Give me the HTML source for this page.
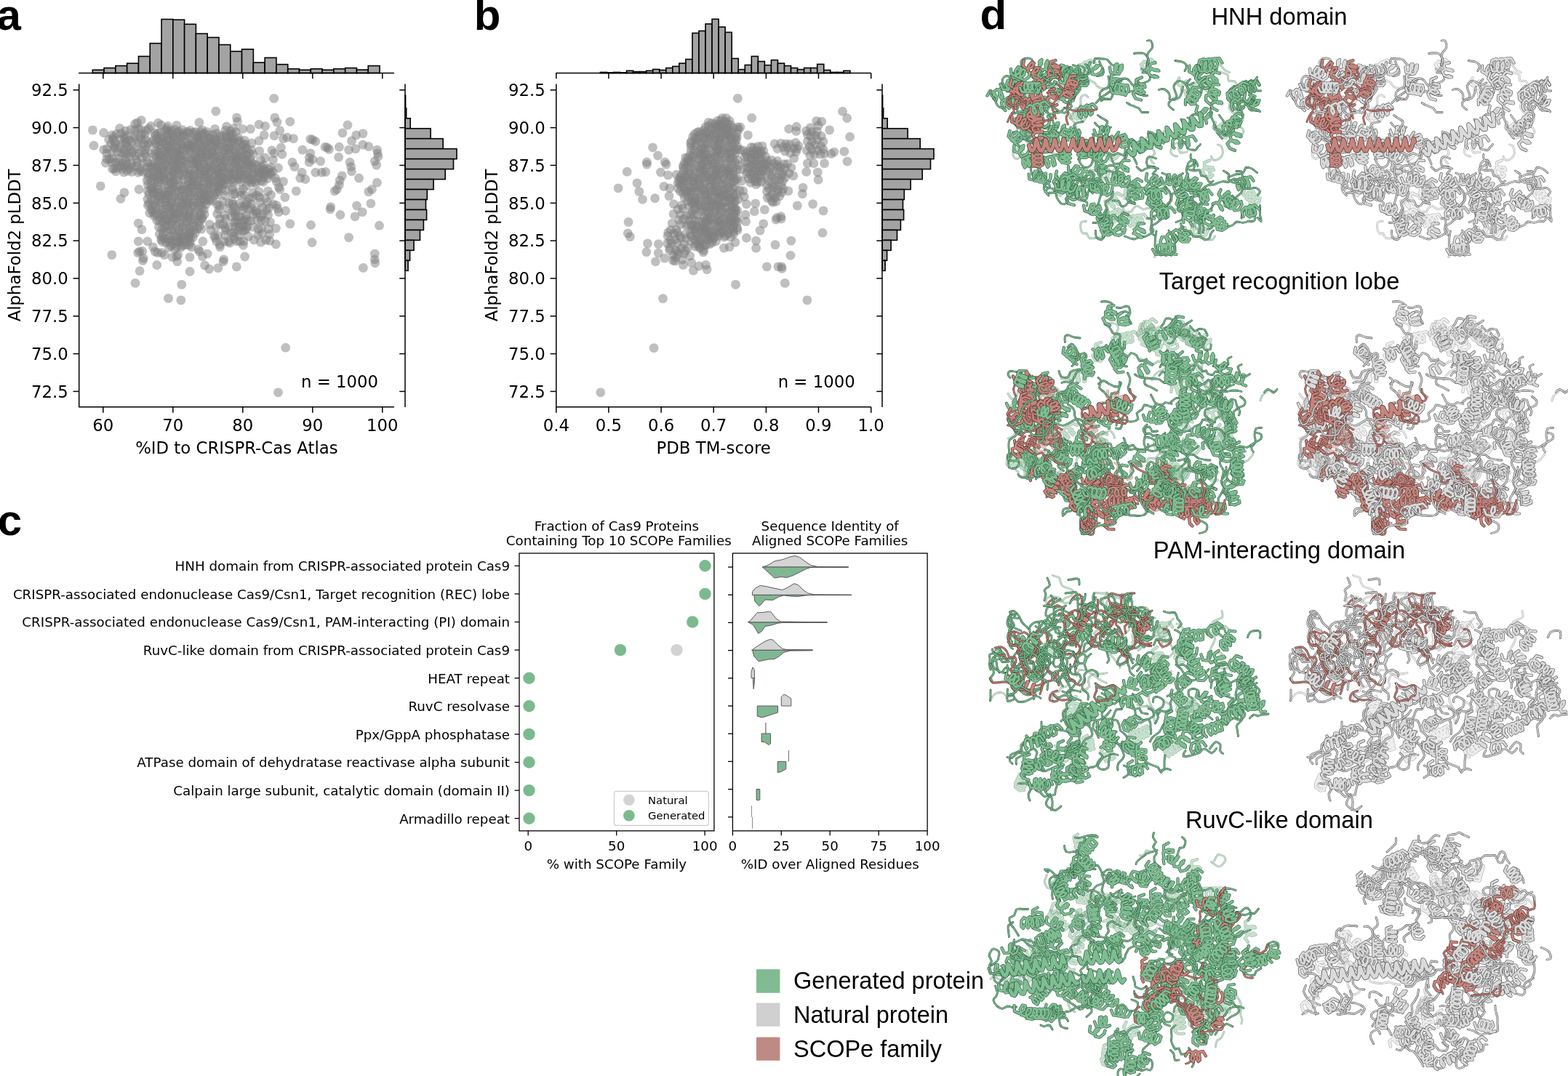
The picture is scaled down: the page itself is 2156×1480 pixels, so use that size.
<!DOCTYPE html>
<html><head><meta charset="utf-8"><title>Figure</title>
<style>html,body{margin:0;padding:0;background:#fff;overflow:hidden;}svg{display:block}.ho{stroke:var(--o);stroke-width:8.4}.hf{stroke:var(--f);stroke-width:5.8}.wo{stroke:var(--o);stroke-width:12.8}.wf{stroke:var(--f);stroke-width:10}.lo{stroke:var(--o);stroke-width:5.6}.lf{stroke:var(--f);stroke-width:3}</style></head>
<body><svg width="2156" height="1480" viewBox="0 0 2156 1480">
<rect width="2156" height="1480" fill="#fff"/>
<text x="-4.4" y="41" style="font-family:'Liberation Sans',Arial,sans-serif;font-weight:bold;font-size:60px">a</text>
<text x="651.8" y="41" style="font-family:'Liberation Sans',Arial,sans-serif;font-weight:bold;font-size:60px">b</text>
<text x="-3.2" y="736" style="font-family:'Liberation Sans',Arial,sans-serif;font-weight:bold;font-size:60px">c</text>
<text x="1347.5" y="40.3" style="font-family:'Liberation Sans',Arial,sans-serif;font-weight:bold;font-size:60px">d</text>
<defs><marker id="m" markerUnits="userSpaceOnUse" markerWidth="14" markerHeight="14" refX="7" refY="7" overflow="visible"><circle cx="7" cy="7" r="6.4" fill="#808080" fill-opacity="0.5"/></marker></defs>
<path d="M220.7 181.7 226.8 178.9 230.5 180.4 234.4 179.6 240.4 178.2 245.4 180.8 251.0 178.7 257.5 181.2 261.6 179.5 268.9 181.3 275.4 181.2 284.4 181.3 309.9 179.4 316.8 180.0 212.5 183.0 216.4 183.8 229.6 186.4 233.5 184.3 237.4 182.8 243.8 183.5 251.1 183.1 253.3 186.2 260.7 183.0 266.2 182.5 271.5 186.3 278.3 185.2 281.3 183.9 286.3 185.5 293.2 185.5 297.7 183.3 305.1 186.4 310.6 185.6 315.9 185.4 318.9 184.5 216.4 190.2 221.1 189.0 224.2 190.2 230.3 190.3 238.2 188.7 241.3 190.9 248.0 187.8 251.0 187.7 259.5 190.3 270.6 189.7 273.5 189.3 286.8 189.7 290.4 190.8 295.5 190.6 302.4 187.9 310.9 189.4 316.4 188.8 321.2 190.7 327.5 188.9 211.0 192.9 218.5 193.8 223.1 194.8 229.9 193.5 234.1 193.8 239.1 194.5 244.2 193.9 249.7 195.5 256.0 195.3 262.4 192.8 266.3 195.5 272.8 192.3 275.3 193.5 280.5 192.7 285.9 194.4 294.2 195.4 297.0 194.6 304.5 192.3 310.8 195.6 313.5 195.6 319.6 193.7 327.4 195.1 329.5 193.5 336.3 193.1 213.8 197.0 219.8 200.1 226.8 197.5 229.5 200.1 236.6 199.2 247.9 198.1 250.8 200.2 258.5 199.6 261.7 199.9 267.0 199.9 273.9 197.8 279.7 200.1 284.0 197.0 290.4 197.4 299.3 197.2 305.8 197.7 317.3 197.2 322.1 196.5 334.5 198.6 337.7 198.3 346.1 196.9 216.4 201.8 221.2 204.5 229.7 203.8 232.8 202.1 238.2 203.0 243.1 202.9 248.9 205.0 257.1 203.3 259.6 205.0 265.3 202.5 269.4 202.6 276.7 203.1 281.0 203.1 285.6 202.2 291.4 202.7 296.6 201.2 303.0 202.0 309.6 203.2 315.6 203.7 320.9 204.6 325.0 202.4 332.8 201.7 337.1 203.7 339.8 204.5 213.3 207.2 218.5 209.1 225.8 208.3 231.4 208.5 236.3 205.8 242.9 208.8 247.1 207.9 253.2 206.1 261.6 206.9 269.6 206.6 275.1 209.7 279.5 207.3 284.8 208.5 291.4 208.3 296.3 206.1 299.7 206.8 307.5 207.0 312.2 205.8 315.6 206.9 323.4 208.6 328.8 207.0 333.6 207.7 345.9 206.6 213.3 212.5 219.0 213.3 221.8 214.1 228.2 210.6 231.6 212.4 238.8 211.7 243.0 211.8 249.1 213.8 253.2 213.5 262.0 211.0 267.7 213.3 273.0 211.6 276.3 212.0 284.2 212.8 287.1 212.2 292.1 210.7 296.8 213.8 303.0 214.2 308.2 211.5 314.7 211.2 319.5 214.3 327.0 213.7 331.3 214.1 338.0 212.7 342.5 210.7 348.0 212.3 215.0 216.7 218.8 215.8 224.4 218.8 230.9 216.0 238.0 219.1 241.5 215.7 245.9 215.5 256.9 216.2 263.6 218.7 269.7 216.8 273.8 217.2 279.0 216.5 283.2 216.3 292.2 215.7 295.7 217.7 305.6 216.1 311.5 216.9 319.1 218.5 324.2 215.2 326.3 218.0 335.1 217.0 339.3 215.1 343.9 218.9 211.0 223.5 218.0 221.0 221.3 220.8 228.8 222.6 232.1 220.1 239.1 222.2 244.0 220.7 250.2 219.9 254.4 221.7 262.5 222.4 267.6 221.7 270.4 220.8 278.7 222.6 281.5 219.9 287.6 222.5 292.7 220.9 299.1 223.5 302.7 220.0 308.6 221.5 315.4 220.6 321.2 222.8 325.4 220.6 332.7 221.1 337.5 220.7 340.5 222.9 346.2 223.6 207.6 226.1 216.3 228.0 221.1 228.5 227.3 225.8 229.7 228.2 237.3 224.6 242.4 226.0 246.6 225.8 251.2 224.5 257.0 225.9 265.1 225.0 270.6 225.3 273.6 227.8 280.8 226.2 289.8 228.2 294.5 226.0 302.7 224.6 306.2 227.7 313.0 224.7 324.4 225.5 329.1 228.1 332.9 225.6 340.8 227.0 343.4 227.4 349.0 225.6 353.1 227.5 362.2 227.0 206.3 231.1 213.7 229.9 218.6 232.1 224.1 232.3 232.9 230.6 240.2 229.5 243.2 232.2 248.8 229.4 253.4 231.4 259.9 233.1 267.6 233.1 270.5 229.5 275.2 231.2 283.1 231.0 286.6 230.8 293.5 231.9 299.4 232.6 304.5 229.7 310.6 230.4 314.9 230.7 321.0 230.0 324.4 230.2 329.4 232.7 336.5 230.5 341.2 233.1 347.1 230.1 353.7 231.8 359.8 229.6 363.1 232.5 370.0 232.8 372.2 230.4 211.2 236.2 216.4 235.3 221.6 235.6 224.6 237.0 232.7 234.3 236.7 236.3 240.6 235.3 245.7 234.7 251.5 236.2 261.4 235.2 273.4 234.7 280.7 236.0 283.2 234.3 289.9 236.1 296.3 234.2 299.8 236.6 306.2 235.0 311.2 237.7 316.6 236.1 322.2 235.5 329.6 237.8 333.0 234.6 342.3 237.5 349.4 237.1 354.8 237.4 360.4 234.5 364.0 236.1 371.9 237.5 375.1 236.3 205.2 239.7 212.1 242.2 215.9 240.5 224.0 242.4 227.0 239.0 235.4 242.4 239.0 238.7 246.1 240.1 251.4 241.0 256.5 239.2 261.8 239.4 265.6 241.9 272.7 239.3 275.7 240.1 282.3 240.1 286.1 239.5 293.9 242.1 296.6 240.8 304.9 238.7 315.0 240.7 320.5 239.8 325.1 240.9 330.5 241.2 336.0 240.3 339.7 241.0 347.0 239.5 353.5 241.6 357.7 239.2 363.1 239.0 367.1 240.3 372.4 240.3 204.0 243.4 209.9 243.5 215.7 246.3 220.2 243.4 225.5 244.7 232.7 243.7 237.8 247.2 242.7 246.5 245.9 247.1 252.5 247.0 259.6 243.9 264.5 246.9 267.0 244.6 275.2 243.8 281.1 244.3 286.2 243.8 290.3 246.9 301.1 244.5 304.7 243.9 310.6 247.0 318.0 246.8 321.4 246.3 326.6 245.3 334.1 244.6 340.4 245.4 344.6 246.7 348.1 247.2 355.6 244.8 361.7 244.3 367.9 245.5 202.2 248.1 207.9 248.9 212.6 251.8 217.8 250.5 222.1 247.9 226.4 248.5 234.1 249.6 239.1 251.5 259.1 249.3 264.9 250.2 271.8 248.7 277.3 249.8 280.8 251.6 286.6 248.5 291.4 250.4 299.9 251.0 303.4 248.9 307.3 250.5 320.6 249.7 341.2 248.8 345.3 251.0 350.5 250.1 359.6 248.5 362.0 250.3 203.2 253.8 207.5 256.1 215.9 255.4 226.5 254.4 231.9 254.4 235.2 253.0 246.5 255.6 253.3 255.9 258.8 253.6 263.5 254.3 269.9 254.7 273.2 255.1 286.4 252.6 289.4 253.5 296.7 256.3 302.1 253.9 308.0 253.9 207.4 260.2 210.3 259.6 216.9 260.5 224.1 260.8 235.3 261.0 237.5 258.1 242.9 257.4 251.2 260.5 255.8 260.5 261.2 258.4 264.4 257.6 272.5 258.1 276.1 258.9 280.3 258.3 286.8 260.1 292.5 258.5 300.3 259.2 305.2 259.7 203.1 262.8 210.1 263.9 213.2 264.5 218.4 265.1 226.3 265.1 231.4 263.3 235.9 263.5 243.3 262.3 248.7 262.0 259.5 263.9 262.8 265.4 267.7 263.8 274.3 264.9 280.5 264.5 284.3 263.2 288.9 265.3 296.4 264.9 299.8 263.7 205.1 267.4 211.6 266.7 217.0 269.8 223.6 268.6 228.8 268.4 232.2 269.0 238.6 269.6 246.1 268.3 250.1 269.6 254.9 267.5 261.5 270.1 267.1 269.4 272.8 269.3 277.4 268.4 281.5 269.1 286.0 268.3 294.2 269.4 298.9 267.6 202.8 274.0 208.9 274.3 213.2 275.2 219.5 271.5 224.6 272.9 229.0 272.9 236.0 274.1 241.1 272.3 246.0 274.2 254.3 273.4 256.8 274.5 267.2 274.4 275.4 273.8 279.4 273.5 283.8 275.1 289.7 273.8 204.7 279.7 215.8 276.5 221.8 279.0 227.6 276.6 235.2 279.1 244.9 279.1 250.5 279.5 256.4 279.3 259.4 278.7 266.1 278.9 271.2 279.5 277.0 277.0 281.2 276.5 287.6 276.2 292.9 276.5 203.4 282.5 209.4 283.7 213.6 282.4 219.8 282.8 226.8 281.8 232.2 282.2 236.3 281.7 241.8 284.5 247.7 283.8 251.8 281.9 257.1 283.0 263.9 283.8 266.9 283.5 275.7 282.8 283.0 281.4 207.9 287.6 213.7 287.1 223.2 289.0 230.1 287.2 233.3 285.7 239.6 286.1 247.8 288.0 253.7 289.2 259.0 288.8 272.3 286.3 277.8 286.0 280.4 288.4 205.7 293.1 209.6 291.1 213.0 293.9 220.9 293.3 224.9 292.4 232.8 293.3 236.7 291.2 241.4 293.5 246.6 292.7 252.9 293.6 261.3 291.0 268.4 292.3 275.4 293.5 211.6 296.7 216.0 294.8 224.8 296.1 234.8 295.3 239.4 296.0 244.5 294.7 248.0 298.6 256.7 296.6 260.9 295.7 267.1 296.3 273.2 297.7 278.1 298.5 281.2 294.8 215.7 303.1 220.8 300.5 225.9 302.4 229.3 300.6 235.4 299.8 241.7 300.0 253.2 299.4 258.8 300.1 261.5 303.0 267.6 303.1 275.6 302.9 278.1 301.1 219.0 304.2 223.7 305.2 230.1 304.1 234.9 305.4 237.6 304.0 245.8 306.1 248.6 305.7 256.9 304.9 264.7 307.1 272.3 304.8 218.4 312.2 227.3 310.7 231.0 310.8 236.5 308.8 243.6 309.6 251.5 311.9 256.0 309.1 266.8 311.1 274.4 310.8 222.6 315.4 226.3 313.9 235.5 316.5 240.8 315.9 245.7 316.9 255.8 314.4 261.3 314.4 266.2 317.0 271.9 314.4 276.9 315.1 219.3 322.0 224.7 321.1 229.6 318.3 237.8 319.8 246.9 321.0 251.0 318.9 259.8 321.0 261.9 319.4 268.1 320.7 222.5 326.3 233.9 324.7 240.7 325.8 244.6 326.7 249.9 324.8 256.0 324.3 260.1 325.1 265.4 326.5 221.5 329.7 226.2 328.2 230.9 329.6 235.4 330.0 241.9 331.4 247.4 329.0 251.0 328.0 259.0 327.8 261.7 328.1 223.1 332.5 228.4 333.6 233.2 332.3 237.5 335.4 243.8 333.0 248.6 333.2 254.2 332.2 261.3 333.4 235.5 338.3 243.4 339.8 248.7 340.2 251.1 337.8 320.3 281.0 332.0 284.0 336.3 283.9 319.9 290.2 324.4 289.9 333.7 288.7 342.2 287.9 323.7 297.4 330.5 298.6 338.6 295.8 324.1 304.9 335.4 303.0 340.7 304.3 323.4 312.4 328.7 311.8 339.3 311.7 327.3 316.9 333.5 317.8 127.4 178.9 142.5 182.5 129.0 200.2 142.5 205.8 146.8 218.6 145.3 224.0 138.3 255.9 170.9 264.9 166.0 273.3 191.1 260.5 192.7 235.0 170.2 236.9 296.8 153.0 194.2 165.4 217.5 169.2 242.9 172.3 273.9 168.5 278.1 178.9 295.5 177.4 311.5 174.0 190.3 307.1 195.0 315.7 190.3 332.0 202.8 332.0 191.9 346.0 197.3 355.3 153.8 350.6 261.0 353.7 274.3 346.0 285.1 349.1 307.7 356.8 289.8 316.5 302.2 283.0 310.0 262.1 320.1 257.4 319.3 277.6 320.9 266.7 153.8 185.9 156.2 188.7 173.3 185.9 170.9 187.8 157.7 200.7 157.4 203.3 176.4 201.5 182.6 207.7 170.2 210.8 177.9 215.5 188.8 201.5 195.0 184.4 201.2 179.7 204.3 176.6 190.3 176.6 191.9 189.0 201.2 201.5 207.4 210.8 154.6 232.5 160.8 231.0 159.3 235.7 168.6 232.5 174.8 226.3 181.0 229.4 188.8 223.2 195.0 217.0 202.8 223.2 221.4 172.0 229.2 176.6 230.7 173.5 213.7 185.9 185.7 170.4 188.8 168.8 207.4 173.5 167.0 198.4 173.3 195.3 181.0 195.3 163.9 223.2 173.3 217.0 185.7 213.9 195.0 207.7 199.7 192.2 207.4 195.3 209.0 229.4 294.5 324.2 297.6 332.0 302.2 336.7 310.0 316.5 317.8 321.1 310.0 300.9 317.8 297.8 322.4 293.1 302.2 300.9 306.9 308.7 288.2 308.7 278.9 332.0 272.7 342.9 263.4 339.8 255.6 336.7 210.5 339.8 216.8 347.5 226.1 350.6 237.0 353.7 244.7 350.6 376.7 135.4 325.5 161.9 326.5 167.3 377.8 161.9 380.9 168.1 398.8 167.3 333.5 177.4 344.4 177.4 356.1 171.2 364.6 173.5 356.1 193.7 363.1 185.9 377.0 186.7 384.8 179.7 389.5 190.6 394.9 189.0 403.5 190.6 429.9 192.2 433.8 194.5 426.8 191.4 450.1 203.0 452.4 205.4 447.0 202.2 466.4 202.2 465.6 216.2 478.0 172.0 471.0 182.8 489.7 185.9 499.0 183.6 483.5 193.7 479.6 206.1 488.9 204.6 499.0 199.1 506.8 201.5 518.4 206.1 519.2 210.8 520.0 215.5 515.3 221.7 517.7 227.1 481.1 223.2 482.7 229.4 483.5 235.7 493.6 245.0 518.4 251.2 511.4 260.5 506.8 263.6 509.9 279.9 490.5 283.0 498.2 291.6 488.1 297.8 467.9 295.5 454.7 284.6 454.0 287.7 463.3 260.5 460.2 262.8 466.4 254.3 467.2 248.1 470.3 241.9 427.5 309.5 429.1 333.5 479.6 326.6 521.5 310.2 515.3 349.1 515.3 356.8 407.3 262.8 398.8 307.9 379.4 335.9 370.8 331.2 369.3 314.9 355.3 314.9 336.6 353.0 335.1 332.0 329.7 332.0 379.4 314.1 371.6 305.6 364.6 304.0 361.5 294.7 353.0 293.1 350.6 290.8 366.2 289.3 392.6 290.0 383.3 291.6 375.5 280.7 380.2 282.3 381.7 286.9 391.8 271.4 384.8 260.5 368.5 262.8 364.6 272.9 356.8 271.4 347.5 271.4 335.9 268.3 330.4 263.6 323.4 266.7 338.2 280.7 338.2 300.9 333.5 305.6 327.3 307.1 336.6 316.5 339.0 314.9 321.1 319.6 321.9 328.9 401.9 223.2 405.0 229.4 415.1 237.2 412.8 245.0 419.8 246.5 415.9 206.1 426.8 210.8 425.2 217.0 429.9 219.3 440.7 221.7 425.2 223.2 433.8 237.2 442.3 237.2 447.7 236.4 389.5 249.6 380.2 249.6 383.3 257.4 378.6 245.0 382.5 231.0 375.5 220.1 377.0 210.8 387.9 212.3 386.4 203.0 373.9 206.9 356.8 207.7 358.4 220.1 364.6 217.0 321.1 176.6 324.2 181.3 189.6 347.6 195.8 345.5 196.4 358.4 192.1 372.7 186.0 389.4 213.1 346.1 222.3 347.6 215.8 364.5 231.5 410.4 248.8 412.9 249.8 391.4 261.1 373.5 243.7 359.8 242.7 352.7 260.0 337.3 278.4 352.7 281.5 364.9 287.6 370.0 299.8 368.6 307.0 359.8 325.3 366.9 334.5 337.3 295.8 327.1 314.1 332.2 515.8 361.8 499.4 368.4 392.7 478.2 382.5 539.8 240.7 342.4 232.5 340.4 164.6 176.5 172.6 179.9 179.9 178.2 185.4 179.1 193.8 178.2 160.3 184.4 166.3 183.3 184.4 186.6 199.3 185.5 149.5 191.9 155.4 191.8 165.6 191.4 171.8 190.7 178.1 193.0 184.4 190.2 194.5 191.3 152.8 197.6 158.5 196.7 173.4 199.4 190.1 197.0 197.5 198.2 203.9 198.3 147.2 204.5 163.4 202.8 171.0 205.9 179.0 205.3 199.7 205.8 146.8 211.2 153.6 209.5 161.1 209.2 166.4 210.5 173.1 211.3 181.4 210.2 190.8 210.7 199.1 211.5 150.4 218.9 154.9 218.4 163.1 218.5 187.2 219.3 201.7 215.9 153.2 223.0 158.8 223.7 168.9 224.3 173.5 222.0 180.9 225.2 196.7 224.7 157.0 231.7 165.5 228.5 170.6 229.1 178.8 231.9 187.5 228.6 192.5 231.7 202.0 230.0 175.4 235.1 181.2 236.4 189.9 237.3 197.1 236.4 203.0 237.3 301.8 238.9 299.2 246.3 307.8 245.5 316.2 243.3 328.8 246.9 300.9 256.3 311.9 252.5 331.1 251.1 339.0 255.5 351.7 253.0 319.6 261.0 334.5 260.1 347.5 264.9 356.1 263.6 310.0 269.2 331.4 268.8 342.6 272.8 352.9 268.8 372.6 268.1 298.9 281.6 306.0 277.1 315.1 279.5 329.3 280.1 339.5 277.6 346.0 280.8 357.9 278.7 368.1 278.3 301.0 287.9 312.6 286.5 321.8 285.0 344.9 285.3 352.7 289.3 361.0 285.5 369.9 285.8 298.6 294.2 308.9 296.2 327.3 297.6 348.4 295.2 358.3 298.2 368.7 295.5 302.1 307.9 321.9 306.2 344.9 303.6 353.5 302.8 359.2 303.1 297.3 312.0 309.6 313.1 314.9 312.0 335.0 311.1 348.7 312.4 359.9 313.9 299.6 324.0 309.4 323.5 321.4 324.8 329.4 323.0 341.5 325.1 354.7 323.4 360.3 321.1 370.6 322.2 308.6 332.1 315.8 334.2 325.3 331.7 349.2 329.9 358.5 333.2 365.7 330.2 302.6 339.6" fill="none" stroke="none" marker-start="url(#m)" marker-mid="url(#m)" marker-end="url(#m)"/>
<path d="M1014.3 135.3 993.0 162.4 986.5 166.1 991.2 165.7 997.1 167.4 1003.2 166.3 974.2 168.3 978.6 169.4 983.7 170.3 987.7 171.9 991.7 171.0 1000.4 170.1 1004.7 172.0 970.0 174.6 974.1 173.2 982.2 174.8 985.9 174.8 992.3 173.6 995.1 175.9 1001.5 175.2 1008.3 176.2 961.5 181.2 968.0 179.0 972.4 180.4 978.9 177.8 983.8 178.7 988.5 178.2 993.2 178.6 998.5 177.3 1003.1 179.5 955.1 184.3 958.8 182.0 964.3 183.3 970.7 183.0 974.8 184.4 981.7 183.2 985.3 184.1 992.8 182.6 998.3 184.7 1001.2 184.5 1006.3 182.1 1013.3 183.3 952.7 188.1 956.5 190.0 961.7 188.4 967.3 189.7 973.2 189.4 977.4 186.6 983.8 188.6 989.5 189.5 992.2 187.3 997.3 189.7 1002.7 186.8 1010.6 188.7 1013.1 189.1 950.7 194.3 958.6 193.1 962.6 195.0 969.0 192.1 974.4 192.0 981.9 193.2 985.8 192.7 989.3 192.2 997.8 194.2 1003.1 192.0 1005.8 191.2 1012.4 192.5 949.5 196.9 956.8 197.2 966.3 198.8 971.7 198.4 979.0 198.0 982.9 199.3 988.2 199.1 991.9 197.3 1005.8 195.9 1010.0 196.3 950.0 200.8 955.6 201.0 965.7 204.0 969.5 202.8 974.2 203.8 984.0 203.0 989.2 203.5 995.5 201.1 1002.0 201.5 1007.2 200.8 1013.9 201.5 950.2 207.0 955.0 206.6 962.8 206.5 967.9 205.2 979.5 208.8 984.9 206.9 987.6 206.2 994.7 206.8 1000.7 205.1 1004.3 208.2 1010.0 206.9 1013.3 205.3 949.1 213.2 953.3 213.1 959.9 209.6 963.9 211.2 968.9 212.3 973.9 212.5 986.0 209.7 991.3 212.5 996.8 211.2 999.8 211.4 1005.4 212.0 1010.8 211.7 945.3 217.3 952.8 215.9 963.4 214.4 967.2 216.1 971.0 215.8 976.5 216.1 983.1 215.4 987.2 215.6 998.0 217.4 1004.3 217.5 1007.7 217.7 946.8 220.1 954.0 219.7 960.8 218.9 964.9 219.5 970.2 221.7 976.0 218.8 979.5 220.9 987.7 218.7 991.5 221.3 1002.9 220.4 1014.0 220.2 941.4 223.7 945.4 223.7 950.1 224.0 955.9 227.0 963.9 226.3 967.1 225.1 973.6 226.8 978.8 225.7 981.9 225.6 989.8 226.3 998.4 223.8 1006.2 225.8 1010.6 223.7 939.4 230.9 943.7 229.5 950.0 230.9 961.1 229.9 966.4 228.2 971.7 230.9 979.4 228.5 985.6 228.7 991.0 231.4 997.1 230.6 1001.2 230.9 1008.1 230.5 940.1 234.7 947.4 235.5 954.7 232.8 963.2 234.0 967.6 234.1 977.2 235.7 983.6 233.5 986.8 233.4 994.5 234.1 999.7 235.5 1002.8 235.0 1007.8 235.6 1013.7 233.4 937.0 240.5 943.8 240.5 948.2 238.9 955.8 238.9 961.2 237.7 965.9 237.6 970.0 236.9 973.9 240.7 980.3 240.1 984.8 238.3 989.5 239.1 997.8 239.0 1001.2 240.6 1008.5 239.6 934.9 244.1 941.2 243.0 946.1 244.2 952.9 243.5 956.1 245.4 960.1 244.8 968.0 243.7 972.3 244.5 979.4 244.4 984.1 241.6 987.7 242.0 995.5 245.1 1004.6 241.7 1009.2 244.5 933.8 247.2 938.2 247.8 945.3 248.7 949.9 248.8 953.5 249.9 960.1 248.8 963.7 246.7 970.2 249.4 976.3 247.5 979.0 248.1 987.3 246.7 992.0 246.8 1000.9 247.6 1008.8 249.9 1011.0 247.3 931.9 251.5 934.7 252.4 939.2 251.7 945.6 252.2 955.4 254.3 961.7 254.0 967.8 253.8 978.8 252.6 983.4 253.4 989.4 251.8 993.2 254.3 999.1 251.8 1004.8 251.7 932.2 259.0 937.1 256.2 941.6 257.5 949.7 258.0 953.6 258.5 957.7 256.5 965.1 259.1 970.4 258.0 976.3 256.8 982.2 258.2 985.1 256.8 995.1 258.7 1001.8 257.3 1007.6 258.9 1010.8 256.6 935.4 263.3 941.4 262.2 945.6 262.1 950.4 263.2 957.8 263.2 960.5 262.5 968.2 261.9 974.1 263.4 978.8 263.1 983.7 263.4 986.9 262.7 994.5 262.3 998.1 260.1 1004.7 263.1 939.3 265.9 944.2 264.7 950.0 265.7 962.8 266.2 970.1 267.7 973.3 267.8 986.3 265.8 990.4 266.7 995.2 267.6 1000.5 267.8 1008.2 266.6 941.2 271.9 946.4 270.6 951.4 271.4 955.5 272.5 963.9 272.2 969.1 270.3 977.7 269.6 982.9 271.8 989.3 270.9 993.1 269.8 998.6 270.2 1003.1 272.0 1009.7 270.8 945.3 276.6 950.5 277.3 954.9 276.5 957.5 274.4 962.6 277.1 970.8 276.1 974.2 275.0 979.1 276.2 987.7 274.8 995.8 277.2 1002.9 275.4 1005.4 274.0 1010.9 276.7 951.6 280.2 955.5 279.2 960.0 281.8 968.1 282.0 974.4 280.0 978.7 279.7 984.4 281.6 987.0 278.3 992.6 280.6 998.5 278.2 1005.6 281.4 947.5 283.8 955.6 284.3 963.1 283.6 969.7 285.1 975.7 285.6 980.2 283.1 986.7 283.0 991.0 284.4 997.1 285.7 1000.6 285.4 1007.7 284.7 1010.8 286.4 951.9 290.4 954.8 287.8 963.8 290.6 965.4 287.6 971.5 291.1 976.7 290.1 984.8 289.9 990.1 288.4 1006.2 290.2 1013.6 289.4 948.9 295.3 954.0 294.5 959.6 295.2 974.8 292.0 981.4 292.1 987.1 295.2 990.9 292.5 997.0 292.8 1001.4 292.4 1008.9 294.2 1011.7 292.4 951.7 300.5 968.0 299.0 972.6 298.4 977.4 299.0 983.7 300.2 989.3 299.8 995.4 299.9 999.9 296.7 1005.0 300.0 1009.3 300.1 1013.6 300.3 947.0 302.9 955.9 303.8 961.0 304.2 965.9 305.1 970.9 302.3 974.2 302.8 978.6 302.1 987.3 304.8 990.4 304.2 997.5 304.7 1002.8 303.3 1005.4 304.5 1011.5 303.7 946.2 309.5 950.9 309.4 957.4 309.6 966.4 309.4 970.6 306.8 978.7 309.7 981.8 307.5 989.2 308.5 994.7 308.8 1002.4 308.5 1008.5 306.8 953.4 310.9 957.7 312.3 966.4 313.1 969.0 313.4 973.9 310.7 986.5 312.1 992.0 310.7 998.1 311.7 1008.3 311.2 1013.7 313.6 952.0 315.7 955.2 315.3 963.8 316.5 967.8 317.2 971.4 315.2 975.9 318.3 981.6 318.8 987.9 317.8 992.3 318.1 998.0 316.4 1004.4 315.4 1008.6 318.1 1014.1 316.5 949.2 321.4 955.4 319.7 959.9 322.9 963.5 319.6 969.6 320.0 975.0 322.4 978.8 320.0 985.7 320.2 990.0 321.3 994.8 319.8 1001.1 321.4 1008.7 321.7 950.3 324.8 958.1 325.0 968.9 326.0 973.4 324.4 977.6 325.4 981.9 326.8 987.9 324.6 995.7 326.0 997.7 324.2 1004.9 326.2 950.5 331.7 955.4 330.2 960.9 329.4 963.5 331.1 971.5 329.0 974.0 328.8 980.2 329.3 984.5 331.7 955.9 334.9 961.3 336.0 965.3 334.8 971.2 336.6 975.8 335.7 955.8 339.0 961.0 339.5 962.8 341.5 968.3 337.9 967.7 344.4 1032.9 202.5 1036.6 202.9 1042.4 201.3 1048.0 200.8 1028.4 208.4 1035.1 208.0 1040.2 207.4 1045.9 208.4 1049.9 207.8 1025.5 211.0 1032.5 212.1 1038.1 212.9 1042.8 210.9 1046.6 211.9 1024.0 215.9 1027.5 215.1 1033.3 217.1 1038.3 215.7 1044.6 217.2 1052.3 215.1 1024.9 222.6 1033.0 220.2 1036.6 221.4 1042.0 221.1 1048.0 220.6 1027.8 224.8 1034.7 226.7 1039.1 226.9 1046.0 225.6 1050.8 225.1 1027.3 231.0 1030.2 229.8 1037.6 230.5 1043.2 230.0 1048.9 231.7 1027.9 236.2 1035.2 236.5 1039.0 234.4 1045.8 235.8 1049.7 234.7 1026.3 239.2 1032.0 239.6 1036.3 240.1 1042.7 241.0 1046.6 241.0 1029.2 245.7 1034.7 246.3 1038.9 244.6 1045.8 244.4 1032.2 251.3 1037.9 249.3 1042.0 250.5 1046.7 250.2 1039.7 253.7 1055.2 221.0 1060.6 220.1 1068.8 221.5 1052.7 227.1 1056.7 225.7 1064.6 225.2 1069.5 226.6 1078.1 225.7 1082.5 225.5 1053.3 232.9 1059.7 230.8 1068.3 230.4 1072.8 230.2 1079.5 231.6 1088.0 230.5 1057.6 236.6 1063.1 236.3 1072.2 235.9 1076.6 237.8 1084.9 238.3 1054.4 244.1 1061.3 242.1 1067.4 243.4 1074.7 241.6 1079.6 244.1 1057.0 248.3 1065.7 247.3 1071.8 247.8 1076.3 249.1 1054.3 254.9 1062.1 254.2 1066.1 254.8 1074.3 255.2 1057.4 259.2 1063.9 258.4 1070.0 260.8 1077.0 260.0 1061.9 266.7 1068.2 266.0 1075.0 264.5 1058.7 270.4 1065.3 271.9 1071.9 269.8 1061.2 276.4 1067.0 277.3 1065.1 197.7 1073.8 197.2 1080.8 198.0 1086.1 198.5 1093.9 196.2 1068.9 204.5 1076.6 202.5 1082.7 203.0 1091.5 204.0 1096.0 204.6 1079.4 208.2 1086.7 210.4 1094.5 209.0 1114.3 175.7 1108.5 180.1 1116.4 181.4 1123.5 180.8 1114.7 187.4 1121.5 186.2 1129.4 187.3 1110.2 194.8 1116.5 194.9 1123.5 192.2 1131.9 194.9 1113.2 201.5 1120.8 199.1 1128.5 201.1 1109.2 207.0 1116.2 206.0 1124.2 206.7 1131.8 205.4 1113.8 213.9 1119.9 212.4 1128.2 212.2 929.9 315.7 918.7 319.8 926.8 321.4 931.4 319.9 942.2 322.3 921.6 330.5 928.4 329.6 936.0 327.4 943.7 328.2 917.5 334.7 923.7 334.4 931.4 334.3 940.3 335.5 920.8 344.3 929.0 344.2 936.9 341.2 945.4 341.0 925.8 351.2 932.6 348.8 940.7 348.7 929.3 354.3 938.4 357.2 926.5 280.7 937.3 282.4 932.1 287.8 938.6 286.6 926.0 294.4 935.8 295.1 943.4 296.7 933.6 302.6 939.8 301.3 935.4 308.5 943.4 310.6 897.5 202.8 904.5 214.0 889.4 223.0 889.4 226.1 914.3 223.0 916.1 226.1 908.4 237.0 918.5 240.9 930.1 240.1 862.2 236.2 850.1 258.8 876.0 251.8 878.8 263.4 883.5 274.3 900.6 272.7 913.0 256.4 920.8 258.8 920.0 269.6 864.1 305.4 863.3 320.9 866.4 325.6 890.5 334.9 888.9 346.6 905.3 335.7 905.3 348.1 901.4 359.8 913.8 355.1 920.8 341.1 925.5 358.2 931.7 345.8 939.4 364.4 953.4 372.2 961.2 366.0 970.5 364.4 972.1 370.6 1003.1 339.6 995.4 341.1 1014.0 174.9 1017.1 205.9 1017.1 261.9 998.5 162.4 942.5 216.8 939.4 227.7 1010.9 333.3 1014.0 305.4 1015.6 274.3 1033.7 162.2 1017.9 175.0 1015.5 178.1 1028.4 185.8 1021.8 206.8 1084.7 177.3 1095.2 174.2 1094.8 180.4 1122.7 166.4 1129.7 167.2 1125.1 172.6 1140.6 178.8 1158.5 153.2 1164.7 162.5 1168.6 188.2 1160.8 208.4 1165.0 222.0 1146.8 209.1 1142.9 211.5 1133.6 224.7 1133.6 211.5 1110.3 185.1 1110.3 224.7 1118.9 224.7 1108.8 236.3 1124.3 237.1 1125.1 247.2 1104.1 258.1 1103.3 266.6 1096.3 282.9 1117.6 280.6 1132.1 289.9 1131.0 320.2 1087.8 331.1 1087.0 351.3 1066.0 336.6 1039.6 331.1 1039.6 341.2 1026.4 327.2 1045.1 317.1 1049.7 307.8 1073.8 297.7 1068.4 299.3 1062.9 278.3 1054.4 263.5 1055.2 272.1 1083.9 262.7 1090.9 241.8 1038.8 279.8 1026.4 280.6 1037.3 290.7 1024.9 295.4 1025.6 304.7 1051.3 288.4 1021.8 262.7 1023.3 270.5 1054.4 366.8 1069.9 366.8 1074.6 366.8 1091.7 217.7 1097.9 200.6 1015.5 227.0 1018.6 233.2 1014.0 245.7 1020.2 248.8 1012.4 267.4 1009.3 279.8 1010.9 289.2 1007.8 314.0 924.2 307.1 922.1 316.3 918.1 324.5 934.4 324.5 928.3 359.2 950.7 361.2 948.7 352.0 967.0 346.9 942.6 344.9 1067.0 302.0 1074.2 301.0 1075.2 369.4 1079.3 389.4 1011.5 391.4 1109.9 412.9 911.5 410.6 899.1 478.6 825.8 539.8 979.3 333.7" fill="none" stroke="none" marker-start="url(#m)" marker-mid="url(#m)" marker-end="url(#m)"/>
<path d="M108.7,115.5 V559.8 H542.0" fill="none" stroke="#000" stroke-width="1.5"/>
<line x1="100.5" y1="123.8" x2="108.7" y2="123.8" stroke="#000" stroke-width="1.5"/>
<text x="93.7" y="132.0" text-anchor="end" style="font-family:'DejaVu Sans',sans-serif;font-size:22.8px">92.5</text>
<line x1="549.3" y1="123.8" x2="557.0" y2="123.8" stroke="#000" stroke-width="1.5"/>
<line x1="100.5" y1="175.6" x2="108.7" y2="175.6" stroke="#000" stroke-width="1.5"/>
<text x="93.7" y="183.8" text-anchor="end" style="font-family:'DejaVu Sans',sans-serif;font-size:22.8px">90.0</text>
<line x1="549.3" y1="175.6" x2="557.0" y2="175.6" stroke="#000" stroke-width="1.5"/>
<line x1="100.5" y1="227.4" x2="108.7" y2="227.4" stroke="#000" stroke-width="1.5"/>
<text x="93.7" y="235.6" text-anchor="end" style="font-family:'DejaVu Sans',sans-serif;font-size:22.8px">87.5</text>
<line x1="549.3" y1="227.4" x2="557.0" y2="227.4" stroke="#000" stroke-width="1.5"/>
<line x1="100.5" y1="279.3" x2="108.7" y2="279.3" stroke="#000" stroke-width="1.5"/>
<text x="93.7" y="287.5" text-anchor="end" style="font-family:'DejaVu Sans',sans-serif;font-size:22.8px">85.0</text>
<line x1="549.3" y1="279.3" x2="557.0" y2="279.3" stroke="#000" stroke-width="1.5"/>
<line x1="100.5" y1="331.1" x2="108.7" y2="331.1" stroke="#000" stroke-width="1.5"/>
<text x="93.7" y="339.3" text-anchor="end" style="font-family:'DejaVu Sans',sans-serif;font-size:22.8px">82.5</text>
<line x1="549.3" y1="331.1" x2="557.0" y2="331.1" stroke="#000" stroke-width="1.5"/>
<line x1="100.5" y1="382.9" x2="108.7" y2="382.9" stroke="#000" stroke-width="1.5"/>
<text x="93.7" y="391.1" text-anchor="end" style="font-family:'DejaVu Sans',sans-serif;font-size:22.8px">80.0</text>
<line x1="549.3" y1="382.9" x2="557.0" y2="382.9" stroke="#000" stroke-width="1.5"/>
<line x1="100.5" y1="434.8" x2="108.7" y2="434.8" stroke="#000" stroke-width="1.5"/>
<text x="93.7" y="442.9" text-anchor="end" style="font-family:'DejaVu Sans',sans-serif;font-size:22.8px">77.5</text>
<line x1="549.3" y1="434.8" x2="557.0" y2="434.8" stroke="#000" stroke-width="1.5"/>
<line x1="100.5" y1="486.6" x2="108.7" y2="486.6" stroke="#000" stroke-width="1.5"/>
<text x="93.7" y="494.8" text-anchor="end" style="font-family:'DejaVu Sans',sans-serif;font-size:22.8px">75.0</text>
<line x1="549.3" y1="486.6" x2="557.0" y2="486.6" stroke="#000" stroke-width="1.5"/>
<line x1="100.5" y1="538.4" x2="108.7" y2="538.4" stroke="#000" stroke-width="1.5"/>
<text x="93.7" y="546.6" text-anchor="end" style="font-family:'DejaVu Sans',sans-serif;font-size:22.8px">72.5</text>
<line x1="549.3" y1="538.4" x2="557.0" y2="538.4" stroke="#000" stroke-width="1.5"/>
<line x1="141.8" y1="559.8" x2="141.8" y2="567.8" stroke="#000" stroke-width="1.5"/>
<text x="141.8" y="593.2" text-anchor="middle" style="font-family:'DejaVu Sans',sans-serif;font-size:22.8px">60</text>
<line x1="141.8" y1="100.5" x2="141.8" y2="108.3" stroke="#000" stroke-width="1.5"/>
<line x1="237.8" y1="559.8" x2="237.8" y2="567.8" stroke="#000" stroke-width="1.5"/>
<text x="237.8" y="593.2" text-anchor="middle" style="font-family:'DejaVu Sans',sans-serif;font-size:22.8px">70</text>
<line x1="237.8" y1="100.5" x2="237.8" y2="108.3" stroke="#000" stroke-width="1.5"/>
<line x1="333.8" y1="559.8" x2="333.8" y2="567.8" stroke="#000" stroke-width="1.5"/>
<text x="333.8" y="593.2" text-anchor="middle" style="font-family:'DejaVu Sans',sans-serif;font-size:22.8px">80</text>
<line x1="333.8" y1="100.5" x2="333.8" y2="108.3" stroke="#000" stroke-width="1.5"/>
<line x1="429.8" y1="559.8" x2="429.8" y2="567.8" stroke="#000" stroke-width="1.5"/>
<text x="429.8" y="593.2" text-anchor="middle" style="font-family:'DejaVu Sans',sans-serif;font-size:22.8px">90</text>
<line x1="429.8" y1="100.5" x2="429.8" y2="108.3" stroke="#000" stroke-width="1.5"/>
<line x1="525.8" y1="559.8" x2="525.8" y2="567.8" stroke="#000" stroke-width="1.5"/>
<text x="525.8" y="593.2" text-anchor="middle" style="font-family:'DejaVu Sans',sans-serif;font-size:22.8px">100</text>
<line x1="525.8" y1="100.5" x2="525.8" y2="108.3" stroke="#000" stroke-width="1.5"/>
<text x="325.4" y="624.2" text-anchor="middle" style="font-family:'DejaVu Sans',sans-serif;font-size:22.8px">%ID to CRISPR-Cas Atlas</text>
<text transform="translate(28.0,337.4) rotate(-90)" text-anchor="middle" style="font-family:'DejaVu Sans',sans-serif;font-size:22.8px">AlphaFold2 pLDDT</text>
<rect x="127.30" y="96.20" width="15.79" height="4.30" fill="#a3a3a3" stroke="#000" stroke-width="1.6"/>
<rect x="143.09" y="93.50" width="15.79" height="7.00" fill="#a3a3a3" stroke="#000" stroke-width="1.6"/>
<rect x="158.88" y="90.50" width="15.79" height="10.00" fill="#a3a3a3" stroke="#000" stroke-width="1.6"/>
<rect x="174.67" y="87.10" width="15.79" height="13.40" fill="#a3a3a3" stroke="#000" stroke-width="1.6"/>
<rect x="190.46" y="77.50" width="15.79" height="23.00" fill="#a3a3a3" stroke="#000" stroke-width="1.6"/>
<rect x="206.25" y="59.60" width="15.79" height="40.90" fill="#a3a3a3" stroke="#000" stroke-width="1.6"/>
<rect x="222.04" y="26.50" width="15.79" height="74.00" fill="#a3a3a3" stroke="#000" stroke-width="1.6"/>
<rect x="237.83" y="27.20" width="15.79" height="73.30" fill="#a3a3a3" stroke="#000" stroke-width="1.6"/>
<rect x="253.62" y="33.30" width="15.79" height="67.20" fill="#a3a3a3" stroke="#000" stroke-width="1.6"/>
<rect x="269.41" y="46.30" width="15.79" height="54.20" fill="#a3a3a3" stroke="#000" stroke-width="1.6"/>
<rect x="285.20" y="51.50" width="15.79" height="49.00" fill="#a3a3a3" stroke="#000" stroke-width="1.6"/>
<rect x="300.99" y="61.50" width="15.79" height="39.00" fill="#a3a3a3" stroke="#000" stroke-width="1.6"/>
<rect x="316.78" y="70.60" width="15.79" height="29.90" fill="#a3a3a3" stroke="#000" stroke-width="1.6"/>
<rect x="332.57" y="67.70" width="15.79" height="32.80" fill="#a3a3a3" stroke="#000" stroke-width="1.6"/>
<rect x="348.36" y="86.00" width="15.79" height="14.50" fill="#a3a3a3" stroke="#000" stroke-width="1.6"/>
<rect x="364.15" y="79.40" width="15.79" height="21.10" fill="#a3a3a3" stroke="#000" stroke-width="1.6"/>
<rect x="379.94" y="88.60" width="15.79" height="11.90" fill="#a3a3a3" stroke="#000" stroke-width="1.6"/>
<rect x="395.73" y="94.70" width="15.79" height="5.80" fill="#a3a3a3" stroke="#000" stroke-width="1.6"/>
<rect x="411.52" y="96.20" width="15.79" height="4.30" fill="#a3a3a3" stroke="#000" stroke-width="1.6"/>
<rect x="427.31" y="94.70" width="15.79" height="5.80" fill="#a3a3a3" stroke="#000" stroke-width="1.6"/>
<rect x="443.10" y="96.20" width="15.79" height="4.30" fill="#a3a3a3" stroke="#000" stroke-width="1.6"/>
<rect x="458.89" y="94.70" width="15.79" height="5.80" fill="#a3a3a3" stroke="#000" stroke-width="1.6"/>
<rect x="474.68" y="93.50" width="15.79" height="7.00" fill="#a3a3a3" stroke="#000" stroke-width="1.6"/>
<rect x="490.47" y="96.00" width="15.79" height="4.50" fill="#a3a3a3" stroke="#000" stroke-width="1.6"/>
<rect x="506.26" y="90.50" width="15.79" height="10.00" fill="#a3a3a3" stroke="#000" stroke-width="1.6"/>
<line x1="108.10000000000001" y1="100.5" x2="542.0" y2="100.5" stroke="#000" stroke-width="1.5"/>
<rect x="557.0" y="148.80" width="1.7" height="13.97" fill="#a3a3a3" stroke="#000" stroke-width="1.6"/>
<rect x="557.0" y="162.77" width="7.2" height="13.97" fill="#a3a3a3" stroke="#000" stroke-width="1.6"/>
<rect x="557.0" y="176.74" width="35.1" height="13.97" fill="#a3a3a3" stroke="#000" stroke-width="1.6"/>
<rect x="557.0" y="190.71" width="52.2" height="13.97" fill="#a3a3a3" stroke="#000" stroke-width="1.6"/>
<rect x="557.0" y="204.68" width="71" height="13.97" fill="#a3a3a3" stroke="#000" stroke-width="1.6"/>
<rect x="557.0" y="218.65" width="66.5" height="13.97" fill="#a3a3a3" stroke="#000" stroke-width="1.6"/>
<rect x="557.0" y="232.62" width="55.2" height="13.97" fill="#a3a3a3" stroke="#000" stroke-width="1.6"/>
<rect x="557.0" y="246.59" width="39.1" height="13.97" fill="#a3a3a3" stroke="#000" stroke-width="1.6"/>
<rect x="557.0" y="260.56" width="30.3" height="13.97" fill="#a3a3a3" stroke="#000" stroke-width="1.6"/>
<rect x="557.0" y="274.53" width="28.5" height="13.97" fill="#a3a3a3" stroke="#000" stroke-width="1.6"/>
<rect x="557.0" y="288.50" width="29.6" height="13.97" fill="#a3a3a3" stroke="#000" stroke-width="1.6"/>
<rect x="557.0" y="302.47" width="25.4" height="13.97" fill="#a3a3a3" stroke="#000" stroke-width="1.6"/>
<rect x="557.0" y="316.44" width="20.5" height="13.97" fill="#a3a3a3" stroke="#000" stroke-width="1.6"/>
<rect x="557.0" y="330.41" width="12.1" height="13.97" fill="#a3a3a3" stroke="#000" stroke-width="1.6"/>
<rect x="557.0" y="344.38" width="6.6" height="13.97" fill="#a3a3a3" stroke="#000" stroke-width="1.6"/>
<rect x="557.0" y="358.35" width="4.1" height="13.97" fill="#a3a3a3" stroke="#000" stroke-width="1.6"/>
<rect x="557.0" y="131" width="0.8" height="17.8" fill="#a3a3a3" stroke="#000" stroke-width="1.2"/>
<line x1="557.0" y1="115.5" x2="557.0" y2="560" stroke="#000" stroke-width="1.5"/>
<text x="520.0" y="533" text-anchor="end" style="font-family:'DejaVu Sans',sans-serif;font-size:22.8px">n = 1000</text>
<path d="M764.8,115.5 V559.8 H1197.7" fill="none" stroke="#000" stroke-width="1.5"/>
<line x1="756.5999999999999" y1="123.8" x2="764.8" y2="123.8" stroke="#000" stroke-width="1.5"/>
<text x="749.8" y="132.0" text-anchor="end" style="font-family:'DejaVu Sans',sans-serif;font-size:22.8px">92.5</text>
<line x1="1205.3" y1="123.8" x2="1213.0" y2="123.8" stroke="#000" stroke-width="1.5"/>
<line x1="756.5999999999999" y1="175.6" x2="764.8" y2="175.6" stroke="#000" stroke-width="1.5"/>
<text x="749.8" y="183.8" text-anchor="end" style="font-family:'DejaVu Sans',sans-serif;font-size:22.8px">90.0</text>
<line x1="1205.3" y1="175.6" x2="1213.0" y2="175.6" stroke="#000" stroke-width="1.5"/>
<line x1="756.5999999999999" y1="227.4" x2="764.8" y2="227.4" stroke="#000" stroke-width="1.5"/>
<text x="749.8" y="235.6" text-anchor="end" style="font-family:'DejaVu Sans',sans-serif;font-size:22.8px">87.5</text>
<line x1="1205.3" y1="227.4" x2="1213.0" y2="227.4" stroke="#000" stroke-width="1.5"/>
<line x1="756.5999999999999" y1="279.3" x2="764.8" y2="279.3" stroke="#000" stroke-width="1.5"/>
<text x="749.8" y="287.5" text-anchor="end" style="font-family:'DejaVu Sans',sans-serif;font-size:22.8px">85.0</text>
<line x1="1205.3" y1="279.3" x2="1213.0" y2="279.3" stroke="#000" stroke-width="1.5"/>
<line x1="756.5999999999999" y1="331.1" x2="764.8" y2="331.1" stroke="#000" stroke-width="1.5"/>
<text x="749.8" y="339.3" text-anchor="end" style="font-family:'DejaVu Sans',sans-serif;font-size:22.8px">82.5</text>
<line x1="1205.3" y1="331.1" x2="1213.0" y2="331.1" stroke="#000" stroke-width="1.5"/>
<line x1="756.5999999999999" y1="382.9" x2="764.8" y2="382.9" stroke="#000" stroke-width="1.5"/>
<text x="749.8" y="391.1" text-anchor="end" style="font-family:'DejaVu Sans',sans-serif;font-size:22.8px">80.0</text>
<line x1="1205.3" y1="382.9" x2="1213.0" y2="382.9" stroke="#000" stroke-width="1.5"/>
<line x1="756.5999999999999" y1="434.8" x2="764.8" y2="434.8" stroke="#000" stroke-width="1.5"/>
<text x="749.8" y="442.9" text-anchor="end" style="font-family:'DejaVu Sans',sans-serif;font-size:22.8px">77.5</text>
<line x1="1205.3" y1="434.8" x2="1213.0" y2="434.8" stroke="#000" stroke-width="1.5"/>
<line x1="756.5999999999999" y1="486.6" x2="764.8" y2="486.6" stroke="#000" stroke-width="1.5"/>
<text x="749.8" y="494.8" text-anchor="end" style="font-family:'DejaVu Sans',sans-serif;font-size:22.8px">75.0</text>
<line x1="1205.3" y1="486.6" x2="1213.0" y2="486.6" stroke="#000" stroke-width="1.5"/>
<line x1="756.5999999999999" y1="538.4" x2="764.8" y2="538.4" stroke="#000" stroke-width="1.5"/>
<text x="749.8" y="546.6" text-anchor="end" style="font-family:'DejaVu Sans',sans-serif;font-size:22.8px">72.5</text>
<line x1="1205.3" y1="538.4" x2="1213.0" y2="538.4" stroke="#000" stroke-width="1.5"/>
<line x1="764.8" y1="559.8" x2="764.8" y2="567.8" stroke="#000" stroke-width="1.5"/>
<text x="764.8" y="593.2" text-anchor="middle" style="font-family:'DejaVu Sans',sans-serif;font-size:22.8px">0.4</text>
<line x1="764.8" y1="100.5" x2="764.8" y2="108.3" stroke="#000" stroke-width="1.5"/>
<line x1="836.9" y1="559.8" x2="836.9" y2="567.8" stroke="#000" stroke-width="1.5"/>
<text x="836.9" y="593.2" text-anchor="middle" style="font-family:'DejaVu Sans',sans-serif;font-size:22.8px">0.5</text>
<line x1="836.9" y1="100.5" x2="836.9" y2="108.3" stroke="#000" stroke-width="1.5"/>
<line x1="909.1" y1="559.8" x2="909.1" y2="567.8" stroke="#000" stroke-width="1.5"/>
<text x="909.1" y="593.2" text-anchor="middle" style="font-family:'DejaVu Sans',sans-serif;font-size:22.8px">0.6</text>
<line x1="909.1" y1="100.5" x2="909.1" y2="108.3" stroke="#000" stroke-width="1.5"/>
<line x1="981.2" y1="559.8" x2="981.2" y2="567.8" stroke="#000" stroke-width="1.5"/>
<text x="981.2" y="593.2" text-anchor="middle" style="font-family:'DejaVu Sans',sans-serif;font-size:22.8px">0.7</text>
<line x1="981.2" y1="100.5" x2="981.2" y2="108.3" stroke="#000" stroke-width="1.5"/>
<line x1="1053.4" y1="559.8" x2="1053.4" y2="567.8" stroke="#000" stroke-width="1.5"/>
<text x="1053.4" y="593.2" text-anchor="middle" style="font-family:'DejaVu Sans',sans-serif;font-size:22.8px">0.8</text>
<line x1="1053.4" y1="100.5" x2="1053.4" y2="108.3" stroke="#000" stroke-width="1.5"/>
<line x1="1125.5" y1="559.8" x2="1125.5" y2="567.8" stroke="#000" stroke-width="1.5"/>
<text x="1125.5" y="593.2" text-anchor="middle" style="font-family:'DejaVu Sans',sans-serif;font-size:22.8px">0.9</text>
<line x1="1125.5" y1="100.5" x2="1125.5" y2="108.3" stroke="#000" stroke-width="1.5"/>
<line x1="1197.7" y1="559.8" x2="1197.7" y2="567.8" stroke="#000" stroke-width="1.5"/>
<text x="1197.7" y="593.2" text-anchor="middle" style="font-family:'DejaVu Sans',sans-serif;font-size:22.8px">1.0</text>
<line x1="1197.7" y1="100.5" x2="1197.7" y2="108.3" stroke="#000" stroke-width="1.5"/>
<text x="981.2" y="624.2" text-anchor="middle" style="font-family:'DejaVu Sans',sans-serif;font-size:22.8px">PDB TM-score</text>
<text transform="translate(684.2,337.4) rotate(-90)" text-anchor="middle" style="font-family:'DejaVu Sans',sans-serif;font-size:22.8px">AlphaFold2 pLDDT</text>
<rect x="825.41" y="99.43" width="9.04" height="1.07" fill="#a3a3a3" stroke="#000" stroke-width="1.6"/>
<rect x="834.45" y="99.86" width="9.04" height="0.64" fill="#a3a3a3" stroke="#000" stroke-width="1.6"/>
<rect x="843.49" y="99.43" width="9.04" height="1.07" fill="#a3a3a3" stroke="#000" stroke-width="1.6"/>
<rect x="852.53" y="99.86" width="9.04" height="0.64" fill="#a3a3a3" stroke="#000" stroke-width="1.6"/>
<rect x="861.57" y="97.30" width="9.04" height="3.20" fill="#a3a3a3" stroke="#000" stroke-width="1.6"/>
<rect x="870.61" y="98.58" width="9.04" height="1.92" fill="#a3a3a3" stroke="#000" stroke-width="1.6"/>
<rect x="879.64" y="98.58" width="9.04" height="1.92" fill="#a3a3a3" stroke="#000" stroke-width="1.6"/>
<rect x="888.68" y="97.30" width="9.04" height="3.20" fill="#a3a3a3" stroke="#000" stroke-width="1.6"/>
<rect x="897.72" y="95.38" width="9.04" height="5.12" fill="#a3a3a3" stroke="#000" stroke-width="1.6"/>
<rect x="906.76" y="96.45" width="9.04" height="4.05" fill="#a3a3a3" stroke="#000" stroke-width="1.6"/>
<rect x="915.80" y="93.46" width="9.04" height="7.04" fill="#a3a3a3" stroke="#000" stroke-width="1.6"/>
<rect x="924.84" y="91.33" width="9.04" height="9.17" fill="#a3a3a3" stroke="#000" stroke-width="1.6"/>
<rect x="933.88" y="87.07" width="9.04" height="13.43" fill="#a3a3a3" stroke="#000" stroke-width="1.6"/>
<rect x="942.92" y="81.52" width="9.04" height="18.98" fill="#a3a3a3" stroke="#000" stroke-width="1.6"/>
<rect x="951.96" y="45.49" width="9.04" height="55.01" fill="#a3a3a3" stroke="#000" stroke-width="1.6"/>
<rect x="961.00" y="42.51" width="9.04" height="57.99" fill="#a3a3a3" stroke="#000" stroke-width="1.6"/>
<rect x="970.04" y="32.91" width="9.04" height="67.59" fill="#a3a3a3" stroke="#000" stroke-width="1.6"/>
<rect x="979.08" y="26.30" width="9.04" height="74.20" fill="#a3a3a3" stroke="#000" stroke-width="1.6"/>
<rect x="988.12" y="37.17" width="9.04" height="63.33" fill="#a3a3a3" stroke="#000" stroke-width="1.6"/>
<rect x="997.16" y="44.42" width="9.04" height="56.08" fill="#a3a3a3" stroke="#000" stroke-width="1.6"/>
<rect x="1006.20" y="80.46" width="9.04" height="20.04" fill="#a3a3a3" stroke="#000" stroke-width="1.6"/>
<rect x="1015.24" y="95.60" width="9.04" height="4.90" fill="#a3a3a3" stroke="#000" stroke-width="1.6"/>
<rect x="1024.28" y="89.41" width="9.04" height="11.09" fill="#a3a3a3" stroke="#000" stroke-width="1.6"/>
<rect x="1033.32" y="77.47" width="9.04" height="23.03" fill="#a3a3a3" stroke="#000" stroke-width="1.6"/>
<rect x="1042.36" y="84.51" width="9.04" height="15.99" fill="#a3a3a3" stroke="#000" stroke-width="1.6"/>
<rect x="1051.40" y="89.63" width="9.04" height="10.87" fill="#a3a3a3" stroke="#000" stroke-width="1.6"/>
<rect x="1060.44" y="82.59" width="9.04" height="17.91" fill="#a3a3a3" stroke="#000" stroke-width="1.6"/>
<rect x="1069.48" y="87.07" width="9.04" height="13.43" fill="#a3a3a3" stroke="#000" stroke-width="1.6"/>
<rect x="1078.52" y="90.48" width="9.04" height="10.02" fill="#a3a3a3" stroke="#000" stroke-width="1.6"/>
<rect x="1087.55" y="93.46" width="9.04" height="7.04" fill="#a3a3a3" stroke="#000" stroke-width="1.6"/>
<rect x="1096.59" y="95.60" width="9.04" height="4.90" fill="#a3a3a3" stroke="#000" stroke-width="1.6"/>
<rect x="1105.63" y="93.46" width="9.04" height="7.04" fill="#a3a3a3" stroke="#000" stroke-width="1.6"/>
<rect x="1114.67" y="93.46" width="9.04" height="7.04" fill="#a3a3a3" stroke="#000" stroke-width="1.6"/>
<rect x="1123.71" y="88.35" width="9.04" height="12.15" fill="#a3a3a3" stroke="#000" stroke-width="1.6"/>
<rect x="1132.75" y="96.45" width="9.04" height="4.05" fill="#a3a3a3" stroke="#000" stroke-width="1.6"/>
<rect x="1141.79" y="99.43" width="9.04" height="1.07" fill="#a3a3a3" stroke="#000" stroke-width="1.6"/>
<rect x="1150.83" y="99.43" width="9.04" height="1.07" fill="#a3a3a3" stroke="#000" stroke-width="1.6"/>
<rect x="1159.87" y="97.30" width="9.04" height="3.20" fill="#a3a3a3" stroke="#000" stroke-width="1.6"/>
<line x1="764.1999999999999" y1="100.5" x2="1197.7" y2="100.5" stroke="#000" stroke-width="1.5"/>
<rect x="1213.0" y="148.80" width="1.7" height="13.97" fill="#a3a3a3" stroke="#000" stroke-width="1.6"/>
<rect x="1213.0" y="162.77" width="7.2" height="13.97" fill="#a3a3a3" stroke="#000" stroke-width="1.6"/>
<rect x="1213.0" y="176.74" width="35.1" height="13.97" fill="#a3a3a3" stroke="#000" stroke-width="1.6"/>
<rect x="1213.0" y="190.71" width="52.2" height="13.97" fill="#a3a3a3" stroke="#000" stroke-width="1.6"/>
<rect x="1213.0" y="204.68" width="71" height="13.97" fill="#a3a3a3" stroke="#000" stroke-width="1.6"/>
<rect x="1213.0" y="218.65" width="66.5" height="13.97" fill="#a3a3a3" stroke="#000" stroke-width="1.6"/>
<rect x="1213.0" y="232.62" width="55.2" height="13.97" fill="#a3a3a3" stroke="#000" stroke-width="1.6"/>
<rect x="1213.0" y="246.59" width="39.1" height="13.97" fill="#a3a3a3" stroke="#000" stroke-width="1.6"/>
<rect x="1213.0" y="260.56" width="30.3" height="13.97" fill="#a3a3a3" stroke="#000" stroke-width="1.6"/>
<rect x="1213.0" y="274.53" width="28.5" height="13.97" fill="#a3a3a3" stroke="#000" stroke-width="1.6"/>
<rect x="1213.0" y="288.50" width="29.6" height="13.97" fill="#a3a3a3" stroke="#000" stroke-width="1.6"/>
<rect x="1213.0" y="302.47" width="25.4" height="13.97" fill="#a3a3a3" stroke="#000" stroke-width="1.6"/>
<rect x="1213.0" y="316.44" width="20.5" height="13.97" fill="#a3a3a3" stroke="#000" stroke-width="1.6"/>
<rect x="1213.0" y="330.41" width="12.1" height="13.97" fill="#a3a3a3" stroke="#000" stroke-width="1.6"/>
<rect x="1213.0" y="344.38" width="6.6" height="13.97" fill="#a3a3a3" stroke="#000" stroke-width="1.6"/>
<rect x="1213.0" y="358.35" width="4.1" height="13.97" fill="#a3a3a3" stroke="#000" stroke-width="1.6"/>
<rect x="1213.0" y="131" width="0.8" height="17.8" fill="#a3a3a3" stroke="#000" stroke-width="1.2"/>
<line x1="1213.0" y1="115.5" x2="1213.0" y2="560" stroke="#000" stroke-width="1.5"/>
<text x="1175.7" y="533" text-anchor="end" style="font-family:'DejaVu Sans',sans-serif;font-size:22.8px">n = 1000</text>
<text x="701" y="785.1" text-anchor="end" style="font-family:'DejaVu Sans',sans-serif;font-size:18.25px">HNH domain from CRISPR-associated protein Cas9</text>
<line x1="707.6" y1="778.3" x2="714" y2="778.3" stroke="#000" stroke-width="1.3"/>
<line x1="1001" y1="780.0" x2="1007.4" y2="780.0" stroke="#000" stroke-width="1.3"/>
<text x="701" y="823.7" text-anchor="end" style="font-family:'DejaVu Sans',sans-serif;font-size:18.25px">CRISPR-associated endonuclease Cas9/Csn1, Target recognition (REC) lobe</text>
<line x1="707.6" y1="816.9" x2="714" y2="816.9" stroke="#000" stroke-width="1.3"/>
<line x1="1001" y1="818.2" x2="1007.4" y2="818.2" stroke="#000" stroke-width="1.3"/>
<text x="701" y="862.3" text-anchor="end" style="font-family:'DejaVu Sans',sans-serif;font-size:18.25px">CRISPR-associated endonuclease Cas9/Csn1, PAM-interacting (PI) domain</text>
<line x1="707.6" y1="855.5" x2="714" y2="855.5" stroke="#000" stroke-width="1.3"/>
<line x1="1001" y1="856.4" x2="1007.4" y2="856.4" stroke="#000" stroke-width="1.3"/>
<text x="701" y="900.9" text-anchor="end" style="font-family:'DejaVu Sans',sans-serif;font-size:18.25px">RuvC-like domain from CRISPR-associated protein Cas9</text>
<line x1="707.6" y1="894.1" x2="714" y2="894.1" stroke="#000" stroke-width="1.3"/>
<line x1="1001" y1="894.6" x2="1007.4" y2="894.6" stroke="#000" stroke-width="1.3"/>
<text x="701" y="939.5" text-anchor="end" style="font-family:'DejaVu Sans',sans-serif;font-size:18.25px">HEAT repeat</text>
<line x1="707.6" y1="932.7" x2="714" y2="932.7" stroke="#000" stroke-width="1.3"/>
<line x1="1001" y1="932.8" x2="1007.4" y2="932.8" stroke="#000" stroke-width="1.3"/>
<text x="701" y="978.1" text-anchor="end" style="font-family:'DejaVu Sans',sans-serif;font-size:18.25px">RuvC resolvase</text>
<line x1="707.6" y1="971.3" x2="714" y2="971.3" stroke="#000" stroke-width="1.3"/>
<line x1="1001" y1="971.0" x2="1007.4" y2="971.0" stroke="#000" stroke-width="1.3"/>
<text x="701" y="1016.7" text-anchor="end" style="font-family:'DejaVu Sans',sans-serif;font-size:18.25px">Ppx/GppA phosphatase</text>
<line x1="707.6" y1="1009.9" x2="714" y2="1009.9" stroke="#000" stroke-width="1.3"/>
<line x1="1001" y1="1009.2" x2="1007.4" y2="1009.2" stroke="#000" stroke-width="1.3"/>
<text x="701" y="1055.3" text-anchor="end" style="font-family:'DejaVu Sans',sans-serif;font-size:18.25px">ATPase domain of dehydratase reactivase alpha subunit</text>
<line x1="707.6" y1="1048.5" x2="714" y2="1048.5" stroke="#000" stroke-width="1.3"/>
<line x1="1001" y1="1047.4" x2="1007.4" y2="1047.4" stroke="#000" stroke-width="1.3"/>
<text x="701" y="1093.9" text-anchor="end" style="font-family:'DejaVu Sans',sans-serif;font-size:18.25px">Calpain large subunit, catalytic domain (domain II)</text>
<line x1="707.6" y1="1087.1" x2="714" y2="1087.1" stroke="#000" stroke-width="1.3"/>
<line x1="1001" y1="1085.6" x2="1007.4" y2="1085.6" stroke="#000" stroke-width="1.3"/>
<text x="701" y="1132.5" text-anchor="end" style="font-family:'DejaVu Sans',sans-serif;font-size:18.25px">Armadillo repeat</text>
<line x1="707.6" y1="1125.7" x2="714" y2="1125.7" stroke="#000" stroke-width="1.3"/>
<line x1="1001" y1="1123.8" x2="1007.4" y2="1123.8" stroke="#000" stroke-width="1.3"/>
<rect x="714" y="761" width="267.9" height="381.8" fill="none" stroke="#000" stroke-width="1.3"/>
<rect x="1007.4" y="761" width="267.7" height="381.8" fill="none" stroke="#000" stroke-width="1.3"/>
<line x1="726.2" y1="1142.8" x2="726.2" y2="1149.3" stroke="#000" stroke-width="1.3"/>
<text x="726.2" y="1169.7" text-anchor="middle" style="font-family:'DejaVu Sans',sans-serif;font-size:18.25px">0</text>
<line x1="847.7" y1="1142.8" x2="847.7" y2="1149.3" stroke="#000" stroke-width="1.3"/>
<text x="847.7" y="1169.7" text-anchor="middle" style="font-family:'DejaVu Sans',sans-serif;font-size:18.25px">50</text>
<line x1="969.1" y1="1142.8" x2="969.1" y2="1149.3" stroke="#000" stroke-width="1.3"/>
<text x="969.1" y="1169.7" text-anchor="middle" style="font-family:'DejaVu Sans',sans-serif;font-size:18.25px">100</text>
<line x1="1007.4" y1="1142.8" x2="1007.4" y2="1149.3" stroke="#000" stroke-width="1.3"/>
<text x="1007.4" y="1169.7" text-anchor="middle" style="font-family:'DejaVu Sans',sans-serif;font-size:18.25px">0</text>
<line x1="1074.3" y1="1142.8" x2="1074.3" y2="1149.3" stroke="#000" stroke-width="1.3"/>
<text x="1074.3" y="1169.7" text-anchor="middle" style="font-family:'DejaVu Sans',sans-serif;font-size:18.25px">25</text>
<line x1="1141.2" y1="1142.8" x2="1141.2" y2="1149.3" stroke="#000" stroke-width="1.3"/>
<text x="1141.2" y="1169.7" text-anchor="middle" style="font-family:'DejaVu Sans',sans-serif;font-size:18.25px">50</text>
<line x1="1208.2" y1="1142.8" x2="1208.2" y2="1149.3" stroke="#000" stroke-width="1.3"/>
<text x="1208.2" y="1169.7" text-anchor="middle" style="font-family:'DejaVu Sans',sans-serif;font-size:18.25px">75</text>
<line x1="1275.1" y1="1142.8" x2="1275.1" y2="1149.3" stroke="#000" stroke-width="1.3"/>
<text x="1275.1" y="1169.7" text-anchor="middle" style="font-family:'DejaVu Sans',sans-serif;font-size:18.25px">100</text>
<text x="847.9" y="1194.5" text-anchor="middle" style="font-family:'DejaVu Sans',sans-serif;font-size:18.25px">% with SCOPe Family</text>
<text x="1141.2" y="1194.5" text-anchor="middle" style="font-family:'DejaVu Sans',sans-serif;font-size:18.25px">%ID over Aligned Residues</text>
<text x="847.9" y="729.7" text-anchor="middle" style="font-family:'DejaVu Sans',sans-serif;font-size:18.25px">Fraction of Cas9 Proteins</text>
<text x="850.7" y="749.7" text-anchor="middle" style="font-family:'DejaVu Sans',sans-serif;font-size:18.25px">Containing Top 10 SCOPe Families</text>
<text x="1141.2" y="729.7" text-anchor="middle" style="font-family:'DejaVu Sans',sans-serif;font-size:18.25px">Sequence Identity of</text>
<text x="1141.2" y="749.7" text-anchor="middle" style="font-family:'DejaVu Sans',sans-serif;font-size:18.25px">Aligned SCOPe Families</text>
<circle cx="969.5" cy="778.3" r="8.2" fill="#7cba8e"/>
<circle cx="969.5" cy="816.9" r="8.2" fill="#7cba8e"/>
<circle cx="952.2" cy="855.5" r="8.2" fill="#7cba8e"/>
<circle cx="930.5" cy="894.1" r="8.2" fill="#d3d3d3"/>
<circle cx="853" cy="894.1" r="8.2" fill="#7cba8e"/>
<circle cx="727.5" cy="932.7" r="8.2" fill="#7cba8e"/>
<circle cx="727.5" cy="971.3" r="8.2" fill="#7cba8e"/>
<circle cx="727.5" cy="1009.9" r="8.2" fill="#7cba8e"/>
<circle cx="727.5" cy="1048.5" r="8.2" fill="#7cba8e"/>
<circle cx="727.5" cy="1087.1" r="8.2" fill="#7cba8e"/>
<circle cx="727.5" cy="1125.7" r="8.2" fill="#7cba8e"/>
<rect x="844.5" y="1088.3" width="129.8" height="47" rx="3" ry="3" fill="#fff" fill-opacity="0.8" stroke="#cccccc" stroke-width="1.2"/>
<circle cx="864.9" cy="1100.2" r="7.8" fill="#d3d3d3"/>
<circle cx="864.9" cy="1121.7" r="7.8" fill="#7cba8e"/>
<text x="891" y="1105.6" style="font-family:'DejaVu Sans',sans-serif;font-size:14.8px">Natural</text>
<text x="891" y="1126.8" style="font-family:'DejaVu Sans',sans-serif;font-size:14.8px">Generated</text>
<path d="M1048.3,780.0 L1056.2,777.3 L1064.9,771.9 L1075.7,769.7 L1086.5,765.9 L1093.0,764.5 L1099.5,766.5 L1108.1,773.0 L1114.6,777.3 L1124.3,779.5 L1166.5,779.8 L1166.5,780.0 Z" fill="#d4d4d4" stroke="#5a5a5a" stroke-width="1" stroke-linejoin="round"/>
<path d="M1048.3,780.0 L1056.2,787.0 L1064.9,795.1 L1073.5,793.5 L1082.2,794.4 L1090.8,791.4 L1099.5,787.0 L1108.1,782.7 L1114.6,780.5 L1124.3,780.2 L1166.5,780.2 L1166.5,780.0 Z" fill="#7fb792" stroke="#5a5a5a" stroke-width="1" stroke-linejoin="round"/>
<path d="M1034.4,818.4 L1034.6,814.1 L1038.9,808.6 L1045.4,805.4 L1054.1,806.7 L1064.9,809.2 L1075.7,811.4 L1082.2,808.6 L1091.9,802.7 L1097.3,804.3 L1103.8,810.8 L1110.3,815.7 L1118.9,817.8 L1170.8,818.2 L1170.8,818.4 Z" fill="#d4d4d4" stroke="#5a5a5a" stroke-width="1" stroke-linejoin="round"/>
<path d="M1036.8,818.4 L1037.8,827.0 L1043.8,833.5 L1047.6,830.3 L1051.9,824.9 L1062.7,825.4 L1070.3,821.1 L1077.8,818.9 L1086.5,820.0 L1097.3,820.5 L1105.9,819.2 L1112.4,818.6 L1170.8,818.6 L1170.8,818.4 Z" fill="#7fb792" stroke="#5a5a5a" stroke-width="1" stroke-linejoin="round"/>
<path d="M1028.3,856.0 L1032.4,853.0 L1041.1,842.7 L1050.8,842.2 L1057.3,841.1 L1060.5,842.2 L1067.0,850.8 L1073.5,855.1 L1086.5,855.1 L1097.3,855.4 L1137.3,855.8 L1137.3,856.0 Z" fill="#d4d4d4" stroke="#5a5a5a" stroke-width="1" stroke-linejoin="round"/>
<path d="M1029.2,856.0 L1035.7,859.5 L1042.7,871.4 L1047.6,868.1 L1051.9,861.6 L1060.5,860.0 L1069.2,857.3 L1075.7,856.4 L1137.3,856.2 L1137.3,856.0 Z" fill="#7fb792" stroke="#5a5a5a" stroke-width="1" stroke-linejoin="round"/>
<path d="M1033.5,894.3 L1043.2,887.6 L1051.9,882.2 L1058.4,879.5 L1062.7,880.0 L1069.2,886.5 L1075.7,892.4 L1082.2,893.5 L1117.3,893.8 L1117.3,894.3 Z" fill="#d4d4d4" stroke="#5a5a5a" stroke-width="1" stroke-linejoin="round"/>
<path d="M1034.6,894.3 L1036.8,902.7 L1043.2,909.7 L1048.6,908.6 L1056.2,907.0 L1064.9,906.5 L1071.4,902.7 L1077.8,897.3 L1086.5,895.1 L1117.3,894.8 L1117.3,894.3 Z" fill="#7fb792" stroke="#5a5a5a" stroke-width="1" stroke-linejoin="round"/>
<path d="M1033.0,932.6 L1033.0,924.3 L1035.0,917.8 L1037.3,921.2 L1037.6,932.6 Z" fill="#d4d4d4" stroke="#5a5a5a" stroke-width="1" stroke-linejoin="round"/>
<path d="M1035.4,932.6 L1037.6,932.6 L1037.0,941.4 L1036.1,947.6 Z" fill="#7fb792" stroke="#5a5a5a" stroke-width="1" stroke-linejoin="round"/>
<path d="M1074.3,971.0 L1074.3,958.5 L1077.7,955.1 L1080.8,956.2 L1087.8,960.9 L1087.8,971.0 Z" fill="#d4d4d4" stroke="#5a5a5a" stroke-width="1" stroke-linejoin="round"/>
<path d="M1041.2,971.0 L1069.5,971.0 L1069.5,980.0 L1049.7,986.5 L1045.9,986.5 L1041.2,985.0 Z" fill="#7fb792" stroke="#5a5a5a" stroke-width="1" stroke-linejoin="round"/>
<path d="M1047.1,1009.0 L1059.5,1009.0 L1059.5,1023.0 L1057.5,1024.6 L1053.6,1022.3 L1051.3,1020.4 L1047.1,1020.4 Z" fill="#7fb792" stroke="#5a5a5a" stroke-width="1" stroke-linejoin="round"/>
<path d="M1069.2,1047.4 L1080.8,1047.4 L1080.8,1057.7 L1073.1,1061.9 L1069.2,1062.4 Z" fill="#7fb792" stroke="#5a5a5a" stroke-width="1" stroke-linejoin="round"/>
<path d="M1040.1,1085.5 L1044.8,1085.5 L1044.8,1100.0 L1043.5,1100.8 L1040.1,1100.3 Z" fill="#7fb792" stroke="#5a5a5a" stroke-width="1" stroke-linejoin="round"/>
<line x1="1052.9" y1="994" x2="1052.9" y2="1009" stroke="#6a6a6a" stroke-width="1.2"/>
<line x1="1084.4" y1="1031.9" x2="1084.4" y2="1047.4" stroke="#6a6a6a" stroke-width="1"/>
<line x1="1033.4" y1="1108.2" x2="1033.4" y2="1123.8" stroke="#8a8a8a" stroke-width="1"/>
<line x1="1034.5" y1="1123.8" x2="1034.5" y2="1139.6" stroke="#8a8a8a" stroke-width="1"/>
<text x="1759" y="33.8" text-anchor="middle" style="font-family:'Liberation Sans',Arial,sans-serif;font-size:32.7px">HNH domain</text>
<text x="1759" y="397.7" text-anchor="middle" style="font-family:'Liberation Sans',Arial,sans-serif;font-size:32.7px">Target recognition lobe</text>
<text x="1759" y="768.0" text-anchor="middle" style="font-family:'Liberation Sans',Arial,sans-serif;font-size:32.7px">PAM-interacting domain</text>
<text x="1759" y="1139.1" text-anchor="middle" style="font-family:'Liberation Sans',Arial,sans-serif;font-size:32.7px">RuvC-like domain</text>
<rect x="1040" y="1333.2" width="32.4" height="32.5" fill="#80bb92"/>
<rect x="1040" y="1379.5" width="32.4" height="32.3" fill="#d0d0d0"/>
<rect x="1040" y="1426.6" width="32.4" height="32.1" fill="#bd8a84"/>
<text x="1091" y="1360" style="font-family:'Liberation Sans',Arial,sans-serif;font-size:32.5px">Generated protein</text>
<text x="1091" y="1407.4" style="font-family:'Liberation Sans',Arial,sans-serif;font-size:32.5px">Natural protein</text>
<text x="1091" y="1453.7" style="font-family:'Liberation Sans',Arial,sans-serif;font-size:32.5px">SCOPe family</text>
<g transform="scale(.5)" fill="none" stroke-linecap="round" stroke-linejoin="round">
<g style="--o:#2f5e40;--f:#7fbd92"><use href="#a" class="lo"/><use href="#a" class="lf"/><use href="#b" class="ho"/><use href="#b" class="hf"/><use href="#c" class="ho"/><use href="#c" class="hf"/><use href="#d" class="ho"/><use href="#d" class="hf"/><use href="#e" class="lo"/><use href="#e" class="lf"/><use href="#f" class="lo"/><use href="#f" class="lf"/><g opacity=".45"><use href="#g" class="ho"/><use href="#g" class="hf"/></g><use href="#i" class="ho"/><use href="#i" class="hf"/><use href="#j" class="ho"/><use href="#j" class="hf"/><use href="#k" class="lo"/><use href="#k" class="lf"/><use href="#l" class="lo"/><use href="#l" class="lf"/><g opacity=".45"><use href="#m" class="ho"/><use href="#m" class="hf"/></g><use href="#n" class="lo"/><use href="#n" class="lf"/><use href="#o" class="ho"/><use href="#o" class="hf"/><use href="#p" class="lo"/><use href="#p" class="lf"/><use href="#q" class="ho"/><use href="#q" class="hf"/><g opacity=".45"><use href="#r" class="ho"/><use href="#r" class="hf"/></g><use href="#s" class="ho"/><use href="#s" class="hf"/><use href="#t" class="ho"/><use href="#t" class="hf"/><use href="#u" class="lo"/><use href="#u" class="lf"/><use href="#v" class="ho"/><use href="#v" class="hf"/><use href="#w" class="lo"/><use href="#w" class="lf"/><use href="#x" class="ho"/><use href="#x" class="hf"/><g opacity=".45"><use href="#y" class="ho"/><use href="#y" class="hf"/></g><use href="#z" class="ho"/><use href="#z" class="hf"/><g opacity=".45"><use href="#A" class="lo"/><use href="#A" class="lf"/></g><g opacity=".45"><use href="#B" class="lo"/><use href="#B" class="lf"/></g><use href="#C" class="ho"/><use href="#C" class="hf"/><use href="#D" class="ho"/><use href="#D" class="hf"/><use href="#E" class="lo"/><use href="#E" class="lf"/><use href="#F" class="ho"/><use href="#F" class="hf"/><use href="#G" class="lo"/><use href="#G" class="lf"/><use href="#H" class="ho"/><use href="#H" class="hf"/><use href="#I" class="lo"/><use href="#I" class="lf"/><use href="#J" class="ho"/><use href="#J" class="hf"/><use href="#K" class="lo"/><use href="#K" class="lf"/><use href="#L" class="lo"/><use href="#L" class="lf"/><use href="#M" class="ho"/><use href="#M" class="hf"/><use href="#N" class="ho"/><use href="#N" class="hf"/><use href="#O" class="ho"/><use href="#O" class="hf"/><use href="#P" class="ho"/><use href="#P" class="hf"/><use href="#Q" class="lo"/><use href="#Q" class="lf"/><use href="#R" class="lo"/><use href="#R" class="lf"/><use href="#S" class="ho"/><use href="#S" class="hf"/><g opacity=".45"><use href="#T" class="lo"/><use href="#T" class="lf"/></g><g opacity=".45"><use href="#U" class="lo"/><use href="#U" class="lf"/></g><use href="#V" class="lo"/><use href="#V" class="lf"/><use href="#W" class="lo"/><use href="#W" class="lf"/><g opacity=".45"><use href="#X" class="ho"/><use href="#X" class="hf"/></g><use href="#Y" class="ho"/><use href="#Y" class="hf"/><use href="#Z" class="lo"/><use href="#Z" class="lf"/><use href="#ba" class="ho"/><use href="#ba" class="hf"/><use href="#bb" class="lo"/><use href="#bb" class="lf"/><use href="#bc" class="ho"/><use href="#bc" class="hf"/><use href="#bd" class="lo"/><use href="#bd" class="lf"/><use href="#be" class="lo"/><use href="#be" class="lf"/><use href="#bf" class="ho"/><use href="#bf" class="hf"/><g opacity=".45"><use href="#bg" class="ho"/><use href="#bg" class="hf"/></g><use href="#bh" class="ho"/><use href="#bh" class="hf"/><g opacity=".45"><use href="#bi" class="lo"/><use href="#bi" class="lf"/></g><use href="#h" class="wo"/><use href="#h" class="wf"/></g>
<g style="--o:#5a2e29;--f:#c4867e"><use href="#bj" class="ho"/><use href="#bj" class="hf"/><use href="#bk" class="lo"/><use href="#bk" class="lf"/><use href="#bm" class="ho"/><use href="#bm" class="hf"/><use href="#bn" class="lo"/><use href="#bn" class="lf"/><use href="#bo" class="ho"/><use href="#bo" class="hf"/><use href="#bp" class="lo"/><use href="#bp" class="lf"/><use href="#bq" class="ho"/><use href="#bq" class="hf"/><use href="#bl" class="wo"/><use href="#bl" class="wf"/></g>
<g style="--o:#2f5e40;--f:#7fbd92"><use href="#br" class="ho"/><use href="#br" class="hf"/><use href="#bs" class="lo"/><use href="#bs" class="lf"/></g>
<g style="--o:#575757;--f:#dadada" transform="translate(919.7 0) scale(0.965 1)"><use href="#a" class="lo"/><use href="#a" class="lf"/><use href="#b" class="ho"/><use href="#b" class="hf"/><use href="#c" class="ho"/><use href="#c" class="hf"/><use href="#d" class="ho"/><use href="#d" class="hf"/><use href="#e" class="lo"/><use href="#e" class="lf"/><use href="#f" class="lo"/><use href="#f" class="lf"/><g opacity=".45"><use href="#g" class="ho"/><use href="#g" class="hf"/></g><use href="#i" class="ho"/><use href="#i" class="hf"/><use href="#j" class="ho"/><use href="#j" class="hf"/><use href="#k" class="lo"/><use href="#k" class="lf"/><use href="#l" class="lo"/><use href="#l" class="lf"/><g opacity=".45"><use href="#m" class="ho"/><use href="#m" class="hf"/></g><use href="#n" class="lo"/><use href="#n" class="lf"/><use href="#o" class="ho"/><use href="#o" class="hf"/><use href="#p" class="lo"/><use href="#p" class="lf"/><use href="#q" class="ho"/><use href="#q" class="hf"/><g opacity=".45"><use href="#r" class="ho"/><use href="#r" class="hf"/></g><use href="#s" class="ho"/><use href="#s" class="hf"/><use href="#t" class="ho"/><use href="#t" class="hf"/><use href="#u" class="lo"/><use href="#u" class="lf"/><use href="#v" class="ho"/><use href="#v" class="hf"/><use href="#w" class="lo"/><use href="#w" class="lf"/><use href="#x" class="ho"/><use href="#x" class="hf"/><g opacity=".45"><use href="#y" class="ho"/><use href="#y" class="hf"/></g><use href="#z" class="ho"/><use href="#z" class="hf"/><g opacity=".45"><use href="#A" class="lo"/><use href="#A" class="lf"/></g><g opacity=".45"><use href="#B" class="lo"/><use href="#B" class="lf"/></g><use href="#C" class="ho"/><use href="#C" class="hf"/><use href="#D" class="ho"/><use href="#D" class="hf"/><use href="#E" class="lo"/><use href="#E" class="lf"/><use href="#F" class="ho"/><use href="#F" class="hf"/><use href="#G" class="lo"/><use href="#G" class="lf"/><use href="#H" class="ho"/><use href="#H" class="hf"/><use href="#I" class="lo"/><use href="#I" class="lf"/><use href="#J" class="ho"/><use href="#J" class="hf"/><use href="#K" class="lo"/><use href="#K" class="lf"/><use href="#L" class="lo"/><use href="#L" class="lf"/><use href="#M" class="ho"/><use href="#M" class="hf"/><use href="#N" class="ho"/><use href="#N" class="hf"/><use href="#O" class="ho"/><use href="#O" class="hf"/><use href="#P" class="ho"/><use href="#P" class="hf"/><use href="#Q" class="lo"/><use href="#Q" class="lf"/><use href="#R" class="lo"/><use href="#R" class="lf"/><use href="#S" class="ho"/><use href="#S" class="hf"/><g opacity=".45"><use href="#T" class="lo"/><use href="#T" class="lf"/></g><g opacity=".45"><use href="#U" class="lo"/><use href="#U" class="lf"/></g><use href="#V" class="lo"/><use href="#V" class="lf"/><use href="#W" class="lo"/><use href="#W" class="lf"/><g opacity=".45"><use href="#X" class="ho"/><use href="#X" class="hf"/></g><use href="#Y" class="ho"/><use href="#Y" class="hf"/><use href="#Z" class="lo"/><use href="#Z" class="lf"/><use href="#ba" class="ho"/><use href="#ba" class="hf"/><use href="#bb" class="lo"/><use href="#bb" class="lf"/><use href="#bc" class="ho"/><use href="#bc" class="hf"/><use href="#bd" class="lo"/><use href="#bd" class="lf"/><use href="#be" class="lo"/><use href="#be" class="lf"/><use href="#bf" class="ho"/><use href="#bf" class="hf"/><g opacity=".45"><use href="#bg" class="ho"/><use href="#bg" class="hf"/></g><use href="#bh" class="ho"/><use href="#bh" class="hf"/><g opacity=".45"><use href="#bi" class="lo"/><use href="#bi" class="lf"/></g><use href="#h" class="wo"/><use href="#h" class="wf"/></g>
<g style="--o:#5a2e29;--f:#c4867e" transform="translate(919.7 0) scale(0.965 1)"><use href="#bj" class="ho"/><use href="#bj" class="hf"/><use href="#bk" class="lo"/><use href="#bk" class="lf"/><use href="#bm" class="ho"/><use href="#bm" class="hf"/><use href="#bn" class="lo"/><use href="#bn" class="lf"/><use href="#bo" class="ho"/><use href="#bo" class="hf"/><use href="#bp" class="lo"/><use href="#bp" class="lf"/><use href="#bq" class="ho"/><use href="#bq" class="hf"/><use href="#bl" class="wo"/><use href="#bl" class="wf"/></g>
<g style="--o:#575757;--f:#dadada" transform="translate(919.7 0) scale(0.965 1)"><use href="#br" class="ho"/><use href="#br" class="hf"/><use href="#bs" class="lo"/><use href="#bs" class="lf"/></g>
<g style="--o:#2f5e40;--f:#7fbd92"><use href="#bt" class="ho"/><use href="#bt" class="hf"/><use href="#bu" class="ho"/><use href="#bu" class="hf"/><use href="#bv" class="ho"/><use href="#bv" class="hf"/><use href="#bw" class="ho"/><use href="#bw" class="hf"/><use href="#bx" class="ho"/><use href="#bx" class="hf"/><use href="#by" class="lo"/><use href="#by" class="lf"/><g opacity=".45"><use href="#bz" class="ho"/><use href="#bz" class="hf"/></g><use href="#bA" class="ho"/><use href="#bA" class="hf"/><use href="#bB" class="lo"/><use href="#bB" class="lf"/><use href="#bC" class="ho"/><use href="#bC" class="hf"/><use href="#bD" class="lo"/><use href="#bD" class="lf"/><g opacity=".45"><use href="#bE" class="ho"/><use href="#bE" class="hf"/></g><use href="#bF" class="ho"/><use href="#bF" class="hf"/><use href="#bG" class="ho"/><use href="#bG" class="hf"/><use href="#bH" class="ho"/><use href="#bH" class="hf"/><use href="#bI" class="ho"/><use href="#bI" class="hf"/><g opacity=".45"><use href="#bJ" class="ho"/><use href="#bJ" class="hf"/></g><use href="#bK" class="ho"/><use href="#bK" class="hf"/><use href="#bL" class="ho"/><use href="#bL" class="hf"/><use href="#bM" class="ho"/><use href="#bM" class="hf"/><use href="#bN" class="lo"/><use href="#bN" class="lf"/><g opacity=".45"><use href="#bO" class="lo"/><use href="#bO" class="lf"/></g><use href="#bP" class="ho"/><use href="#bP" class="hf"/><g opacity=".45"><use href="#bQ" class="lo"/><use href="#bQ" class="lf"/></g><use href="#bR" class="lo"/><use href="#bR" class="lf"/><g opacity=".45"><use href="#bS" class="lo"/><use href="#bS" class="lf"/></g><g opacity=".45"><use href="#bT" class="ho"/><use href="#bT" class="hf"/></g><use href="#bU" class="lo"/><use href="#bU" class="lf"/><use href="#bV" class="lo"/><use href="#bV" class="lf"/><use href="#bW" class="ho"/><use href="#bW" class="hf"/><use href="#bX" class="lo"/><use href="#bX" class="lf"/><use href="#bY" class="ho"/><use href="#bY" class="hf"/><use href="#bZ" class="lo"/><use href="#bZ" class="lf"/><use href="#ca" class="lo"/><use href="#ca" class="lf"/><use href="#cb" class="lo"/><use href="#cb" class="lf"/><use href="#cc" class="ho"/><use href="#cc" class="hf"/><use href="#cd" class="lo"/><use href="#cd" class="lf"/><use href="#ce" class="lo"/><use href="#ce" class="lf"/><use href="#cf" class="ho"/><use href="#cf" class="hf"/><use href="#cg" class="lo"/><use href="#cg" class="lf"/><use href="#ch" class="ho"/><use href="#ch" class="hf"/><use href="#ci" class="ho"/><use href="#ci" class="hf"/><use href="#cj" class="lo"/><use href="#cj" class="lf"/><g opacity=".45"><use href="#ck" class="lo"/><use href="#ck" class="lf"/></g><g opacity=".45"><use href="#cl" class="lo"/><use href="#cl" class="lf"/></g><g opacity=".45"><use href="#cm" class="ho"/><use href="#cm" class="hf"/></g><use href="#cn" class="lo"/><use href="#cn" class="lf"/><use href="#co" class="lo"/><use href="#co" class="lf"/><g opacity=".45"><use href="#cp" class="ho"/><use href="#cp" class="hf"/></g><use href="#cq" class="lo"/><use href="#cq" class="lf"/><use href="#cr" class="ho"/><use href="#cr" class="hf"/><use href="#cs" class="ho"/><use href="#cs" class="hf"/><use href="#ct" class="ho"/><use href="#ct" class="hf"/><use href="#cu" class="lo"/><use href="#cu" class="lf"/><use href="#cv" class="lo"/><use href="#cv" class="lf"/><use href="#cw" class="ho"/><use href="#cw" class="hf"/><use href="#cx" class="lo"/><use href="#cx" class="lf"/><g opacity=".45"><use href="#cy" class="ho"/><use href="#cy" class="hf"/></g><use href="#cz" class="lo"/><use href="#cz" class="lf"/><g opacity=".45"><use href="#cA" class="ho"/><use href="#cA" class="hf"/></g><use href="#cB" class="lo"/><use href="#cB" class="lf"/><use href="#cC" class="ho"/><use href="#cC" class="hf"/><g opacity=".45"><use href="#cD" class="ho"/><use href="#cD" class="hf"/></g><use href="#cE" class="ho"/><use href="#cE" class="hf"/><use href="#cF" class="lo"/><use href="#cF" class="lf"/><use href="#cG" class="ho"/><use href="#cG" class="hf"/><g opacity=".45"><use href="#cH" class="ho"/><use href="#cH" class="hf"/></g><g opacity=".45"><use href="#cI" class="ho"/><use href="#cI" class="hf"/></g></g>
<g style="--o:#5a2e29;--f:#c4867e"><use href="#cJ" class="ho"/><use href="#cJ" class="hf"/><use href="#cK" class="ho"/><use href="#cK" class="hf"/><use href="#cL" class="ho"/><use href="#cL" class="hf"/><use href="#cM" class="lo"/><use href="#cM" class="lf"/><use href="#cN" class="ho"/><use href="#cN" class="hf"/><use href="#cP" class="ho"/><use href="#cP" class="hf"/><g opacity=".45"><use href="#cQ" class="lo"/><use href="#cQ" class="lf"/></g><use href="#cR" class="ho"/><use href="#cR" class="hf"/><use href="#cS" class="ho"/><use href="#cS" class="hf"/><use href="#cT" class="ho"/><use href="#cT" class="hf"/><use href="#cU" class="lo"/><use href="#cU" class="lf"/><g opacity=".45"><use href="#cV" class="ho"/><use href="#cV" class="hf"/></g><use href="#cW" class="lo"/><use href="#cW" class="lf"/><use href="#cX" class="ho"/><use href="#cX" class="hf"/><use href="#cY" class="lo"/><use href="#cY" class="lf"/><use href="#cZ" class="lo"/><use href="#cZ" class="lf"/><g opacity=".45"><use href="#da" class="ho"/><use href="#da" class="hf"/></g><use href="#db" class="ho"/><use href="#db" class="hf"/><use href="#dc" class="ho"/><use href="#dc" class="hf"/><use href="#dd" class="lo"/><use href="#dd" class="lf"/><use href="#de" class="ho"/><use href="#de" class="hf"/><use href="#df" class="ho"/><use href="#df" class="hf"/><use href="#dg" class="lo"/><use href="#dg" class="lf"/><g opacity=".45"><use href="#dh" class="ho"/><use href="#dh" class="hf"/></g><use href="#di" class="lo"/><use href="#di" class="lf"/><g opacity=".45"><use href="#dj" class="ho"/><use href="#dj" class="hf"/></g><use href="#cO" class="wo"/><use href="#cO" class="wf"/></g>
<g style="--o:#2f5e40;--f:#7fbd92"><use href="#dk" class="lo"/><use href="#dk" class="lf"/><use href="#dl" class="ho"/><use href="#dl" class="hf"/><use href="#dm" class="ho"/><use href="#dm" class="hf"/><use href="#dn" class="lo"/><use href="#dn" class="lf"/><use href="#do" class="lo"/><use href="#do" class="lf"/><use href="#dp" class="ho"/><use href="#dp" class="hf"/><use href="#dq" class="lo"/><use href="#dq" class="lf"/><use href="#dr" class="ho"/><use href="#dr" class="hf"/><use href="#ds" class="ho"/><use href="#ds" class="hf"/><use href="#dt" class="lo"/><use href="#dt" class="lf"/><use href="#du" class="lo"/><use href="#du" class="lf"/></g>
<g style="--o:#575757;--f:#dadada" transform="translate(802 0)"><use href="#bt" class="ho"/><use href="#bt" class="hf"/><use href="#bu" class="ho"/><use href="#bu" class="hf"/><use href="#bv" class="ho"/><use href="#bv" class="hf"/><use href="#bw" class="ho"/><use href="#bw" class="hf"/><use href="#bx" class="ho"/><use href="#bx" class="hf"/><use href="#by" class="lo"/><use href="#by" class="lf"/><g opacity=".45"><use href="#bz" class="ho"/><use href="#bz" class="hf"/></g><use href="#bA" class="ho"/><use href="#bA" class="hf"/><use href="#bB" class="lo"/><use href="#bB" class="lf"/><use href="#bC" class="ho"/><use href="#bC" class="hf"/><use href="#bD" class="lo"/><use href="#bD" class="lf"/><g opacity=".45"><use href="#bE" class="ho"/><use href="#bE" class="hf"/></g><use href="#bF" class="ho"/><use href="#bF" class="hf"/><use href="#bG" class="ho"/><use href="#bG" class="hf"/><use href="#bH" class="ho"/><use href="#bH" class="hf"/><use href="#bI" class="ho"/><use href="#bI" class="hf"/><g opacity=".45"><use href="#bJ" class="ho"/><use href="#bJ" class="hf"/></g><use href="#bK" class="ho"/><use href="#bK" class="hf"/><use href="#bL" class="ho"/><use href="#bL" class="hf"/><use href="#bM" class="ho"/><use href="#bM" class="hf"/><use href="#bN" class="lo"/><use href="#bN" class="lf"/><g opacity=".45"><use href="#bO" class="lo"/><use href="#bO" class="lf"/></g><use href="#bP" class="ho"/><use href="#bP" class="hf"/><g opacity=".45"><use href="#bQ" class="lo"/><use href="#bQ" class="lf"/></g><use href="#bR" class="lo"/><use href="#bR" class="lf"/><g opacity=".45"><use href="#bS" class="lo"/><use href="#bS" class="lf"/></g><g opacity=".45"><use href="#bT" class="ho"/><use href="#bT" class="hf"/></g><use href="#bU" class="lo"/><use href="#bU" class="lf"/><use href="#bV" class="lo"/><use href="#bV" class="lf"/><use href="#bW" class="ho"/><use href="#bW" class="hf"/><use href="#bX" class="lo"/><use href="#bX" class="lf"/><use href="#bY" class="ho"/><use href="#bY" class="hf"/><use href="#bZ" class="lo"/><use href="#bZ" class="lf"/><use href="#ca" class="lo"/><use href="#ca" class="lf"/><use href="#cb" class="lo"/><use href="#cb" class="lf"/><use href="#cc" class="ho"/><use href="#cc" class="hf"/><use href="#cd" class="lo"/><use href="#cd" class="lf"/><use href="#ce" class="lo"/><use href="#ce" class="lf"/><use href="#cf" class="ho"/><use href="#cf" class="hf"/><use href="#cg" class="lo"/><use href="#cg" class="lf"/><use href="#ch" class="ho"/><use href="#ch" class="hf"/><use href="#ci" class="ho"/><use href="#ci" class="hf"/><use href="#cj" class="lo"/><use href="#cj" class="lf"/><g opacity=".45"><use href="#ck" class="lo"/><use href="#ck" class="lf"/></g><g opacity=".45"><use href="#cl" class="lo"/><use href="#cl" class="lf"/></g><g opacity=".45"><use href="#cm" class="ho"/><use href="#cm" class="hf"/></g><use href="#cn" class="lo"/><use href="#cn" class="lf"/><use href="#co" class="lo"/><use href="#co" class="lf"/><g opacity=".45"><use href="#cp" class="ho"/><use href="#cp" class="hf"/></g><use href="#cq" class="lo"/><use href="#cq" class="lf"/><use href="#cr" class="ho"/><use href="#cr" class="hf"/><use href="#cs" class="ho"/><use href="#cs" class="hf"/><use href="#ct" class="ho"/><use href="#ct" class="hf"/><use href="#cu" class="lo"/><use href="#cu" class="lf"/><use href="#cv" class="lo"/><use href="#cv" class="lf"/><use href="#cw" class="ho"/><use href="#cw" class="hf"/><use href="#cx" class="lo"/><use href="#cx" class="lf"/><g opacity=".45"><use href="#cy" class="ho"/><use href="#cy" class="hf"/></g><use href="#cz" class="lo"/><use href="#cz" class="lf"/><g opacity=".45"><use href="#cA" class="ho"/><use href="#cA" class="hf"/></g><use href="#cB" class="lo"/><use href="#cB" class="lf"/><use href="#cC" class="ho"/><use href="#cC" class="hf"/><g opacity=".45"><use href="#cD" class="ho"/><use href="#cD" class="hf"/></g><use href="#cE" class="ho"/><use href="#cE" class="hf"/><use href="#cF" class="lo"/><use href="#cF" class="lf"/><use href="#cG" class="ho"/><use href="#cG" class="hf"/><g opacity=".45"><use href="#cH" class="ho"/><use href="#cH" class="hf"/></g><g opacity=".45"><use href="#cI" class="ho"/><use href="#cI" class="hf"/></g></g>
<g style="--o:#5a2e29;--f:#c4867e" transform="translate(802 0)"><use href="#cJ" class="ho"/><use href="#cJ" class="hf"/><use href="#cK" class="ho"/><use href="#cK" class="hf"/><use href="#cL" class="ho"/><use href="#cL" class="hf"/><use href="#cM" class="lo"/><use href="#cM" class="lf"/><use href="#cN" class="ho"/><use href="#cN" class="hf"/><use href="#cP" class="ho"/><use href="#cP" class="hf"/><g opacity=".45"><use href="#cQ" class="lo"/><use href="#cQ" class="lf"/></g><use href="#cR" class="ho"/><use href="#cR" class="hf"/><use href="#cS" class="ho"/><use href="#cS" class="hf"/><use href="#cT" class="ho"/><use href="#cT" class="hf"/><use href="#cU" class="lo"/><use href="#cU" class="lf"/><g opacity=".45"><use href="#cV" class="ho"/><use href="#cV" class="hf"/></g><use href="#cW" class="lo"/><use href="#cW" class="lf"/><use href="#cX" class="ho"/><use href="#cX" class="hf"/><use href="#cY" class="lo"/><use href="#cY" class="lf"/><use href="#cZ" class="lo"/><use href="#cZ" class="lf"/><g opacity=".45"><use href="#da" class="ho"/><use href="#da" class="hf"/></g><use href="#db" class="ho"/><use href="#db" class="hf"/><use href="#dc" class="ho"/><use href="#dc" class="hf"/><use href="#dd" class="lo"/><use href="#dd" class="lf"/><use href="#de" class="ho"/><use href="#de" class="hf"/><use href="#df" class="ho"/><use href="#df" class="hf"/><use href="#dg" class="lo"/><use href="#dg" class="lf"/><g opacity=".45"><use href="#dh" class="ho"/><use href="#dh" class="hf"/></g><use href="#di" class="lo"/><use href="#di" class="lf"/><g opacity=".45"><use href="#dj" class="ho"/><use href="#dj" class="hf"/></g><use href="#cO" class="wo"/><use href="#cO" class="wf"/></g>
<g style="--o:#575757;--f:#dadada" transform="translate(802 0)"><use href="#dk" class="lo"/><use href="#dk" class="lf"/><use href="#dl" class="ho"/><use href="#dl" class="hf"/><use href="#dm" class="ho"/><use href="#dm" class="hf"/><use href="#dn" class="lo"/><use href="#dn" class="lf"/><use href="#do" class="lo"/><use href="#do" class="lf"/><use href="#dp" class="ho"/><use href="#dp" class="hf"/><use href="#dq" class="lo"/><use href="#dq" class="lf"/><use href="#dr" class="ho"/><use href="#dr" class="hf"/><use href="#ds" class="ho"/><use href="#ds" class="hf"/><use href="#dt" class="lo"/><use href="#dt" class="lf"/><use href="#du" class="lo"/><use href="#du" class="lf"/></g>
<g style="--o:#2f5e40;--f:#7fbd92"><use href="#dv" class="lo"/><use href="#dv" class="lf"/><use href="#dw" class="ho"/><use href="#dw" class="hf"/><use href="#dx" class="ho"/><use href="#dx" class="hf"/><use href="#dy" class="lo"/><use href="#dy" class="lf"/><use href="#dz" class="lo"/><use href="#dz" class="lf"/><use href="#dA" class="lo"/><use href="#dA" class="lf"/><g opacity=".45"><use href="#dB" class="ho"/><use href="#dB" class="hf"/></g><use href="#dC" class="ho"/><use href="#dC" class="hf"/><use href="#dD" class="lo"/><use href="#dD" class="lf"/><use href="#dE" class="lo"/><use href="#dE" class="lf"/><use href="#dF" class="lo"/><use href="#dF" class="lf"/><g opacity=".45"><use href="#dG" class="lo"/><use href="#dG" class="lf"/></g><use href="#dH" class="ho"/><use href="#dH" class="hf"/><use href="#dI" class="lo"/><use href="#dI" class="lf"/><use href="#dJ" class="lo"/><use href="#dJ" class="lf"/><use href="#dK" class="lo"/><use href="#dK" class="lf"/><g opacity=".45"><use href="#dL" class="lo"/><use href="#dL" class="lf"/></g><use href="#dM" class="lo"/><use href="#dM" class="lf"/><use href="#dN" class="lo"/><use href="#dN" class="lf"/><use href="#dO" class="lo"/><use href="#dO" class="lf"/><use href="#dP" class="ho"/><use href="#dP" class="hf"/><use href="#dQ" class="ho"/><use href="#dQ" class="hf"/><use href="#dR" class="ho"/><use href="#dR" class="hf"/><g opacity=".45"><use href="#dS" class="ho"/><use href="#dS" class="hf"/></g><use href="#dT" class="ho"/><use href="#dT" class="hf"/><g opacity=".45"><use href="#dU" class="ho"/><use href="#dU" class="hf"/></g><g opacity=".45"><use href="#dV" class="lo"/><use href="#dV" class="lf"/></g><use href="#dW" class="ho"/><use href="#dW" class="hf"/><use href="#dX" class="ho"/><use href="#dX" class="hf"/><use href="#dY" class="ho"/><use href="#dY" class="hf"/><use href="#ea" class="lo"/><use href="#ea" class="lf"/><use href="#eb" class="lo"/><use href="#eb" class="lf"/><use href="#ec" class="lo"/><use href="#ec" class="lf"/><use href="#ed" class="lo"/><use href="#ed" class="lf"/><use href="#ee" class="lo"/><use href="#ee" class="lf"/><use href="#ef" class="ho"/><use href="#ef" class="hf"/><use href="#eg" class="ho"/><use href="#eg" class="hf"/><use href="#eh" class="ho"/><use href="#eh" class="hf"/><use href="#ei" class="ho"/><use href="#ei" class="hf"/><use href="#ej" class="lo"/><use href="#ej" class="lf"/><use href="#ek" class="ho"/><use href="#ek" class="hf"/><use href="#el" class="lo"/><use href="#el" class="lf"/><use href="#em" class="ho"/><use href="#em" class="hf"/><use href="#en" class="lo"/><use href="#en" class="lf"/><g opacity=".45"><use href="#eo" class="lo"/><use href="#eo" class="lf"/></g><g opacity=".45"><use href="#ep" class="ho"/><use href="#ep" class="hf"/></g><use href="#eq" class="lo"/><use href="#eq" class="lf"/><use href="#er" class="lo"/><use href="#er" class="lf"/><g opacity=".45"><use href="#es" class="lo"/><use href="#es" class="lf"/></g><use href="#et" class="ho"/><use href="#et" class="hf"/><use href="#eu" class="lo"/><use href="#eu" class="lf"/><use href="#ev" class="lo"/><use href="#ev" class="lf"/><use href="#ew" class="ho"/><use href="#ew" class="hf"/><use href="#ex" class="lo"/><use href="#ex" class="lf"/><use href="#ey" class="lo"/><use href="#ey" class="lf"/><use href="#ez" class="ho"/><use href="#ez" class="hf"/><use href="#eA" class="ho"/><use href="#eA" class="hf"/><g opacity=".45"><use href="#eB" class="lo"/><use href="#eB" class="lf"/></g><use href="#eC" class="ho"/><use href="#eC" class="hf"/><g opacity=".45"><use href="#eD" class="lo"/><use href="#eD" class="lf"/></g><use href="#eE" class="ho"/><use href="#eE" class="hf"/><use href="#eF" class="lo"/><use href="#eF" class="lf"/><use href="#dZ" class="wo"/><use href="#dZ" class="wf"/></g>
<g style="--o:#5a2e29;--f:#c4867e"><use href="#eG" class="lo"/><use href="#eG" class="lf"/><use href="#eH" class="lo"/><use href="#eH" class="lf"/><use href="#eI" class="ho"/><use href="#eI" class="hf"/><use href="#eJ" class="lo"/><use href="#eJ" class="lf"/><use href="#eK" class="lo"/><use href="#eK" class="lf"/><use href="#eL" class="lo"/><use href="#eL" class="lf"/><use href="#eM" class="lo"/><use href="#eM" class="lf"/><use href="#eN" class="lo"/><use href="#eN" class="lf"/><use href="#eO" class="lo"/><use href="#eO" class="lf"/><use href="#eP" class="lo"/><use href="#eP" class="lf"/><use href="#eQ" class="lo"/><use href="#eQ" class="lf"/><use href="#eR" class="lo"/><use href="#eR" class="lf"/><use href="#eS" class="lo"/><use href="#eS" class="lf"/></g>
<g style="--o:#2f5e40;--f:#7fbd92"><use href="#eT" class="lo"/><use href="#eT" class="lf"/><use href="#eU" class="lo"/><use href="#eU" class="lf"/><use href="#eV" class="lo"/><use href="#eV" class="lf"/><use href="#eW" class="lo"/><use href="#eW" class="lf"/><use href="#eX" class="lo"/><use href="#eX" class="lf"/><use href="#eY" class="lo"/><use href="#eY" class="lf"/><use href="#eZ" class="lo"/><use href="#eZ" class="lf"/><use href="#fa" class="lo"/><use href="#fa" class="lf"/><use href="#fb" class="lo"/><use href="#fb" class="lf"/><use href="#fc" class="lo"/><use href="#fc" class="lf"/><use href="#fd" class="lo"/><use href="#fd" class="lf"/><use href="#fe" class="lo"/><use href="#fe" class="lf"/><use href="#ff" class="ho"/><use href="#ff" class="hf"/><use href="#fg" class="lo"/><use href="#fg" class="lf"/></g>
<g style="--o:#575757;--f:#dadada" transform="translate(826 0)"><use href="#dv" class="lo"/><use href="#dv" class="lf"/><use href="#dw" class="ho"/><use href="#dw" class="hf"/><use href="#dx" class="ho"/><use href="#dx" class="hf"/><use href="#dy" class="lo"/><use href="#dy" class="lf"/><use href="#dz" class="lo"/><use href="#dz" class="lf"/><use href="#dA" class="lo"/><use href="#dA" class="lf"/><g opacity=".45"><use href="#dB" class="ho"/><use href="#dB" class="hf"/></g><use href="#dC" class="ho"/><use href="#dC" class="hf"/><use href="#dD" class="lo"/><use href="#dD" class="lf"/><use href="#dE" class="lo"/><use href="#dE" class="lf"/><use href="#dF" class="lo"/><use href="#dF" class="lf"/><g opacity=".45"><use href="#dG" class="lo"/><use href="#dG" class="lf"/></g><use href="#dH" class="ho"/><use href="#dH" class="hf"/><use href="#dI" class="lo"/><use href="#dI" class="lf"/><use href="#dJ" class="lo"/><use href="#dJ" class="lf"/><use href="#dK" class="lo"/><use href="#dK" class="lf"/><g opacity=".45"><use href="#dL" class="lo"/><use href="#dL" class="lf"/></g><use href="#dM" class="lo"/><use href="#dM" class="lf"/><use href="#dN" class="lo"/><use href="#dN" class="lf"/><use href="#dO" class="lo"/><use href="#dO" class="lf"/><use href="#dP" class="ho"/><use href="#dP" class="hf"/><use href="#dQ" class="ho"/><use href="#dQ" class="hf"/><use href="#dR" class="ho"/><use href="#dR" class="hf"/><g opacity=".45"><use href="#dS" class="ho"/><use href="#dS" class="hf"/></g><use href="#dT" class="ho"/><use href="#dT" class="hf"/><g opacity=".45"><use href="#dU" class="ho"/><use href="#dU" class="hf"/></g><g opacity=".45"><use href="#dV" class="lo"/><use href="#dV" class="lf"/></g><use href="#dW" class="ho"/><use href="#dW" class="hf"/><use href="#dX" class="ho"/><use href="#dX" class="hf"/><use href="#dY" class="ho"/><use href="#dY" class="hf"/><use href="#ea" class="lo"/><use href="#ea" class="lf"/><use href="#eb" class="lo"/><use href="#eb" class="lf"/><use href="#ec" class="lo"/><use href="#ec" class="lf"/><use href="#ed" class="lo"/><use href="#ed" class="lf"/><use href="#ee" class="lo"/><use href="#ee" class="lf"/><use href="#ef" class="ho"/><use href="#ef" class="hf"/><use href="#eg" class="ho"/><use href="#eg" class="hf"/><use href="#eh" class="ho"/><use href="#eh" class="hf"/><use href="#ei" class="ho"/><use href="#ei" class="hf"/><use href="#ej" class="lo"/><use href="#ej" class="lf"/><use href="#ek" class="ho"/><use href="#ek" class="hf"/><use href="#el" class="lo"/><use href="#el" class="lf"/><use href="#em" class="ho"/><use href="#em" class="hf"/><use href="#en" class="lo"/><use href="#en" class="lf"/><g opacity=".45"><use href="#eo" class="lo"/><use href="#eo" class="lf"/></g><g opacity=".45"><use href="#ep" class="ho"/><use href="#ep" class="hf"/></g><use href="#eq" class="lo"/><use href="#eq" class="lf"/><use href="#er" class="lo"/><use href="#er" class="lf"/><g opacity=".45"><use href="#es" class="lo"/><use href="#es" class="lf"/></g><use href="#et" class="ho"/><use href="#et" class="hf"/><use href="#eu" class="lo"/><use href="#eu" class="lf"/><use href="#ev" class="lo"/><use href="#ev" class="lf"/><use href="#ew" class="ho"/><use href="#ew" class="hf"/><use href="#ex" class="lo"/><use href="#ex" class="lf"/><use href="#ey" class="lo"/><use href="#ey" class="lf"/><use href="#ez" class="ho"/><use href="#ez" class="hf"/><use href="#eA" class="ho"/><use href="#eA" class="hf"/><g opacity=".45"><use href="#eB" class="lo"/><use href="#eB" class="lf"/></g><use href="#eC" class="ho"/><use href="#eC" class="hf"/><g opacity=".45"><use href="#eD" class="lo"/><use href="#eD" class="lf"/></g><use href="#eE" class="ho"/><use href="#eE" class="hf"/><use href="#eF" class="lo"/><use href="#eF" class="lf"/><use href="#dZ" class="wo"/><use href="#dZ" class="wf"/></g>
<g style="--o:#5a2e29;--f:#c4867e" transform="translate(826 0)"><use href="#eG" class="lo"/><use href="#eG" class="lf"/><use href="#eH" class="lo"/><use href="#eH" class="lf"/><use href="#eI" class="ho"/><use href="#eI" class="hf"/><use href="#eJ" class="lo"/><use href="#eJ" class="lf"/><use href="#eK" class="lo"/><use href="#eK" class="lf"/><use href="#eL" class="lo"/><use href="#eL" class="lf"/><use href="#eM" class="lo"/><use href="#eM" class="lf"/><use href="#eN" class="lo"/><use href="#eN" class="lf"/><use href="#eO" class="lo"/><use href="#eO" class="lf"/><use href="#eP" class="lo"/><use href="#eP" class="lf"/><use href="#eQ" class="lo"/><use href="#eQ" class="lf"/><use href="#eR" class="lo"/><use href="#eR" class="lf"/><use href="#eS" class="lo"/><use href="#eS" class="lf"/></g>
<g style="--o:#575757;--f:#dadada" transform="translate(826 0)"><use href="#eT" class="lo"/><use href="#eT" class="lf"/><use href="#eU" class="lo"/><use href="#eU" class="lf"/><use href="#eV" class="lo"/><use href="#eV" class="lf"/><use href="#eW" class="lo"/><use href="#eW" class="lf"/><use href="#eX" class="lo"/><use href="#eX" class="lf"/><use href="#eY" class="lo"/><use href="#eY" class="lf"/><use href="#eZ" class="lo"/><use href="#eZ" class="lf"/><use href="#fa" class="lo"/><use href="#fa" class="lf"/><use href="#fb" class="lo"/><use href="#fb" class="lf"/><use href="#fc" class="lo"/><use href="#fc" class="lf"/><use href="#fd" class="lo"/><use href="#fd" class="lf"/><use href="#fe" class="lo"/><use href="#fe" class="lf"/><use href="#ff" class="ho"/><use href="#ff" class="hf"/><use href="#fg" class="lo"/><use href="#fg" class="lf"/></g>
<g style="--o:#2f5e40;--f:#7fbd92"><use href="#fh" class="lo"/><use href="#fh" class="lf"/><use href="#fi" class="ho"/><use href="#fi" class="hf"/><use href="#fj" class="ho"/><use href="#fj" class="hf"/><use href="#fk" class="ho"/><use href="#fk" class="hf"/><use href="#fl" class="lo"/><use href="#fl" class="lf"/><use href="#fm" class="ho"/><use href="#fm" class="hf"/><g opacity=".45"><use href="#fn" class="ho"/><use href="#fn" class="hf"/></g><use href="#fo" class="ho"/><use href="#fo" class="hf"/><use href="#fp" class="ho"/><use href="#fp" class="hf"/><use href="#fq" class="ho"/><use href="#fq" class="hf"/><use href="#fr" class="ho"/><use href="#fr" class="hf"/><g opacity=".45"><use href="#fs" class="ho"/><use href="#fs" class="hf"/></g><use href="#ft" class="ho"/><use href="#ft" class="hf"/><use href="#fu" class="ho"/><use href="#fu" class="hf"/><use href="#fv" class="ho"/><use href="#fv" class="hf"/><use href="#fw" class="ho"/><use href="#fw" class="hf"/><g opacity=".45"><use href="#fx" class="ho"/><use href="#fx" class="hf"/></g><use href="#fy" class="lo"/><use href="#fy" class="lf"/><use href="#fz" class="ho"/><use href="#fz" class="hf"/><use href="#fA" class="lo"/><use href="#fA" class="lf"/><use href="#fB" class="ho"/><use href="#fB" class="hf"/><use href="#fC" class="lo"/><use href="#fC" class="lf"/><use href="#fD" class="ho"/><use href="#fD" class="hf"/><g opacity=".45"><use href="#fE" class="ho"/><use href="#fE" class="hf"/></g><use href="#fF" class="ho"/><use href="#fF" class="hf"/><g opacity=".45"><use href="#fG" class="lo"/><use href="#fG" class="lf"/></g><g opacity=".45"><use href="#fH" class="ho"/><use href="#fH" class="hf"/></g><use href="#fI" class="lo"/><use href="#fI" class="lf"/><use href="#fJ" class="ho"/><use href="#fJ" class="hf"/><use href="#fK" class="ho"/><use href="#fK" class="hf"/><use href="#fL" class="ho"/><use href="#fL" class="hf"/><use href="#fM" class="lo"/><use href="#fM" class="lf"/><use href="#fN" class="ho"/><use href="#fN" class="hf"/><use href="#fO" class="lo"/><use href="#fO" class="lf"/><use href="#fP" class="ho"/><use href="#fP" class="hf"/><use href="#fQ" class="lo"/><use href="#fQ" class="lf"/><use href="#fR" class="ho"/><use href="#fR" class="hf"/><use href="#fS" class="ho"/><use href="#fS" class="hf"/><use href="#fT" class="lo"/><use href="#fT" class="lf"/><use href="#fU" class="ho"/><use href="#fU" class="hf"/><use href="#fV" class="ho"/><use href="#fV" class="hf"/><use href="#fW" class="lo"/><use href="#fW" class="lf"/><use href="#fX" class="lo"/><use href="#fX" class="lf"/><use href="#fY" class="lo"/><use href="#fY" class="lf"/><g opacity=".45"><use href="#fZ" class="ho"/><use href="#fZ" class="hf"/></g><g opacity=".45"><use href="#ga" class="ho"/><use href="#ga" class="hf"/></g><use href="#gb" class="lo"/><use href="#gb" class="lf"/><use href="#gc" class="lo"/><use href="#gc" class="lf"/><g opacity=".45"><use href="#gd" class="lo"/><use href="#gd" class="lf"/></g><use href="#ge" class="ho"/><use href="#ge" class="hf"/><use href="#gf" class="ho"/><use href="#gf" class="hf"/><use href="#gg" class="lo"/><use href="#gg" class="lf"/><use href="#gh" class="lo"/><use href="#gh" class="lf"/><use href="#gi" class="ho"/><use href="#gi" class="hf"/><use href="#gj" class="lo"/><use href="#gj" class="lf"/><use href="#gl" class="lo"/><use href="#gl" class="lf"/><use href="#gm" class="ho"/><use href="#gm" class="hf"/><g opacity=".45"><use href="#gn" class="ho"/><use href="#gn" class="hf"/></g><use href="#go" class="ho"/><use href="#go" class="hf"/><g opacity=".45"><use href="#gp" class="ho"/><use href="#gp" class="hf"/></g><use href="#gq" class="lo"/><use href="#gq" class="lf"/><use href="#gr" class="ho"/><use href="#gr" class="hf"/><g opacity=".45"><use href="#gs" class="lo"/><use href="#gs" class="lf"/></g><use href="#gt" class="lo"/><use href="#gt" class="lf"/><use href="#gu" class="lo"/><use href="#gu" class="lf"/><use href="#gv" class="lo"/><use href="#gv" class="lf"/><g opacity=".45"><use href="#gw" class="ho"/><use href="#gw" class="hf"/></g><g opacity=".45"><use href="#gx" class="ho"/><use href="#gx" class="hf"/></g><use href="#gy" class="lo"/><use href="#gy" class="lf"/><use href="#gz" class="ho"/><use href="#gz" class="hf"/><use href="#gA" class="ho"/><use href="#gA" class="hf"/><use href="#gB" class="ho"/><use href="#gB" class="hf"/><use href="#gk" class="wo"/><use href="#gk" class="wf"/></g>
<g style="--o:#5a2e29;--f:#c4867e"><use href="#gC" class="ho"/><use href="#gC" class="hf"/><use href="#gD" class="lo"/><use href="#gD" class="lf"/><use href="#gE" class="lo"/><use href="#gE" class="lf"/><use href="#gF" class="lo"/><use href="#gF" class="lf"/><use href="#gG" class="ho"/><use href="#gG" class="hf"/><use href="#gH" class="ho"/><use href="#gH" class="hf"/><use href="#gI" class="lo"/><use href="#gI" class="lf"/><use href="#gJ" class="ho"/><use href="#gJ" class="hf"/><use href="#gK" class="ho"/><use href="#gK" class="hf"/><use href="#gL" class="lo"/><use href="#gL" class="lf"/></g>
<g style="--o:#2f5e40;--f:#7fbd92"><use href="#gM" class="lo"/><use href="#gM" class="lf"/><use href="#gN" class="ho"/><use href="#gN" class="hf"/><use href="#gO" class="ho"/><use href="#gO" class="hf"/><use href="#gP" class="ho"/><use href="#gP" class="hf"/><use href="#gQ" class="ho"/><use href="#gQ" class="hf"/><use href="#gR" class="ho"/><use href="#gR" class="hf"/><use href="#gS" class="lo"/><use href="#gS" class="lf"/></g>
<g style="--o:#575757;--f:#dadada"><use href="#gT" class="lo"/><use href="#gT" class="lf"/><use href="#gU" class="lo"/><use href="#gU" class="lf"/><use href="#gV" class="lo"/><use href="#gV" class="lf"/><use href="#gW" class="ho"/><use href="#gW" class="hf"/><use href="#gX" class="ho"/><use href="#gX" class="hf"/><use href="#gY" class="ho"/><use href="#gY" class="hf"/><g opacity=".45"><use href="#gZ" class="ho"/><use href="#gZ" class="hf"/></g><use href="#ha" class="ho"/><use href="#ha" class="hf"/><use href="#hb" class="lo"/><use href="#hb" class="lf"/><use href="#hc" class="ho"/><use href="#hc" class="hf"/><use href="#hd" class="ho"/><use href="#hd" class="hf"/><g opacity=".45"><use href="#he" class="ho"/><use href="#he" class="hf"/></g><use href="#hf" class="ho"/><use href="#hf" class="hf"/><use href="#hg" class="lo"/><use href="#hg" class="lf"/><use href="#hh" class="lo"/><use href="#hh" class="lf"/><use href="#hi" class="lo"/><use href="#hi" class="lf"/><g opacity=".45"><use href="#hj" class="ho"/><use href="#hj" class="hf"/></g><use href="#hk" class="ho"/><use href="#hk" class="hf"/><use href="#hl" class="ho"/><use href="#hl" class="hf"/><use href="#hm" class="ho"/><use href="#hm" class="hf"/><use href="#hn" class="ho"/><use href="#hn" class="hf"/><use href="#ho" class="lo"/><use href="#ho" class="lf"/><use href="#hp" class="lo"/><use href="#hp" class="lf"/><g opacity=".45"><use href="#hq" class="ho"/><use href="#hq" class="hf"/></g><use href="#hr" class="ho"/><use href="#hr" class="hf"/><g opacity=".45"><use href="#ht" class="ho"/><use href="#ht" class="hf"/></g><g opacity=".45"><use href="#hu" class="lo"/><use href="#hu" class="lf"/></g><use href="#hv" class="ho"/><use href="#hv" class="hf"/><use href="#hw" class="lo"/><use href="#hw" class="lf"/><use href="#hx" class="lo"/><use href="#hx" class="lf"/><use href="#hy" class="lo"/><use href="#hy" class="lf"/><use href="#hz" class="ho"/><use href="#hz" class="hf"/><use href="#hA" class="ho"/><use href="#hA" class="hf"/><use href="#hB" class="ho"/><use href="#hB" class="hf"/><use href="#hC" class="ho"/><use href="#hC" class="hf"/><use href="#hD" class="lo"/><use href="#hD" class="lf"/><use href="#hE" class="lo"/><use href="#hE" class="lf"/><use href="#hF" class="ho"/><use href="#hF" class="hf"/><use href="#hG" class="ho"/><use href="#hG" class="hf"/><use href="#hH" class="ho"/><use href="#hH" class="hf"/><use href="#hI" class="lo"/><use href="#hI" class="lf"/><use href="#hJ" class="lo"/><use href="#hJ" class="lf"/><use href="#hK" class="ho"/><use href="#hK" class="hf"/><use href="#hL" class="lo"/><use href="#hL" class="lf"/><g opacity=".45"><use href="#hM" class="lo"/><use href="#hM" class="lf"/></g><g opacity=".45"><use href="#hN" class="ho"/><use href="#hN" class="hf"/></g><use href="#hO" class="lo"/><use href="#hO" class="lf"/><use href="#hP" class="ho"/><use href="#hP" class="hf"/><g opacity=".45"><use href="#hQ" class="lo"/><use href="#hQ" class="lf"/></g><use href="#hR" class="lo"/><use href="#hR" class="lf"/><use href="#hS" class="ho"/><use href="#hS" class="hf"/><use href="#hT" class="lo"/><use href="#hT" class="lf"/><use href="#hU" class="ho"/><use href="#hU" class="hf"/><use href="#hV" class="ho"/><use href="#hV" class="hf"/><use href="#hW" class="ho"/><use href="#hW" class="hf"/><use href="#hX" class="lo"/><use href="#hX" class="lf"/><use href="#hY" class="ho"/><use href="#hY" class="hf"/><g opacity=".45"><use href="#hZ" class="ho"/><use href="#hZ" class="hf"/></g><use href="#ia" class="lo"/><use href="#ia" class="lf"/><use href="#hs" class="wo"/><use href="#hs" class="wf"/></g>
<g style="--o:#5a2e29;--f:#c4867e"><use href="#ib" class="ho"/><use href="#ib" class="hf"/><use href="#ic" class="lo"/><use href="#ic" class="lf"/><use href="#id" class="ho"/><use href="#id" class="hf"/><use href="#ie" class="ho"/><use href="#ie" class="hf"/><use href="#if" class="lo"/><use href="#if" class="lf"/><use href="#ig" class="ho"/><use href="#ig" class="hf"/><use href="#ih" class="lo"/><use href="#ih" class="lf"/><use href="#ii" class="lo"/><use href="#ii" class="lf"/></g>
<g style="--o:#575757;--f:#dadada"><use href="#ij" class="lo"/><use href="#ij" class="lf"/><use href="#ik" class="ho"/><use href="#ik" class="hf"/><use href="#il" class="ho"/><use href="#il" class="hf"/><use href="#im" class="lo"/><use href="#im" class="lf"/></g>
</g>
<defs><path id="a" d="M3023 169l2 4 2 6 4 6 3 6 1 8-3 7-7 2-8 1M3055 350l-5 3-8 2-8-1-8-2-9-7-6-7M3204 513l6 7 7 8 2 5 1 5 0 8-2 9-6 8-6 7-1 5 0 5 1 9 1 7M2785 364l9 0 9 2 1 7 0 7 6 2 7 1 7 4 8 2 7-4 7-3 6 3 5 3 7-1 5-4 5-8 4-8"/><path id="b" d="M3238 504l-10 11 5 12 15 2 11-7-3-5-14 4-8 12 6 10 16 1 9-7-5-5-14 6-7 12 9 10 15-1 8-7-7-4-14 7-5 13M3140 499l-12-7-7 5 4 14 9 9 2-3-7-11-12-7-6 6 4 14 9 9 2-4-8-11-12-6-5 7M2968 375l-12 9 3 10 14 3 12-5-2-6-14 2-10 9 4 10 15 2 11-5-4-5-14 2-10 10 6 9 15 2 10-6-5-5-15 3-8 11 7 9 15 0 9-6-7-4-14 4-7 10M3357 522l-6 13 6 8 14-4 10-8-3-4-10 8-6 13 6 8 14-4 9-9-2-3-11 8-6 13"/><path id="c" d="M3070 202l-14 5 0 10 13 7 13-1-2-5-14-2-12 6 2 11 14 6 11-2-3-6-15 0-11 7 4 10 15 5 10-3-6-5-16 1M3156 530l-9-12-12 2-6 14 5 12 8-1 1-13-9-12-13 2-5 14 5 12 8-1 1-14-10-12-12 3-5 14 4 12M2777 360l-4 15 9 9 15-4 6-12-7-5-12 7-3 15 11 8 14-6 5-12-8-4-12 9-1 15 11 6M2907 486l-10 14 8 12 17 0 7-9-9-3-14 10 0 15 15 6 14-7"/><path id="d" d="M2884 343l2 15 11 3 11-11 3-12-5 1-5 14 5 14 11-1 10-12 1-10-6 5-3 15 7 11 12-4 8-13-1-7M3463 234l-7-13-8 3-3 14 3 12 4-3-3-15-8-10-8 6-1 15 4 10 3-7-4-15-9-7-6 9 0 15 4 6 2-10-6-14M2828 325l-14 4-2 12 12 10 13-1 1-8-12-5-14 5-2 12 13 9 13-2 0-8-13-4-14 5 0 12 12 9 13-2-1-8-13-5M2932 361l2 15 11 2 11-12 0-12-7 3-4 15 6 12 13-5 6-14-3-7-7 9 0 16"/><path id="e" d="M3336 498l-4 3-6 1-5-8-5-9-7-1-6-1-2-8-2-7-6 0-8 1-10-1-9-3-1-7 2-8 4-5 5-3 7-1 6 3 3 6 2 7M3275 425l-1 5 1 6 5 6 6 6-1 9-2 8M3099 283l4 2 6 4 7 2 6 3 6 2 5 3 3 5 4 5 9 0 8 0M3094 408l0 8-1 10 0 6-1 6-6 7-8 5-8 1-8-2-4-9-2-8"/><path id="f" d="M3309 640l1-7 0-9-2-5-1-5 4-7 6-6 8 2 6 5 4 9-1 8-6 4-7 1M3297 599l-4-5-4-6-3-6-4-4-6-3-7-2-10 2-7 3-1 9 2 8M3129 222l3 5 4 4 5-1 7-3 8-3 6-5 1-8-2-7-4-2-6-2-6-6-5-5M2925 209l8 0 8 0 5 6 4 5 6-1 5-3 5 1 5 0 9-1 7-4 2-7 2-8 5-3 5-1"/><path id="g" d="M3243 215l-7 14 8 7 15-4 8-8-5-1-11 11-2 13 11 4 15-7 3-7-9 3-9 13 2 11 15 0 12-9M2833 255l-11 11 6 12 16 1 9-8-8-4-15 6-3 14 12 7 16-4 0-8M3327 441l-15 6 0 14 14 9 12-2-4-8-16-1-11 10 6 14 16 5 6-6-9-6M3177 174l-11-11-10 5 0 16 5 10 3-5-6-14-12-6-7 9 2 16 6 6 0-9-9-14"/><path id="h" d="M3104 415l9 10 6 0 2-10-3-14-1-9 2 3 8 10 9 10 6 0 1-10-2-14-1-9 3 3 7 11 9 9 6 0 1-10-2-14-1-9 3 3 7 11 9 9 6 0 1-11-2-14-1-8 3 4 7 10 9 10 6-1 1-11-2-14-1-8 3 4 8 11 9 9 5-1 1-11-2-14-1-7 3 3 8 11 9 9 5-1 1-11-2-14-1-7 3 4 8 11 9 8 6-1 0-11-2-14-2-7 4 4 8 11 9 8 6-1 0-12-3-14-1-6 4 4"/><path id="i" d="M3408 348l-15 3-3 12 11 11 12 2-2-6-15-4-13 7 3 13 13 8 8-1-7-6-16-1-9 9 7 13 14 6M2804 266l-11-9-8 5 2 14 8 11 4-4-6-12-11-8-7 6 2 14 8 10 4-5-7-12-11-7-7 6 3 15 8 8 3-5-7-12-11-7-6 8 3 14 8 8M2842 196l-5 13 7 6 13-6 8-11-4-1-10 10-4 13 9 4 13-8 6-9-6 0-10 11-1 12 9 3 13-9 4-9-7 2-9 12 0 12 11 0 12-10M2968 386l-2 15 11 7 13-7 5-12-8-3-9 11 0 15 12 4 13-9 2-11-8-1-9 13 3 14 13 2 12-11 0-10-10 2-7 14 5 12 13 0 11-12-2-8"/><path id="j" d="M3293 292l-4 15 9 7 15-5 7-10-6-1-10 11-1 14 12 4 14-8 3-9-8 3-9 13 3 13M2790 254l1 15 12 6 12-9 3-13-6-2-7 12 2 15 12 4 12-10 3-12M2953 507l-15 6 0 13 13 9 12-3-1-8-15-2-12 8 3 13 14 7 11-5-5-8-16 0-10 10 6 13 16 4"/><path id="k" d="M3281 506l-5-4-6-6-3-8-2-9-2-8 0-8 8-5 9-4 4-7 2-7M2887 418l-7 1-9 1-8 1-8 2-9 2-8 4-3 8-1 9 0 5 1 6 0 8 1 8 2 7 4 5 9-1 10-2 6 3 4 4M2945 468l5 5 4 7-4 7-4 7-1 10-1 10-1 6 1 5 5 4 7 4 3 7 3 6 4 3 5 2 9 2 9 3 1 5-1 5M3165 600l7-4 10-5 7-3 7-3 3-5 3-5 4-8 6-8 5-4 4-4 1-9 1-8 9-4 9-4 3-5 1-5 3-6 2-5"/><path id="l" d="M2823 383l3 2 6 4 7 5 7 6 1 8 1 9 4 8 3 9-4 8-5 7M3348 366l9 1 9-1 7-4 4-5-2-6-3-6-4-6-4-7-6-8-5-7M3142 200l5-5 5-7 1-5 1-6 2-9 1-9-4-6-5-5-6-2-6 0-9 0-8 1M2904 214l6 3 7 4 8 4 7 1 5-7 4-7 5-1 7 0 8-2 9-2 6-2 4-3 3-8 0-7-9-5-9-2"/><path id="m" d="M3070 122l-1 16 13 7 13-9 3-12-9 0-7 13 5 15 14 0 11-12-2-9-10 6-4 16 9 10 15-5M3107 554l-11-10-9 5 0 16 6 10 3-5-7-14-12-6-6 9 3 16 6 6 0-9-10-13-10-2-4 13 5 15 5 1-3-12M3018 600l-10 10 3 9 14 2 12-5-1-3-13 4-10 10 3 8 15 2 12-5-3-3-13 4-9 10 4 9 15 1 11-5-3-3-13 5M2925 367l-11-11-9 5-1 17 6 9 2-9-8-14-11-3-5 13 4 15"/><path id="n" d="M3155 263l-4 0-7 0-7-2-9-3-6-5-7-3-10 3-9 2-5-7-2-8M3329 297l0 4 0 6 1 8 2 9 4 9 4 9 3 5 2 5 2 8 3 8 6 7 5 6M3301 397l-3 4-5 4-2 4-4 4-10-1-10-2-2-4-1-6-5-6-5-5-4-5-3-4M2937 541l-2 9-3 9-6 3-8-2-6-7-5-8-2-6-1-6-3-7-6-7-10-2-8-2-4-6-1-5"/><path id="o" d="M2938 458l1 15 11 6 13-8 3-13-8-2-8 11 2 15 13 4 12-10 1-12-9 0-8 13 4 14 14 1 11-11-1-11-10 2-6 14 6 13 14-1 10-12-3-10-10 5M3321 562l-15-2-6 10 6 13 12 6 3-5-9-10-15-1-7 10 7 13 12 6 3-6-10-9-15-1-6 10 7 13 11 6 4-6-10-9-15-1-6 10 7 13M3256 498l-3 14 8 5 12-8 6-11-6-1-9 11-1 14 10 2 12-10 3-10-6 2-8 13 1 12 11-1 11-11 1-9-8 5-7 14 3 10 12-3 10-12M3158 545l-4 14 7 5 12-6 8-11-4-2-9 9-4 13 7 6 12-7 8-10-4-3-9 10-4 13 7 6 13-7 7-11-4-2-9 10-4 13 7 5"/><path id="p" d="M2778 211l0 7 3 8 8 4 9 1 6-4 4-6 1-6 0-6 2-7 1-8-1-7-2-6-1-7 0-5 4-5 6-3 9-1 9 2 4 6 2 6M3179 436l-8-3-10-2-5 3-2 6-1 8 3 9 9 1 10 1 3 5 1 5-5 5-4 4M2776 215l6 7 6 8-2 7-1 7 2 7 5 6 8 5 7 6-1 9-4 9-2 6-1 5-2 5 1 5 5 7 4 7-3 5-4 3M3013 635l0 9 2 9 7 5 8 1 6-7 3-8-2-6-3-6 3-8 3-6"/><path id="q" d="M3463 233l-10-11-8 4-1 15 6 11 4-5-5-14-10-8-7 8 2 15 6 8 2-8-7-15-10-4M2906 471l-3 15 10 9 15-5 7-11-6-3-10 10-2 15 11 7 15-6 6-11-7-2-10 11 0 15 12 6 14-7 4-11M3289 387l-9-13-12 3-5 14 3 12 4-3-2-15-11-10-10 6-4 16 4 9 4-7-5-15-11-7-10 9-1 16 5 5M3271 181l-1 16 11 6 13-9 4-12-8-2-8 12 2 15 12 2 12-10 1-11-9 1-7 14 5 13 13-1"/><path id="r" d="M2942 498l-15-4-11 9 2 16 11 7 5-6-7-11-16-4-9 11 4 15 10 7 5-8-9-11M3340 230l-11-11-12 4-2 16 5 11 4-6-6-14-12-7-9 9 0 17 6 5 1-9-8-14-13-2-6 14 4 14 5 1M3027 477l5 14 9 0 8-13 0-12-4 2-1 15 6 12 10-4 6-14-1-10-4 6M2934 233l-9-11-9 3-1 14 5 12 4-2-3-13-9-10-8 3-1 14 5 12 4-2-3-14-9-10-8 4-1 14 5 12 4-3-3-13-10-10"/><path id="s" d="M3154 478l-3 16 10 8 14-5 7-12-6-3-10 10-1 15 11 7 14-6 6-11-7-3-10 11 0 14 12 6 14-7M2771 251l-11-10-11 4-1 16 6 11 4-5-5-14-12-7-9 8 0 16 7 7 2-8-7-14-12-4-7 12M2836 307l-14-6-7 8 5 14 11 7 3-6-9-11-14-4-4 10 7 14 10 5 0-8-11-11-12-1-2 11 8 13 9 3-2-10-12-10-11 2 0 13 10 11M2964 490l-13-11-14 6-3 16 7 10 7-8-7-14-15-5-10 12 2 15"/><path id="t" d="M3198 369l-15-1-4 8 9 11 11 6 2-3-12-6-14-1-4 8 9 11 12 6 1-3-12-6M2943 186l-6 13 6 7 13-4 9-9-3-4-11 8-6 13 7 7 13-4 9-10-3-3-11 7-6 13 7 7 14-4 8-10-3-3-11 8-6 13 7 6 14-4 8-9-3-4-11 8M3177 172l-14 4-1 9 13 9 12 1-4-3-16-2-10 6 5 11 15 6 7-1-10-4M3394 238l-11 10 3 13 14 5 12-5-3-6-13 1-11 12 5 12 16 4 10-6-4-6-15 3-8 12 6 12 16 3 9-7"/><path id="u" d="M3026 484l3-3 5-3 5-4 6-4 9 1 7 3 3 9 1 10-1 6-2 4M3232 167l7 1 9 1 9 4 6 6-1 9-4 7M2998 494l4 5 3 7-4 7-5 7-3 7-2 7-1 7-2 6-5 3-7-1-6-7-3-8 1-5 4-6 6-8 5-8 0-7-1-5 4-6 3-4M2763 296l-7 0-7-1-5-4-3-5-3-6-2-6-5-6-5-5-2-8 1-6"/><path id="v" d="M3447 497l-8-11-8 2-2 14 4 12 3-2-3-13-9-11-8 4-1 15 4 11 3-3-3-14-9-10-8 6 0 15 4 10 3-5-5-15-9-8M3266 480l-6 14 8 10 16-3 8-9-5-3-12 9-3 14 11 7 15-5 5-9-8 0-10 11 0 14 13 4 14-7 2-8M2970 192l-12 11 4 13 16 3 11-5-6-6-15 5-7 13 9 10 17 0 5-7-11-3-14 8-1 14M2901 184l1 15 10 3 10-10 3-12-7-1-6 12 2 14 11 2 10-12 0-12-7 2-6 14 4 12 11-1 9-12 0-11-8 4-5 15 6 11 11-3 8-14-2-8"/><path id="w" d="M3273 218l-6 6-6 8 3 7 5 6-2 5-2 5 7 6 7 6-1 6-2 4M3019 428l-6 2-5 3-3 7-2 8-2 5-4 4-7 4-8 0-7-6-6-9-1-8-1-5M3339 344l0 5 1 6 6 1 7 1 7 8 6 7 8 1 5-4 1-7 0-8-1-8 0-6M3093 650l6 2 7 3 7 2 7 1 7-3 6-3 8-1 8 0 10-5 8-5 4-4 1-4-3-5-3-5 1-10 0-9-6-3-6-1"/><path id="x" d="M3140 213l-15 6-1 13 12 9 13-1-2-8-15-2-12 8 3 14 14 7 10-4-7-8-16 0-8 11 7 13 15 4M2998 172l-7 14 8 7 15-5 8-8-6 0-12 12-1 12 12 2 14-8 2-6M2942 359l-16-4-7 11 8 15 10 4-1-8-15-9-13 4 2 16 11 10 5-3M3118 520l-15 4 1 10 13 8 12 0-4-4-16-1-10 8 6 10 15 5"/><path id="y" d="M3259 626l4 15 12 2 10-12 1-13-6 1-3 14 6 13 12 0 9-13-1-11-6 3-2 15 8 12 12-4 7-14-2-9-6 6M2939 311l5 14 11-1 7-14-2-11-5 4-1 16 8 9 11-6 3-16-4-6-4 10 3 15 10 5 8-12M3011 173l-13-8-12 7 0 16 10 8 6-6-5-14-14-5-10 10 3 16 10 5 4-9-8-13-14-2-8 13 6 14 10 3 1-12-10-12-14 2M3042 409l-5 13 7 7 14-5 8-10-4-3-10 10-4 13 8 7 14-6 8-10"/><path id="z" d="M3253 625l-12 9 3 13 15 4 11-6-5-6-16 3-7 12 9 11 16 0 5-8-11-3-15 7M3433 232l-14-6-12 8 1 16 9 9 6-5-6-12-15-5-11 9 1 16 10 8 6-5-7-12-15-5-11 9 2 16 10 8M2917 437l-10-11-11 3-3 15 4 12 5-3-3-13-10-10-10 4-3 15 5 11 4-4-3-14-11-9-10 6M3030 441l-14 4-1 9 13 7 13 0-1-4-14-2-13 5 1 8 14 7 12-1-3-4-14-1"/><path id="A" d="M3296 191l7-4 7-5 2-7 2-7 6-2 7-1 6-3 6-1 3 2 4 4 5 6 6 7 6 7 6 7 7 3 5 2M2813 421l-3-6-5-6-8 0-7 3-4 6 0 7 2 7 4 4 6 1 5-3 3-5 2-7-2-10-3-10-2-8-2-5M2961 354l-3-8-4-10-6-6-5-6 3-7 6-8 6-6 6-5 5-5 3-6 0-10 0-9 5-5 7-2 5 3 3 3M3402 236l-2-6-4-6-9-1-9-1-1-7 0-7-4-4-6-2-7-3-5-2"/><path id="B" d="M2869 299l-2-5-4-6-5-2-7-1-8-1-8 1-6 4-4 5-1 5-1 6-4 4-5 4-6 4-5 4-1 7-1 9-2 9-2 6M3264 418l-9 2-9 0-4-6-1-8 4-6 5-4M3331 430l2 6 5 5 8-1 9-5 5-6 3-8-1-9-3-9-5-4-5-1M3027 625l7 4 5 6-3 9-6 8-9 2-9 1-8 1-8-1-4-6-4-7-5 0-5 0-4-5-2-8-1-9 2-8 7-3 7 0"/><path id="C" d="M2913 187l-2 15 10 8 14-6 7-12-6-3-9 10-1 15 11 7 14-7 6-11-7-2-9 11M3426 283l-8-12-10 2-4 15 3 12 3-4-3-14-10-10-9 7-2 15 4 9M3009 358l5 14 10 1 9-13-1-12-5 2-2 15 6 12 11-3 7-15-2-10-6 6 0 16 9 9M2829 479l2 14 10 2 8-11 2-13-5 0-4 12 3 14 9 1 8-12 2-12-6 0-4 14 4 13 9 0 9-12 0-12-5 1-4 14 4 13 10-1 8-13 0-11"/><path id="D" d="M3193 490l5 14 10 1 8-13 0-12-5 1-2 15 6 12 11-2 7-14-2-11-5 5-1 15 7 11 11-5 6-15-3-9-5 8 0 15M2906 348l-15 0-6 11 9 12 12 4 3-6-11-9-14 1-5 11 9 12 12 3 2-6-11-8-15 1-4 11 9 12 13 3 1-7-11-8-15 2-3 11 9 12M3231 584l-10-13-13 2-7 15 5 12 7-5-2-15-12-9-13 7-2 16 6 7 5-9-5-15-13-5-11 12 1 15 7 2M3160 505l-10 12 5 11 16 1 10-8-6-6-14 5-7 13 9 9 16-2 7-9-9-3-14 7-3 13 12 7 15-4 2-9-11-1-12 10 1 12 14 4 13-6-2-8"/><path id="E" d="M2782 312l5 0 7-1 7-3 7-2 7 1 8 2 6 2 6 2 7 1 7 2 3 8 2 9 1 8 2 7 7 3 8 2 6 0 5-1M3467 250l-8 0-9-2-5-3-2-5 4-8 6-8 3-8 1-4-4 7-6 10-5 3-4 3 1 5 1 6-2 9-3 7M3282 228l-6 3-8 3-8-4-8-5-7-2-7 1-6 5-4 7 0 5 2 6 3 8 3 9-3 7-4 4M3035 423l3-3 6-1 9 5 9 4 6-4 6-3 7 3 7 3 5-3 4-4 5 0 6 2 6 6 5 8 4 8 3 7"/><path id="F" d="M3015 297l-10-11-9 4-2 15 5 11 5-4-4-14-11-9-9 7 0 16 6 8 3-6-5-15-11-6-7 10 1 15 6 6 2-9M3029 500l-12-9-8 6 2 15 7 10 2-5-8-12-12-6-5 9 4 15 6 7 0-8-10-12-11-2-4 11 6 15M3417 316l-14-5-9 9 5 15 11 7 3-8-10-11-14-1-6 12 8 14 10 3 0-10-12-10-14 3-2 13 10 13 8-1-3-11-14-8-11 6 1 15 11 10 6-4M3076 364l-9 12 5 9 15-2 10-8-4-5-14 5-7 12 7 8 15-3 8-8-6-4-13 7-6 12 9 6 15-4 6-8-7-3"/><path id="G" d="M3306 323l-8-5-9-4-8 1-6 5-3 9-1 10-2 6-4 4-6 2-6 2-2 5-1 6-5 6-3 5M3074 183l-8-2-9-3-6-7-6-7-8-2-9 0-8-1-8 0-3 6-1 6M3392 553l4-6 5-6 6-5 6-5 2-6 2-7 5-8 3-7-3-7-5-8-1-9-2-7-7-1-7 0M3231 669l4-5 4-6-2-7-5-5-7-2-7-1"/><path id="H" d="M3240 547l-5 14 9 7 14-7 7-10-7 0-10 13 0 13 13 1 13-10 1-7-10 5-7 15 5 9 15-4M3052 185l2 14 9 2 9-12 1-13-4 0-4 14 3 13 9 1 8-13 1-12-4 1-4 14M2867 248l-13 8 0 14 13 8 13-2-1-8-14-1-12 8 1 14 14 7 12-3-3-7-14-1-12 9 3 14 14 6M3294 200l-6 16 9 11 17-2 7-10-8-3-12 10-1 15 14 7 15-6 1-9-12 1"/><path id="I" d="M2971 223l-2 7-3 7-8 2-8-2-2-8 0-8 2-5 5-4 8-4 7-5-1-10-4-9-8-3-6-2M3412 496l-8-2-11-2-8 4-8 5-7-1-7-1-7 2-7 2-6 3-6 2-7 0-7 1-8 4-7 6-5 6-6 4-6-2-7-3-11 0-8 0M3297 529l-1 5 0 6 6 1 7 2 1 5-2 5-7 6-8 6-6 8-5 6-6 0-7-1-8 3-7 5 0 9-2 9-9 4-9 3M2764 239l-4-6-4-7 1-8 5-7 5-2 7 1 10 4 8 4"/><path id="J" d="M3102 591l-14-5-5 8 8 13 10 6 1-5-11-10-13-1-2 9 9 13 9 3-2-7-13-9M3001 526l-7-12-10 0-6 14 1 12 3 0 0-13-7-13-10 1-5 14 1 13 3-1-1-14-8-12-9 2M3361 173l-8-13-12 1-6 14 4 13 7-2 2-13-9-12-12 2-5 14 4 12 7-2 1-14-9-11-12 3-5 14 5 11 7-3 0-14-9-11-12 4-4 15 5 11 7-4 0-15M2892 242l0 15 11 7 14-7 5-12-5-3-9 11 1 15 11 6 14-8 5-11-6-2-8 11 1 15 11 5 14-8 4-11-6-2"/><path id="K" d="M3126 459l6 6 7 5 4-1 5-4 9-3 10-2 10 1 8 3M3005 369l3 9 0 10-6 6-8 5-4 3-4 2-9 1-8-1-3-5 0-5-1-7 0-7-1-8-3-8-4-10-4-8 3-5 5-3 9-2 8-1M3019 317l4 3 6 4 9 5 7 5 0 5-3 5-5 9-4 7M3336 562l-1 4-3 6-6 7-6 6-6 2-5 2-7 4-5 7 0 8 2 8 1 7 0 5-2 7-1 6"/><path id="L" d="M2884 538l-5-5-3-7 5-7 6-6-1-4-3-5-4-7-3-7-3-5-4-3-7-3-6-2-4 4-2 4-5 5-3 4M2975 511l0-5-2-5-7-5-8-2-7 6-5 7-1 6 1 4 4 4 3 4-2 6-3 6M2839 349l5 4 7 4 8 6 9 4 9 1 8-2 7-6 6-8 0-9-2-9-4-8-5-7-5-8-3-7 5-8 7-6M2887 500l-8 4-8 6 0 10 4 9 9 2 11-1 6 0 5-2 2-5 0-6 2-6 0-6-1-6-3-5"/><path id="M" d="M2881 365l-15-2-5 10 8 12 13 4 2-6-10-9-15-1-4 11 9 12 12 3 2-8-11-8-14 1-3 10 10 12 11 2 1-8-13-8M3295 182l5 14 11 0 7-13-1-13-5 4-1 15 7 11 10-5 5-15-3-9-5 8 2 16 9 7 9-9M2931 405l-13 5 0 9 13 6 13-1-3-5-14-2-12 6 4 10 15 5 10-3-7-5-15 0-9 8 8 9 15 3 6-4-9-5-15 2M3004 382l5 14 11 1 9-12-1-13-6 1-2 13 6 13 11-1 8-13-2-12-6 3-1 15 7 11 11-3 7-14-3-10-6 4 0 16 8 10 11-5"/><path id="N" d="M2995 414l-1 15 11 4 12-10 3-11-7 0-6 14 4 14 12-1 10-13-1-9-8 6-4 16 8 10 13-6 7-13M2797 198l-13 6 0 8 13 5 13-2 0-4-13 0-13 5 1 8 13 5 13-2-1-4-14 0-12 5 1 8 14 5 12-2-2-4-13 0-12 6M3280 542l-14 4-2 13 11 10 13-1 1-8-12-6-14 5-2 13 12 10 13-2 0-9-13-5-14 6 0 14 13 8 12-2-1-9-14-4-13 7 1 13 13 8 12-3-3-9-14-4-12 8 2 13M3073 604l-9-12-9 3-3 15 3 11 3-4-3-14-9-10-9 7-1 16 4 8 2-8-5-15-10-5-7 10"/><path id="O" d="M3424 258l-3 15 9 8 15-5 6-11-6-2-10 10-1 15 11 5 14-7 4-10-8 0-9 12 1 14 13 2M3105 442l-16-1-7 12 8 14 12 4 0-7-13-7-15 3-2 13 11 13 9 0-4-8-16-6-11 7 2 15M3354 202l-15-5-8 9 6 15 10 7 0-8-13-10-13 1-2 14 9 13 7 0-6-11-14-6-10 7M2901 506l4 14 11 1 8-12 1-13-5 1-2 14 5 13 11-1 8-13-1-11-5 3-1 14 6 12 11-3 7-14"/><path id="P" d="M3207 532l-10-12-14 2-5 15 7 12 8-5-2-15-12-9-12 7-1 16 8 7 6-9-5-15-13-4-10 11M3027 588l-10 12 5 12 15 3 11-6-3-7-13 3-9 12 5 12 15 2 11-6-3-7-14 3-9 13 6 11 15 2 11-7-4-6-13 4-9 12M3170 686l8 14 13-1 7-14-5-13-9 3-1 15 9 11 13-4 4-15-6-10-9 5 1 16 11 8 12-7 2-15-8-8-7 9 3 16 13 5 10-10-1-15-8-4-6 11 6 15 13 2M3248 640l-14-8-10 7 1 16 8 9 4-6-9-13-13-4-8 11 4 16 8 5 0-10-11-12-13 1-4 13 6 14 7 1"/><path id="Q" d="M3196 476l5 2 7 3 2 5 2 5 4 4 4 2 6-4 6-5 7-3 5-3 6-3 3-2M3180 636l-3 18-1 22 6 15 10 9 18 2 16-6 5-17-1-19-8-15-8-11"/><path id="R" d="M3371 368l5-3 7-4 4-6 4-8 1-8 3-6 7-2 8-1 6-5 2-7-3-10-4-9 2-4 5-3 6-3 6-3 6 0 6-1 3-9 2-9M3174 647l-4-3-3-5-3-7 1-8 8-6 9-5 6-6 7-5 9-2 7-2M3465 565l0 6 0 8 0 7 0 7 3 10 0 6-4-4-5-6M3155 112l5-1 5 1 4 9 0 10-5 7-6 6-2 6-1 6 2 5 2 5-2 7-3 6"/><path id="S" d="M3338 592l-6 13 7 9 15-3 8-10-7-4-12 8-4 13 10 6 15-5 4-10-9-2-11 11-1 13 13 3 13-8 1-9-11 2-10 12M2998 509l3 14 11 3 10-12 0-13-7 1-5 14 5 13 12-1 8-14-2-10-8 4-3 16 8 10 12-5 6-14-5-8-7 8-1 16 10 7 11-8 3-15M3331 578l-15 3-3 12 12 11 12 0-1-7-15-5-12 7 2 13 14 8 9-3M3369 551l0 15 11 4 11-11 2-12-7-1-7 13 3 14 11 0 10-12 0-11-8 3-5 14 5 12 12-2 8-14-2-9-9 6"/><path id="T" d="M3211 685l-5 3-6 3-5 0-5 0-6 3-4 3-3 6-2 4M3341 650l-2 4-4 5-9 1-9-1-8-3-6-5 0-9 0-9-5-1-6-2-6-7-4-9 6-6 7-6 0-7-2-8 2-8 1-8-7-8-7-5M3057 533l0 7-2 8-6 8-5 8 1 5 2 6 1 6 1 7 2 8 4 6 6 1 7-2 9-4 8-5 5-4 5-1 8 5 7 6M3201 361l-3 5-5 6-8 2-10 0-8-2-7 0-7 7-4 9 2 6 5 5 7 5 7 6 4 6 2 6-7 8-6 7 5 8 5 5"/><path id="U" d="M3261 392l-6 0-8 0-8 1-8 2-7 8-4 9 0 8 4 6 7 3 6 1M3230 511l-1-6-4-6-7-4-9-1-7 6-5 8 2 5 5 5 6 7 6 7 4 8 2 8-4 9-2 7 6 7 8 5 6 0 5-4 1-5-1-5M2862 231l-5-6-4-7 0-6 2-5 3-7 3-5 6-3 7 0 8 2 8 3 11 0 9-2M3053 238l-3 3-5 3-8 0-8-1-7-3-6-4-3-4-2-4-6-3-7-4-6-5-7-6-9-3-9 0-8 3-6 6-4 9-1 8 4 4 5 2"/><path id="V" d="M3414 600l1-8 3-9 6-6 7-2 8 1 8 5 4 9 1 10-2 6-4 3-6 0-6-1-8 3-8 2-9-2-8-1-6 4-4 5-8 3-6 1M3119 556l-7 0-9 1-4 4-3 4-7 3-6-1-3-7-4-7-8-1-8 0M3097 434l2-8 3-11 2-8 2-7-2-7 0-5 4-4 6-1 6 5 6 6M2956 494l5-1 6 0 8-1 8 0 8 1 9 2 10 3 9 1 5-4 2-6-3-5-4-6 2-10 2-9"/><path id="W" d="M3088 218l-6 2-8 3-4 6-3 8-3 8-3 9-2 10-5 9-8 0-9-2-6 4-3 3M2998 589l4-4 5-5 5-5 3-5 3-5 3-6 2-8 3-10 3-10 1-8-3-5-5-5-4-6-4-5-5-3-4-3 3-8 2-8-6-6-7-4M3187 247l6-2 8 0 8 5 6 7 2 8-1 7M3457 475l-6-5-8-6-9-3-8 0-3 6-3 7-5 3-6 2-6 0-6 1-10 4-9 3"/><path id="X" d="M3088 584l-12-9-11 5 0 15 9 10 6-4-3-13-13-8-10 6 1 15 9 10 6-5-5-13-12-8-10 7M3423 520l-5 15 9 8 14-4 7-11-6-4-12 8-3 15 11 6 14-6 5-11-8-2-11 10-1 14 12 5 14-8 2-10-10 0-10 11 2 14M3086 538l-14-7-8 7 4 15 8 9 2-5-9-11-13-4-6 10 6 14 8 6-1-7-11-11-13-1M2924 399l-14-4-6 8 6 13 10 8 1-5-11-10-13-2-4 10 8 14 9 4-2-7"/><path id="Y" d="M3333 535l-10-12-9 4-1 15 6 11 4-4-4-15-10-8-8 7 1 16 7 8 2-8-5-15-11-5M3146 615l-15-1-4 10 10 12 11 4-2-6-15-6-12 3 3 12 12 10 7 0-8-7-16-4M2840 173l4 15 11 1 9-14 1-11-6 4-1 16 7 10 12-5 6-15-3-7-5 10 2 16 10 5 11-11M3352 259l-15 4-1 11 12 9 12 2-1-4-15-2-13 6 2 11 14 8"/><path id="Z" d="M2935 294l2-8 2-8 5-4 5-3 4-4 3-3 4-4 4-4 4-6 3-6-3-5-3-6 2-4 5-3 9-1 8 0M3038 463l4-3 7-4 8-1 7 1 5 6 2 8-1 8 0 7 2 8 5 7 6 1 7 0 4 4 5 4 10 2 9 0M2939 191l-5 1-7 3-3 8-3 8-7 2-5-3-3-8-2-10 1-8 0-6-5-4-4-1M3459 537l4-5 2-6-4-5-7-4-8 0-9 2-9 0-8-1-1-5-1-6-4-1-6-1-8-1-10-2-7-4-5-5 1-7 0-7-7-5-7-4"/><path id="ba" d="M3390 546l-13-9-8 7 2 16 7 9 0-6-10-13-12-2-5 12 6 15 5 3-4-11-13-10-10 4M2980 565l3 15 14 5 12-11 0-13-8 1-5 14 7 14 14-1 10-13-3-10-9 6-2 16 10 10 15-6 5-14M2913 212l3 15 10 2 9-11 2-13-5-1-4 13 3 13 10 2 9-11 2-13-5 0-4 13 4 13 9 2 9-12 2-12M2823 333l8 13 13 0 8-14-3-12-7 2 0 15 9 11 13-3 6-15-5-10-6 5 2 16 11 9 12-7 3-16-5-7"/><path id="bb" d="M2830 307l4 4 3 5-4 7-5 7 0 5 2 5 7 5 6 4 4 6 2 6-5 5-5 5-4 5-3 4-6-1-5-4 0-7 1-9 1-8 1-7M2910 245l7 3 8 3 7-3 7-5 6-7 4-7 0-6 0-6 3-5 4-4 5 2 6 2 7-1 8-1 7-3 5-4 3-6-1-6-5-8-6-6M3162 391l-1-7-2-9-2-8 1-5 8 2 9 5 1 6-2 5M3014 283l4-4 6-7 7-6 8-5 6-4 7-5 7-6 6-7 2-5 1-5 7-7 8-5 9-1 7 1 6 4 4 5 3 5 3 3 8 0 7-1"/><path id="bc" d="M3053 241l5 14 13 1 9-11-2-14-8-1-5 13 6 14 12 1 9-12-2-13-9 0-4 13 6 13 13 1 8-13-3-13-8 1-4 14 6 13M3157 392l-12-8-9 5 2 14 8 10 5-3-5-12-12-8-9 5 2 15 8 10 5-3-5-13-12-8-9 6M3462 575l-11-11-12 4-2 16 8 10 8-5-3-15-13-8-10 8 1 16 9 7 5-8-5-15-13-4-9 11 4 15M2751 232l7 14 14 1 9-12-1-13-9 0-4 13 7 14 14 0 9-12-2-13-8 0-4 14 8 13 14 0 8-13-2-12-9 1-3 14 8 13 14-1"/><path id="bd" d="M3247 615l3 9 4 9 10 1 9 2 4 7 4 7 9 1 9 0 8 5 7 4 7-2 5-3 2-5 1-6 4-6 4-4M3248 328l3 6 3 5 5 4 5 3 5 4 4 2 6-1 3-5 0-9-2-8-8-3-6-2M3275 543l5 6 4 9-2 9-3 7-6 1-6 0-9 4-8 3-7 0-4-4 0-8 3-9 6-4 6-2M3253 239l-1 5-1 6-2 7-3 7-4 5-6 3-5 0-5 0-7 5-5 6 0 7 4 5 5 4 4 3"/><path id="be" d="M3061 528l-1 7-2 8-8 6-8 5-2 5 0 5 2 4 2 5-4 7-4 8 1 6 0 5-6 7-8 5-9 2-8 0M3046 272l-9 1-9-1-4-8 1-9 4-5 6-4 8-4 6-4 1-8 0-9-1-6-1-5M3259 281l8 0 9 0 7-5 7-6 5-3 5-4 3-9 2-9 3-6 1-4M3443 276l-6 7-5 9 3 7 7 5 7-1 7-1 6 3 3 2-4-2-8-4-9-2-10-4-6-7-6-6-8-2-6 2-4 8-2 8"/><path id="bf" d="M3297 240l-15 0-7 12 9 12 13 3 3-9-11-9-15 2-4 13 10 12 12 0 1-9-12-8-14 4-2 13 11 11 11-1-1-10-13-7-13 5 0 14M2827 426l-2 15 11 7 14-8 5-11-7 0-8 14 2 14 14 1 12-11 0-8-9 5-5 16 7 10M3352 233l-15-1-6 12 8 13 13 4 2-8-13-8-14 2-3 13 10 12 11 1-1-8-14-7-13 5-1 13 12 11M2867 433l-8-11-9 2-1 14 5 12 4-1-3-14-9-10-8 3-1 14 5 12 4-3-3-13-9-10-8 4-1 15 5 11 4-4-4-13-9-10-8 5 0 15 5 10 4-4-4-14"/><path id="bg" d="M3155 601l-9-12-12 3-5 14 5 12 7-2 0-14-10-11-12 4-3 14 5 12 7-4-1-14-10-10-12 5-3 15 6 10 7-4-2-15-11-9M3107 485l-13 8 0 13 14 8 13-3-1-7-14-2-12 9 1 13 14 7 12-4-2-7-14-1-12 10 3 13 14 6 12-4-4-7-14-1-11 10M3342 337l-5 14 8 8 15-4 7-11-6-4-12 9-3 14 11 6 14-6 5-11-9-2-11 11 0 14 12 4 14-8M2921 253l-14-7-8 8 3 16 8 8 0-8-12-12-12 0-3 14 7 14 5-1"/><path id="bh" d="M2860 195l-6 13 6 7 14-4 9-8-3-3-10 8-6 13 6 7 14-4 9-9-3-3-10 9-6 13 7 6 14-4 9-9-4-2M3057 616l-4 14 9 7 14-6 7-10-7-1-10 11-1 14 12 3 14-8 3-9-9 2M2789 400l-1 16 12 4 13-10 2-10-7 4-6 16 7 11 14-6 8-12M3041 490l6 14 13 2 10-12-1-13-7 1-4 13 8 14 13-1 9-13-2-12-8 3-2 15 9 12 14-3 7-14-3-10-8 5"/><path id="bi" d="M2854 417l0-5-1-6-5-8-6-6-5 1-5 2-7-5-6-5-4-5-4-3-6 2-7 1-5-6-3-7 3-5 4-5 2-8 4-6 5-3 5 0M3087 569l2 6 4 6 9 2 8 0 4-4 2-5 6-5 6-3 8 5 8 5 5-1 5-2 8 0 6 0M3382 284l-2 6 0 7 6 9 7 6 7-3 7-3 6 3 4 5 2 7-1 8-5 8-5 8 3 4 5 4 3 4 1 6-4 8-5 7M2999 468l8 1 8 0 4-7 0-8-6-5-7-6-1-8 1-9 4-7 4-7 1-8 2-7 8-3 7-2"/><path id="bj" d="M2958 209l-15 1-4 11 10 11 13 2 1-7-13-7-14 3-1 11 11 11 12 0-2-8-14-6-12 5 1 12 13 9 10-2-5-8-15-5-10 7 3 13 14 7 8-4-7-8-15-3-9 9M2849 284l-7-13-12 2-5 15 3 11 5-5-2-15-10-9-10 8-2 16 5 6 3-11-6-15-11-3-8 13 1 14M2782 219l-5 16 10 7 16-7 5-8-9 3-10 14 5 12 16-3M2900 244l-14 6-1 12 13 9 12 0-4-6-15-1-12 9 6 12 15 6 7-3"/><path id="bk" d="M2844 270l-6 4-6 6 0 6 3 6 7 3 7 3 4 5 3 5 2 8-1 8-5 9-7 8-3 7-4 6-9 2-8 0M2845 236l-2 5 0 6 6 3 8 3 5 7 3 8-1 7-3 6-6 6-7 4-9 2-6 1M2905 231l6 3 6 4 5 6 4 4 5-3 5-3 6 2 5 3 7 2 4 4-3 9-3 9M2820 280l-6 3-8 3-10 3-9 2-6-1-4-4 1-4 1-6-2-4-2-5 3-5 3-4"/><path id="bl" d="M2830 400l4 13 6 2 5-8 3-14 2-9 2 4 3 12 4 13 6 2 5-9 4-14 1-8 2 4 3 13 5 12 5 2 5-10 4-14 1-7 2 4 3 13 5 12 6 1 5-10 3-14 1-7 2 5 3 14 5 11 6 1 5-11 3-13 2-7 1 6 3 13 5 11 6 0 5-10 3-14 2-6 1 6 4 14 5 10 5 0 5-11 3-14 2-5 1 6 4 14 5 10 6-1 4-11 3-13 2-6 2 8 3 13 5 10 6-1 4-12 3-13 2-5 2 8 3 14 5 9 6-2 5-12 2-13 2-4 2 8"/><path id="bm" d="M2860 312l-15 2-2 10 11 9 13 2-2-6-14-5-13 4 2 11 14 8 9-1-5-7-15-3-10 7 5 11 15 6 6-3-8-7M2856 300l-15 2-5 13 9 12 13 3 2-7-13-7-15 4-3 13 11 12 12 1 0-8-14-6-14 5-1 14 11 11 11 0M2885 225l-11-10-8 4 0 16 6 10 2-5-6-14-11-7-6 9 3 16 6 6 0-10-8-13-11-2-3 13 5 14 5 1-3-13M2816 166l-3 15 10 9 15-5 6-11-6-3-10 11-1 15 12 6 14-7 4-10-8 0-9 12 2 14 13 4"/><path id="bn" d="M2911 307l-7 1-7 4-1 8-2 8-8 2-8 1-7 4-5 6-4 7-2 5M2903 326l-2-8-3-10-3-6-2-5 2-8 4-7 6-8 3-8-4-9-8-7-9 2-7 3"/><path id="bo" d="M2842 243l-10 12 6 12 15 2 10-9-4-8-14 3-8 12 6 12 15 0 10-8-5-8-14 4-7 12 7 11 15 0 9-9-6-7-14 4-7 13 8 11M2827 232l-14-6-8 7 4 15 10 7 4-6-8-12-14-3-6 10 7 14 9 5 2-8-11-12-12-1-4 12 8 14 9 2-1-10-12-10-12 2M2783 320l-1 15 11 5 12-10 4-11-7-1-7 14 2 13 12 1 11-11 1-10-8 4-6 15 6 11 13-3 9-13-3-7M2851 412l-13 7 2 11 13 6 13-4-2-7-14-1-11 8 2 11 15 4 11-4-3-7-14 0-11 9 4 10 15 4 10-6-4-6-15 1-10 9"/><path id="bp" d="M2927 297l6 1 7 2 8 3 9 2 8 0 9-1 8-1 8-1 5 1 5 1 9-1 7-2M2892 204l-2-6 1-8 5-5 8-1 6 4 5 7 3 9 1 8-3 4-4 3M2771 335l3-7 4-9 5-7 5-5 0-6-3-5-6-3-7-4-3-7 1-8 7-7 10-5 8 1 8 4 7 7 4 5M2937 342l-3-8-2-10 2-6 3-5-1-9 0-9 4-10 3-7"/><path id="bq" d="M2903 166l-14 4-1 9 12 7 13 1-1-5-14-3-13 5 1 9 14 7 11-1-3-5-15-2-11 6 4 9 14 6 10-1-6-5-15-1-10 6M2861 276l-16 2-5 13 10 13 12 1 0-9-14-7-14 6 0 15 13 10 10-3-5-10-16-3-11 10 5 15 14 6 6-6-10-9-16 1M2848 290l-13 7 1 9 13 5 13-1 0-3-13 1-13 7 2 9 13 5 13-1-1-3-13 1-12 7 1 9 14 5 13-1-2-3-13 1-12 7 2 9 14 5 12-2-1-2-14 1-12 8 3 8 14 5 12-2-2-3-14 2-11 8 2 9"/><path id="br" d="M2885 290l-11-11-12 4-3 15 5 11 4-3-3-14-12-9-11 6-2 16 6 10 4-6-5-14-13-7-9 8M2780 189l1 15 10 5 12-9 4-13-7-3-8 11 1 15 11 5 12-9 3-13-7-3-7 11 1 15 11 5 12-9 3-13M2804 240l6 13 10 1 6-13-2-13-6 0-2 13 5 13 10 0 7-13-2-13-6 0-3 13 6 13 10 0 6-13-1-13-7 0-2 13 6 13 10 1 6-13-2-13-6 0-2 12 5 14"/><path id="bs" d="M2926 298l-4 5-5 5-6 2-7 0-7 2-6 2-7-2-7-3-3-6-2-5M2885 178l2 5 3 6 4 4 3 4 0 7-2 7-4 7-6 4-9-4-7-5M2844 252l3-5 3-7 5-3 5-3 8-2 8-4 4-7 4-6 6-1 7 0 5-3 4-3M2896 294l6 5 9 6 9 4 8 2 6-5 4-6 5-3 4-4-3-9-3-9 8-7 8-6 1-8-1-8"/><path id="bt" d="M3281 1197l-15 0-3 11 11 11 11 2-3-7-15-5-12 6 5 12 13 8 6-2-10-8-16-1M3259 1102l-9 12 6 12 15 1 10-9-4-7-14 4-7 13 7 11 16 0 8-10-6-6-14 5-6 14 9 10 16-2 7-10M2821 1133l-15 3-4 11 11 12 12 2-1-7-15-4-13 5 1 14 13 9 9-1-6-8-16-2-10 9 7 13 13 7 5-5-11-7M3169 1003l-13-8-8 5 1 15 7 11 3-3-7-12-13-7-8 7 2 15 7 10 2-4-7-12"/><path id="bu" d="M3059 977l-7 12 6 11 15 0 10-9-5-7-13 5-6 13 7 10 15-1 9-9-6-6-13 6-6 13 9 10 15-2M3333 1086l-13-7-9 6 1 15 8 10 4-2-7-12-13-7-9 7 2 14 8 11 3-3-6-11-13-7-9 6 1 15 8 10M3194 1302l-13 6-1 10 13 8 12 0 0-5-14-2-13 6 1 10 13 7 12-1-2-5-14-1M3280 978l5 15 10 0 8-13 1-12-5 2-2 15 7 12 10-3 7-15-1-9-5 6 0 16 8 9 11-7 4-15-3-6-4 9 2 16"/><path id="bv" d="M3016 1410l-13-6-8 7 3 14 10 9 6-5-7-11-13-6-8 6 3 15 11 8 5-4-6-12-14-6-8 7 4 14 10 8 5-4M3101 1227l-14-7-10 8 2 15 11 8 6-7-7-13-14-4-9 10 5 15 11 5 4-9-9-13-14-1-6 12 6 14 11 2M3196 1379l4 16 13 2 11-12-1-13-9 3-3 15 8 12 14-4 7-14-5-8-8 8 1 17M3068 1345l-12 10 3 12 15 4 12-5-4-6-14 1-10 11 6 12 15 3 10-7-5-5-15 3-8 12"/><path id="bw" d="M2768 1110l7 14 12-1 7-16-2-10-5 8 3 16 12 6 10-11 2-15M2985 1143l-1 16 13 6 14-10 2-10-9 3-6 16 8 12 15-4M2973 1069l-13-8-11 6 0 15 8 10 7-4-4-13-12-8-11 6 0 15 9 10 6-4-4-13-12-8-11 6 0 15 9 10 6-4-4-13-13-8-10 7M3339 1199l-16-1-6 13 9 14 11 2-2-8-15-7-13 7 2 15"/><path id="bx" d="M3344 1346l-13-6-10 7 3 15 10 8 6-4-6-12-13-6-9 7 2 14 10 9 6-5-6-12-13-6-9 7 3 15 10 8 5-4M3346 1286l-15-7-9 9 3 16 8 8 2-8-11-12-14 0-5 13M2876 1172l-15 1-4 11 10 11 12 4 0-6-14-6-14 3 0 12 11 11 10 1-3-7-15-4-12 5M3237 902l-12-8-10 5 0 15 6 11 4-3-6-12-12-8-9 6 0 15 7 11 3-4-7-12-12-7-9 7 1 15 7 10 2-5"/><path id="by" d="M3273 924l-5-9-6-8-6 0-5 4-6 6-4 6-5 2-4 4-4 7-4 7-6 2-5-1M2800 1305l3 4 6 4 9 1 7-1 4-5 2-6 0-8-1-9 5-6 4-6-1-8-3-5M3266 1013l8-5 9-4 6 0 5 2 6 8 6 7 5 0 6-1 2 4 3 5 7 2 7 0 3-5 3-4 7 1 7 1 3-6 4-6 6-2 5 0M3212 902l6-6 6-7 1-6-2-4-7-3-9 0-4 6-3 8-5 6-3 5"/><path id="bz" d="M3003 1035l-8-13-11 1-5 14 2 13 4-2-1-14-8-12-10 4-5 14 3 12 4-4-2-15-9-10-10 5-3 16 3 9 3-5-3-15M3146 885l-6 14 9 11 15-3 9-9-6-4-11 9-4 15 11 8 15-5 6-9-7-2-11 11M2883 1069l-3 15 9 6 13-8 6-11-6-3-9 11-1 14 10 5 13-9 4-11-6-1-9 12 0 14 11 3M2976 1335l-5 15 9 8 14-5 7-11-6-4-11 9-3 14 10 7 14-6 5-11-7-3-11 10-1 14 11 5 14-7 3-10"/><path id="bA" d="M3278 1347l2 15 11 4 11-11 3-12-5 1-5 14 5 14 12-1 10-12 0-10M2925 1363l6 14 12 1 8-13-2-13-9 0-4 13 7 13 12 0 8-13-3-12-9 1-3 13 7 13 12-1 7-14-3-12-9 2-3 14 8 13 12-3 7-14-5-11-8 3-2 15M3281 925l-7 14 7 8 15-3 8-10-7-4-12 9-4 13 11 6 14-6 5-10-10 0-11 11 0 12 13 3M2926 956l-3 15 9 7 14-5 6-12-6-5-11 9-3 14 9 7 14-6 6-12-7-4-10 9-3 14 10 7 14-6 5-12-7-4-10 9-3 15 11 6"/><path id="bB" d="M3241 1182l6 3 8 3 5-1 6-2 6 0 5 0 3-6 4-5 9-4 9-4 3-6 2-5 7-1 9 3 6 8 5 8M2912 1021l2 7 4 8 10 3 9-1 3-7 4-8 8-4 10-2 9-1 8-2 5-2 5-2 8-2 6-2M2906 1358l-9-2-10 1-6 5-3 6M2857 1195l-6 2-6 4-3 3-2 5 1 9 2 10 2 9 2 8 1 7 2 6 4 6 5 5 8 5 7 1 4-5 3-6"/><path id="bC" d="M3361 1121l-8 13 7 10 14-1 10-9-5-7-12 4-8 13 7 10 15-1 9-9-5-7-13 4-7 13 7 10 15-1 9-10-5-6-13 5-7 12 7 10 15-2 8-9-5-7-13 6-6 13 7 9M3061 1288l-8-12-10 2-4 14 3 12 4-1-2-14-9-11-9 3-3 15 3 11 3-3-2-15-9-10-9 5-3 15 4 11 3-5-4-15-9-9M3177 1281l1 15 10 4 12-9 3-13-6-2-7 13 2 14 11 3 11-11 2-12-7 0-6 13 3 14 12 1 10-11 1-11-7 1-5 13 4 14 12 0M3252 968l-12 10 2 13 15 6 12-5-4-8-14 1-10 12 5 13 16 3 9-6-6-7-15 4-8 12 9 12 15 1 7-7-9-5-15 5-4 14"/><path id="bD" d="M2936 1235l-1 6-4 6-5 1-6 3-4 7-3 8-3 9 0 9 8 7 7 4M3029 830l8-1 10 1 8 3 4 4-2 7-1 8 6 7 8 5 6 0 6-3 7-3 7-1 6 3 4 5-2 5-1 5 4 8 4 7M3097 868l6-2 5-5-1-9-3-8-5-2-6 1-5 2-5 2-6 0-6-1M3320 923l-2-7-5-9-8-2-8 0-6 4-5 2-7-6-6-8"/><path id="bE" d="M3028 942l-15 5-1 13 12 9 13-2-2-9-14-4-13 8 3 14 15 6 10-5-6-9-16 0-9 10 7 13 15 3 6-7-10-8M3034 1189l-14 7-1 14 12 10 13-2-1-7-14-2-13 8 1 15 14 8 11-3-4-7-15-1-11 11 4 14M3022 1370l-8-13-9 3-3 15 4 11 4-3-3-14-9-10-8 6-1 15 4 9 3-6-4-15-9-7-7 9 0 15M3019 1319l5 15 12 2 11-11 0-13-6-1-4 12 5 14 12 2 10-11 1-13-7-1-4 13 5 14 13 2 9-12 1-13-6 0-4 12"/><path id="bF" d="M3408 1216l-14 7 1 11 13 8 13-2-4-6-15 0-11 9 5 11 15 5 9-4-8-5-16 2-7 11 10 10 15 3 4-6-11-3-15 5M3100 1282l-15-3-6 8 7 13 10 8 2-3-10-8-15-2-6 8 7 13"/><path id="bG" d="M2921 1107l-8-13-12 2-5 15 5 11 6-4-2-16-10-9-10 8-1 16 6 6 4-10-5-15-12-3-7 13M2837 1057l-14 5 0 8 13 6 13-1-1-4-13-1-13 5 1 8 14 6 12-1-2-4-14-1-12 5 2 9 15 5 11-2-3-4-15 0-11 6 4 8 14 5 11-2-5-4-15 0M2909 1191l-11 9 2 9 14 4 13-3-2-3-14 3-11 9 4 10 15 3 12-4-4-3M3042 951l6 13 11-1 6-14-3-12-5 4 0 15 9 10 10-6 3-16-4-8-5 9 3 16 10 5 9-10 0-15"/><path id="bH" d="M3317 1094l3 15 13 4 11-12 0-12-8-1-6 14 6 14 13 0 10-13-2-11-9 3-4 14 8 12 13-2 8-14-4-10M3125 1315l7 14 13 0 8-13-1-13-7 0-2 13 7 13 13 1 8-13-2-13-7 0-2 13 7 13 13 0 8-13-2-13-6 1M3397 1270l-12 11 4 14 15 5 11-6-4-8-15 3-9 13 8 12 16 2 8-8-9-5-14 5-5 14 10 11 16-1 4-9-11-3-14 8M3384 1157l-13 6 1 10 14 5 13-3-3-5-15-1-11 8 5 9 15 3 9-4-6-5-16 1-7 9 8 9"/><path id="bI" d="M3379 1345l-10 12 6 8 15-1 9-8-6-3-13 7-6 12 11 6 15-4 5-8-11 0-12 10 0 11 13 2 14-6-1-6M3345 1298l-10-12-11 4-3 15 5 11 5-3-3-15-11-9-10 6-1 16 5 9 4-6-4-14-12-7-8 8 0 16 6 7M3180 1367l3 15 12 3 11-10 0-13-8-2-7 12 4 15 13 2 10-12 0-12-9 0-6 13 5 14 13 0 10-12-2-12-9 2-5 14 6 13 13-1 9-13M3119 1352l3 14 9 2 9-12 1-13-4 1-4 14 5 13 10-1 8-13 0-11-5 3-3 15 6 12 10-3"/><path id="bJ" d="M3253 1330l-6 14 8 8 15-4 8-9-7-2-12 10-2 13 12 5 15-7 2-9-10 3-10 12 3 12 15 0M3130 923l-11-11-13 4-4 14 6 12 7-3-1-14-12-10-12 5-3 16 7 10 7-5-3-14-12-8-12 6-1 16 7 9 6-6-4-15-13-7-10 9M3294 914l-6 14 9 8 15-6 7-9-7 0-10 12 0 13 13 2 13-8 1-7-10 6-7 14 6 9M3330 1277l-12 11 5 15 16 4 10-8-8-6-15 5-5 15 12 10 15-2"/><path id="bK" d="M2944 1217l-14-4-4 7 8 13 10 7 0-6-13-8-12-1-1 10 10 12 8 3-4-7-14-8-10 3M3368 1232l-13 6 1 9 14 6 12-1-2-4-14 1-12 7 4 9 15 5 10-2M3021 1144l-1 15 9 5 12-9 5-12-4-1-7 12 0 14 10 4 12-10 4-11-5 0-7 13 1 14M3328 1396l6 13 13 2 9-13-2-13-8 0-4 13 6 13 13 1 9-13-2-13-8 0-4 13 7 14 13 0"/><path id="bL" d="M3055 946l-6 14 7 11 15-2 9-10-6-7-13 5-6 14 9 10 15-2 7-11-7-6-13 6-5 14 10 9 15-3 6-11-8-6-13 8-3 14 11 8 15-5 4-10-9-5-12 9-2 14M3009 1278l-10 11 5 8 14-1 11-7-4-3-13 6-8 11 7 7 15-3 9-6-6-2-13 7-6 11 9 5 15-3 7-7M3218 1259l-14-8-10 9 3 16 9 7 1-10-11-12-13 1-2 15 8 13M2887 1254l-16-1-7 12 9 14 13 2 1-10-13-9-14 5-1 14 12 10 10-3-5-11-15-5-11 9 5 15 14 6"/><path id="bM" d="M3227 1355l-15 5-2 13 13 10 12-1-3-8-15-3-12 9 4 14 15 6 8-5-8-7-17 1-6 12 9 13 15 2M2853 1106l-13 7 2 9 14 3 12-3-2-5-14 1-11 8 3 8 15 3 11-4-4-5-14 2-10 8 5 8 15 2 10-4-6-4M3269 1269l1 16 13 7 14-7 4-13-9-2-8 11 3 16 14 4 13-9 1-12-9 0-7 14 5 14 15 2M2943 1086l-1 15 11 6 13-8 2-13-8-3-9 12 1 14 13 3 12-10 0-12-10 1-8 13 5 13 13 0 10-12-3-10-10 4-6 15 8 11 14-4 7-13-5-7-11 7"/><path id="bN" d="M2979 1196l-2-6-3-8-1-7-2-6-5-6-5-7-3-6-3-7 0-5 0-6-3-7-5-6-5-3-5-3-2-10-1-9-5-3-4-1M3148 1203l1-5 1-6-1-8 0-6 6-3 6-1 4 6 3 7 8 0 7-1M3247 1052l-3-4-3-5 0-6 1-6-1-8-2-8-7-6-8-5-7-9-7-6-6 2-6 6-5 7-3 6M3378 1163l0-5 3-6 6-2 7-2-1-7-1-8 7-6 9-6 7-3 6-3 3-5 0-7-6-7-7-5"/><path id="bO" d="M2925 1123l0-6-2-7-10-4-9-1-3 4-3 6-9-1-9 1-2 7-3 8-9-1-9-1-3 5-3 4-9 0-10-1-10 1-8 1M2942 1326l-3 5-5 5-7 0-8 1-5 6-6 6-6 3-8 0-9-2-7-3-2-6 0-8-1-9-1-7M2836 1276l-6 4-6 6-1 10 0 10-5 4-5 2-6 0-5-2-1-5-1-6-4-4-4-4M3306 996l0 8-1 8 1 5 0 6-1 9 0 9 3 6 3 4 2 7 1 5 6 2 5 1"/><path id="bP" d="M3281 1367l1 15 11 4 12-11 2-12-7 0-5 14 4 14 12-1 10-12-1-10-7 4-4 15 7 11 13-4 7-14-3-7-7 8-2 16 9 8M3047 968l-9-12-10 4-3 15 5 11 5-4-4-15-10-9-8 7-1 16 6 8 3-8-5-14-11-6M3247 1167l-15 1-6 10 8 13 13 4 2-6-11-8-15 1-5 11 10 13 12 2M3210 965l-5 16 11 11 16-3 6-11-8-4-12 10 0 16 15 6 14-7 0-10-11 1-9 14 6 14"/><path id="bQ" d="M2855 1248l-7-7-9-5-8 3-6 7 0 8 2 7 0 5-2 6-4 7-3 8-1 8 1 7 0 7 3 4 10 2 9 0M3341 1065l8-2 10-3 8-2 7-3 4-6 3-5 7 1 8 4 7 1 6-1 7-4 5-4M2772 1083l5 8 6 7 7 0 6-5 2-9 1-10 6-3 8 1 7 6 7 7 8-1 8-2 11 2 9-1 6-8 2-10-4-5-5-4M3065 1205l-1-5-2-5-4-6-5-4-5 1-6 3-5 3-4 3"/><path id="bR" d="M2801 1267l-6 1-7 0-9-1-7-3-2-6 1-6 7-5 9-2 7 3 5 5-1 5-2 5 4 6 3 6-4 8-7 5-9 1-8-3-2-10 0-9M3469 1177l-8 0-7 2-3 9-1 11 2 9 1 8-6 8-6 6 2 8 4 5M3372 1247l-1 4-3 5-7 7-6 7 0 5 2 6 4 6 4 8-2 11-2 8M3206 1350l8-3 9-2 6 0 5 0 6-1 6-4 5-8 3-10-3-7-2-7 3-9 6-8 7-4 7-3"/><path id="bS" d="M2919 1042l9 0 10 2 7 3 4 6-2 8-3 9 4 8 3 7-1 5-4 3-7-1-7-2M3008 1261l-4-7-4-7-3-7-4-4-7 0-7 3-2 6-1 6-7 4-6 4-2 6-1 7-4 6-3 4M3127 1288l4-9 5-8 9-1 8 0 3-5 3-5 9 1 9 0 5-5 4-5 3-5 3-3M3368 1297l2 5 5 4 6-3 8-4 10-1 9-2 3-6-2-7-7-5-8-6-2-5 1-6-2-8-1-9 0-8 2-7 2-6 1-5"/><path id="bT" d="M3138 906l-10 11 5 8 15 0 10-7-4-3-14 6-7 11 9 7 15-3 7-7-7-1-14 8-3 11 11 5 15-5 3-6-10 1M3355 1168l-8 12 4 8 15-1 10-8-2-4-13 5-8 11 5 8 14-1 10-7-3-5-12 5-8 11 5 9 14-2 11-7-4-5-12 5-8 12 5 8 15-2 10-7-4-5-12 6-8 11M2963 1170l-14-6-9 7 1 15 9 10 4-4-7-11-13-6-10 7 2 15 9 10 4-4-7-11-14-6M2921 1291l-10 11 4 10 15 2 11-6-3-3-13 4-9 12 6 9 16 0 10-5-6-3-13 6-7 11 8 9"/><path id="bU" d="M3205 1138l5 4 6 5 5 6 5 3 8-2 7-5 5-7 2-8 4-5 2-3M2851 1149l-2-6-4-7-8-5-7-4-2-5 1-7 1-6 3-7 5-6 5-7 8-7 7-6 1-6-2-6-2-5-3-5-3-9-3-8M3088 958l-5-3-4-5 0-9 1-9 0-8-2-5-7-1-8 0-4-4-2-4-3-5-4-5-6-5-6-3M2993 1348l4-3 5-4 7-3 6-2 3-4 2-4 5-9 4-9 2-6 1-6-1-9-2-7"/><path id="bV" d="M3021 1056l6-5 8-4 6 3 7 5 8 4 8 4 8 1 7-1 3-5 1-5M3154 1168l-5 5-5 7 1 7 4 6 6 0 6-1 5 3 4 4 7-1 6-1M2994 1297l7 1 9-1 7-4 7-4 8-2 7 1 7 8 4 9-6 9-7 6M3294 1081l6 4 6 5 4 7 0 8-3 8-5 8-4 9-5 7-7 2-7 1-7 6-6 7-6 5-7 3-9-4-9-3-6 6-4 7"/><path id="bW" d="M2843 1039l-15 3-3 12 12 10 12 1 1-7-13-5-14 5-1 12 12 9 12 0-1-7-14-4-13 5 0 13 13 9 11-1-2-8-15-3M2960 1276l3 15 11 2 11-12 1-12-7 3-3 16 7 12 13-5 7-15-3-6-6 10 1 16 10 5M2906 1332l-3 14 8 6 13-7 8-10-4-2-9 10-2 14 9 6 13-8 6-10-4-1-9 11-1 14 9 4M2915 1156l-13-7-8 5 1 15 8 11 3-3-7-10-13-8-8 6 1 15 8 10 3-2-7-11-13-7-9 6 2 14"/><path id="bX" d="M3386 982l-5 2-5 4 1 7 1 7-6 4-7 3-5-1-6-2-10 0-8 1M3261 1153l2 6 2 7-3 7-5 6-4 4-4 3-5 3-6 1-8-4-7-6-6-6-3-7 5-8 7-6 8-1 5-2 2-10-2-10-5-3-5 0M3318 934l-4-4-6-2-7 4-7 4-5-1-6-3-9-4-9-4-8 0-7 0-5-3-2-4 2-9 4-8 5-4 6-3 9-6 8-5M2999 1452l-7-1-8 0-5 3-3 5-1 7 0 3 1-7 1-9"/><path id="bY" d="M2890 1165l-14-7-9 7 1 15 8 10 5-3-7-12-14-6-9 7 1 15 9 10M2878 1030l-12 10 3 12 15 4 12-5-5-5-15 4-8 11 7 11 16 1 8-6-9-3-15 6M3095 1331l-15 0-4 10 8 12 12 4 1-6-12-7-14 1-2 11 10 12 11 2-2-7-14-7-12 4 0 12 12 10M3254 873l-15-3-9 10 4 15 12 7 5-6-7-11-15-3-9 10 4 15 11 6 6-6-8-10-15-3-9 10 4 14 12 7 5-6-8-11-15-3"/><path id="bZ" d="M3314 1099l0-6 1-7 7-6 7-5 2-8-1-7-1-7 0-5 5-4 6-2 6-3 5 0 5 8 5 10 1 6-1 5-3 7-4 6M3181 1074l-7-4-9-5-10-4-7-5-1-7 2-7M3099 1008l-7-1-7-4-4-9-1-10 2-7 5-3 8 3 7 4 4-5 4-5 8 2 8 5 4 9 4 6 10-1 9-4M3389 1183l0-8-2-9-6-7-6-6 2-6 1-6-5-7-6-9-4-9-3-7 2-6 2-4-4-5-7-5-8-5-6-4"/><path id="ca" d="M3204 1191l-3 8-3 10 4 9 4 7-2 5-5 2-6 2-7 1-6 4-8 2-9-1-9-3-5-8-3-9 0-8 2-7 6-2 8 1 5 2 5 3M3020 1039l4 3 4 6-3 9-2 10 6 6 7 5 6 8 6 7 5 6 6 3 10 1 8-1M3094 1236l6-4 7-4 5-3 5 0 5 7 6 6 9 2 8-1 5-3 3-4 5-3 6-2 8-3 8-1 4 7 4 8 4 4 6 2 10-1 9-2"/><path id="cb" d="M2796 1155l-9-1-10 1-3 5 1 6 5 7 7 5 6 5 5 3 7 2 4 0M3188 1033l4-5 4-5 6 1 7 1 4-4 5-5 5-6 4-5 3-5 3-4 8-1 6-1M3341 1162l0-5 2-6 8-4 8-5 3-8 2-9 6-8 6-7 5-6 4-5 6 0 6 2 2 6 2 8 4 8 5 8-1 6-2 5M3326 1233l-4-6-5-8-3-6 0-7 3-8 5-8 4-6 5-3 8-1 6 1"/><path id="cc" d="M3144 1142l5 14 14 3 10-12-1-13-10 0-5 13 7 14 14 0 9-13-3-12-9 2-4 14 9 13 14-2 7-14M3048 1275l-8-14-13 2-6 14 4 12 8-3 0-15-10-11-12 6-3 15 6 9 7-8-3-15M3389 1186l-15 6-3 15 12 11 13-1-3-8-15-3-13 9 4 16 14 7 8-4-8-9-16 2-8 13 8 14 15 3M2809 1164l3 14 9 2 9-12 0-13-6 0-4 13 4 13 10 1 8-13 0-12-6 1-4 14 4 12 10-1 8-13"/><path id="cd" d="M2936 955l5-5 6-4 4 2 4 5 4 5 3 7 1 10-1 9-1 6-3 5-5 7-5 5M3351 1384l-1-6 1-8 5-8 5-9 3-6 2-6-5-8-3-9 3-6 5-5 3-7 2-6 1-8 0-7M3074 1146l7 7 6 8-2 10-4 8-6 1-6-2M3288 1412l6-6 6-8 2-7-2-5-6-6-9-5-8-5-7-5-3-8-3-6-9 0-8-1-3-7-2-8-7-6-7-6-5-6-6-6-8-6-7-5"/><path id="ce" d="M2858 1084l-1 7 2 8 8 4 9 4 2 9 1 10 6 7 8 4 6-3 6-6 4-7 2-7M2894 1155l4-1 7-1 9-5 8-6 7-5 4-5-1-6-4-5-8-2-8 2-5 3-2 6 3 8 3 8 0 8 0 5M2970 1020l-5 2-5 3-3 6-3 7-4 8-5 6-6 0-7-2-7 1-5 2M3194 1003l8 2 9 2 6 4 7 2 8-1 10-1 7 7 8 6 7-3 6-5 7 1 5 0 3-9 3-9 8-5 7-3"/><path id="cf" d="M3293 1034l-15 5 0 11 13 8 12 0-4-4-15-1-11 8 5 11 15 6 7-2M3344 990l-4 16 11 10 15-3 7-11-6-4-12 10-1 16 13 8 15-6 4-11-9-1M2983 1184l-15 2-3 10 10 11 13 3 0-5-13-5-14 2-2 11 12 11 11 2 0-6-14-4-14 3 0 12 12 9 11 2-2-6-15-4-12 4M3375 1319l-11 11 5 10 17 2 9-5-7-3-14 7-5 12 12 7 16-2 2-6-13 2-12 10"/><path id="cg" d="M3240 1267l6-1 7-2 6-2 5-1 5 3 3 4 0 6 0 7 2 4 4 4 9 4 9 4 7 1 6 0 6 4 3 5M2870 1102l5 0 7 1 5 1 6-1 8-2 7-4 0-7-1-6 4-3 6-1 7 1 7-1 3-9 4-9 5-4 6-2 8-2 7 0M3101 1026l3 6 3 7 1 5-1 6-2 8-3 8 2 7 3 6 8 8 8 5M3299 1467l8-2 8-3 4-6 1-7-1-5-3-4-9-5-8-4"/><path id="ch" d="M3063 840l-15 2-3 11 11 10 13 2-1-6-15-5-13 4 1 12 14 9 9 0-5-7-15-3-11 7 6 12 13 7M2880 1135l-15 4-2 10 13 9 12 1 0-6-14-4-13 4 0 11 14 8 11 0-3-7-15-2-11 6 3 10 14 7M2984 978l-11 10 3 12 15 3 12-5-5-6-14 3-9 11 7 11 16 0 8-6-8-4-15 5-5 13 11 8 16-2 3-7-11-2-14 8 0 12M3002 1237l-7-13-11 1-6 13 3 13 7-2 2-14-8-12-11 3-5 14 5 12 7-4 0-15-9-10-10 4-4 16 6 9 6-6-1-15-9-9-11 7-2 15 6 8 6-8-2-15-10-7"/><path id="ci" d="M3179 1113l-8 13 6 8 15-3 9-9-6-3-13 9-5 12 11 5 15-6 4-8-10 0-12 11 1 11 13 2 13-8-1-7M3380 1032l2 15 9 3 10-11 4-12-4-1-4 12 2 14 10 3 10-11 3-12-4-1-4 13 3 14 9 3M3155 918l-10 10 4 8 14-1 12-6-2-3-13 4-9 11 4 7 14-1 11-6-2-3-13 5-9 10 5 7 14-1 11-6-3-3-13 5-9 10M2889 1208l1 15 12 6 13-9 3-12-7-3-7 11 2 15 12 5 12-9 3-12-7-2-8 12 3 14 13 4"/><path id="cj" d="M3295 1228l-7 5-9 6-8 6-8 4-4-1-3-6-5-8-5-8-6-5-6-2-8 4-9 5-7 3-8 2-11 1-8 0M3107 1348l-5-1-6-3-6-5-5-6-2-6 1-5 1-6 1-5 0-7 0-7-3-7-3-6-3-5-1-5-3-5-1-5 1-5 2-5 1-6 1-4M3165 1086l2 4 3 5 3 7 4 6 9 5 9 1 5-3 5-4 9 2 8 2M3437 1029l-5 3-7 4-7 1-6-1-2-6-1-7-3-7-2-7 5-4 5-2"/><path id="ck" d="M3446 1248l-2 4-4 5-4 5-4 4-7 4-7 1-5-3-4-6-3-7 2-7 9-3 9-2M2918 1310l-3-4-6-4-7-4-7-2-5 1-4 4-3 6 1 7 9 4 8 4 0 7-3 8 0 8 0 7-6 6-6 2-6-3-4-5 3-7 4-6M3193 1309l4 2 5 4 2 9 1 9-5 5-5 5-3 6-4 6-6 5-6 3M3466 1102l2-7 4-8 5-4 5-4 4-5 2-4"/><path id="cl" d="M2772 1206l6-2 7-3 4-5 4-5 2-7 2-6M3080 1295l2 5 3 7 0 6 0 7 0 9-2 9-8 5-9 4-8 0-8 0-6-1-5 1-2 9-4 9-9 1-9-2M3137 986l6 5 8 6 8 5 8 3 8-5 9-6 10 1 8 3 4 6 0 7-6 5-8 4-8 4-7 6-6 8-3 7M3051 889l9 0 9 2 5 5 1 7-2 6-3 7-4 9-2 8"/><path id="cm" d="M3323 1046l-9 13 6 12 15 2 11-8-4-7-12 4-9 12 6 13 15 2 11-8-4-7-12 3-9 13 6 12 15 2 11-8-4-6M3229 879l-6 15 9 9 16-5 6-11-8-4-12 10-1 15 12 5 14-8 3-10-11 0-10 12 3 14 14 1 12-10-2-8-12 4-7 14 7 11M3212 1211l-13-9-10 6 0 16 8 9 5-7-7-13-14-5-7 11 4 15 8 5M3374 1132l-10-11-10 4-2 15 5 12 3-3-5-14-11-9-9 7 0 16 5 9 2-6-7-14-11-6-7 9 1 16"/><path id="cn" d="M2985 1166l-7-6-8-6-9-1-8 3-8 5-9 5-7 3-6 2-8-2-7-3-7-2-5-1M3512 1071l-4 5-6 4-7-5-8-4-6 3-4 5M3070 1170l1-7 4-8 8-1 9 1 5 1 5 3 5 1 6 0 9-2 8-5-2-8-2-8 7-6 8-5 3-7 3-5 8 1 9 4 6 1 5 0M3381 1389l1-5 0-7-1-10-3-9-7-2-7 0"/><path id="co" d="M3380 1225l7 3 10 4 6-2 7-3 10 2 9 2 6-3 6-4 5-3 5-4 9-4 8-6 1-6-1-6-6-3-5-1M3090 1205l3 6 2 7 3 10 4 8 9 1 10-2 10 1 9 1 10-1 6-2 2-7-1-5M3393 1058l-8 3-9 4-5 5-6 4-5 3-6 0-10-3-8-5-1-6 1-4M3208 1255l7-5 9-6 10-4 8-2 5 4 4 4 5 2 4 3 5 5 2 7-3 6-6 6-6 6-7 5-4 5-6 4-10 2-10 0"/><path id="cp" d="M3213 1291l1 14 10 2 9-11 2-13-6 1-5 13 3 14 10-1 9-13 0-11-7 4-4 14 5 12 11-4 7-14-2-9-7 7-2 15 6 9 11-6 6-14-3-7M3337 1194l0 16 12 5 13-9 1-13-9 0-8 13 5 14 14 0 10-13-3-9-11 4-4 16 9 10 14-5 6-14-7-5M3312 997l-15-7-9 9 4 16 10 7 0-9-12-12-13 2-2 14 8 13M3045 1195l-14-6-7 8 6 15 8 7-1-7-12-11-12 1-1 13 9 13 5 0-7-10"/><path id="cq" d="M2970 930l-7-1-9-1-8-3-7-3-6 0-4 3-1 8 1 8M3284 1383l-9 3-11 1-8-2-6-4-4-5-1-5 5-4 7-4 4-3 2-5-2-9-5-8-8-3-7-2-5-6-5-7-7-7-5-5M3269 910l0 5-3 6-8 1-11-2-9-4-8-5-4-7-1-8 4-6 5-6 0-7-1-6M3220 1106l6-5 8-6 9 0 9-1 5-7 4-9 2-10 3-8 7-2 9 1 7 5 7 5 9 5 9 2 8-2 8-5 5-6 5-5 9 3 9 4"/><path id="cr" d="M3239 1205l-8-12-9 2-3 15 4 12 4-4-2-14-9-10-9 6-1 16 5 9 3-7-4-15-10-7-7 10 1 15 5 6 2-10-6-15-10-3-6 12 3 15 5 2M3307 1037l-11-10-12 4-3 16 7 11 4-6-5-14-13-7-10 10 1 16 7 6 2-10-9-14-13-1-6 13 4 15 6 0M2936 1105l-15 1-3 9 10 11 12 4 1-4-13-5-14 1-2 10 10 11 12 3 0-4-13-6M3148 1242l-15-2-6 9 8 14 11 5 0-6-12-8-14 1-2 11 10 13 9 2-3-7-14-7-12 4"/><path id="cs" d="M3022 1376l-8-12-9 1-3 14 4 13 4-1-1-13-8-12-8 2-4 14 4 12 4-1-1-13-8-12-8 2-3 14 3 12 5-1-2-13-7-12-9 2-3 14 4 13 4-2-1-14M3249 1102l-12 10 3 12 15 4 11-6-3-9-14 0-10 11 4 12 15 3 11-7-4-8-15 1-9 11 6 12 15 2 9-8-5-8-15 3-8 11 7 11 16 1 8-8-7-7-15 3M2976 1289l-14-5-9 8 4 14 10 8 5-5-8-11-14-5-8 9 5 14 10 7 4-6-9-11-13-4-8 10 6 14M3178 1364l-15-2-6 10 7 15 11 4-2-7-14-8-13 4 1 14 11 12"/><path id="ct" d="M3335 1207l-10 11 4 10 14 1 12-6-2-6-14 3-10 10 4 10 15 1 11-6-2-6-13 3-10 11 4 9 14 2M2884 1241l-2 14 9 6 13-8 5-12-6-3-9 10-2 14 10 5 12-8 4-12-6-3-9 11-1 14 10 4 12-9 3-12-6-1-9 12 0 13 10 3 12-9 3-12-8 0-8 12 1 13 11 2 11-10 2-11-8 0M3246 1127l-15-1-5 10 10 13 12 3-1-7-13-8-13 3 0 12 12 11 9-1-5-9-15-5-10 6 5 14 13 7 5-4M3290 1371l-13 6 0 11 14 7 12-4-1-7-15-2-12 8 3 11 15 5 11-5-5-7-15 0-10 9 6 11 15 3"/><path id="cu" d="M2942 1294l-5 2-5 4-1 8 2 7 7 8 8 5 7-1 7-1 6 4 5 3 5-3 5-3 8-1 6 1M3298 917l2 4 4 5 6 4 4 5-3 8-3 7 2 8 4 5 8 0 7-3 1-6 0-6M3320 1169l5 2 6 1 4-5 1-5-4-5-6-4-7-5-6-6 0-8 2-6 4-3 6-1 8-2 9-3 5-3 3-4 3-6 3-7 4-8 2-5M3054 1319l-1-8 0-9-2-6 0-5 4-4 3-4 0-6-3-7-6-7-8-7-7-5-7-4-5-3-6 0-10 2-9 3"/><path id="cv" d="M3024 1439l-9 2-10 0-6-6-6-7-6 2-6 2-4-3-4-5-3-5-2-4 4-5 4-4M3083 1114l-9 0-10-2-8-2-7-2-8 0-7 1-6 5-4 5-2 6 0 5M3045 1106l4-5 6-6 0-7 2-6 8 0 8-1 3-6 2-8 1-9 0-7M3314 1353l-7-2-8 0-5 4-2 6 1 5 3 4 6 1 7-1 6-5 4-8 1-9 0-9-5-8-6-5"/><path id="cw" d="M3261 1069l-14 6 0 11 14 6 12-2-1-5-15-2-12 7 3 10 14 6 11-3-4-6-15 0-10 8 5 10 15 4 9-4-7-5-15 1-8 9 7 10M3038 1403l-2 16 10 5 14-8 4-11-8 1-8 14 4 13 14-2 10-12-3-6-10 9M3396 1046l-9-13-12 2-6 15 4 11 7-4-2-15-10-9-11 6-3 16 6 8 5-8-5-16-12-5-9 10 0 15 7 4 3-12-7-14M3277 1181l2 14 9 2 9-12 2-12-5 1-4 13 4 14 9-1 9-13 0-11-6 3-3 15 5 11 11-3 7-14-1-9-6 6-2 15 6 10 11-6 6-14-3-8"/><path id="cx" d="M3045 1324l4-3 5-3 9-2 7 0 4 3 3 5 4 6 6 8 7 6 9 5 9 6 8 4M3406 1287l-5 6-4 7 1 5 3 5 4 8 2 7-2 5-5 3-6-2-6-3-6-4-6-4-2-7 0-9 4-9 5-9 6-4 5-3M2923 1218l6 4 5 6 0 7-3 6-10 1-9 1-1 5-1 5-6 2-9-2-6-7-7-6-5-3-4 0M2839 1034l-6 1-6 3-1 9 2 9 1 6 0 4-2 5-3 5-4 4-2 4 4 5 5 4"/><path id="cy" d="M3216 1218l4 15 11 2 10-12 0-13-7 2-3 15 6 12 12-2 8-14-3-10-7 7-1 16 9 9 12-7 5-15-5-5-7 10 2 16 11 4M3157 929l-5 14 8 8 15-5 8-10-4-1-11 11-2 14 11 5 14-7 5-9-6 2-10 12 1 13 12 2M3258 893l-10 13 6 11 16 1 10-7-5-5-14 6-6 14 9 9 16-2 7-7-8-3-14 9-2 13 12 7M3180 886l-11-9-7 5 1 15 7 10 2-4-7-12-12-7-5 8 3 15 7 8 0-7-9-13-11-3-4 10 5 15"/><path id="cz" d="M3359 1119l-5-3-5-5-3-6-1-6 5-6 6-5 4-5 3-5 5-1 7 0 9-2 10-1 11 1 9 2M3337 1342l-5 0-7-2-8-5-7-6-3-7-1-8-2-7-3-5-8-3-10-1-9-2-8-2-7-1-5-1M2994 1398l2 4 1 6-4 5-6 5-5 4-5 4 0 7 3 8 9 3 9 2 3 6 0 7-6 5-7 4-7 2-6-2-3-9-1-11 0-11 0-9M3315 1300l-5 8-6 8-5 4-4 5-5 9-2 9 2 6 5 3 7-3 9-4 9-4 9-4 7-5 5-7 2-9 1-10 2-11 0-8"/><path id="cA" d="M3025 1317l1 15 11 4 12-10 3-12-7 2-6 14 5 13 13-1 10-13-1-8-8 6-3 16 8 9M3203 911l-9-12-10 3-3 15 3 12 3-2-4-14-10-10-9 5-2 15 4 11 2-4-4-14-11-9-8 6M3282 1048l-13-9-8 6 2 15 8 10 2-5-7-13-13-5-6 9 4 15 8 7 0-8-10-12-12-3-3 12 5 15 7 3-2-10-11-11-11 1-1 13M3200 913l-7 14 8 10 16-1 8-10-8-5-13 8-2 15 12 7 15-5 3-10-11-1-11 12 2 13 15 3 12-8-2-8"/><path id="cB" d="M2912 1205l-7 6-6 8 1 9 4 8 1 6-1 6-4 4-5 2-9 0-8 1-4 7-1 7 2 5 2 6-3 8-3 7M3231 1377l-6 6-6 7 0 8-1 6-9 2-9 1-8-4-5-6-5-9-2-9 3-5 3-5-3-7-1-6 4-5 7-2 6 1 6 3 7 8 5 7M2959 1348l0 7 0 9-2 9-1 8 1 7-1 5-8 3-9 2-9 1-6 3-2 10 1 7 5-5 6-7 6-1 5 0M3258 1268l4-8 7-8 6-2 8 1 6 5 7 5 9 2 9 2 8 1 6 0"/><path id="cC" d="M3351 1108l1 15 9 3 10-11 3-12-4-1-6 13 2 14 10 1 10-11 2-12-5 2-5 13M3085 860l-12 8 2 9 14 3 13-4-2-3-14 2-11 9 4 8 15 2 11-3-4-4-14 4M3398 1262l-12 9 2 11 15 4 12-5-4-6-15 1-10 10 6 10 16 2 9-6-7-6-15 4-7 11 9 9 16 0 5-7-10-4M2812 1228l-8 13 7 10 16-1 9-9-7-4-13 8-4 13 11 8 16-5 4-9-10-1-12 11 1 13 14 4 13-7 0-8-12 3-10 13"/><path id="cD" d="M3255 1208l-4 15 10 7 15-6 5-12-9-1-10 11 1 14 13 3 13-10 0-9-11 3-8 14 6 11 15-2 9-12-4-6M2807 1272l1 15 11 5 12-9 4-13-6-1-6 11 1 15 12 4 11-10 4-12-7-1-6 13 2 14M2794 1107l-12 8 2 9 14 4 13-4-3-4-14 3-11 9 5 9 16 2 10-4-6-4-14 4-9 10 8 8M2871 1129l-1 16 10 6 14-8 3-13-9-1-9 13 3 14 13 1 11-11-1-10-10 3-7 15 7 11 14-3 8-13-5-6-10 8"/><path id="cE" d="M2948 1375l-2 15 9 5 13-9 6-10-5 1-8 13 2 13 11 1 12-11 2-8M2983 1242l-11 11 6 8 16-1 9-6-7-1-14 8-3 11 12 4 15-4 2-5M3279 1082l-1 15 12 7 13-7 3-13-9-3-9 11 2 15 13 4 12-10 0-12-10 1-8 13 5 13 14 1M2836 1115l6 14 12 0 8-14-2-12-6 3-1 15 9 11 11-5 5-15-4-9-5 7 2 16"/><path id="cF" d="M2983 990l3-4 2-6-2-6-4-3-6 2-6 3-5 5-5 3-8-1-8-3M3121 1030l6 4 9 4 8 1 9 1 10 1 10 1 8 0 8 2 6 5 7 4 8-1 7-3M3335 1090l-1-6-1-8 3-7 2-7-1-5-3-4-5-5-6-3-5 4-5 6-9 4-8 5-1 8 2 9 4 7 4 7-2 7-4 7-6 8-4 6M3367 1199l-2-6-4-7-9-6-9-3-5 2-5 4-4-2-5-2-7 2-7 4-4 6-1 7 5 6 8 4 6-3 5-4"/><path id="cG" d="M3224 995l-14 5-1 12 13 9 13-2 0-8-13-4-14 6 0 12 13 8 13-2-1-8-14-4-13 7 1 12 14 7 12-3-2-8-14-3-12 8 2 12 13 6 12-3-3-8-15-2-11 8M2881 1025l-14 3-3 11 10 10 13 1 2-8-12-6-14 3-3 11 11 10 13 1 2-8-13-7-14 4-2 12 12 9 12 0 1-8-13-6-13 4-2 12 12 10 12-1 0-9-13-5M3235 983l-7-13-10 1-5 14 2 12 4-3-1-15-8-10-10 4-4 16 3 9 4-6-3-16-9-8M3243 1214l-15 0-4 9 9 12 12 5 0-6-12-7-14 2-2 10 11 12 10 2-2-6-14-6-12 3 0 11 12 11 9 0-4-7-15-5-11 5"/><path id="cH" d="M3238 905l-3 16 10 7 15-6 5-11-6-3-10 11 0 15 12 5 13-8 4-11-8 0-9 13 3 13 13 3 12-10 1-9-9 2-7 14M2974 1332l1 15 10 3 10-11 3-13-6 0-5 13 3 14 10 1 10-13 1-11-7 2-4 14 4 13 11-2 9-13-1-10-6 4-3 15M2833 1267l-6-13-11 1-6 14 3 12 6-2 0-15-8-11-10 4-5 14 4 11 6-5-1-15-10-9-10 6-2 15 4 9 5-8-2-15-10-7-9 8-2 16 6 6 4-10M3233 1211l-14-3-6 7 7 13 10 8 1-3-11-9-13-2-5 8 8 13 10 7 0-4-12-9-13-1-3 9 8 13"/><path id="cI" d="M3279 1161l-14-9-11 8 1 16 10 8 5-9-8-13-15-3-7 13 6 15 10 1 0-13-12-10-13 4M3208 1268l-5 14 8 6 13-6 7-11-5-4-10 9-4 13 8 7 13-6 6-11-5-4-10 9-4 13 8 6 14-6 6-11-5-3-10 9-4 13 8 6 13-6 7-12-6-3-10 9-3 14 8 6 13-7 6-11M2821 1251l-1 14 9 6 13-8 6-11-4-1-8 11-1 14 10 5 13-8 5-11-4-1-8 12 0 14M3063 1336l-12 10 4 10 15 2 11-5-4-5-14 3-9 11 7 9 16 0 8-6-7-3-14 5-6 11 9 8 16-2 6-6-10-2-14 7-3 11 12 6 15-3"/><path id="cJ" d="M2975 1316l4 14 10 0 7-13 0-12-5 2-1 15 6 12 10-4 6-15-2-9-4 6 0 16 8 8 9-7M2958 1311l-13-12-12 6-3 17 7 9 4-9-7-14-15-3-8 13 4 15M3308 1420l-12-10-10 5-1 16 7 10 5-5-5-14-13-7-9 9 2 16 7 7M3010 1398l-15 1-2 9 12 10 11 3-2-4-15-4-12 3 2 11 14 8 9 1-7-5-15-3-10 6 7 11 14 7 5-2-10-5"/><path id="cK" d="M2930 1340l-2 16 11 6 14-7 4-12-8 0-9 13 3 14 13 1 12-11 0-9-10 5-6 15 7 11M2868 1287l-7 13 7 9 15-3 8-9-6-4-12 8-5 14 10 6 15-6 5-9-9-1-11 11-1 12 13 3 13-7 1-8-11 2-10 12 4 11 14 0 11-8-2-7-12 6M2955 1351l-3 15 10 10 15-5 7-11-7-5-11 9-2 15 12 8 14-6 5-11-8-4-11 11 0 15M3259 1334l-16 1-6 12 9 14 12 3 0-8-14-7-14 5-1 14 11 11 10 0-5-9-16-5-11 9 4 14"/><path id="cL" d="M2779 1125l-8 14 8 11 17-1 8-9-8-2-13 10-1 14 13 6 15-6 2-7M2852 1038l0 16 12 5 13-9 3-12-6 0-7 14 4 14 13 1 11-11 0-10-8 4-4 16 7 11 14-3M2790 1212l3 15 10 1 9-13 2-11-4 4-2 16 6 10 11-5 7-14-1-7-5 10 1 16M3219 1285l-15-5-10 9 3 16 10 8 6-6-7-11-15-4-10 9 3 15 10 8 6-5-7-11-15-5"/><path id="cM" d="M3272 1393l-9 0-9 0-4-3-3-5-1-9-2-9-4-4-2-4 2-9 2-9-5-5-9-3-8 1-9 1-10 1-8 1M2791 1233l7 3 9 2 8-4 6-3 5 3 5 6 8 7 8 4 10-3 8-3 5 5 4 7 4 6 3 4M2999 1464l-3-9-4-9-3-6-3-3-7 2-6 4 0 6 2 7 3 6 4 4 6 2 5 1M2797 1145l-3 7-5 8-5 2-5 0-5-2-3-5 1-9 5-10 8-4 8-1"/><path id="cN" d="M2853 1205l-15 1-3 10 10 11 12 4 0-4-13-5-14 2-2 11 11 10M2927 1311l-6 15 8 11 16-1 9-10-7-4-12 8-4 15 12 9 16-5M3162 1365l0 16 11 4 13-10 3-11-8 3-5 16 5 12 14-4 10-13M3012 1354l-12 8 2 8 15 2 12-4-4-4-14 3-10 8 6 7 16 1 9-5-7-3-15 4-7 9 10 6 15-1 6-5-10-1"/><path id="cO" d="M2984 1141l8 10 6 2 2-10 0-14-1-9 3 2 6 12 8 10 6 1 2-10 0-14-1-8 3 2 6 12 8 10 6 1 2-10 0-14-1-9 3 3 6 12 8 10 6 1 2-10 0-15-1-8 3 3 6 12 8 10 6 1 2-11-1-14 0-8 3 3 6 12"/><path id="cP" d="M2854 1114l-15-1-6 10 6 13 12 5 3-5-10-9-14-1-6 10 7 13 12 5 2-6-10-9-15 0-5 10 8 13 11 5 2-7M3061 1106l-13 6 0 10 13 6 13-1-1-5-13-1-13 7 1 10 14 5 12-1-1-5-14 0-12 7 2 10 14 5 12-2M2858 1104l-7 13 8 10 14-2 9-10-6-6-12 5-6 14 8 9 15-4 7-10-6-5-13 7-4 13 9 8 15-4 6-11-8-4-12 8-4 14 11 7 14-6M3029 1315l3 15 13 3 11-11 0-13-9 1-5 14 7 13 14-1 8-14-3-10-9 6-2 16 10 9 13-6 5-14-6-6-8 9 1 16"/><path id="cQ" d="M3023 1325l4-3 5-2 6 1 6 2 5-1 5-2 9-1 8-1 3-4 1-6-2-8-1-8 2-7 0-5-4-4-5-3M3277 1360l6 0 7-1 9 1 9 1 5-4 2-4-1-4-4-4-10-2-10-1-7-1-5 2-5 5-3 6 0 7 1 6M3167 1383l-6 3-7 3-2 6 3 5 8 4 10 3 8-2 8-4 6-6 4-5M3141 1283l-4-5-6-4-9 0-8 5-4 9-1 10 2 9 2 7-6 4-6 2"/><path id="cR" d="M3065 1379l-14-6-8 7 4 15 9 9 4-4-9-11-13-5-7 8 4 14 9 8 3-5-9-11-13-4-7 9 5 14 10 7 2-5-10-11"/><path id="cS" d="M2830 1032l-15 3-4 13 10 12 14 0 2-8-12-7-14 4-4 13 11 11 13 0 2-9-12-6-15 4-3 13 11 11M2812 1219l-15-2-5 10 10 13 11 4-2-6-14-7-13 3 1 13 12 10 8 0-7-8M2842 1088l-16-6-9 10 3 16 10 7 2-7-11-12-15 0-5 13 6 15 9 2-2-11M2824 1060l-11 8 2 8 14 2 12-4-1-4-13 2-11 8 2 8 14 2 12-4-1-4-13 2-12 8 3 8 14 2 12-5-1-4-14 3-11 8 3 8 14 1 12-4-2-4-13 2-11 9"/><path id="cT" d="M2862 1034l-11 12 5 13 16 3 11-6-6-5-14 5-7 13 9 11 16 0M3313 1386l-7-12-12 1-5 14 5 13 7-3 0-14-9-11-11 3-4 15 6 11 7-4-1-15-10-9-10 5-3 15 6 10 6-6-2-15-10-9-10 8-1 15 6 8M2974 1436l2 15 9 3 11-12 3-11-4 1-5 14 4 13 10-1 10-12 1-10M3182 1379l-7-12-9 2-3 15 4 11 4-4-2-15-9-9-7 7-1 15 5 8 3-8-4-15-10-6-6 11"/><path id="cU" d="M2895 1208l-4 6-5 7-7 2-8-1-7-3-4-5 1-7 3-6 8-1 8 0 3-4 1-6 0-6-3-6-7-2-7-1-7 1-5 4-3 8-1 8M2917 1346l-4-7-5-9-5-6-6-5-8-4-6-4 1-6 3-6 2-5 3-4 5 0 5 1M3028 1391l4 1 6 3 9 3 9 3 9 3 7 3 6 6 6 4 5-1 5-3 1-5 0-7 0-6 1-4 6-4 8-2 11 0 9 1M2823 1083l-2-5-2-7 2-10 0-9-6-4-8-1-7 2-6 5-4 7-3 9 2 10 4 9"/><path id="cV" d="M3319 1373l-14-4-6 9 7 13 11 5 3-5-11-10-14-2-3 10 8 13 11 4 0-8-12-9-13 0-1 11 9 12 10 2-2-8-12-8-12 2 0 12 11 11 8 0-4-9-13-8-11 4M3053 1341l-15 5 1 12 15 7 11-1-7-4-16 2-8 9 9 11M2899 1177l-12 9 2 13 14 5 13-4-2-7-14 1-11 10 3 12 15 5 12-5-3-7-14 2-10 10 4 12 15 4M2895 1058l-15 0-5 9 10 12 11 5 0-6-12-7-14 2-2 11 11 11 11 2-3-6-15-6-12 4 2 12 12 10 8 0-6-8-15-4"/><path id="cW" d="M3342 1415l6 0 7-1 5-4 4-6 1-8 0-8 2-8 1-4 0 4-2 7-4 9-4 6M2846 1171l1 6 0 5-6 3-8 2-7 0-7 1-4 5-5 4-7-2-7-5-3-7-5-7-9-4-8-2M2996 1413l-3 6-1 7 2 6 4 7 6 8 4 9 0 8-3 6-4 1-6-1-6-5-4-6 3-4 4-4-3-6-4-4M3158 1369l-5-8-5-9-5-5-4-3-8-5-8-2-4 4-2 5"/><path id="cX" d="M2786 1035l6 13 11-1 6-14-2-12-3 5 1 15 9 10 9-8 4-15-4-7-2 10 4 16 10 3M2992 1309l-6 13 5 6 14-4 9-9-2-3-11 8-7 12 6 7 13-5 10-8-3-3-11 8-6 12 6 6 13-4 10-9-3-2-11 8-6 12 6 6 13-5 9-8M2822 1081l-14 5-2 13 13 8 13-2 0-8-13-5-13 7-1 12 13 8 13-3-1-8-14-4-12 7 0 13 14 7 12-3-2-9-14-3-12 7 2 13 13 7 12-4-3-9M3301 1396l7 14 13 0 8-13-2-13-6 1-1 14 8 13 13-3 6-14-2-11"/><path id="cY" d="M3037 1313l3-6 5-6 5 1 6 3 5 3 5 4 3 5 1 6-8 6-7 6-2 11 0 9M2831 1124l-4 3-3 6-1 10 2 9 7 3 8 1 7 1 6 2 5 1 5 3 2 5 3 5 6-1 9-3 9 1 10 2 10 5 8 5M2956 1331l3 4 1 6-5 8-7 8-2 9 0 10 1 6 0 6 1 8 1 6 5 4 7 1 8-1 7-2 7-4 7-2 10 2 8 5 0 10-1 9M3007 1138l-1-4-2-6-7-3-7-2-8 1-6 4-1 10 1 9"/><path id="cZ" d="M3045 1248l1-7 1-8-1-7-3-5-7 0-9 2-6 1-5-1-6-5-5-4M3067 1158l4 2 7 3 9 2 8 0 4-5 1-7-1-6-3-4-4-3-5-2-6-4-6-5-3-9-2-10 0-9 0-7M2822 1238l5-5 5-7 0-6 2-7 8-3 10-3 8-1 8-1 8 3 6 2M3189 1316l-7 6-8 6-7 0-4-3-1-9 0-10-5-4-6-2-5-2-6-2-6-3-7-4-8-7-7-5"/><path id="da" d="M2946 1327l-11-11-14 3-5 15 5 12 6-4-3-15-12-9-12 7-3 16 7 9 4-8-5-15-14-5-10 10 0 16 7 5M3026 1214l-12 10 2 10 15 5 12-4-3-3-15 3-9 10 6 10 16 2 9-4-7-3-15 5-7 11 10 9 15 0M2869 1176l-14 7-1 13 13 8 13-3-2-9-14-2-12 8 3 13 14 6 11-5-5-8-16-1-9 11 6 12 15 4 8-7-8-7-16 2-7 11 9 12 15 1M3032 1108l-13 5 0 9 14 6 12-1-1-5-14 0-12 5 2 9 14 5 12-2-3-4-14 0-12 6 3 9 15 4"/><path id="db" d="M3195 1364l-15-5-8 9 5 14 10 8 2-6-10-11-14-2-6 11 7 14 9 5 0-8M3199 1301l-11 13 6 13 17 2 9-7-8-4-15 8-3 14 14 8M2893 1106l-11-10-9 5 0 15 5 11 2-4-7-13-11-7-7 8 2 16 5 8 0-8-9-13M3101 1374l-9-13-13 2-5 15 6 12 8-5-1-15-11-9-12 7-2 16 8 7 7-9-5-16-13-4-9 12 2 15 9 2 4-13"/><path id="dc" d="M2840 1139l2 15 12 6 13-9 3-13-8-2-8 11 2 15 13 5 12-9 3-13-8-2-8 12 3 15 13 4 12-10 1-13M3131 1377l-11-10-10 4-2 15 7 11 6-4-3-14-11-9-9 6-1 15 8 10 5-5-4-15-11-7M2889 1098l-10 11 5 10 16-1 9-8-5-5-13 5-7 12 8 8 15-3 7-8-8-3-13 7-4 12 10 5 15-4M3258 1354l-13 7-1 13 13 8 13-3 0-9-12-4-14 7 0 12 13 8 13-3 0-9-13-4-13 7 0 13 12 7 13-3 0-9-13-3-13 7 0 12 13 8 13-3 0-9-13-4-13 7 0 13 13 7"/><path id="dd" d="M3091 1143l-3 4-4 6-4 6-5 3-9-2-9-5-2-6-1-7-4-8-5-6M2890 1137l5 7 4 7-2 5-2 6 0 8 1 7 4 3 5 3 7 7 5 9-1 6-2 7 1 10 2 9M2819 1201l-6 1-6 3-5 4-1 5 2 5 5 4 5-2 6-2 5 5 7 4 8-4 8-6 2-6-1-6-8-4-9-3M2985 1224l6 1 6 0 4-5 2-7 1-7-1-6-5-3-6-4-4-8-3-7-4-6-3-4"/><path id="de" d="M2957 1368l-9 12 6 10 15 0 10-7-3-4-13 6-8 12 7 9 16-1 9-7M3114 1346l-10-12-14 3-6 15 4 12 8-3-1-13-12-11-13 4-5 15 5 11 7-4-2-14-12-9-13 5-4 16M2906 1311l-15 0-2 8 11 10 12 3-1-4-14-6-13 2 2 10 13 9 9 1-5-6-15-4-10 4 5 10 14 8 6-1-8-7-16-2-6 6 8 11 13 5 4-3M3054 1416l-14 6 1 12 16 6 10-3-7-5-17 3-6 11 11 9 15 1"/><path id="df" d="M3135 1352l0 15 9 4 11-10 5-12-5 0-7 12 1 14 10 2 11-11 3-11-6 2-6 14 2 12 11 0 10-12 1-10-6 4-5 15 4 11M3286 1406l-8-13-13 1-5 15 3 12 6-4-1-15-11-10-11 7-3 16 5 8 5-9-5-15M2854 1282l-15 4-3 13 12 11 12 0-2-7-16-3-12 8 4 14M2954 1359l-13 11 4 13 16 4 10-6-6-6-16 4-6 13 10 11 16-1 4-8-12-3"/><path id="dg" d="M2997 1356l2-4 3-6 1-5 3-5 9 1 9 2 5-6 3-5 7 2 8 3 8 2 8 0 10 1 9-1 4-7 2-7M3291 1391l5-1 8-3 6-3 4-5-3-5-3-7 3-10 3-9-3-5-3-4-4-10-2-9M3002 1174l-8 4-9 6-7 6-4 8 3 8 4 8 3 8 2 8-1 7-2 5M3087 1115l5-8 6-7 7 2 7 2 5-2 3-5-4-8-6-8-2-6 0-4"/><path id="dh" d="M3193 1271l-13 8 3 10 15 4 11-3-3-4-15 2-10 10 7 9 15 3 9-5-8-3M3002 1325l-11 11 4 9 15 2 11-6-2-6-13 3-10 10 4 10 14 1 12-6-3-6-13 3-10 11 5 9 14 1 11-7-3-5-13 4-10 10M2989 1141l-11 10 4 11 15 2 11-5-3-6-14 2-10 11 6 10 16 2 9-7-6-5-14 4-7 11 8 10 15-1 8-7-8-4-14 6-6 12 10 8 16-2 5-7M3046 1076l-1 16 11 7 15-7 4-11-8-2-8 13 2 15 14 3 13-10 0-10-10 4-6 15 7 12 15-2"/><path id="di" d="M2928 1277l-8-1-9-2-6-2-4-4-2-6-3-5-7-3-7 0-6 8-3 8"/><path id="dj" d="M3267 1342l-9 11 4 7 14-1 11-7-2-3-13 5-9 10 4 7 15-1 10-7-2-3-13 5-9 10 5 7 14-1M2893 1158l-13 6 0 10 13 7 12-2 0-6-14-3-13 7 2 10 13 7 12-3-2-6-14-2-12 7 3 10 14 6 11-3-4-7-14-1-11 8 4 10 14 5M3242 1332l-8-12-10 2-4 14 4 13 5-2-2-14-9-11-9 3-3 15 4 12 4-3-2-14-9-10-9 4M3344 1388l-13-8-8 6 2 15 7 10 2-5-8-13-12-5-6 9 4 15 7 7 0-8"/><path id="dk" d="M2966 1286l5 2 5 3 1 5-1 5-4 4-6 3-7 5-7 5-4 5 0 5 6 5 6 4M3015 1340l-2 7-1 8 4 6 4 5 1 7 1 6 1 5 1 5 5 7 5 7 4 3 4 2"/><path id="dl" d="M2954 1337l-10 11 5 12 16 2 10-8-4-6-14 4-7 13 7 11 16-1 8-7-6-5-14 6-6 13 10 9 15-2 7-8-9-3-13 7-4 13 12 8M2900 1291l-15 0-3 10 11 11 12 2-2-6-14-6-12 4 2 11 13 9 9-1-7-7-15-3-9 6 7 11 14 7 4-4M3298 1327l-15 0-5 11 9 12 12 4 1-6-13-7-14 3-2 11 11 12 10 2-2-7M3209 1312l-15 0-6 11 9 13 13 2 2-8-12-9-14 2-3 12 10 12 12 0 0-9-14-8-13 5 0 13 12 10 10-2-3-10-15-6-11 6 2 14 13 8 9-4-6-10-15-4-10 9"/><path id="dm" d="M3021 1227l-14 1-4 9 10 10 13 3 2-5-12-6-14 1-3 9 10 11 13 2 1-5-12-6-14 1-3 10 11 10 12 2 1-5-12-6-14 2-2 9M3159 1278l-6 13 8 8 15-5 6-10-7-2-12 10-1 13 12 3 13-9 1-8-11 3-9 13 4 10 15-3M3025 1291l-11-9-11 6-1 15 9 10 6-4-4-13-12-8-10 6 0 15 8 10 6-5-5-13M3107 1329l6 15 16 2 10-14-3-12-9 5-1 17 13 10 14-8 4-15-8-4-6 12"/><path id="dn" d="M3104 1271l4 6 4 8 3 5 2 6-4 6-6 7-4 4-6 2-9-1-8-2M2895 1197l-1-7 0-8 1-8 0-6-7-6-8-4-7 0-4 3-1 8 1 9 1 9 0 8-1 9-2 8-5 3-4 2M2831 1078l7 4 8 6-1 7-4 6-8 2-7 1-4 4-3 6-5 6-4 8-2 8-2 8-4 3-4 4-3 7-4 7-6 3-5 0-5-7-3-7M3108 1355l7-1 9-2 6-4 4-4 6 3 3 5-3 5-4 6 0 9 2 9 2 5 3 5 4 5 4 5 6 4 6 3 5 3 4 2"/><path id="do" d="M2806 1184l-4 3-4 5-3 4-4 5-8 4-7 6-2 8 0 10 1 10 0 9-2 11 0 6 5-6 5-9M3031 1160l-6-4-8-4-9-1-9 1-9 1-8 3-3 5-1 6-3 4-1 5 4 9 6 8 8-2 8-2 7 6 5 7M2778 1039l-3-3-3-5 1-6 4-4 8 0 9 2 8 1 6 4 1 8-1 9M2841 1258l4 4 3 7-3 6-4 6-6 4-5 5-3 7-1 9-2 7 0 4 5 1 8-3 7-6 6-6 6 1 5 2"/><path id="dp" d="M2853 1128l1 14 10 1 8-12 1-13-6 3-4 15 5 11 10-4 6-14-2-9-6 8-2 15 7 8 10-8M3122 1396l-11-11-14 3-6 14 5 13 7-2-1-14-11-11-14 4-5 15 5 12 7-3-2-14-12-10-13 4M3198 1350l5 15 13 2 10-12-1-13-7 1-4 15 8 13 13-2 8-14-3-10-7 5-1 16 9 10 14-6 5-15-5-7"/><path id="dq" d="M3217 1358l-6-6-4-7 4-7 7-6 8-1 7 3 0 7 1 7 9 5 9 4 1 7-1 6M2987 1262l5-5 6-7 5-7 5-7 3-9 4-5 9 1 9 4M3054 1255l-7-3-7-6-4-9-1-10 3-4 6-2 6-1 5 2 1 4 1 7 5 8 4 7M3061 1103l5-4 7-3 8 4 7 6 8 4 7 3 6 3 3 2"/><path id="dr" d="M3004 1404l-8-13-10 2-4 15 2 12 3-3-3-15-9-10-8 6-3 16M3242 1359l-13 6-1 11 13 8 13-3 0-7-13-4-13 7 0 11 13 8 13-3 0-8-13-3-13 6-1 12 13 7 13-2 0-8-13-3-13 6 0 12 13 7M2890 1281l-14-9-12 7 0 16 8 9 3-7-8-13-14-4-8 12 3 16 8 3 0-11M3279 1401l6 15 13 3 11-12 0-13-7 0-4 14 7 14 14 0 10-13"/><path id="ds" d="M3056 1107l3 15 11 4 11-10 2-13-6-2-6 12 3 15 11 3 11-11 2-12-6-1-6 12 3 15 12 2 10-11 2-12-7 0M2977 1350l6 14 12 2 9-12-1-14-9 1-4 13 6 13 13 0 8-13-3-12-9 2-3 14 8 12 13-2 7-14-5-11-8 4-2 15 9 11 13-4 5-15-5-10-9 6 0 15M2817 1020l-14 0-4 8 11 10 12 4 2-5-12-5-14 0-3 8 10 10 13 4 1-5-12-5-14 0-3 9 11 9 12 4 1-5-12-5M3057 1245l-9-12-12 2-4 15 4 12 7-4-1-15-10-10-11 6-3 16 7 9 5-7-3-15-12-7-9 9 0 16"/><path id="dt" d="M3154 1281l4-6 6-5 7 3 6 6 5 4 4 6 6 7 6 7 2 9 1 6M2971 1455l6 7 7 6 8-1 7-5 4-4 4-5 7-4 7-2 8-2 7-1 9 1 9 0 7-2 5-3 0-9-3-9-7-7-7-6 2-7 4-6M3172 1275l2 4 2 6 0 5 2 6 6 2 6 3 1 9 1 7 6 2 8 2 8 4 4 7-2 10-5 8-6 2-5-2-3-9-1-9M2901 1298l-4 5-6 3-6-4-7-4-5 5-5 5-5-2-5-1-5 6-4 7"/><path id="du" d="M3248 1343l-5-8-7-6-6 2-7 3-6-4-6-3-8 2-6 4-1 6 1 5M2977 1401l2-5 3-6 4-4 4-5 5-8 3-9-2-8-6-7-6-7-8-5-8-6-8-6-3-8-2-8-9-1-8-2-3-7 0-9 0-9 1-6M2905 1135l-6 6-5 9 2 7 2 7-5 6-6 6-5 9-4 9-5 2-5 1-8 1-7 0-8-1-8-2-4-8-5-7-9 0-10 2-10 2-8 1M3081 1400l4 4 5 6 6 4 8 3 6 1 8 0 8 1 9 0 10-2 7-5 0-5-1-7 2-9 4-9 7-7 6-4"/><path id="dv" d="M3113 1839l5-6 6-5 8-1 7-1 6-3 4-4 6 1 5 2 3 5 1 5-6 8-7 6M3467 1951l-7-4-7-6 0-4 3-5 3-9 2-9-4-4-5-4 1-8 1-8-4-5-5-5-7-7-6-6M2832 2202l-3-8-1-10 5-9 4-8-4-5-6-4-7-3-8-1-7 1-5 1M2888 2185l-7 4-8 3-6-5-6-7-7-3-6-4-1-7-1-6-6 0-8 0-5-5-4-6"/><path id="dw" d="M2975 1940l-6 15 9 11 17-2 7-10-7-4-12 9-1 16 12 8 15-6 4-9-10-1-11 12 3 15M2946 1967l-12 8 2 10 15 3 12-5-2-5-14 1-11 9 4 10 14 2 11-5-3-5-14 2-10 9 5 9 15 2 10-5-5-5-14 3-9 10 6 8 16 1 8-6-6-4M3316 2052l-9-12-13 2-5 15 5 12 6-3-1-14-10-11-12 5-3 15 5 11 6-6M3242 2008l-14-7-7 8 4 15 8 8-1-9-11-12-12 1-1 14 8 13"/><path id="dx" d="M2988 1936l-14-1-5 8 9 12 11 6 2-3-12-7-14 0-4 9 9 11 11 6 1-4-13-6-14 0-3 9 10 11 11 5 0-3M3246 1790l7 14 12-1 8-15-2-10-5 7 2 17 11 7 11-11 2-15M2960 2106l-12 9 2 12 16 3 11-6-5-6-15 2-9 11 8 10 16 0 7-8-10-4-15 5-4 12 12 7 15-3M2920 2005l-11-11-14 3-4 16 6 11 8-5-2-14-13-9-13 8-2 16 8 8 7-8-6-15-14-5-10 10 1 16"/><path id="dy" d="M3370 1740l-1-4-2-6-6-2-6 1-5 5-1 6 3 4 5 3 6 6 5 5M3074 2077l-8-2-10-1-5 2-4 3-9 3-10 4-5 5-4 6-2 6-3 4-7 3-9 1-8 4-7 3M2899 1998l1 4 4 5 8 1 10 1 7 2 7 2 5-3 6-5 9-3 9-3 5-4 4-2 6-1 5 0M3327 2060l3-5 5-6 4-5 5-3 6 2 6 5 0 9-1 8 4 5 4 3"/><path id="dz" d="M2971 2012l-2 8-1 10 0 8 0 6-3 8-5 6-6 3-6 0-8-5-7-3-5 4-3 5M3160 1864l7 0 9-1 5-7 4-8 2-5 1-6-2-5-3-4-8 0-7 4-3 7-1 7 1 6 1 5 0 6 0 5M3266 1807l-8-5-9-4-6 3-5 6-3 6 0 6 1 7 4 5 7-2 7-1 8 6 7 7 3 6 2 5M3488 1964l-8 1-10 1-6 2-6 2-5-3-5-1-7 5-4 5"/><path id="dA" d="M3279 2032l1-6 1-7 1-7 0-7-5-3-6-4 0-6 3-6 4-3 6-2 6-6 6-4 5 0 5 0 6-2 6 0 9 4 7 6M3118 1814l-7-3-8-4-4-7-2-9 2-6 3-5 6 0 7-1 7-7 5-7-2-5-3-4 2-8 3-6M2919 1862l4-5 2-8-6-8-5-8 3-6 4-5 1-7-2-7-3-6-5-6-6-5-4-5 2-5 4-3M2880 1590l4 9 3 10-3 5-5 3-4 3-3 4 2 5 2 6-2 9-2 8"/><path id="dB" d="M3262 2032l-13-6-10 7 1 15 11 9 7-6-5-13-14-6-10 8 2 15 11 8 7-6-6-13-13-5-10 8 2 15 11 7 6-6-5-13-14-5-9 9 2 15 11 7 6-7-6-13-14-4-9 9 4 15 10 6M3164 2007l-10-10-8 4 1 14 7 11 4-3-5-13-10-8-7 5 2 15 7 9 3-4-6-13-11-8-6 7 3 15 7 8 2-6-7-13-10-6-5 8 3 15 7 7 2-7-8-14-10-5-4 10M3296 1941l-10-12-13 3-5 14 5 12 7-2-1-14-10-11-13 4-4 15 6 11 7-3-2-14-11-10-12 5-4 15 7 10 6-5-2-14-12-9M3038 2056l-10 11 5 8 16 0 10-5-6-2-14 7-5 11 10 6 16-3 5-5-11 2-13 9"/><path id="dC" d="M3303 1801l5 15 12 1 9-13 1-12-6 4-2 16 8 11 12-5M3114 2093l-12 8 2 11 14 5 12-3-2-6-14 1-11 9 4 11 15 4 11-4-4-5M2863 1769l-12 7 1 11 14 5 12-3-2-6-14-1-12 9 4 10 15 4 11-4-5-6-15 1-9 9 5 10 16 3 9-5-7-5-15 2-8 10 8 9 16 1M2874 2029l-12 10 3 13 15 6 12-5-4-7-14 2-9 12 6 13 15 3 10-6-7-6-14 5"/><path id="dD" d="M2979 1749l5 5 5 7 3 5 4 4 6 3 8 3 7 1 8 0 5-3 5-2 5 6 4 6M2923 1888l-5-7-5-9-1-9-3-7-7-4-9-2-6-3-5 0-5 4-4 5-4 4-3 5 2 8 1 9-5 8-6 7-8 4-6 5-1 9 0 8M3405 1949l6 3 8 4 4 6 0 7-5 7-8 4-8-1-7-3-6 0-5 1M3226 1981l-9 2-11 3-5 5-4 7-4 8-5 8-8 6-8 6-6 7-3 7"/><path id="dE" d="M3026 1780l7 1 7 3 4 9 2 9 2 6 2 5-2 6-3 4M2968 1608l0-7-1-7-4-2-6 0-11 2-8 1M2864 1986l0 8 0 9 2 6 4 6 2 6 3 5 5 2 6-1 5-5 3-4M2987 1842l-3-9-3-10 3-10 2-7-3-5-6-2-8 5-7 7 0 7 4 6 9 1 9-2 2-5 2-7 6-7 6-5"/><path id="dF" d="M3054 1709l7-1 8 0 6 3 6 2 5-1 5-4 6-6 6-6 9-4 8-3 5-5 3-5 6-1 5 2 4 9 2 8M2863 1806l5-8 5-9 4-6 3-4 5-6 4-7 3-9 0-8-5-4-6-3-4-7-3-5M2996 1729l4-4 4-5-1-7-3-6-7-3-6-2-3-6 0-8 2-9 4-8 6-3 6-2 4-5 2-6-1-6 0-6 1-6 1-5M3030 1907l7 4 6 4-2 6-3 6 2 5 1 4 2 5 0 6-7 8-6 8 1 7 5 6 10 2 10 0 4-4 3-6 3-9 4-7 8-1 7 0"/><path id="dG" d="M2972 1898l6 0 7-1 6-4 5-5-1-6-2-7 1-8 3-6 5-4 7-3 8 0 9 0 10-1 8-2M2911 2088l0-6 2-7 3-7 5-5 6 2 6 4 5 1 5 1 2 4-1 6-5 8-7 6-9-1-7-5-2-4-2-6-1-7-2-7-4-8-4-6M3130 1789l7-5 8-6 7-5 5-5 0-8 1-6 5 0 5-1 3-8 2-9 3-8 4-5 9 2 10 3 7-2 6-4 3-5 3-6 5-6 4-3M3105 1733l-7 6-7 7-5 4-5 2-3-4-4-4-9 1-9 4-8 5-7 2-6-4-4-7-3-9-2-8"/><path id="dH" d="M2946 2031l-9 12 6 8 16-2 9-8-5-2-13 9-5 12 10 5 15-5 6-7-9 1-12 11-1 11 13 2 14-7 1-5-11 4-10 12 4 9 14-1M3436 1926l0 15 10 4 12-10 4-12-6 0-7 13 3 14 11 1 11-11 2-11-7 3-5 14 4 13 12-2M3394 1824l-2 15 10 6 13-7 6-12-6-3-9 11-1 14 10 6 13-8 5-11-6-2-8 10-1 15 10 5 13-8 5-12-7-1-8 11 0 14 10 4 13-8M3416 1905l-13 9 2 11 15 6 12-3-5-5-15 3-9 11 8 10 16 3"/><path id="dI" d="M2724 1898l0 7 0 9 0 7-1 6M2816 2139l4-7 2-10-4-6-4-6 2-6 4-6 6-4 7-3 8 2 8 5 2 5 2 6 5 6 6 5 6 1 6 0 8-4 8-3 4 5 3 5M2824 1831l-8-3-10-2-7 6-5 5-7-2-5-6 0-8 4-10 4-9 5-6 7-3 8 1 6 6 5 8 0 8 1 7 9 2 9 0M3231 1733l5 2 7 4 6 7 4 7 1 9-1 7-7 4-9 3-8 5-5 5"/><path id="dJ" d="M3115 1909l-2 7-1 10 0 6 2 6 4 8 3 7 1 7 1 7 5 4 7 3 3 4 5 3 9-1 9-3 7-4 5-4-1-8-3-7-5-3-5-1M2830 1897l-8-1-8-2-3-7 2-7 8-2 9-3 4-8 4-8 8-6 8-5 3-6 3-5 5-1 6 0 9-4 7-5M3465 1755l1-8-1-9-5-3-7 0-8 1-7 3-5 8-2 6M3276 1941l3-9 1-10-5-4-5-2-2-9 1-8 8-4 9 0 6 3 4 5 1 8 1 7 5 2 8-1 9-1 9 0 6 8 3 10 5 8 3 6"/><path id="dK" d="M2980 1790l1-10 3-9 6-2 6-1 5-5 2-8-4-8-8-6-8 3-9 5-11 1-9-1-6-1-6 0-10 0-8 0M3260 2065l-5 8-1 7 8 1 11-2 8-2 6-2 6-2 6-2 4-5 4-5 5-1 5 2 8 6 7 4 8-6 5-7M2831 1731l-3-2-5-5-7-6-6-7-4-8-4-8-6-8-7-6-7 0-5 2M2915 1668l-9 3-8 4 0 5 1 5-5 4-7 3-5 7-5 8-5 4-5 4-4 7-4 5-6-1-5-3"/><path id="dL" d="M2894 1923l-1-9 2-9 8-2 9-1 4-6 2-5 8-1 7-2 6-8 2-9-2-5-4-4-5-4-5-3M2978 2109l-6-6-8-7-6-4-5-1-6 5-3 7 1 6 4 6 6 3 7 0 5-5 5-7M3128 1939l4 2 6 3 7-1 7 0 8 3 7 5 7 5 5 4M3106 1692l3-4 1-6-4-6-7-5-5-7-4-7-6-5-4-5 1-7 5-6 7 1 7 2"/><path id="dM" d="M3118 1859l-6-5-5-7-1-5 0-6-3-6-2-7 0-7-1-6-4-6-4-4-1-6 3-5 6-5 8-4 8 2 8 1 8-5 5-5M3013 1643l-1 5-2 5-7 3-7 3-4 7-1 8 3 3 6 3 7 3 5 2M2898 2145l5 7 4 8-2 6-2 6-1 7-1 7-7 2-7 2-6 8-4 9 0 6 3 5 5 4 6 3 6 3 6 1 8-5 7-6M3186 1964l3-5 3-5 5 2 6 2 9-3 8-5 0-7-2-9 4-9 4-7"/><path id="dN" d="M3017 1768l-4-2-5-4-6-5-5-6 2-8 3-8-2-6-4-5-8-4-8-4-6-3-5-5-2-8-1-9-2-7-2-4M2956 1748l2 4 1 6-2 9-5 8-8 0-9-2-6 0-6 2-3 5-2 7-5 7-2 8 6 6 6 6-4 9-5 8 0 6 4 4 7 1 7-1M3439 1917l7-1 8-2 6-5 4-6-1-6-5-5-3-3-4-3-5-6-5-5M2783 1765l-5-2-6-4-1-8 2-9 6-7 4-7-5-6-6-7-1-9 2-8 4-4 5-2 7-2 5-1"/><path id="dO" d="M3405 2025l-1-7-1-9-2-8 1-7 6-6 7-7-1-8-4-6"/><path id="dP" d="M3288 1963l-12 8 2 9 14 3 12-2-1-4-13 3-12 8 3 8 14 3 12-2-2-3-14 2-11 9 4 8 15 3 11-3-3-3-15 3-9 8 4 9M3446 1872l-12-11-14 5-3 17 8 9 8-6-5-15-14-6-11 10 2 16 9 5 4-11-9-14M3132 1683l-11-12-13 4-4 17 7 9 6-7-5-15-14-6-10 12 2 16M3018 1987l-1 14 8 3 10-11 4-12-5 1-7 13 1 13 9-1 10-12 1-10-5 3-6 15 3 11 10-4 8-13 0-8-6 6-5 15 5 9"/><path id="dQ" d="M3163 1862l-7 13 6 6 15-5 8-9-6-1-11 10-4 12 10 2 14-7 4-7-8 2-11 12 1 10 12-1 13-9-1-5-10 7-9 12M2831 2153l3 14 10 0 7-13-1-12-5 2-2 15 5 11 10-3 5-15-2-10-5 6 0 16 7 9 9-7 4-15-4-7-5 9 2 16 8 5 9-10 1-15-4-3-4 13M3223 1899l-4 15 10 10 15-3 7-11-5-5-11 8-4 15 10 9 15-4 7-11-6-4-11 8-3 15 10 8 15-4M3413 1854l-8 13 7 11 16-2 9-8-6-4-13 8-4 14 11 7 15-4 5-9-9 0-12 11 0 13 14 4 14-7 0-7-12 3-9 13"/><path id="dR" d="M3087 2041l-2 15 10 6 13-7 5-12-7-4-10 10-1 14 10 6 13-9 4-12-8-2-10 10 0 15 12 4 12-9 2-12-8-2-9 12 1 14 12 3M3294 1901l-4 15 8 6 14-6 7-11-5-1-9 12-2 13 10 4 14-8 4-9M3322 1745l-9-12-13 2-5 14 5 12 8-2 0-15-10-11-12 4-4 16 6 10 7-5-1-15-11-9-12 6-2 16 7 9M3090 1872l2 14 9 3 10-11 2-12-5-1-5 12 2 14 10 2 9-11 3-12-6-1-4 13 2 14 10 1"/><path id="dS" d="M2983 1941l-16-3-8 10 4 15 11 7 3-7-10-10-15-1-6 12 7 14 10 4 0-8-13-10-14 2-3 14 9 13 9 1M2959 1916l-15 4-2 12 12 10 12 1-1-7-14-3-13 6 1 13 14 8 10-2-4-6-16-2-11 9 6 13 14 6M3284 1923l-15 4 0 10 14 8 12-1-3-6-16-2-11 7 5 10 16 5 7-3-8-6-16 1-6 9 10 10 14 2 3-5M3129 1718l-13 8 0 12 13 7 13-1-1-6-14 0-12 8 2 12 14 7 12-2-3-6-14 1-11 9 3 12"/><path id="dT" d="M2823 2025l6 14 14 3 11-12-1-13-8 0-3 14 8 14 14-1 9-13-3-11-8 3-2 15M3138 1711l5 15 13 1 9-14-1-11-8 4 0 17 10 10 13-8 4-15M3211 1808l-15-2-6 10 7 13 12 5 4-7-10-9-15-2-5 11 8 12 12 4 2-7-10-9-15 0-4 10 9 13 12 3 1-8-11-9-14 1-4 11 10 12 11 2 1-8-12-9M3222 1956l-14 7-2 14 13 10 13-2-1-8-14-3-13 8 1 14 14 9 11-4-3-8-15-2-11 10 3 14 15 7 9-5-5-8-15 0"/><path id="dU" d="M2991 1700l-15 4-1 11 12 10 12 2-3-6-15-2-12 6 3 12 14 8 9-1-8-6M3224 1725l-8-13-11 2-6 14 3 12 5-2-1-14-9-11-10 4-4 15 4 10 4-5-2-15-10-8M2819 2127l-15 2-5 12 10 11 13 1 3-8-12-8-15 4-3 12 11 11 13 0 1-9-13-7-14 4-1 13 12 10 12-1-2-10-13-5M2871 1772l-1 14 10 4 11-10 3-12-7 0-7 14 2 12 11-1 10-12 0-10-9 6-5 15 6 9 12-5 7-14-4-5-8 9-2 15 8 5"/><path id="dV" d="M3387 1848l-3-5-5-6-8 1-9 1-8-2-6-5-4-7 0-7 7-4 8-3 1-7-2-7-7-3-7-1-4 3-4 6-8 3-8 3M3115 1655l-7-2-7-4-4-5-5-3-8 1-9 2-7 0-7-1-4-3-5-4-4-2-5-2-8 0-9 0-9-1-8 0-4 8-1 8M3046 1769l-1 6-1 7 2 8 4 8 7 7 6 6 3 5 3 4 5 3 5 4 1 5 0 5M2893 1653l5-4 6-2 6 4 6 4 7-4 7-7 8-2 8-3 3-7 1-8-4-3-6-2-9-3-8-3-4-6-3-7-1-6-2-5-9-3-9-3"/><path id="dW" d="M3268 1987l-6 13 7 9 15-3 9-9-5-4-12 7-5 14 9 8 15-5 7-9-7-3-11 9-3 13 10 7 14-6 6-9M3131 1804l-4 15 9 6 14-7 5-11-7-2-10 11-1 13 12 4 12-10 2-10-9 1-8 13 2 12 13 0 11-11M3138 1850l-9 12 5 10 15 0 10-8-4-6-14 5-7 12 7 9 15-2 9-8-7-5-14 6-5 13 9 7 15-3 6-8-8-3-13 7-4 12 11 7 15-5 4-8M3361 1722l-13-9-11 7 0 16 8 9 5-6-6-13-14-6-9 11 3 15 8 6"/><path id="dX" d="M3347 1975l3 14 9 1 7-12 2-13-4-1-3 13 4 14 8 1 8-12 1-13-4 0-2 13M3279 1855l-14-5-9 8 3 14 10 9 5-5-7-11-14-5-9 8 4 15 10 7 5-5-8-11-14-4-8 8 4 15 10 7 4-5M2948 2105l-14 7 0 13 15 8 11-4-5-7-16 0-9 11 8 12 15 3 5-7M3133 1978l-12-8-11 6 0 16 10 9 6-7-6-13-13-6-9 10 3 15 10 6 4-9-8-13-14-2-6 12 5 14 10 3 2-11-10-12"/><path id="dY" d="M3351 1790l-12 9 2 10 15 4 12-4-3-4-13 3-11 9 5 10 15 3 10-4-4-4-14 4-9 10M3020 1707l-3 16 12 9 15-5 6-11-9-3-10 11 2 16 14 5 14-8M3138 2043l-13 9 0 13 13 8 13-3 0-7-13-2-13 9 1 13 13 7 13-2-1-7-13-2-13 9 1 13 14 7 12-2-1-7M2924 2038l-14 6-1 11 13 9 13 0-3-5-15-1-12 8 4 11 14 7 10-1-6-5-16 1-9 9 7 11 15 5"/><path id="dZ" d="M2938 2007l11 8 7-2-2-10-6-13-3-8 3 2 10 8 11 7 6-1-1-11-6-13-4-7 4 2 10 8 11 7 6-2-2-11-6-13-3-7 4 2 10 9 11 6 6-2-2-11-6-12-4-8 4 3 11 8 11 7 5-3-2-10-6-13-3-7 4 2 11 9 11 6 5-2-2-11-6-13-3-7 4 3 11 9 10 6 5-3-2-11-6-13-3-6 5 3 11 8 10 6 5-3-3-11"/><path id="ea" d="M2879 1814l-6 3-9 6-8 5-6 7-3 9-2 9-3 7-4 5-6 0-4-1M2801 1786l2-9 1-10-4-5-7-5-7-6-6-7 0-7 1-6-3-3-5-4-3-7 0-8 8-6 9-4 7 1 5 1M2960 2042l-5 7-7 7-10 4-8 3 0 5 1 6-2 6-4 6-4 4-6 2-10-3-8-3M2943 1770l-4-2-5-3-5-9-4-8-5-3-6-2-6-1-5-3-1-7-1-9-4-8-4-5"/><path id="eb" d="M2784 2101l-3-3-4-5 0-8 2-8 7-4 8-3 7-3 6-3 1-4 1-5 3-7 4-5M3101 1920l-8 5-9 5-6-1-6-2-9-3-10-1-8 5-8 4-9-1-8-2-3 3-3 4-8 5-8 4-6 3-5 2M2936 1949l-5 2-6 5-2 6 0 7 2 8 4 9 4 8 6 7 9 2 7 0M3017 1957l1-5-1-6-7-4-10-3-7-2-5 2-3 4-3 6-4 4-6 4-8 2-8 4-3 6-1 6"/><path id="ec" d="M3342 1950l4 4 6 4 8 0 7-2 6 2 4 1 4-4 3-7 2-6 2-6 6-6 5-7 0-5-1-6 1-8 2-8 5-4 5-3M2785 1785l-4-3-4-5-1-6 1-7 1-9 1-9-3-7-1-6 8-7 6-6-3-7-5-8-2-11-1-8 7 3 6 4M3074 2118l-1-6 1-8 3-6 5-5 5-5 3-6 1-5-2-6-3-8-5-9-6-7-7-6-8-3-6-2-2-8-1-10-1-9-1-9-2-7-3-5M2902 1806l-3 8-3 9 2 7 5 5 8-2 10-2 8 3 8 6 5 7 6 7 8 1 7 0"/><path id="ed" d="M3015 1929l5 3 6 1 3-4 3-4 7 3 9 4 9 3 9 1 8-7 5-8M2970 1797l7-2 9-3 8-6 7-5 0-5-3-5-5-8-3-9 3-10 3-9-3-10-6-8-8 1-9 2-6-2-5-2-6 6-6 7-8 4-7 2M3177 1990l4-7 4-10-3-9-1-9 7-5 9-5 3-9 0-9-7-6-9-4-6 0-5 3-2 5 0 6M2792 1872l5-2 4-4-1-9 0-10 2-8 5-4 7 0 6 4 1 5-1 5"/><path id="ee" d="M2876 1775l7 2 8 3 7 6 7 7 8 4 7 2 8-5 7-5 8 1 7 2M3103 1945l8 3 10 3 7-2 5-1 3 6 4 7 9 2 7 1M3056 1992l1-5 3-6 6-1 6 2 4 8 3 9 1 6 2 6 8 6 7 7 3 6-1 7-6 6-8 5-9-2-9-2-6 8-4 9M3049 1722l-5-6-6-8-4-9-2-9 3-6 6-4 9 1 9 3 6 9 5 7 9-2 10-3 6 0 6 2 6 6 6 8 5 9 4 8"/><path id="ef" d="M2910 2108l-15 6 0 12 13 8 12-2-1-7-15-2-12 7 2 12 15 7 10-4-4-6-16-1-10 8 5 12M2970 2094l-10 12 4 14 15 4 11-6-2-8-14 2-9 12 4 13 15 4 12-6-4-7M3389 1926l-10 11 5 11 15 2 11-7-4-5-13 4-8 12 7 10 15 0 9-7-6-4M2876 2069l-13 8 1 11 14 6 12-4-2-7-15-1-11 9 4 11 16 4 9-5-5-7-16 2-8 10 7 10"/><path id="eg" d="M3351 1833l-10 12 4 13 15 4 11-6-3-6-13 3-10 12 6 12 16 3 10-6-5-6-14 4-8 13 8 11 15 2M3321 1934l2 15 14 5 12-11 0-13-9 0-5 14 6 14 14 0 10-13-3-10-10 4-2 16 9 11 14-5 7-14M3270 1730l-15 3-5 13 10 12 13 1 2-9-12-7-15 5-3 13 11 12 13-1 0-9-14-6-14 6-1 14 12 10 12-1-2-10-14-5-13 7 1 15 12 9M3333 1936l-15-4-10 10 5 15 11 7 3-8-11-11-15 0-5 13 8 14 9 2-1-11-13-9-13 4-2 16"/><path id="eh" d="M3432 1893l-11 9 3 11 14 3 12-5-2-7-14 1-10 10 3 11 15 2 11-6-3-6-14 2-10 10 5 10 15 2 10-6-4-6-14 2-9 11 6 10 15 1 10-7-5-5-15 3-8 11M3069 2013l-15 0-6 12 8 13 13 3 2-8-12-8-15 2-3 13 11 12 11 1 0-9-14-7-13 5-1 13 12 11 10-2-3-10-15-5-12 7M2828 1845l-2 14 10 6 13-7 5-12-6-1-8 11 0 15 11 3 12-10 4-10M2983 2075l-15-1-4 8 8 13 10 6 1-3-12-7-14 0-4 9 9 12 11 6-1-4-12-7-14 1-3 9 10 12 10 5-2-4"/><path id="ei" d="M3424 1945l-12-9-7 6 2 15 7 9 1-5-8-14-11-4-5 10 5 15 6 5-1-10-11-12-10 0-1 14 7 13M3018 2003l-1 14 9 5 12-9 4-12-5-2-8 11 0 15 10 3 11-9 4-12-6-1-8 12 1 14 11 2 11-10 2-11-6 0-7 13 1 13 11 1 11-11M3223 2041l-9-13-14 1-8 13 4 13 8-1 3-13-10-13-14 2-7 13 4 13M2964 2044l-15 0-4 11 10 12 13 1 1-8-13-7-14 3-1 12 12 10 12 0-2-9-14-6-13 5 2 13 13 8 10-2-5-9-15-5-10 7"/><path id="ej" d="M3127 1846l5-6 5-7 2-6 1-6 2-6 2-5 2-5 4-4 6-5 7-2 5 2 4 3M2928 1785l-6-7-8-7-6-1-6 0-7-4-6-3-8 5-7 7-5 7-2 7 4 7 6 7 3 9 3 8 7 3 6 1M2919 1754l-2-5-2-7-3-7-4-5-5-1-7 1-6 3-5 4 0 5 0 7-3 7-3 9 0 9 0 8M2738 1788l5-2 7-1 3 6 2 8 4 9 6 6 7-2 8-1 6 7 4 10 5 6 5 5"/><path id="ek" d="M3151 1732l-14 8 2 15 15 7 11-5-8-7-17 4-6 13 12 12M3225 2028l-14-7-11 7 1 16 9 9 6-5-5-13-14-6-11 9 2 15 10 8 5-6-7-13-14-4-9 9 3 15M3179 1870l-8-13-11 4-4 16 3 10 2-7-5-16-11-5-7 12 0 15M2873 2099l-9-12-10 3-3 15 5 11 6-4-3-14-11-9-9 7 0 15 6 9 4-8-5-15-11-5-8 10 2 15 6 5 2-11-7-14-11-2-5 13"/><path id="el" d="M3024 2072l5 4 4 7-5 8-6 8-3 6 1 6 5 4 6 2 9-1 7-4 2-8 0-9 2-11 2-8M3241 1851l-2 6-2 8 0 9 2 9 1 10 0 9-4 4-5 3-5 1-5 0-7 3-4 2M2723 1831l2-3 3-5 5-5 6-3 10-2 10-1 4-5 1-5-4-5-6-3-5 3-4 5-6 1-3 3 2 9 3 9 0 6 1 5 3 8 3 7M3095 1984l7 6 8 5 8-3 8-5 5 1 6 0 9-5 8-4 6 2 3 6 1 6 0 7 1 10 0 9"/><path id="em" d="M2994 1743l-9-11-9 3-2 15 4 12 3-3-3-13-10-10-8 4-1 15 4 11 3-4-4-14-10-9-8 7 0 15 4 9 3-5-6-15-10-7M3121 2030l-16-2-7 12 8 14 11 4 0-10-14-8-14 5 0 15 12 10M3187 1828l-8 13 6 10 15-1 10-9-3-4-12 6-7 13 7 9 15-2 9-8-4-4-13 7-6 13 8 8 15-2 9-9-5-3-13 7-5 13M2831 2075l-14 5-1 11 13 9 12-1-1-6-14-3-13 7 2 11 14 7 11-2-4-6-15-1-11 7 4 11 15 6 9-3-6-6-15 0-9 9 6 11 15 4"/><path id="en" d="M3234 1829l6 5 7 5 4 6 4 6 4 9 5 8 9 3 8 1 6-2 5-3 6-6 5-5 5-1 5-2 6-6 5-6M2857 1711l1 8 1 9-4 4-4 4-2 4-1 6-2 9-1 9 5 8 5 5M2807 1902l-4-5-4-7 1-7 1-7-4-6-5-6-4-6-2-5 1-7 3-6M2929 2083l7-3 8-5 1-10 0-10 3-6 4-2 6 1 7 3 6 4 6 2 6-5 4-7"/><path id="eo" d="M3150 1670l4 3 5 6 1 8 2 8 8 3 7 2M3112 1778l-7-1-8 1-5 7-2 7 4 5 5 4 3 6-2 7-7 6-9 5-7 2-4 1M3374 1744l4-4 3-6-5-6-6-5-6 0-6 1-10-1-9-2-4-5 0-5 7-4 9-4 6-2 5-4 0-8-2-8M2936 1658l-5 1-6-1-6-6-6-7-8-3-8 0-5 0-5 0-6 2-4 4 0 7 2 7"/><path id="ep" d="M2990 2023l-12 7 1 9 14 3 12-4-1-4-13 0-12 8 2 8 14 3 12-4-1-4-14 1-11 7 2 8 14 3 12-4-2-5-14 2-11 7M3188 1722l-7 15 10 12 16-1 7-10-9-4-12 11 0 15 15 6 14-7M3257 1774l-14 2-4 11 10 11 13 1 2-7-12-7-14 3-3 11 11 11 13 0 1-7-13-7-14 3-2 12 11 10 13 0M3182 1780l-12 9 2 12 15 5 12-4-4-6-15 1-10 11 7 11 15 3 9-6-8-5-15 5-6 11 10 10 15 0"/><path id="eq" d="M2875 2153l-1 9-1 10 2 6 3 5 7 5 7 7 2 9 0 10-1 10-2 4 2-8 1-10M2869 1862l-5-4-9-3-9-2-9-2-6-3-6-2-10 0-9 1-5 0-5 1-6-1-7-1-4-3-4-3-5-3-5 0-5 6-4 6M2937 1838l-5-1-6-3-6-9-3-9 4-4 5-4-2-8-2-8 4-8 4-7-1-8-2-5M3141 2084l5 6 7 7 7 4 7 3 10 4 8 3 3 6 2 4 8-3 9-3 7 1 5 2"/><path id="er" d="M3367 1840l1 9-2 10-9 2-9 3-2 8 1 11 1 9 3 8 6 4 6 3 5 5 6 4 9 3 9 2M3201 1682l6 2 8 2 9-1 7 0 4 7 3 10 6 7 5 8-4 6-5 4M2842 1738l2 4 3 6-2 8-1 7 4 8 5 7 3 8 3 7 6 5 7 5 8 6 6 8 0 7-2 8-2 8-2 6M2992 1700l8 0 8-1 4-7 2-8 2-6-1-5-5-2-7-1-4-3-5-2-8-2-6 0"/><path id="es" d="M3054 1642l7-2 9-3 11 0 9 3 2 5 0 6 2 5 1 5-1 5-3 5-1 5-1 5-4 6-3 5M2771 1919l-5-6-7-6-6-2-4 0-6 1-5 2-4 3-4 5-4 6-3 6M3055 1743l-2-6-3-6-7-4-8-1-7 1-6 4-8 5-5 6 3 6 5 8-3 9-3 7M3330 1811l-2-6-1-8 1-9 3-8 4-7 3-6 3-8-1-8-6-6-7-5-5-4-5-2-9 3-8 5"/><path id="et" d="M2958 1708l-8-14-11 3-5 15 2 11 4-6-4-16-10-7-9 9M2921 2111l-12 8 2 10 14 3 13-2-2-3-14 2-11 9 4 9 15 3 11-3-4-3-15 3-9 9M3274 1817l-7 13 8 10 16-3 7-10-7-5-13 9-3 14 12 7 14-6 4-10-10-2-11 11 1 14 13 3 13-8 0-9-12 2-9 13 5 12 15 0 10-10-4-7M2877 2067l1 16 13 7 13-8 5-12-7-3-8 12 2 15 13 5 13-8 3-12-7-1-8 12 4 15"/><path id="eu" d="M3456 1879l-4 2-5 2-7 1-8 1-8 1-7 0-3-4-2-6-6-4-7-1-9 4-8 6-6 3-6 2-4 6-3 4M2743 1803l-6 2-6 4-2 5 0 6 0 6 2 6 5 7 7 5 9 5 8 2 7 0 4-3 0-9-1-9M2964 1660l7 4 10 4 9-3 9-4 6-1 6 2 5 7 3 7-2 6-2 4M3193 2125l4-5 5-7 0-9 0-9 1-10 1-7"/><path id="ev" d="M3330 1892l1-10 3-10 9-5 7-4 0-6-3-6-3-10-1-8 4-3 6-2 7-1 8 0 7 2 6 3M2920 1709l-9 1-11 0-7-6-6-6-6-2-5-3 0-8 2-9 4-6 6-5 7-4 7-4 8-5 6-4M2937 1685l-8-4-9-4-7 0-6 3-5 5-3 6-1 6 2 6 10 3 10 2 5 4 3 5 0 7-2 8-2 8-4 7-5 3-5 1M2866 1892l-9 1-10 3-4 7-5 6-9 3-8-1-8-4-5-8 1-7 2-9-1-10 0-9 3-6 1-6-8-4-8-5 0-8 5-9 8-6 7-4"/><path id="ew" d="M3373 1990l-12-9-12 5-2 15 8 10 7-3-3-14-12-9-11 6-2 15 8 11 7-5-3-14-13-8-11 7 0 15 8 10 6-6-4-14-12-7-11 8 0 15 9 9M2815 1765l-14 6 1 12 15 6 11-2-6-5-16 2-8 9 9 11 15 2 4-4-13-3M3154 1913l-14-8-11 6-1 16 8 10 5-5-7-14-14-5-10 10 3 16M3279 1758l-15-1-4 9 10 12 11 4-1-6-14-7-13 3 2 11 12 10 8 1-6-8-16-4-9 6 6 12 13 8 4-3-11-8"/><path id="ex" d="M3161 1719l-7 5-9 5-6-4-5-7-8-6-6-6 0-5 1-6-1-5-1-5 1-7 5-5 9-2 10 0 4 3 1 6 2 7 2 6M2849 2098l-1-5 0-6 2-9 2-8-4-7-6-4-8 4-7 6-6 1-7 1-9 0-8 1-7 7-7 6-7 0-6-2M2933 1871l7-2 8 0 7 4 3 7-5 7-6 7-3 7-1 6 3 8 2 8-7 7-8 5 0 6 1 5-2 7-2 6 0 6 0 5-6 8-6 6M2875 2050l1-6-1-6-6-5-8-2-7 3-7 3-6-4-6-3-6 2-7 5-8 6-6 7 0 6 2 6 2 8 0 7-8 5-9 5-1 8 1 7"/><path id="ey" d="M2878 1725l-3-7-4-8-5-1-6 1-7 1-7 1-8 5-5 6-2 5 1 7 1 8 3 8 3 6 4 4M2985 1634l-1 7-1 8-3 5-3 5 0 6 0 6-1 8-1 9-1 10 1 9 5 5 6 3 9 3 8 1M2780 1691l-2 4-1 7 2 8 3 9 4 5 5 4 9 4 8 3M3116 1727l-4-3-3-5 0-9 0-9-2-8-4-4-7 1-8 1-5-7-4-9-6-8-5-8-2-5-2-6-5-8-5-6"/><path id="ez" d="M3349 1836l-15 4-2 13 12 10 12 0-2-6-14-3-13 7 2 13M3386 1858l-15-2-6 10 8 14 11 6-2-7-13-8-14 3 0 13 11 12 7 1-6-9-16-5-9 8 5 14 11 8M2989 2060l-14-3-5 9 8 13 11 6 0-5-12-8-14 0-2 10 9 13 10 4-2-6-13-7-13 1 0 12 11 11 9 2-5-7-14-6M3039 1670l4 14 10 1 8-12 0-13-6 0-4 13 4 14 10 0 8-13-1-13-6 1-4 14 5 13 11-1 6-13-1-12-6 2-3 14 6 12 10-2 6-14-2-11-6 3"/><path id="eA" d="M3127 1676l-2 16 12 8 15-7 4-12-8-1-8 13 3 15 14 2 13-10M3156 2114l-10-12-14 3-5 16 7 11 8-5-2-15-12-8-13 7-1 16 8 7 6-8M3256 1949l-14 4-2 9 12 8 14 0 0-6-13-3-13 4-1 9 12 8 13 0 0-6-13-4-14 5 0 10 13 7 12-1-1-6-13-3-13 5 0 10 14 7 12-1-2-6-14-3-12 5 1 10M3414 1809l-14-5-8 9 4 14 10 8 3-6-10-11-14-2-6 11 7 14 9 5"/><path id="eB" d="M3137 1770l4-7 4-8 6-4 6-2 3 4 4 4 7-4 7-4 7 1 7 3 3 5 1 7 0 9 0 8M3236 1716l5 2 6 3 3 4 4 5 7 7 6 6M3164 1906l-3 5-2 6 0 6 1 6 4 9 5 9 5 6 4 6-3 7-3 6 2 8 2 7M3026 1648l5 0 6-2 5-9 3-7 0 5-1 7-6 3-6 3 0 7 3 7 5 8 7 4 8-2 9-3 10-2 8 1 5 8 3 7"/><path id="eC" d="M3021 1769l3 14 11 3 10-11 2-13-5 0-5 14 4 13 11 1 9-12 1-12-5 2-4 14 5 13 11-1 9-13M3397 1737l-16-2-6 10 6 14 12 5 2-6-11-10-15 0-4 12 9 13 10 3 0-8-13-8-14 3-1 13 10 12 9 0-3-9-14-7M3361 1875l-11 9 4 8 14-1 11-5-2-4-14 4-9 10 5 7 14-1 11-6-5-3-14 5-8 9 7 6 15-2M2778 1761l5 14 11 0 8-15-2-11-6 5 0 16 8 9 11-7 4-16-5-5-4 11 3 16 11 2"/><path id="eD" d="M3096 1654l-1 4-1 7-2 6-2 6-3 4-4 4-5 8-5 7-6 1-6-4-1-7-2-9-7-7-7-6-1-8 1-6M3199 1751l6 6 8 7 5 7 4 7 4 8 1 7-4 7-7 6-9-1-9-1-6 6-3 8 2 9 5 8 4 8 4 6 9 0 8-2M3043 1879l-7-3-8-4-8-5-7-6-8-5-6-4-6-4-6-3-10-2-9 0-5 8-2 8M3200 1929l5 2 7 4 7 5 4 6-3 8-5 7-6 0-6-2-5-2-5-1-8 2-9 1-5-4-4-5-7-5-6-4"/><path id="eE" d="M2869 2036l-9-12-8 2-3 15 4 12 3-1-3-13-9-11-8 2-2 15 3 12 3-2-3-13-9-11-8 4-2 14 4 12 3-3M3255 1782l-6 13 7 8 15-3 8-9-5-3-12 9-4 14 10 5 15-6 5-8-8 0-11 11 0 12 12 3 14-8 2-7-10 3-10 13M3124 1929l-8-13-11 1-6 15 2 12 5-4-1-15-9-10-11 5-3 16 4 9 4-8M3272 2013l-15-2-5 9 7 14 11 6 1-4-11-8-15-1-4 10 8 13 11 6 0-5-13-8-13 0"/><path id="eF" d="M3090 2139l6-3 6-5 1-10-2-9-5-4-5-2M2959 1700l6 6 5 8-4 4-4 5 5 8 6 9-3 5-2 4 4 7 5 8-2 10-4 9-2 6-2 4-5 5-5 3M3054 1954l-5 7-7 8-8 5-7 5-10 2-7 4-4 10 0 9 4 6 5 4 3 8 3 7M2938 2069l8-3 8-3 5-3 4-3 7-6 8-7 3-5 4-5 8-4 9-5 2-6-2-7-3-9-6-7-6-2-7 0-8 2-7 2"/><path id="eG" d="M3065 1730l3 6 3 6 5 6 3 6-2 5-3 5-4 6-2 7 3 8 6 6 8-1 7-1 6 2 4 3 3 7 2 6M3014 1889l1 5 1 6-4 8-3 9 4 7 6 5 4 0 6-2 10-1 9-1 4-4 3-5 5-2 4 0M3019 1650l0 6 0 9-1 9-2 9-1 6-1 6-1 7-1 8 0 8 0 5M3096 1741l-2-8-1-10 5-5 5-4 2-6 1-5 3-7 3-6 4-5 2-4-4-7-3-5"/><path id="eH" d="M3013 1726l7 2 7 4 4 7 1 7-3 4-4 5 1 9-1 8-7 6-8 2-8-4-5-7 4-8 5-8M3063 1779l6 0 7 2 3 4 3 6 3 7 4 6 5 2 5 2 0 7-2 6-9 5-9 4M2950 1687l-8 2-8 5-5 7-3 9 1 9 3 9 1 6 3 5 7 7 7 6 5 4 4 5 2 10 0 8M3093 1800l3-6 5-7 6-1 6-1 5-6 3-7 1-6 0-5"/><path id="eI" d="M2990 1671l-14 0-4 9 10 10 13 4 1-4-12-6-14 0-3 9 10 11 12 3 1-4-13-6-13 1-3 9 11 10 12 3 0-4-13-6-14 1-1 10 11 10 11 2M3163 1703l-15-3-8 9 4 15 11 7 5-7-10-11-14-2-8 11 7 15 11 5 2-8-11-11-14 0-6 12 8 14 11 3 0-9-12-9M2804 1879l0 15 9 3 10-10 5-12-3 0-5 12 1 14 9 3 10-10 5-12-3 0-5 13 1 14 9 2"/><path id="eJ" d="M2861 1799l-6 0-9 0-7 0-8 2-7 7-6 6-6-2-5-4-4-5-3-6 0-8 0-7-3-6-4-4M2918 1809l4-4 2-5-2-7-2-7 4-7 5-6 7-5 7-2 9 0 9 2 5 6 4 8 0 9-3 7-7 3-8 1-7-2-6-2M3066 1906l1-9-1-9-4-3-6 0-8 3-9 4-7-1-7-3-7-4-6-4M3097 1763l-5-3-5-5-1-5 0-6-4-9-4-8-4-4-4-3-2-9-2-9-1-7 0-4"/><path id="eK" d="M2886 1768l-3-6-4-8 0-6-2-5-5-3-7-1-7-1-6 0-4 3-2 6 2 4 3 6 0 7-1 8-3 10-1 8 6 4 6 3M2904 1646l-5 1-7 3-6 5-4 6 2 6 5 3 9-2 10-3 10 5 8 4M3161 1697l-7 5-8 6-8 2-9 1-8-3-8-2-7 2-6 3-7 0-7-2-3-4-3-4-5-7-6-6-6-2-6 2-6 5-5 6M2977 1682l4 5 7 4 7 1 8-3 5-4 6-4 9-1 9 0 8 6 7 6 8 6 7 5 0 7-2 7-3 4-4 4-6 4-5 5-5 10-3 8"/><path id="eL" d="M2945 1653l4-6 7-8 7-3 6 0 4 4 3 6-1 8-1 7M2812 1820l0 5 1 6 5 8 6 6 6 4 5 0 6-5 4-7-1-9-3-8-7-2-6-1M2860 1909l2-5 2-6 1-5 1-6 4-6 6-5 6-2 7-1 5-3 5-4 6-8 5-7M3089 1638l-8 0-9-2-7-2-7-2-6 2-4 4 0 8 3 9 6 9 5 7"/><path id="eM" d="M2872 1834l-3 5-3 6-1 8-1 8 2 10 1 9-8 4-8 2M2951 1923l-6 1-7 0-10 2-9 0-8-3-6-4-5-4-3-4M2806 1873l0-9-3-9-7-2-8-1-6-3-3-4 2-6 4-6 5-6 4-7 0-7-3-5-8 0-8 0-3-8-4-9-6-7-7-4-10 0-9 2M2957 1754l-3 4-5 2-7-4-7-7-3-8-1-7"/><path id="eN" d="M3001 1776l4-6 5-8 2-7 3-8 6-5 5-3M2829 1767l2-8-1-9-6-7-8-4-5 2-5 2-6-2-7-3-9 1-7 2-2 6 0 6-2 7-1 6 4 5 8 4 8 1 8 2 5 7 2 7M2910 1919l0 4-2 5-7 2-7-1-6-2-2-5 2-9 5-7 8-4 6-2M3102 1687l8-4 9-3 6 6 5 8 8 6 6 6 0 8-2 7-4 6-5 5-7 6-6 7 1 10 4 9 7 3 8 1 3 4 4 3 10 2 9 0"/><path id="eO" d="M2788 1737l2 9 5 10 8 5 8 3 7 2 6-1 5-6 3-6M3200 1731l6 0 6 2 3 8 3 10 2 9-1 7-6 6-7 4-6 2-5-1-6-8-4-9M2828 1754l7 0 8-1 7 0 6 3 3 7 0 8-4 7-5 7-5 7-4 6-4 5-4 3-9 0-9-3-4-4-4-4-5-2-4-1M3127 1724l-2-8-3-8-6-3-6-1-6-1-6-2-7-5-7-6-6-1-5 2-7 2-8 2-9 2-9 2-2 5-3 5-9 2-10 2-8 6-5 5"/><path id="eP" d="M3166 1769l-4 2-7 1-9-2-9-5-5-8-2-10 1-8 1-9-3-6-6-5-8-6-7-6-1-7-1-8-8-3-9-3-6-5-4-4-4-4-4-3"/><path id="eQ" d="M2815 1869l2-6 2-7 5-4 5-2 7-3 6-2 7 3 6 4 5-5 5-6 8-2 8 1 3 5 2 7 6 3 6 3 4 4 4 6 3 9 3 8M2766 1851l4 4 5 4 5 1 6 2 7 7 6 7M2833 1910l-6-4-7-4-6-4-8-2-9 1-8 2-4-4-3-5-1-5-2-4-7-3-8-2-7 0-8 1-10 1-9 0-5-6-3-6M2943 1685l5-3 7-3 8-1 6 1 4 6 0 8-3 8-3 9-1 6 0 6-2 9-3 9-4 8-5 6-8 0-8-1"/><path id="eR" d="M3061 1680l8-2 9-2 4-4 1-5 0-6 0-5 1-7 2-7 5-4 6-2 6-3 5-1 7 0 5 0M3058 1668l4-3 5-3 4 2 5 4 7 2 8 1 7-1 7 0 5 6 6 5 7 2 6 2 1 6 2 6 6 4 7 1 6-6 5-8 6-5 6-3M2823 1853l-5-7-5-8-3-9-2-8-3-7-1-6 3-5 6-3 7 5 7 5 9-1 7-4 0-5-1-6 4-5 3-5-5-6-4-6 4-6 5-5M2733 1793l5 5 8 6 8-1 7-1 6 8 4 8"/><path id="eS" d="M3068 1692l2 5 0 7-9 4-8 3-1 5 1 6-2 5-4 4-6-2-4-2M2913 1688l5 0 6 1 6 6 6 8 6 6 6 5 6 4 5 3 10 2 8 1M2943 1828l1 6 0 6-4 4-3 4 0 8 3 8 6 7 8 5 7 6 8 3 7-3 6-5 1-7 0-4M2960 1839l-3-3-3-7 3-9 2-9-6-7-9-5-8 1-7 0-6-6-5-6-4-2-4-3-2-8-1-8-4-4-4-2"/><path id="eT" d="M3067 1909l-4-7-5-7-6-2-6 1-7 2-5 2M2889 1804l-2 7-1 9-2 8-4 5-9 0-11 0-8 5-5 8 2 7 2 6M3075 1728l-3 5-4 5-8 5-8 3-6-5-5-7-4-5-2-4-4-5-4-4-7-2-7-1M2977 1681l-6-2-5-4-2-6 0-8 0-6-1-7-1-9-2-9-6-1-7 1-9 1-8 1"/><path id="eU" d="M2900 1765l7-2 7-5 2-8 2-8 5-2 5-1 6-4 7-4 5-2 5 0 7 2 6 2"/><path id="eV" d="M2966 1878l3-4 4-6-2-7-3-6-5-2-5-2-1-7 1-7 4-6 4-5-2-9-4-9-4-8-4-7M3051 1692l7 5 9 5 6-1 4-2 4-4 4-2 5 2 5 5 7 3 6 4-1 10-2 9M2959 1822l-2 5-4 5-9 5-8 6-4 4-2 5 0 9 2 10 4 7 4 6 3 8 1 6-4 5-6 3-7-2-5-2M3058 1636l-7 4-8 4-7 1-6 2-4 6 0 6 7 5 8 5 2 7-1 6"/><path id="eW" d="M2957 1925l-7-1-8-2-5-4-2-5 0-7 3-6 8-1 9 0 9 2 7 2M3084 1802l-3 3-4 5-3 7-2 7 3 4 6 2 9-4 8-4M3003 1735l-7-5-9-6-9-4-7-5 0-9 3-9 6-4 5-3M2900 1911l4 5 7 4 7-4 8-4 8 1 7 3 6 2 7 3 10 3 8 3"/><path id="eX" d="M2826 1838l-2-5-3-6-2-5-2-5-6-2-5-2-1-7 2-7 5-2 7-1 6-4 7-4 5 3 3 5-5 9-6 7M3084 1743l-6-5-8-4-5 3-5 5-9 6-6 6 1 6 4 6 2 7 3 6 8 5 8 2M2753 1790l-5 3-8 3-10 2-8 2-1 5 1 7 0 7-1 7 1 9 2 7M2899 1673l-5-4-8-3-9 0-6 1 6 0 10-1 7-6 4-8-3-8-5-6"/><path id="eY" d="M3173 1774l3-7 4-8 7-1 7 2 7 2 7 1 6-3 5-5-2-9-4-8M2842 1824l0 9 0 10 3 6 4 5 7 3 7 0 5-6 4-10 1-9-2-9-3-7-5-6-3-5-2-6 1-7-1-7-5-5-5-4M2815 1870l-5-1-5-1-8 2-7 3-4 8-2 9 5 5 4 5-5 8-7 6-6 0-4-3-1-7 1-8M2892 1721l-3-7-5-7-8-1-5 2 4 4 8 5 10 2 10-1 3-6 1-5"/><path id="eZ" d="M3159 1698l3-7 1-6-1 4-1 7 4 3 4 4 0 7 0 8 3 8 2 9 0 10-3 7-8 2-11-1-10-4-8-5-6-4-5-3M3145 1720l-4-6-4-8-3-9-3-7-5-1-7 1-7 1-6-1-5-7-3-8M3048 1765l5 3 7 5 7 4 7 3 7 2 6 3 5 7 5 8 6 0 5 0 1 7 1 7 3 6 2 4M3014 1880l2 6 4 6 8 2 8 1 9-3 6-3"/><path id="fa" d="M2820 1774l3 4 3 5 4 9 3 9 0 6 0 6 2 6 3 4M2831 1902l-5-3-7-4-7-5-7-1-5 6-5 7-6 4-7 3-6 1-5 1-2 9 2 9 7-1 8-3M2859 1732l8 1 9-1 7-5 6-7 3-9 3-9 4-6 6-4 6 1 6 0 4-3 2-5-2-5-1-5 5-5 6-4M3134 1756l-6-5-7-7 0-9 2-8-1-10-3-7-6-1-7 0-5-7-3-9 0-7 3-5 7-2 6-3 0-9-2-11-1-8-2-6"/><path id="fb" d="M2939 1754l-7-3-9-1-8 5-6 7 2 8 3 9-1 8-1 6 5 4 5 4 0 6-1 5M2787 1914l4 8 8 8 9 1 10-1 7-3 8-4 9-5 8-3 7 2 5 4M2728 1874l-2-4-1-7 5-6 3-6-1-7-4-6-2-6-2-5M2951 1703l5 3 7 2 7-1 6-4 0-6-1-8-2-6-1-5 3-9 6-7 8 1 7 4 5 4 3 4"/><path id="fc" d="M2942 1660l3-6 5-6 8 0 7 0 7-3 5-3M3086 1770l-8 5-10 3-8-2-6-6 1-9 4-8 5-1 7 1 6 2 6 1 8 1 7 3 0 6-1 7 4 9 4 7M2930 1844l-2-9-3-10-4-8-4-7-5-1-6 0-5-4-2-6 2-8 5-8 6-2 6-2 5-8 2-7M3039 1721l3-8 2-9-4-7-7-4-6-3-6-3-3-9-4-9-9-4-9-2-5 3-4 5-3 10-2 9"/><path id="fd" d="M2895 1769l1 6 3 6 8 3 8 3 6 2 4 4 1 8 1 7 7 3 7-1 7-8 4-7M3096 1673l-1-8-1-10-2-8 0-8 4-5 5-2 5 3 5 4M2927 1808l4 4 4 6-1 10-1 10 4 4 4 4-2 5-4 4-7 0-7 0-3 9-4 9-9 1-9-3-3-5 0-7 4-6 5-6 8-2 7 0M2910 1808l-5 1-6 0-6-3-6-4-6-5-7-4-9 3-7 6-3 5 0 6 4 7 5 6 6 0 5-4 2-6-1-7-9-6-8-5"/><path id="fe" d="M2831 1751l8 4 10 3 9-5 7-7 1-9 2-7 5-3 6-2 8-1 10 0 11 1 8 1M2866 1844l-2-7-4-8-4-5-3-5-1-8-1-7-8-5-9-2-5 4-6 5-10 3-10 0M2775 1820l-9 1-10 0-4-6-3-8-8-5-8-4-3-6-1-6M2992 1924l1-7-1-8-6-6-7-5-3-6 0-7 3-8 3-9 0-7 0-5 5-6 5-4 6-2 6-1 7 3 6 4 2 5 0 5"/><path id="ff" d="M3040 1764l5 14 9 0 7-13 1-12-4 1-1 14 6 13 9-2 7-14-1-11-4 3 0 15 7 11 9-4 6-14-1-10-4 6 0 15M2768 1853l-3 15 11 6 13-8 4-11-8-1-9 12 2 14 13 1 11-11-1-10-10 5-6 15 7 10 14-4 8-13M2855 1746l-15-3-6 8 6 14 10 7 3-4-10-10-14-2-6 9 6 14 11 6 2-5-11-9-14-2-5 10 7 13 11 6"/><path id="fg" d="M2818 1794l0 6 0 9 2 9 2 9 6 7 5 7-2 6-2 7 3 5 7 3 9 2 10 1 8 3 8 2 5 4 3 6-1 9-1 8M3058 1735l-5-4-7-4-8 5-7 8-5 5-1 6 1 6 5 6 6 3 7 3 6-1 6 1 7 6 8 5 8-4 8-6 6-5 3-3M2907 1876l2-5 4-5 5-4 5 0 5 4 6 5 6 2 4 0M3096 1686l5-4 4-6-3-7-4-8 1-10 3-8 6-6 4-1-3 5-4 8-3 9-2 8"/><path id="fh" d="M3134 2954l-5 5-7 6-9 4-9 2-7-2-3-5 1-9 4-8 6-1 7-1 7-5 5-4M3251 2303l5 4 4 7-1 9-4 8-5 1-6 1-3 8-2 8-3 7-2 4M2947 2613l2 9 2 9 6 0 6 0 2 8 3 8 10 1 9 1 3 8 1 8M3107 2928l8-2 10-2 7 0 7 0 6-6 4-8-2-5-4-4-1-7 1-7 6-6 7-6 3-5 4-5 4-4 4-5 1-5 1-6 6-6 6-6"/><path id="fi" d="M3252 2674l-11-11-15 3-4 16 6 11 7-6-4-15-13-7-12 9-1 16 8 6 4-10-8-15-14-2M3213 2319l-13 7 0 12 13 8 13-2 0-6-14-1-13 8 1 12 14 7 12-1-1-6-13-1-13 8 2 12M3145 2657l7 14 12 0 7-15-2-12-5 4 1 16 9 10 12-6 4-16-4-7-4 9 4 16 11 5M2802 2681l-15 2-4 9 10 11 13 4 1-5-11-6-15 1-3 10 9 11 13 3 1-5-11-5-15 1-3 10 10 11 12 3 2-5-12-6"/><path id="fj" d="M3228 2475l-16 0-7 13 8 14 13 3 2-8-13-8-15 3-4 14 10 13 12 1-1-10-14-6-14 6-1 15 12 10 9-2M3352 2660l2 16 12 4 12-10 0-13-9 0-7 14 5 13 14-1 9-13-4-10-10 5-4 16 10 10 13-6 5-14M3022 2721l-3 15 10 8 15-5 6-11-7-3-10 10-1 15 12 6 14-7 4-10-8-1-10 12 2 15 14 3 13-9 1-9-10 2-8 13M3198 2577l-16-3-9 11 5 16 11 5 2-9-13-10-15 3-3 15 10 13 8-1"/><path id="fk" d="M2719 2664l5 14 11 1 9-12 0-13-5 0-3 14 6 13 11 0 8-13-1-12-5 2M2860 2668l-11 11 5 12 16 2 10-7-7-6-14 5-7 12 10 9 16-1 5-9-11-3-14 9 0 13 14 5 13-5M3407 2623l-8-12-8 1-3 15 4 12 5-2-1-14-8-11-9 3-2 15 5 11 4-3-2-14-8-10-8 4-2 15 5 11 4-5-2-14-9-10-8 6 0 15 5 10 3-6-3-15-9-8-7 7 0 16 5 8 3-7M3165 2718l-13 8 0 12 13 8 13-3-1-6-13-2-13 8 1 13 14 7 12-3-1-7-14-1-12 8"/><path id="fl" d="M3324 2774l-4 4-4 5 4 6 5 7-2 6-4 5-3 6-2 5 1 6 2 5M2786 2715l-9 2-10 1-5-3-4-4-7-3-8-4-5-3-3-4-2-9 1-10 7-3 8 0 6 7 3 9-5 8-6 5M2998 2593l2-4 2-5-4-4-6-4-9-1-9 0-4 4-3 5-2 7-3 6-5 2-6 1-5 4-3 6 4 9 3 9-5 5-5 2M3122 2466l-8 2-10 2-6-4-6-3-5 2-5 4-9 0-8-1-7-5-4-6"/><path id="fm" d="M2843 2612l2 15 10 4 11-9 3-13-7-2-7 11 2 15 11 3 10-10 3-13-7-1-7 12 2 14 11 3 11-11 2-12-7-1-7 13 3 14 11 2 10-11 2-12-7 0M3150 2395l-15 6-1 15 14 9 12-4-5-9-16-1-10 12 8 14 15 2 4-8M2746 2709l2 15 10 2 10-11 2-13-5 1-4 14 4 14 11-2 9-13 0-10-6 4-2 15 6 11 11-4 7-14M3238 2551l-6-13-9 1-5 13 1 13 3-2 0-14-7-12-9 3-4 15 2 11 3-5"/><path id="fn" d="M2945 2559l-4 15 11 9 15-5 6-12-9-3-10 10 0 15 13 6 14-8 2-11-10 0-10 13M3340 2583l-15 1-5 10 9 13 12 3 2-6-12-6-15 1-3 12 9 11 12 3 1-6-13-7-14 3-3 12 11 11M2864 2668l-12-8-11 6 0 15 9 10 6-7-6-13-14-6-8 10 3 16 9 5 3-10-8-13-14-1-6 13 6 14 9 1 0-12-11-11-13 3-2 14 7 12M3013 2513l-11-9-10 4-1 14 6 12 5-3-4-12-11-10-10 5-1 15 7 11"/><path id="fo" d="M3295 2574l-15-3-8 10 5 15 11 6 5-6-9-11-15-2-8 11 6 15 11 5 4-7-10-11-15 0-7 11 7 14M3167 2602l-12-9-9 6 2 16 8 9 5-6-6-13-13-6-7 9 3 15 9 7 3-9-9-12-12-3-5 11M3145 2758l-3 15 10 9 14-5 7-12-7-5-10 8-2 15 10 8 14-5 6-11-6-5-11 8-2 15 10 8 15-5 6-12-7-4-10 8-2 15 10 8 14-5M3065 2580l-13 8 1 13 13 7 13-5-1-8-13-3-12 9 1 13 14 6 12-4-1-9-14-2-12 8 2 13 14 7 12-5-2-9-14-2"/><path id="fp" d="M2934 2396l-16 1-5 12 9 14 12 2 0-9-13-7-14 5-1 15 12 11 10-2-5-10-15-4-12 9 4 15 13 7 7-5-9-9-16-1M3306 2399l-12-9-7 5 3 15 8 10 2-6-8-13-12-5-4 9 5 15 7 6-1-9-10-12-10-1-1 12 7 14 5 1-4-12M2969 2391l-12-9-11 7 0 16 9 9 4-6-7-14-14-4-7 10 3 16 9 5 1-10-10-13-13 0-5 14 6 14 8 0-2-12-12-10M3273 2766l-9 12 5 7 15-2 10-8-4-4-12 5-8 12 6 7 14-2 10-9-5-3-13 6-6 12 6 6 15-3 8-8"/><path id="fq" d="M3212 2549l0 15 9 4 12-10 3-12-6 0-7 13 2 13 11 0 10-12 1-10-8 4-5 15 5 11 12-4 8-13-2-7M3064 2883l-15 5-2 12 13 9 13-1-2-8-14-4-13 7 2 13 15 7 10-3-5-8-16-2-10 10 6 12 15 5 7-6-8-7M3168 2781l-12 10 4 13 14 5 12-7-3-9-15 1-10 12 6 12 15 3 10-7-5-8-15 2-8 12 7 12 16 2 8-9-7-7M2952 2375l-5 14 7 7 15-6 7-9-5-2-11 11-3 13 11 4 14-8 4-9-9 3-9 12 1 12 13 0"/><path id="fr" d="M3090 2575l-11-9-7 4 2 15 8 10 3-4-6-13-11-7-6 6 3 15 8 8 2-5-7-13-11-6-5 8 4 15 8 7 1-7-8-13-11-5-4 10 5 14 8 6 0-9-9-12M3261 2680l-14-1-3 9 10 11 12 4-1-5-13-6-13 2-1 9 12 10 10 3-3-6-15-5-11 3 2 11 13 9 8 1M2883 2779l5 14 12 1 8-14-3-12-8 1-3 15 8 12 12-3 5-14-4-11-8 5-1 16 9 9 12-6M2956 2728l-3 15 9 5 13-8 5-11-6-1-9 12 0 13 11 2 12-10 2-10-8 3-7 14 3 11 12-1 10-12 0-7-9 6-6 15 6 8 13-5"/><path id="fs" d="M3321 2724l-15 0-3 9 10 12 11 4-1-5-14-6-13 2 1 10 12 11 9 1-5-6-15-5-11 5 5 12 13 9 6-2-9-7-16-2-6 7M2927 2677l-6 13 7 8 14-4 10-9-3-2-11 9-5 14 8 6 15-5 8-8-5-1-10 10-4 13M2964 2295l-11 8 2 9 15 2 12-5-3-4-14 3-10 8 4 9 15 1 11-5-5-4-14 4-9 9 7 7 15 0 9-5-7-3-14 5-7 9 8 7 16-1 6-5-8-2M3148 2509l-10 11 4 10 16 0 11-6-4-3-13 6-8 12 7 8 16-2 9-6-7-1-13 8-5 11 10 7 15-3 6-6"/><path id="ft" d="M3346 2822l-13-9-9 5 1 16 6 11 2-5-8-13-13-6-7 10 3 16 6 6-1-8M3193 2706l7 14 12-2 6-14-5-12-7 5 0 15 10 10 12-8 1-16-7-6-5 10 4 15 12 4 9-12-3-15M3025 2548l-15-3-8 10 6 14 11 7 2-5-10-10-14-2-6 10 6 14 10 6M3434 2602l-5 15 10 10 16-3 6-11-7-4-12 9-1 16 12 7 15-6 3-10-10-2-10 12 2 15 15 4"/><path id="fu" d="M3290 2653l0 15 10 5 13-9 3-12-7 0-7 14 3 13 13 0 11-12-1-9-8 6-5 15 7 10 13-5 8-12-4-6-8 10-2 15M3350 2541l-12 8 2 10 15 3 12-4-5-5-15 2-9 10 7 8 16 1 7-6-9-3-15 5-4 10 12 6 15-1 2-6-13-1-14 7M3260 2586l-11-11-13 3-4 14 5 12 6-2-1-14-11-10-13 4-4 15 6 11 6-3-2-14-12-10-12 6M2968 2457l-10-12-14 2-6 14 5 12 8-2 0-15-11-10-13 4-5 15 6 11 8-5-2-15-12-9-13 6-3 16 8 8"/><path id="fv" d="M3254 2464l-14 9 1 15 14 8 12-4-3-8-15 0-10 11 4 15 16 5 9-6-7-7-16 3-7 13 8 13M3017 2302l-15-3-8 10 5 15 12 5 5-8-10-11-15-1-6 12 8 14 12 3 1-10-11-10-14 2-4 13 10 13 10 0 0-10-13-9-13 4-1 14 10 11 10-2-3-11-14-7-12 6 2 15M3126 2408l3 14 10 4 10-11 3-12-5-2-5 12 3 15 9 3 11-11 3-12-5-2M3026 2532l-14-4-5 7 8 12 10 7 2-4-11-9-13-2-4 8 9 12 10 6-1-5-12-9-12-1-2 9 9 12 10 4-2-6-13-8-12 0 0 10 10 12"/><path id="fw" d="M2978 2694l-2 15 10 6 13-9 4-12-7 0-8 13 2 13 12 1 11-11 1-9-9 4-6 15 5 10 14-4 8-12-3-6M3354 2487l-11 12 4 13 16 3 11-6-6-6-14 5-7 13 9 11 17 0 6-7-10-3-14 8-2 14 13 8 15-4M3218 2676l-12-7-9 5 2 15 9 9 5-3-6-12-12-7-9 5 2 15 9 9 5-3-6-12-12-8-9 7 3 14M2877 2763l-2 15 11 7 14-7 4-13-9-2-10 12 2 14 13 3 12-10 0-11-10 2-8 14 6 12 14-1 10-12"/><path id="fx" d="M2921 2409l-16 0-3 11 10 12 11 3-3-6-15-6-12 5 3 13 13 9 6-2-9-8-16-2M3292 2364l-15 5 0 12 14 9 11-1-7-5-17 1-8 9 9 12 15 4M2980 2579l-16-1-6 11 9 14 11 4 0-8-13-8-14 3-1 13 11 12 9 0-5-9M2834 2585l-7 13 6 8 15-3 9-9-5-4-12 7-6 13 8 7 15-4 7-9-6-3-13 8-3 13 9 6 15-6 5-9-8-1-12 9-2 13"/><path id="fy" d="M3380 2739l2 7 4 9 6 6 6 6 6 5 4 6-2 6-5 5-7 4-7 3-8 6-5 4M2983 2305l-1 6-1 6-5 1-6 1-2 9-2 10-6 4-9 1-10 2-9-2-4-8-1-8M3030 2754l-3-5-3-6-5-2-4-3-3-6-3-6-7 1-8 2-5-7-3-9 1-9 3-7 3-5 6-2 7 5 8 6 6 6 4 6-2 6-2 5M3000 2763l1-6 4-7 8-3 9-2 5-5 3-5-2-5-3-6-6-6-7-5-7-3-7-3-7-7-6-4-5 1-4 5-2 7 1 8 7 8 6 5"/><path id="fz" d="M2995 2480l7 14 12-2 5-16-3-10-4 6 3 16 10 7 10-10 1-16-5-2M2975 2519l-15 0-4 11 10 12 13 2-1-9-14-6-13 4 1 13 13 10 9-3-6-9-16-4-9 9 7 13M3113 2484l-13 7 2 9 14 5 12-2-3-3-15 2-10 7 5 9 15 3 10-2-7-3-15 3M3146 2461l-14 5 0 10 14 7 12-1-4-6-15-1-11 8 7 10 15 4 7-4-9-6-16 3"/><path id="fA" d="M2964 2707l-7 1-8 0-7-4-7-7-9-5-7-5 0-8 0-6-8-4-9-3-5-2-5-2-7-5-7-3-6 2-6 2-5-2-4-5-6-8-5-7M2795 2770l-6 1-6 0-6-2-7-1-7 4-7 3-8-3-7-5-6-8-3-8 2-5 5-4 2-5 2-6-3-10-3-9M3269 2883l3 7 3 8-2 6-1 5 6 4 6 6-2 9-4 7M3009 2701l5 3 4 5-3 5-4 7 0 7 0 6-6 2-5 3-2 8-2 9-6 7-7 6-6 6-7 2-7-5-8-6-6-4-5-3"/><path id="fB" d="M3131 2785l-4 15 8 8 14-4 9-10-5-4-10 9-3 15 9 7 14-5 7-10-4-2-11 9-2 15 9 6 15-6M3215 2355l-2 15 9 5 13-8 6-10-5 1-8 13 1 13 12 1 12-10 3-8-7 5-7 15 5 10 13-3 10-11M3051 2402l3 15 11 4 11-10 2-13-6-2-5 12 2 14 11 4 11-10 3-13-6-2-6 12 3 15 11 3 11-10M2818 2615l-12-7-7 6 4 14 10 9 2-3-9-11-12-6-6 7 6 14 9 8 1-4-9-11-13-5-4 9 6 13 9 7 0-6-10-10-12-4-4 10 7 13"/><path id="fC" d="M3220 2424l-4 4-4 6-6 7-4 9 1 9 4 9 5 3 7 2 5 6 5 6 8 0 6-1M3324 2586l-6-3-7-3-5 4-5 5-5 4-4 4-1 7-3 7-9 3-8 2M3515 2608l1-6-2-7-6-3-8-1-8 3-7 5-3 8-1 7M3267 2452l-5 4-6 2-4-5-5-5-8 1-8 1-5-2-5-3-6 1-5 2-7 8-4 9 2 5 7 4 10 3 9 1"/><path id="fD" d="M3281 2760l-14-8-9 8 2 16 9 8 2-8-9-13-14-2-5 13 7 15 7 1-2-12-13-10M2852 2586l6 15 13 1 9-13-1-12-7 1-2 15 8 12 14-2 7-14-3-10-7 5 0 16 11 10 12-7 5-15-5-7-6 9M2968 2353l-15 6-2 13 13 10 12-1-2-9-16-2-12 9 4 14 15 7 8-6-8-7-16 1-7 13 9 12M3056 2779l6 14 12 1 9-12-2-13-7 0-4 13 6 13 12 1 8-13-2-13-8 1-3 14 7 13 12-1 8-14"/><path id="fE" d="M3050 2870l-14 6-2 12 13 9 13 0-1-7-15-3-12 8 1 12 14 8 11-2-4-7-15-1-11 9 4 13 15 6 9-4-6-6-16 1M3056 2459l-12 10 3 13 15 6 12-5-5-6-15 4-9 12 8 12 16 2M3097 2812l-7 14 8 10 15-3 9-9-5-4-12 8-4 14 9 8 15-3 7-9-6-3-12 9-3 14M2890 2505l-7 14 8 9 15-3 8-10-6-4-13 7-3 14 10 8 15-6 5-10-9-2-12 10 0 14 12 4 14-7 2-9-11 0-10 12 2 12 14 2 12-8-1-9-12 4"/><path id="fF" d="M2923 2558l-11-9-8 4 2 14 6 11 4-3-5-13-11-9-7 6 3 15 7 9 2-5-6-13-11-7-5 8 3 15 7 7 2-6-8-14-10-5-5 10 4 14 7 6 0-8-8-13-10-3-4 10 5 15M3003 2488l-12 7 1 8 14 4 13-4-1-4-13 1-12 8 1 8 14 3 13-3-1-5-14 2-11 7 2 8 14 3 12-3-1-4-14 1-11 8M3493 2636l-8-11-10 2-2 15 5 12 5-3-2-15-9-10-9 5-2 16 6 10 5-6-4-14-10-9-8 8 0 15 6 8 4-7-5-15-10-6-7 9 1 16 7 5 2-9-6-15-10-3-6 11M2920 2595l-12 11 3 12 15 5 12-4-4-6-15 3-9 12 7 12 16 2 8-6-8-4-15 6"/><path id="fG" d="M2879 2407l-2 4-2 6-2 5 0 5 3 9 5 7 9 2 9-2 4-8 3-9 7-6 9-5 6-4 5-3 1-7 0-6M2769 2674l5 1 5 3 2 6-2 7-9 4-10 1-9-1-8-3-5-4-4-3-6 4-4 4M3187 2636l6 2 8 1 9-4 7-5 1-5-1-5 2-7 1-8-4-8-3-8 2-4 2-5 1-10-1-8M2959 2545l9 3 10 1 9-6 5-8-1-8-6-8-8-1-8-1-4-3-3-4-6-5-6-5"/><path id="fH" d="M3083 2511l-15-5-9 10 4 16 11 6 3-7-11-11-15 0-5 12 7 15 10 3-1-10-13-9-14 3M2824 2615l2 15 12 5 13-9 2-13-8-2-8 12 3 14 13 4 12-10 1-13-9-1-7 13 4 14 14 3 11-11-1-12-9 0-6 14 5 13M3311 2660l-8 14 7 10 15 0 10-8-5-3-13 7-5 14 10 8 16-2 6-8-7-1-13 9-2 14 12 6 15-4M3285 2688l-11 10 2 12 15 5 12-6-3-7-15 1-10 11 6 12 15 3 10-7-6-7-14 3-8 12 7 11 16 1"/><path id="fI" d="M2847 2592l1-5 2-7 4-6 5-4 8 4 8 7 2 9 0 10 3 10 5 7 9 2 10 0 6 4 5 4 5 4 3 2M3138 2600l0-5 1-6 4-4 5-3 5 3 6 4 8 0 8 0 4 3 5 1 8-5 6-6M2868 2568l-4 2-6 3-6 3-5 4 1 8 0 8-4 6-6 3-7-4-8-6-6-6-5-5M3092 2944l-5-3-5-1-5 3-3 7 0 8 3 9 2 11 4 8 7 1 7-2"/><path id="fJ" d="M2963 2714l-13-6-9 8 4 14 11 8 5-5-8-12-13-5-8 9 5 14 10 7 5-6-9-12-13-4-7 9 5 15 11 6M2860 2788l3 14 8 1 8-13 0-12-5 3-3 15 5 11 10-5 5-14-2-9-5 8-1 16 8 7 9-9 3-15M3177 2444l-13 8 1 12 15 6 12-4-2-7-15 0-11 10 4 11 15 4 11-4-5-7-15 2-10 10 7 11 15 3 9-6-7-5-16 3-7 11 9 10M3166 2498l-16-1-7 12 7 15 11 4 2-7-12-9-15 2-4 14 9 13 11 2-2-9-14-7-14 5-1 15 11 11 9-1"/><path id="fK" d="M2993 2748l2 15 11 4 11-10 2-13-7-2-6 12 2 14 12 4 11-10 1-13-7-1-6 12 3 14 11 3 11-11"/><path id="fL" d="M3162 2901l-14-5-9 9 4 15 11 6 4-7-9-12-15-2-5 12 7 14 10 3 1-10-12-10-14 2-2 13 9 13 9-1M3074 2831l-8 13 6 11 15 0 10-9-6-8-13 5-7 13 8 10 16-1 7-10-7-6-13 6-5 13 9 9 16-2 6-11-9-4-13 7-3 14 11 7 15-4 4-10-10-3M3312 2829l-14 5-3 13 11 10 13 0 2-8-13-6-14 5-2 13 11 11 13-1 1-9-12-5M3386 2622l-9-12-10 2-5 15 3 12 4-2-3-14-10-10-10 4-3 15"/><path id="fM" d="M3144 2578l-4-3-3-5 4-5 3-5-1-6-4-5-9 0-8-1-4-4 0-5 4-6 5-7 0-5 1-5 3-6 4-7 0-6 0-5 2-6 2-4M3072 2630l-2-6-3-7-4-3-4-3-5-4-3-3M3327 2621l-1-8 1-8 8-2 10-2 6-3 5-1 5 5 6 6 7 3 6 4 0 8-4 8-5 3-7 0-6-4-6-5-4-8-2-6M3369 2634l-9 0-10-3-5-5-1-7 5-7 6-7-1-6-1-6 4-3 5-3 6-3 6-4 8-7 6-7"/><path id="fN" d="M3059 2674l-16-2-8 11 6 15 11 6 2-8-11-10-15 2-5 13 8 14 11 2-2-10-14-8-13 6-1 15M3050 2470l-12 10 4 13 15 3 11-7-7-6-15 3-7 13 10 10 16-2 5-8-12-3-14 8 0 13 14 6M3050 2403l-7 13 6 7 15-4 8-9-6-3-12 9-4 13 10 4 14-7 4-9-9 1-11 12 0 11M3233 2701l-14-7-10 8 3 16 9 8 2-7-10-13-14-1-5 13 6 14 8 2-2-10"/><path id="fO" d="M3101 2544l4-6 5-7-1-7-1-7 6-3 7-4 4-8 4-8 6 1 6 2 6-2 5-1 6 4 3 6-4 8-5 7M3022 2687l5 0 7 2 4 7 1 8-5 5-7 2-8-2-7-4-5-3-5-3-7-3-6-3M2937 2682l7-4 9-3 7 4 7 4 10 0 9 0 7 7 5 8-1 9 0 8 7 7 8 6 6 3 4 0 4-4 3-5-2-5-5-4-6-3-5-2M3381 2660l6 0 7-2 8-2 7 0 5 7 6 9 5 6 6 3 10 2 9-1 2-4 2-6 7-4 7-4"/><path id="fP" d="M2996 2411l-14-2-5 8 7 13 12 6 2-5-11-8-14-1-5 9 9 12 11 5 1-5-11-8-14 0-4 9 9 12 11 5 0-5-12-8-13 0-3 9 9 12M2892 2649l1 16 11 3 12-10 2-12-6 1-6 14 5 13 12-1 10-13-1-9-8 5-3 16M3046 2601l-9-11-11 3-3 14 5 12 6-3-2-14-11-10-10 5-2 15 6 11 5-5-3-14-11-9-10 7-1 15 7 9M3344 2631l-12 9 1 13 13 6 13-4-1-8-13-3-13 9 2 13 13 6 13-4-1-8-14-2-12 8 1 13 14 7 13-5-2-8-13-2-12 9 1 12 14 7 13-5-2-8"/><path id="fQ" d="M3280 2664l2-7 3-9 5-4 5-1 4 3 4 3 5 0 5-2 4-6 4-6 7-3 8-3 8-5 8-4 6 5 7 6 10-2 8-2M2971 2367l6-2 8-1 4 3 4 6 3 4 4 3 10 0 9 1 4 5 3 6 3 7 4 5 5 4 6 2 8 0 6-1M3228 2783l1-5 1-6 6-7 5-7 0-7-2-6-7-8-7-6-7-2-5 0M3269 2410l-1 7-3 8-6 4-5 3-3 8-3 8-4 4-6 1-9-2-8-5-4-8-2-7"/><path id="fR" d="M3296 2471l-4 15 9 7 13-6 7-11-5-3-10 10-2 15 9 5 14-7 5-10-6-2-10 11-1 14 11 4 14-8 3-10-7 0M3283 2528l-15 1-4 10 11 11 12 2 0-7-13-6-13 3-1 11 12 10 11 0-2-8-15-5-12 5 3 12 13 9 9-2-6-9-15-3-10 7M2879 2523l-2 15 10 7 14-6 6-11-5-3-9 11-1 15 11 6 13-8 6-10-7-2-8 12M2853 2497l-13 7 0 13 14 6 12-4-1-8-13-2-12 8 1 12 14 6 12-4-2-9-14-1-12 9 3 12 14 5 12-5-3-8-14-1-11 9 3 12 15 5"/><path id="fS" d="M3111 2895l-9-12-12 3-4 15 6 11 8-3-1-15-11-9-11 5-1 16 7 9 6-7-3-15-11-7-10 9 1 16 8 6 4-9-5-15-12-4-8 11 3 15 8 3 3-11-7-14-12-1-6 13 4 14M3325 2536l-14-5-8 8 4 15 10 8 3-5-9-10-14-3-7 9 6 14 9 7 2-5-10-10-14-3-6 10 7 15 9 5 1-6M3510 2600l-15 3-1 10 13 9 12 0-3-6-16-3-11 6 6 11 15 6 6-3-10-6-16 1-4 9 11 10M3247 2605l-3 15 9 9 15-4 8-10-5-4-10 9-3 15 10 8 15-4 7-11-5-3-10 10"/><path id="fT" d="M3319 2760l-6 2-6 4-2 4 1 6 0 9 0 9-3 7-3 7 4 8 4 6-3 4-6 3-5 0-6 1-5 5-4 4M3320 2557l-2-9 0-10 5-5 7-4 6-8 5-8 3-7 1-5-5-6-5-7 3-10 4-8M3191 2386l-7-5-8-7-2-9 0-8 4-5 3-6-5-8-5-8 4-8 4-6-4-6-4-6 0-7 2-6M3022 2631l-9 2-10 4-6 5-6 5-6 7-5 7-6 5-3 4 3 7 4 8-6 7-7 8 2 8 1 8-8 5-8 5 0 9 2 8"/><path id="fU" d="M3062 2849l-13 7 0 12 13 7 13-2 0-6-13-3-13 7 0 12 13 7 13-2 0-6-14-3-13 7 0 12 13 7 13-2 0-7-13-2-13 7M3132 2842l2 15 12 3 11-11 0-13-8 0-6 14 5 13 12 0 9-13-2-11-9 3-3 16 7 11 12-4 7-14-4-9-9 7-1 16 9 8 12-7 5-14-7-5M3090 2605l-10-11-12 4-3 15 5 11 5-5-5-14-12-8-10 8 0 16 6 8 3-9-7-15M3347 2448l-5 14 9 8 15-5 6-11-6-3-12 10-1 14 11 5 13-7 4-11-9 0-10 12 1 13 13 2 13-9"/><path id="fV" d="M3386 2540l-8 13 5 7 15-2 10-8-3-2-11 8-7 12 7 7 15-4 9-7-5-1-12 9-5 12M2814 2641l-15-1-5 8 8 13 11 6 2-4-12-8-14 0-4 9 9 12 11 6-1-5-12-7-14 0M3255 2469l8 14 14-1 8-14-4-12-9 3 0 16 11 10 14-6 4-16-7-8M3147 2736l2 15 11 3 10-11 2-13-7 1-5 13 4 14 12-1 9-13-1-11-8 4-3 15 6 11 12-3 7-14-3-9-7 8-2 15 8 9 12-7 5-15-5-5"/><path id="fW" d="M3337 2451l-3-5-5-3-4 1-5 3-7 2-8-1-3-6-3-8-3-5-3-4 0-7 0-6M2957 2378l-2 7-5 8-7 2-7 1-6 1-6 3-8 6-8 4-7-3-6-7-5-4-5-3-7-1-5 0 3 3 6 4M3066 2838l4 0 6 0 8 6 7 4 7-5 5-7 5-5 5-3 10-2 9-1 6-3 4-5-1-9-1-8M3232 2821l-6 5-5 6 0 8 1 8 0 5-1 5 0 6 2 6 4 9 4 7 6-1 5-1 3 8 3 8 8 0 9-4 5-5 3-4"/><path id="fX" d="M3182 2339l-9 3-10 3-5 2-5 1-4 4-5 4-8 6-7 6-4 5-1 4M3331 2705l-4-2-6 0-4 7-4 7-6 0-6 1-2 4-2 6-3 4-2 5 2 4 2 5-1 6-2 6M2868 2665l-8-4-9-6-4-9-3-8-9-3-10-1-7-5-6-6-5-7-4-7-7-5-5-3M2977 2533l2 5 1 8-2 8-1 9 3 8 5 6 5 0 5-2 5-2 4-4-1-7-1-8 1-7 1-5"/><path id="fY" d="M3112 2750l9 3 8 5 0 10-4 10-9 3-9 0-5-2-3-4-5-6-5-5-6 0-6 2-5 5-4 6 0 7 2 5M2785 2637l3-8 1-11-3-10-2-9 7-6 10-5 7-3 7-1 5 1 6 2 7 1 6 2 4 5 4 6 8 5 7 6 3 4 3 4 5 8 5 6M3074 2466l7 1 10 2 7 2 7 2 9 1 8 3 7 7 4 9-1 8-3 7-4 3-4 4-2 8 1 10 4 8 5 8 4 8 0 8-7 6-7 4M3035 2461l-2-3-2-6-1-5 2-6 2-9 2-10-3-8-3-8 6-7 8-6 7-1 5 1"/><path id="fZ" d="M3276 2478l-10-11-12 4-2 15 7 11 6-5-2-14-12-9-10 8 0 15 8 8 5-7-5-15-12-5-9 10 2 15 9 5 3-10-7-14-13-2-6 12 4 15 8 1 2-12-10-13-12 2M3105 2871l-10-11-10 3-4 14 4 12 4-2-3-13-11-10-10 4M3371 2481l-13-8-10 7 2 15 9 9 5-6-7-13-14-5-8 10 4 15 10 6 2-9-9-13-14-1-5 13 7 14 8 2M3365 2777l-12-9-10 5 0 15 7 10 5-3-4-13-12-8-10 6 0 15 8 10 5-5-5-13-13-7-9 7"/><path id="ga" d="M2945 2503l0 16 12 5 13-11 2-11-8 3-5 15 6 12 15-3 9-13-4-6M2794 2635l1 16 12 4 12-11 1-12-7 2-6 15 6 13 14-3 9-13-3-8-8 9M2898 2691l-10-10-8 3-1 14 6 12 3-2-3-13-10-10-8 4 0 15 5 11 4-3-5-14-10-9-7 6 0 15 6 10M3157 2554l-8 12 5 7 14-2 10-7-1-3-12 7-8 11 5 8 14-2 11-7-2-3-12 6-8 12 5 7 14-2"/><path id="gb" d="M2827 2501l-6 0-9 0-9-1-8 2-3 8-3 8-7 4-6 3 0 7 3 8 2 4 3 5 4 4 4 6 5 8 4 7M3067 2503l-3-6-5-5-8-1-9-1-7-5-7-6-8 0-7 0-6-1-5-3-3-4 0-6 2-8 5-9 5-7 6-5 9-3 9-4 7-7 5-7M3087 2457l-4-3-6-3-6 3-6 5-6 3-5 4-1 5 1 5 5 6 6 4M2994 2668l7 1 8 2 8 3 8 3 9 3 9 3 6 6 4 4"/><path id="gc" d="M3395 2524l2-7 2-8 5 0 6 1 5-4 5-5 5-3 6 0 4 4 3 5 2 7-1 7-4 6-3 5M3154 2911l6 2 6 4 3 7 0 8-2 7-4 5-5-1-5-2-8 3-8 1-4-3-5-6-5-9-4-8M2824 2703l-5-7-5-8 1-6 4-5 7-6 7-6 3-7 0-6-3-6-4-5-6-6-7-5-10-2-9-3-2-9 1-9M3306 2467l0-5-1-6-7-6-9-6-8-4-8-1-5 5-3 7-1 7-2 4-7 0-7-1-5 7-3 7-3 4-4 4-6 6-6 7-4 5-2 4"/><path id="gd" d="M3235 2500l3 4 4 4 6 5 3 5-1 9-3 7-5 2-5 2-7 8-7 7-6 0-6-2-5-2-5-2-5 0-5-1-7-4-7-5-7-7-7-6M3363 2736l7-4 9-2 5 1 6 3 6 3 6 5 5 7 4 8 2 9 0 8-1 7-1 8 2 8 3 7-1 7-1 5M3393 2756l-7-1-8-2-5-6-4-7-4-7-5-7-9-2-9 0-6 0-5 1-9 0-8-2-4-6-1-6M3293 2810l-1-8-3-8-7-3-7-2-2-6 2-5 6-2 7-2 3-4 2-5 7-4 6-5 3-6 0-7-3-10-3-7"/><path id="ge" d="M3379 2607l-12 9 2 10 15 4 12-5-4-6-14 1-10 10 5 9 16 2 9-6-6-5-15 3-8 11 8 8 16 0 7-6-9-4-15 5-5 11 11 7 15-2 4-6M2911 2420l-9 13 8 12 16 0 8-10-8-5-14 8-3 15 13 7 15-6 1-9-13 0-11 13M2998 2823l-2 15 10 6 13-8 6-11-6 0-8 12 1 14 12 3 12-10 3-9M2817 2787l6 14 11 0 6-13-2-13-7 0-2 13 6 13 10 0 6-13-2-13-7 0-2 14 6 13 11-1 6-13-3-13-6 1-3 13 7 13 10-1 6-13-3-13-6 1-2 14 6 13 11-2 5-13-2-12-7 1"/><path id="gf" d="M3302 2701l4 15 12 3 11-10 1-14-7-1-6 12 4 14 12 3 11-10 1-13-7-2M3131 2401l-15-4-6 9 6 14 10 7 1-4-12-9-14-1-4 10 8 13 9 6-2-5M3228 2523l-2 14 8 5 12-7 7-11-3-2-8 11-2 14 8 5 13-7 7-11-3-2-8 11-2 14 8 6 12-8 7-10M3239 2417l0 16 12 6 14-8 3-12-9-1-8 13 4 15 14 1 12-11-1-10-10 4-5 15 8 12 15-3 8-13-4-6-10 8"/><path id="gg" d="M3242 2916l-5 1-6-1-2-8-1-9-5-6-4-4M2789 2585l-2 8-2 10-2 7-1 8-1 10 1 8M3259 2590l-5-4-6-4-9-2-8 1-5 4-3 5-1 7-3 7-5 9-6 6M2726 2656l7-5 8-6 4-6 1-6 2-8-1-7-6-5-8-3-5 2-3 5-3 5-2 7 4 8 3 8-3 5-3 6 2 10 2 9"/><path id="gh" d="M3390 2824l-8-4-9-4-4 3-5 4-7 6-8 5-4 7-3 5M3461 2500l-5 6-6 7-8 0-7 0-5 2-6 2-9-1-8 0-5 9-2 9M3121 2571l-2 4-4 6-6 5-7 3-9-1-9-1-2 5-2 6-5 2-6 1-5-2-6-3-7-5-6-6-5-3-5-3-8-2-7 0M3089 2415l-5-2-6-3-4-5-3-5-5-2-6 0-4 4-3 6-3 4-3 4-1 7 0 6"/><path id="gi" d="M3269 2569l-11 11 5 11 15 2 11-8-5-7-14 3-9 12 7 10 16 0 8-9-7-6-14 5-6 13 9 9 16-3 5-9-9-4-14 7-3 12 11 8 15-4M2905 2433l-9 12 6 9 15 0 10-8-5-5-13 6-7 13 9 8 15-3 7-8-7-3-13 8-4 12M2755 2608l7 14 11 0 7-14 0-12-4 4 0 16 9 10 11-6 5-15M3257 2630l-9 13 6 11 16 0 10-7-4-4-13 7-6 14 8 8 16-1 8-8"/><path id="gj" d="M3404 2634l-7 2-10 2-9-2-9-1-3 5-1 6-2 5-3 5-3 5-3 4M2965 2448l-4-7-1-8 6-5 8-3 6 2 5 5-2 5-2 5 3 5 5 4 7-1 9-1 8 3 7 4 5 6 2 7-4 4-6 5-3 8-2 7M3337 2522l-8-4-8-2-5 5-3 7-4 4-1 5 0 9 4 8 7 2 6 0M2942 2400l5-4 7-5 4-5 4-4 5 2 6 3 4 5 6 4 7-2 7-4 8 0 7 1"/><path id="gk" d="M2754 2670l6 12 6 2 4-9 1-15 1-8 2 3 5 12 6 12 6 1 4-9 1-15 1-8 2 4 5 12 6 11 6 2 3-11 2-14 0-8 3 4 4 13 7 11 6 1 3-11 2-14 0-8 3 5 4 13 7 10 6 1 3-11 1-14 1-7 2 5 5 12 7 11 5 0 4-11 1-14 1-7 2 5 5 13 7 10 5 0 4-12 1-13 1-7 2 6 5 13M2778 2724l6 12 6 2 4-10 1-14 0-9 2 3 5 12 7 12 6 1 4-10 0-14 1-9 2 4 5 12 7 11 6 1 3-10 1-14 0-8 3 4 5 12 7 11 6 0 3-10 1-15 0-7 3 5 5 12 7 10 6 0 3-11 0-14 1-7 2 5 6 13 7 10 5 0 3-12 1-14 0-6 3 5 6 13 6 10 6-1 3-12 0-14 1-6 3 6 5 13 7 9 6-1M2978 2686l4 13 6 2 5-9 4-14 2-8 1 5 3 14 5 11 6 0 5-11 3-13 2-6 2 7 3 14 5 10 6-2 5-12 3-13 1-4 2 9 4 15 5 8 6-5 4-13 3-12 1-1 3 11 4 14 5 6 6-7M2968 2636l5 13 6 2 5-10 2-14 2-8 2 5 3 14 6 11 6 0 4-12 3-14 1-5 2 7 4 14 6 9 6-2 4-13 2-13 1-3 3 9 4 14 6 7 6-5 3-13 2-12 2-1 2 11 5 14 6 5 5-7"/><path id="gl" d="M3084 2647l4-4 4-6 2-4 1-6 4-8 5-9 7-4 8-3 4-7 2-7M2862 2820l4 2 5 2 8-3 7-1 5 6 3 6M3438 2559l-9 3-10 4-5 5-5 5-7 1-5 0M3318 2731l-7-3-8-4-3-4-3-5-4-5-5-2-7 3-6 5-1 5 0 6-3 7-3 7-4 5-3 4"/><path id="gm" d="M3188 2415l-3 15 9 5 13-7 7-10-5-2-8 11-2 14 10 5 13-9 5-10-5 0-8 12 0 14 11 3 12-10 4-9-6 1-8 14M2888 2686l-5 15 10 10 16-3 6-10-7-4-12 10-1 16 14 6 14-6 3-10-11 1-10 13 4 14 16 2 12-9M2855 2625l-15 2-3 12 10 11 13 3-2-7-14-4-13 5 1 13 12 9 10 0-6-7-16-3-10 8 5 13 14 7 6-3M3373 2650l-13 9 2 14 15 6 12-6-5-8-15 1-9 12 7 13 16 2 7-8-9-6-15 5"/><path id="gn" d="M3370 2455l-8-12-13 0-7 13 3 13 9 0 3-14-8-12-13 0-7 14 4 13 8-1 3-14-9-12-13 1-6 14 4 12 8-1 3-14-9-12-13 1-6 14 4 13 9-2M3259 2694l-15 1-4 9 10 11 12 4 2-5-12-7-14 1-3 10 10 11 12 3 1-5-12-6-14 1-3 10 10 11 12 3 1-6-12-6-14 2-3 10 11 10 12 3M3006 2598l-8 12 7 8 15-3 9-7-6-2-12 10-4 12 10 4 16-5 4-7-10 2-11 12 1 10 14 1M3007 2462l2 15 13 4 11-10 1-13-10-2-7 13 5 14 14 2 10-12-2-12-10 1-5 14 6 13 14-1 9-13-4-11-10 4-4 16 9 11 14-4 6-14-5-9-10 7"/><path id="go" d="M3339 2661l-12-8-9 6 2 14 7 11 2-2-7-12-13-7-7 7 2 15 7 9 1-3-8-12-12-6-7 8 3 15M2870 2533l-7-12-10 2-4 14 3 12 5-2-2-15-8-11-9 5-3 15 4 10 4-5-2-15-9-9-9 7-1 16 5 8 3-8-4-15-10-6-7 9 0 16 5 5 2-10M2789 2766l1 16 13 6 14-9 3-12-8-2-7 12 3 15 14 4 12-10 2-12-9 0-6 13 5 15 14 2M3159 2370l-8 12 6 10 15-1 10-9-5-6-13 6-6 13 7 9 15-3 9-9-6-5-13 7-6 13 9 8 15-3 7-10-7-4-12 8-5 13 10 7 15-4 6-10-8-3-13 9-3 13"/><path id="gp" d="M3080 2451l-7 14 8 13 16 0 9-9-7-5-13 7-3 15 11 10 16-4 5-9-10-2-12 11 1 15M2956 2623l-15 2-4 13 10 12 12 2 0-8-15-5-13 6 0 13 13 10 10-1M3437 2528l-13 8 1 12 14 6 13-2-3-4-15 1-11 10 5 11 16 4 9-3-6-4-15 4-8 10 8 11M3080 2537l1 15 12 4 12-10 1-13-8 0-7 14 5 13 13 1 10-13-2-11-9 4-5 16 8 11 14-4 7-14-5-7-9 7-1 16 10 8"/><path id="gq" d="M3331 2531l-6 5-7 7-4 4-3 4-3 7-4 7-8 6-7 5 1 5 3 5 1 7 2 6M2988 2797l7-6 7-7 0-7-3-6-5-3-6-1-9 1-9 1-6 1-6 2-8 5-8 5-5 1-5 0-7 2-8 1-8 2-8-1-3-7-1-8M3152 2714l-6 4-8 3-9-3-7-4-1-5 0-6-3-9-2-7M3014 2473l3 6 4 8 2 9 1 9-3 7-2 5 4 4 4 4-1 9-4 8-9 5-9 2"/><path id="gr" d="M3083 2449l-6 15 9 11 16-2 7-10-8-4-12 10-1 15 13 7 15-6 1-9-11 1-10 13M3289 2439l-12 8 2 9 14 3 12-3-1-3-14 2-11 8 3 8 15 3 11-3-2-3-14 3-11 8 4 8 15 3 11-4-3-3-15 4-9 8 5 8M3298 2712l-15 0-5 13 9 13 13 1 1-10-13-7-15 5 0 14 12 10 11-3-4-10-15-4M3196 2487l-15-1-9 11 6 15 11 6 4-6-11-10-15 0-7 13 6 14 11 5 3-8-12-9-15 2-6 13 8 14"/><path id="gs" d="M3135 2354l5 0 6-1 3-7 3-6 8 1 7 2M3331 2371l7 5 8 6 6 2 6-2 7-7 5-8-1-7-4-5-8-3-8-1-6 9-4 8M3343 2880l1-9 3-9 6-3 6-4 4-9 3-8M2956 2784l-6-4-7-5-4-8-2-7 2-7 4-6"/><path id="gt" d="M3398 2449l-6-2-8-2-8-1-8 1-8 5-6 6-1 5 0 6-1 7-1 6M3268 2737l4 0 7-1 9-3 9 0 4 8 2 10-1 6 0 6 6 8 6 7M2786 2537l-6 4-7 5-1 7 1 7 1 9 1 8M3210 2684l0 5 0 7 1 7 0 7-3 7-4 5-5 1-5 0-5 5-4 7-4 7-3 6 0 8 2 6"/><path id="gu" d="M3119 2727l1 8 3 8 8 2 9-2 8-2 7-2 6 5 4 6 7-1 7-1 5 6 3 6M3224 2625l-6-2-5-4 1-5 2-5 1-6 1-6 4-6 5-6 6-4 8-1 8 0 7 3 2 8 2 8 8 1 9-1 6 1 4 1M2752 2698l7-5 8-7 5-3 4-3 6-5 7-5 9-1 8 0M3162 2771l8 6 9 4 7-5 6-7 6-6 7-5 7-2 7-1 10-1 8-3 4-8 2-7"/><path id="gv" d="M2895 2473l-1-6-1-7 1-6 0-6-3-5-3-5-2-8 0-8 3-6 5-4 9-1 7 0M3008 2587l3 4 4 5 8 2 8-1 5-4 3-6 2-8 1-7 4-5 3-6-3-9-1-8 6-7 8-3 6 4 5 5 6 2 5 2M3357 2811l-1-5 2-7 5-2 6-4 4-7 4-8 7-5 8-3 8-1 9 0 6 2 5 2M3227 2674l-4-6-2-8 4-4 6-4 2-9-1-9-9-3-8-4-2-7 1-9 2-9 3-10 3-9 0-8-6-4-8-3-6-3-5-4-5-4-3-3"/><path id="gw" d="M3093 2522l-15 0-5 9 8 13 12 5 2-4-12-7-14 0-5 10 8 12 12 5 1-4-11-7M3241 2780l-12 8 1 11 14 5 13-4-3-6-15 1-11 9 5 10 15 3 10-5-6-5-15 3-8 10 8 9 15 1 7-5-9-4-15 4-5 11 11 8 15-1M2959 2469l5 14 11 0 8-13-2-13-7 2-3 14 7 12 12-2 6-14-4-11-7 3-1 15 8 11 11-4 5-15-4-10M2936 2496l-9-12-12 1-7 14 3 12 7-2 0-15-10-11-12 4-5 15 4 11 6-6"/><path id="gx" d="M3213 2450l-5 14 8 8 14-4 7-11-5-5-11 7-5 14 8 8 14-5 7-11-5-4-11 7-5 14 8 7M3325 2806l-9-13-12 2-5 15 4 12 7-4-1-14-10-11-11 6-4 15 6 9 6-6-3-16-11-7-11 9 0 15 6 6M3268 2560l-13-6-7 7 4 14 10 8 4-4-8-11-14-5-6 8 5 13 10 8 3-4-9-11-13-4-6 7 5 14 10 7 2-5-9-10-13-4-5 8 6 14 9 7 2-6M3395 2769l-8-13-10 3-3 14 4 12 4-3-3-14-8-10-9 5-2 16 4 9 4-6-4-15"/><path id="gy" d="M3217 2822l-7-2-8-4-3-7-1-7 1-5 2-5 4-5 6-3 9 4 6 6-1 9-5 7-7 2-8-2-7-3-4-3M2871 2718l-4 3-5 4 0 6 3 4 6 2 7-1 8-6 5-9-3-8-5-8-2-7-3-5-10-1-9 0M2957 2304l5 1 7 0 7-2 7-2 8-2 7-1 8 0 7 0M2935 2829l-8-1-9-4-3-6-1-6-1-6 2-4 8-2 9 0 3 5 2 4"/><path id="gz" d="M3394 2708l-15 2-5 13 11 12 13 0-1-9-14-6-13 6 1 14 13 9 10-3-6-10-16-3-9 10 6 14 14 5M2969 2356l-4 14 9 7 14-6 5-11-6-3-11 10-2 14 11 4 13-8 3-11-9 0-9 12 1 13 13 1 12-10 0-9-11 3-8 13M3392 2495l-15-3-6 8 7 13 11 7 3-4-10-9-14-2-6 8 7 13 11 7 2-5-10-8-14-2-5 8 7 13 11 6 2-4-11-8-14-3-5 9M3010 2811l5 13 10-1 5-13-1-13-5 2-1 14 6 12 10-2 4-15-2-11-5 3 0 15 7 10 9-4"/><path id="gA" d="M2883 2677l2 15 12 3 11-11 1-13-8 1-5 14 5 13 12-1 9-13-2-10-8 4-3 15 7 11 13-4 7-14-5-8-8 8-1 16 10 7 12-8 4-14M2886 2712l-14-4-9 8 3 15 11 8 4-5-8-10-14-4-9 9 4 14 10 8 5-5-9-11-14-3-8 9 4 15 10 7 4-6-9-10-14-3M3100 2480l-14 5 0 10 14 7 12-1-2-5-14-2-12 7 3 10 15 5 10-2-6-5-15 0-9 7 6 10 15 4 8-4-9-4M3378 2571l-14-5-6 7 7 14 9 8-1-5-11-10-13-2-2 11 8 14 8 3"/><path id="gB" d="M2912 2477l-6 14 8 9 15-2 9-9-4-3-10 8-5 14 8 8 15-3 9-9-5-2M3176 2572l-15-9-12 8 0 17 9 8 3-9-10-13-15-1-7 15M3115 2889l-15 6-2 14 12 10 14-1 0-9-13-4-14 7-1 14 13 10 13-3-1-8-14-3-13 8 1 14 13 8 12-3-3-9-14-2-12 9 2 14M3131 2567l-13 7 1 10 14 6 12-2-2-5-15 1-11 8 4 10 15 5 10-4"/><path id="gC" d="M3247 2732l-8-13-11 1-6 14 3 13 7-2 0-15-8-11-11 3-5 15 5 11 6-5-1-15-10-10-11 7-2 15 5 9 5-8-2-15M3391 2505l-13-6-7 6 4 14 9 9 4-4-8-11-13-5-7 7 4 14 10 8 3-4-9-12"/><path id="gD" d="M3193 2750l-5-3-3-5 4-9 3-8-4-6-5-6 0-7 0-8-8-6-8-6 0-7 2-7 4-5 6-3 10 0 9-2 3-6 3-5 6 0 6 2M3251 2678l8 3 10 4 9 3 7 3 9 0 7-2 8-5 5-8-3-6-5-7 1-8 2-6M3298 2535l2-6 1-7-1-8 0-7 8-3 9-2 4-8 2-6M3445 2690l-9 0-10-2-5-7-2-8 4-9 5-7"/><path id="gE" d="M3337 2483l-3 6-4 6-5 6-2 6 5 7 8 5 8-4 9-4 9 3 7 4M3272 2894l5 4 3 6-2 9-5 8-7 4-5 1M3152 2713l3 6 1 7-3 10-7 7-8 1-9-2-4-4-3-4M3214 2731l5 3 6 3 9-1 9 0 9 3 6 5 1 7-1 9-1 8 0 8 2 6 3 7 4 9 5 8 7 8 7 5"/><path id="gF" d="M3282 2765l-7 0-8-1-9 1-8-1-6-6-5-5-5 0-5 2-5 2-4 2M3385 2552l5-7 5-9-3-4-5-3-7-6-6-7-6-6-3-4M3390 2519l6-4 6-4 6 4 3 5-4 7-5 6-7 4-7 3-7 0-5-1M3309 2867l2-5 1-7 0-8-3-8-4-3-6-2-6-1-6-2-6-3-4-6 1-9 2-9-2-6-1-4 4-3 5-3 6-4 6-4 6-1 5 0"/><path id="gG" d="M3204 2662l7 14 14 1 9-14-2-12-8 2-1 16 10 11 13-4 6-15-4-9-6 7 1 16 12 8 12-8M3327 2587l-12-9-9 5 0 16 7 10 4-5-7-13-12-7-8 9 3 16 7 7 2-8-9-14-12-3M3351 2534l-7 14 10 10 15-4 7-10-9-3-12 10 0 15 14 4 14-8 0-9-12 3M3324 2744l7 14 11-1 6-14-2-12-6 4 1 16 9 10 10-7 3-16-4-7"/><path id="gH" d="M3316 2905l-8-13-11 2-6 15 4 11 5-4-2-16-10-9-10 8-3 16 6 6 4-10-6-16-11-3-8 13M3195 2735l-14-5-8 7 4 15 10 8 2-5-9-11-14-3-6 10 7 15 9 5-1-8-11-10-13 0-3 12 8 14M3165 2660l-10 12 6 14 17 2 9-8-7-6-14 6-5 15 11 10 16-3 4-8-12-2-12 10 1 15 15 5 13-6M3295 2550l-1 15 10 3 11-10 4-12-6 2-7 14 3 12 11-1 10-13 0-8-8 7"/><path id="gI" d="M3370 2502l-2-5-4-4-5-1-6-1-3-8-1-10 2-8 5-9 7-9 6-6-3 5-5 9-2 8-2 7M3341 2806l1 9 0 10-1 7-2 4-6 0-8-1-8 3-8 2-9 0-7-1M3222 2719l-4 8-3 10 4 8 7 7 6 0 4 0 2 6 2 6 5 3 6 4 5 4 5 2 4-3 6-3 9 1 8 2M3132 2814l-6 0-5-3-1-8 0-9 2-10 2-8 5-4 5-2"/><path id="gJ" d="M3381 2585l-16 0-6 12 9 13 12 2 1-9-14-8-14 5 0 14 12 11 9-3-4-10-16-5-10 9M3290 2478l5 16 14 1 10-13-1-11-8 4-2 16 10 11 14-6 5-15-5-6-7 11 4 16M3346 2700l-15 2-3 11 10 11 12 3 1-4-13-5-15 3-2 11 12 11 11 2M3245 2646l-16 1-5 12 9 13 13 1 3-9-12-8-15 3-3 14 11 11 12-1 0-9-13-7-14 5 0 14 12 10 11-2-2-11-15-5-12 7 2 14 12 8 10-4"/><path id="gK" d="M3153 2636l-13 7 1 9 13 6 13-1-1-5-14 0-12 7 2 10 14 5 12-2-2-5-15 1-11 7 3 10 14 5 12-3-4-4-15 1-10 8 4 9M3220 2680l-11-11-12 3-5 15 5 12 6-3-2-14-11-10-12 5-4 15 6 10 5-4M3352 2786l-14 4 0 9 14 7 12-1-3-5-15-1-11 6 5 9 15 5 8-2-8-5-16 1-6 7 9 9 15 3 4-4M3272 2765l-8 13 7 10 15-2 9-9-6-6-13 7-5 14 9 8 16-5 5-9-8-3-13 8-2 14 12 5 14-6 3-9-10-1-12 11 1 13 14 3 13-8-1-8"/><path id="gL" d="M3321 2739l2-5 2-7 6-7 5-9 1-9-2-9-8-3-8-2-1-5 1-5M3449 2616l6 4 9 3 8-3 7-5 6-8 3-7M3297 2738l5 6 7 5 6 1 5 1 1 9 0 9-1 7 1 5 5 2 7 3 6 8 4 9-5 6-6 4"/><path id="gM" d="M3306 2508l4-7 4-8 3-5 4-3 6 1 6 4 3 4 1 5 4 8 2 7M3303 2697l-1 6-3 6-9-1-10 0-4 9-4 7-8 0-8-4-4-7-3-5-7 1-5 3M3184 2729l-5 0-5-1-3-6 0-7 8-5 8-6 5-7 2-7-3-7-3-6-1-6 2-6 4-9 6-6 6 0 7 2 10-3 9-3"/><path id="gN" d="M3358 2538l-10-11-8 5 1 15 5 10 2-5-6-14-10-7-6 10 4 15 5 6-1-10-8-13-10-2M3416 2635l-11 11 6 9 15 0 10-6-5-1-14 7-5 12 10 5 16-3M3361 2779l-8-12-9 3-2 14 4 12 3-2-3-14-9-10-8 5-2 15 5 10 2-5M3357 2540l-9 12 6 10 15 1 10-8-5-6-13 5-8 12 8 10 16-2 8-8-7-5-14 7-5 13 10 8 15-4 6-8-9-3-13 8-3 13 12 6 15-4 3-9-11-1"/><path id="gO" d="M3178 2644l-15 0-6 12 8 13 12 3 4-7-11-9-15 2-5 12 9 12 12 3 2-9-11-8-15 3-4 13 10 12 12 1 1-9-12-8-15 4M3335 2608l-10-10-8 4 0 14 6 11 5-2-5-13-10-9-7 4 0 14 7 11 4-2-5-13-10-10-7 5 0 14 7 11 4-3-5-13-10-9-7 5 0 14 7 11 4-3-5-13M3312 2541l-12 9 2 12 14 4 12-6-2-8-15 0-10 10 4 11 14 4 11-7-4-7-15 1-9 10 5 11 16 2 9-7-6-7-15 2-8 12 8 10 15 1 8-8-8-6-15 3-6 12 9 10 15-1 6-8M3293 2707l-14-2-5 8 8 13 12 5 2-6-11-10-14-1-3 10 9 12 11 3 1-7-12-8-13 0-2 10"/><path id="gP" d="M3218 2731l-14-6-8 8 5 15 10 7 3-5-9-12-13-3-6 9 6 15 10 5 1-7-10-11-13-1-4 11 7 13 10 4-1-9-12-10-12 1-2 12 9 13 8 1M3159 2800l-5-13-9 1-5 14 2 12 5-1 1-14-7-12-8 2-5 15 3 11 5-4 0-14-7-11-9 5M3298 2829l-14 7-1 12 12 10 13-1 0-6-14-3-13 7 0 13 13 9M3338 2682l-8-14-11 3-5 16 3 10 3-8-5-16-11-5-8 12"/><path id="gQ" d="M3375 2592l-15-2-8 10 6 14 12 6 4-7-10-10-15-1-7 11 7 14 12 4 2-8-11-10-14 1-5 12 8 14 11 2 1-9-12-9-14 2-3 14 9 12 11 0"/><path id="gR" d="M3370 2487l-10 11 4 10 16 0 10-6-5-4-14 6-7 11 9 8 16-2 6-7-9-2-14 8-2 12 12 5 15-4 2-7-12 2M3334 2701l-14 6-2 12 13 8 13-2 0-9-13-4-13 7 0 12 13 8 12-3-1-9-14-4-12 8 1 12 14 7 11-4-2-9-15-2-11 8 3 12 14 6 10-5-4-8-15-2-10 9 4 12 15 5 9-5M3340 2471l-14-2-4 8 10 11 12 4 0-5-12-7-13 0-2 9 11 10 11 3-1-6-13-6-12 0 0 10M3428 2611l-11 9 4 9 16 1 10-6-5-3-14 5-8 10 9 7 16-2 6-6-9-1-14 7-3 11 12 4 15-4 2-5-13 1"/><path id="gS" d="M3344 2777l-3 7-2 9 1 7 0 6-6 4-6 2-7-2-6-1-5 6-5 8-5 8-3 7 2 8 4 8 6 3 6 3 1 5 0 5M3294 2675l-6-3-5-4-2-6-2-6-4-6-5-5-8-3-9-2-9-1-9 1-7 7-8 6-9 0-9-2-1-5 0-6-7-1-7 1-6 2-4 2M3400 2497l-7 0-9 0-7-2-7 0-8 6-6 7M3327 2581l-7-1-7 2-2 6-3 7-5 4-6 4-3 9-4 9-6 2-7 3-4 8-2 8"/><path id="gT" d="M3901 2723l-1 6-1 9-5 9-5 9-4 4-3 5 1 9 1 10-2 6-2 4M3657 2644l3 6 1 6-4 5-5 3-6 1-6 1-2 6 0 6 4 4 3 4-1 6-4 6-9 4-8 3M3755 2486l-3-6-2-8 4-7 4-7 2-10 1-9 2-6-1-5-7-5-6-5 2-7 3-6M4027 2702l6 1 6 3 3 7 2 7 6 5 6 4 7 5 7 5 5 7 3 8 1 10 0 9 2 6 2 5-5 7-6 6-5 0-6-2-9-2-7-2"/><path id="gU" d="M3854 2776l-2 5-4 4-9-2-10-4-6 1-5 2-4-3-3-5-2-6 0-5M4071 2363l5-4 6-5 8-1 7 1 8-1 7 0 4 9 4 9 6 3 5-1 4-8 2-8M4021 2415l-7 3-8 5-5 8-4 9-6 2-7 1-9 3-7 1-7-5-5-6-5-5-3-4M4190 2428l-1-6-2-7-4-4-3-4-2-7-2-7-5-3-5-2"/><path id="gV" d="M3985 2311l-4 4-4 6 1 5 3 5 0 6-2 5-6 3-5 3 2 6 2 5-6 5-6 3M3899 2436l3 2 3 6 2 8 2 9 6 4 5 4-3 8-5 6-7 0-6-1M3874 2368l2 7-1 9-5 7-8 5-8-2-9-4-6 1-5 1-9-2-8-3-5-3-5-2-8 4-8 5-9-4-7-4"/><path id="gW" d="M4181 2591l-9 12 5 12 15 1 11-8-4-8-13 4-9 12 7 11 15 1 9-9-4-7-14 4-7 13 7 11 15 0 9-9-5-7-14 5-7 13 8 10 15-1 8-9M3682 2602l-14-6-8 7 4 16 9 8 0-6-10-11-13-2-4 11 6 15 7 4M4067 2610l-15 1-3 10 11 11 12 1-2-7-15-5-12 4 4 12 14 8 7-3-8-8-16-2-7 9 10 12M4057 2778l-15-5-10 10 3 15 11 7 6-7-8-11-15-3-9 10 5 15 11 6 4-8-9-11-15-2-7 12"/><path id="gX" d="M4047 2801l-10-10-10 4-1 15 7 10 6-4-4-14-11-8-9 7 2 15 7 8 4-7-6-15-11-5-7 11 3 15 8 4 2-10-8-13-11-2-5 12M3615 2639l-16-2-7 10 6 15 12 4 2-8-12-10-14 2-3 13 10 13 10 0-3-11-14-7-12 6 1 15 12 9 7-4-7-12M3877 2788l-10 11 5 12 16 1 10-7-5-6-14 5-7 12 8 10 16-1 7-8-8-4-14 7-4 12 11 8 15-3 5-8-11-2M4014 2326l-14-6-8 8 4 15 10 7 3-7-9-11-14-3-5 12 7 14 9 3 0-9-12-10-13 1-2 14 9 12 8 0-4-12-14-8-10 6"/><path id="gY" d="M4159 2648l-14-4-6 8 6 13 11 7 3-6-10-10-13-3-5 10 7 13 11 5 1-7-11-10-13-1-3 10M3898 2881l-5 15 9 8 15-5 6-11-7-4-11 10-2 14 12 6 14-7 3-11-9-1-10 12 1 14 13 2 13-9 0-9-11 2-8 14 5 11 14 0 10-11M4155 2533l7 13 13-1 7-14-3-12-7 3 1 16 10 10 12-6 4-16-5-8-5 8 3 16 12 6 10-10 1-15M3909 2845l-10-10-10 4-1 15 7 11 5-4-4-13-11-9-9 6 0 16 7 9 5-5-5-14-12-7-8 8 2 15 7 8 4-7-7-14-11-5-8 9 3 15 8 7 2-9"/><path id="gZ" d="M4026 2788l-15-7-12 9 2 17 10 7 3-8-10-13-15 0-7 14 7 15 8 0-2-12-14-9M3925 2745l-15 1-3 9 11 11 12 4 0-4-14-5-13 2-2 10 12 10 11 3-2-5-14-4-13 3 1 11 12 9 10 2-4-5-14-4M3868 2628l-11-12-14 3-4 15 6 12 8-5-2-15-12-9-13 8-1 16 8 7 6-8-5-15-14-5-10 11 2 15 8 4 4-12-8-14-14 0M4029 2525l0 14 10 5 12-9 4-12-6-1-7 12 1 14 11 2 11-11 2-11-6 2-7 14 4 12 11 0 10-12 1-9"/><path id="ha" d="M4008 2734l-14 2-2 9 11 9 13 2-1-5-14-4-13 3 1 9 13 9 10 0-3-5-15-4-11 5 3 10 14 7 9-1-7-6-15-2-9 6 6 10 14 6M3926 2844l-13 8 1 12 14 6 12-3-2-6-14 0-12 9 4 12 14 5 11-4-4-6-15 1-10 10 6 11M3762 2623l-15-2-6 10 8 13 12 4 3-8-11-9-14 0-4 12 10 12 12 2 0-9-12-9-14 3-1 12 11 11 11 0-2-10-14-7-12 4 1 13 12 10 9-2-4-10-14-6-11 6 3 14 13 8 7-4-6-10M3714 2749l-15-3-7 9 6 15 11 6 2-8-12-10-14 1-4 12 9 14 10 2-2-10-14-8"/><path id="hb" d="M3995 2718l-1 7-3 9-5 7-5 6-3 6-1 4M3697 2734l5 4 5 6 1 7 2 6 7 2 8 0 9 3 8 3 7 5 4 5-4 8-5 7M3592 2678l8 0 10 0 8 4 6 5 5 5 3 5 2 10-1 8-7 3-8 3-4 7-2 7 0 8 1 6-3 5-1 5 2 8 4 8 2 8 1 7M3982 2521l-4 2-6 1-8-2-9-3-10 2-8 3 0 6 0 5-5 3-4 1"/><path id="hc" d="M3958 2807l6 13 11 0 8-12-2-14-7 0-3 13 7 13 11 1 8-13-2-13-7 0-3 13 7 13 11 0 8-13-2-13-7 0M3962 2844l6 14 12 0 8-13-3-12-7 3-2 16 9 10 12-6 5-15-6-7-6 10 2 16 12 4M3890 2836l-9-12-13 1-6 14 5 12 8-1 1-14-9-12-13 3-5 14 5 12 8-3 1-15-10-11-13 5-4 15 6 10 8-5-1-14-10-10M4072 2739l-16-1-6 11 8 13 12 4 3-8-12-9-15 2-3 12 10 13 11 1-1-10-13-7-13 4-1 14 12 10"/><path id="hd" d="M4177 2617l0 14 9 4 11-10 3-13-5 0-6 12 1 14 10 2 10-12 2-11-5 1-6 14 3 13 10-1 10-12M4098 2549l7 14 13 0 9-13-2-12-7 1-2 14 9 13 13-2 7-15-3-11-7 4 0 15 10 11 13-5 6-15-5-9M4143 2577l-12 10 4 13 16 4 10-5-8-5-15 6-5 13 12 9M3979 2429l5 15 12 0 9-13-1-12-6 3-2 16 8 11 13-5 5-15-4-8-6 9 2 16 11 6 11-10"/><path id="he" d="M3911 2485l-1 17 14 7 14-10 2-10-10 3-6 16 9 12 16-4M3861 2827l-16 0-6 12 9 14 12 3 0-8-13-7-14 4-2 14 12 12 10-1-4-9-16-5-12 8 3 15M3865 2382l-8 13 6 9 14-1 10-9-4-6-13 5-7 13 6 8 15-2 9-9-5-5-13 6-7 13 8 8 15-3 8-9-7-5-13 7-5 13 9 7M3924 2787l-12 9 3 13 15 5 12-4-4-7-14 2-10 11 5 12 16 3"/><path id="hf" d="M4004 2620l-15-3-5 10 9 13 12 4 0-8-13-9-13 2 0 13 12 10 9 0-5-10-15-6-9 6 4 14 13 7M3789 2576l-13 7 0 11 13 6 13-2 0-6-13-1-13 7 1 11 13 6 13-2-1-6-13-2-13 7 1 11 13 7 13-2 0-7-14-1-12 7 0 11 14 6 12-2M3860 2640l-7 13 7 11 15 0 10-9-5-6-13 7-6 14 9 9 16-2 7-9-7-4-13 8-3 14 11 8 15-4 5-9-9-2M4134 2546l-11-9-8 4 2 14 6 11 3-2-5-13-11-8-7 5 1 15 7 10 3-4-7-12"/><path id="hg" d="M4106 2669l6-1 7-2 7-1 6 1 3 7 2 8 3 4 2 5 4 7 4 6M3942 2795l7-4 9-4 5 1 4 3 7 7 4 8-1 5-4 3-6 1-8-1-7 1-5 2M3839 2306l0 7-1 8-6 6-6 6-7 6-5 5M4007 2455l-5 4-4 6 3 8 5 8 7 7 6 6-3 5-4 6-1 8 0 6"/><path id="hh" d="M3865 2811l4 6 5 8 4 4 5 2 5 3 4 3-1 9-3 8-5 3-4 3-1 9-2 9-8 2-9 0-3 5-3 4-6 0-6-2M4005 2636l-3-7-4-10-3-8-2-8-3-9-2-9-1-8 0-7 6-7 5-8-2-9-3-9-3-11-1-8M3899 2542l-3-4-2-6 4-7 4-7-3-9-5-8-7-4-8-4-8-4-6-4-2-7 0-6M3864 2591l-3-5-1-7 6-6 9-6 5-4 5-2 6 1 5 0 4-7 2-8-2-5-5-3-7 2-7 4-4 7-2 5"/><path id="hi" d="M3808 2674l6-8 4-9-5-8-6-8-1-7 2-6 4-6 2-5-3-3-5-4-3-10 0-10 4-6 7-3 10 0 9-1 6-8 4-8M3943 2677l-8 3-10 4-7 6-6 5-6-4-6-6-8-1-8-1-7-7-6-7M3732 2548l-7-1-10 0-8-1-9 2-6 6-5 6M4026 2671l5-4 7-4 10 1 9 4 5 3 2 5 2 8 0 8-8 5-9 4"/><path id="hj" d="M3631 2627l-13 10 3 14 15 6 12-5-5-6-16 2-8 13 8 12 16 2 7-7-10-4M3949 2412l7 15 13 1 9-13-1-13-7 2-2 14 8 13 14-2 7-15-3-10-7 4 0 16 10 10 13-5 6-15M4042 2458l-2 14 7 4 11-8 6-12-5-2-8 12-2 13 8 3 11-10 5-11-5 0-8 12-1 13 9 1 11-10 3-11-6 1-7 13 0 12 9 0 11-10 2-11-6 3-7 13 1 11 9 0 11-12 2-9-7 3M3965 2778l-13 9 3 11 15 5 11-4-4-6-15 3-9 10 7 11 16 1 7-5-9-4-15 5-4 12"/><path id="hk" d="M3745 2638l0 15 10 4 11-10 3-12-5-2-7 12 1 14 10 3 10-10 3-12-6 0-6 12 1 14 11 1 10-11 2-11-7 1-6 13 3 13 11 0 10-11 1-11-7 2M3938 2748l-16 2-5 14 11 13 12 1-1-8-15-5-14 7 2 15 13 9 9-3M4090 2674l-10-12-13 2-6 16 4 11 6-5-3-16-12-8-12 8-2 16M4101 2663l-15-1-5 8 8 13 12 5 3-6-10-9-14-2-5 10 8 12 12 4 2-7-11-8-13-1-4 10 9 12 12 3 1-7-12-8-13 0"/><path id="hl" d="M3806 2615l7 13 11 0 6-15-3-12-6 3-1 15 9 11 11-5 3-15-4-9-6 7 2 16 10 7 10-9 1-16-6-4M3795 2494l4 14 10 2 9-12-1-13-6-1-5 13 5 14 10 1 8-13-1-13-6 0-4 13 4 14 11 0 8-12-1-13-7 1-4 13 5 13 11 0 7-13-1-12-7 1-3 13 5 13 11-1M3816 2745l-2 15 9 5 13-9 6-11-5 1-8 13 1 13 11 1 12-11 3-9-7 5-6 14 4 11 12-2 10-12 0-6-8 7-4 16M4152 2487l-14 3-3 10 12 10 12 2 1-5-14-4-13 3-1 11 12 9 12 1-2-5-14-4-13 5 1 11 13 8 11 1-3-6-15-3-12 6"/><path id="hm" d="M3744 2399l-11 9 2 12 15 5 12-4-3-6-14 2-10 10 5 11 15 4 10-5-4-6-15 4-8 11 6 10 16 3 9-6M3981 2841l-3 15 10 8 15-5 6-11-6-2-9 12 0 14 12 5 14-7 4-10-8 1-9 13 3 14 14 2M3834 2380l-14-5-10 9 4 14 11 8 6-7-7-11-15-5-8 10 4 14 11 7 5-7-7-12-15-3-8 10 6 14 11 6 4-8-9-11-14-3-7 11 6 14 11 5 3-8-9-12-14-1-6 11M4047 2602l2 14 9 1 8-13 1-12-6 3-3 15 4 11 10-4 6-15-2-8-6 8-1 16 7 7 9-10 4-14"/><path id="hn" d="M3939 2483l-9 12 6 11 15 1 11-7-4-5-13 6-7 13 7 10 16-1 9-7-5-4-13 7M4079 2547l0 16 11 7 14-7 5-12-7-2-9 11 2 15 13 6 13-9 3-11-8-1-8 13 3 15 14 3 13-10 0-11-8 2M4031 2680l-8 13 8 10 16-2 8-8-7-3-13 10-2 13 12 6 15-6M4066 2677l2 15 12 5 12-9 3-13-7-2-7 12 3 15 12 4 13-10 2-12-7-1-7 12 4 15 12 3 12-10 1-12-7-1"/><path id="ho" d="M4217 2691l-7 4-8 4-7 5-4 7 1 9 2 9-4 6-5 3-7-2-5-2M3969 2430l0-9 1-9 4-6 6-4 6-7 8-6 10-2 8-3 3-9 0-10-4-6-5-3M4239 2607l8 3 9 5 5 5 2 5 2 7-1 5-5 2-5 1M4037 2832l9 2 10 3 9 6 8 4 6-2 6-3 7 0 6 1 5-2 5-3 6 0 5-3 0-8-1-10 0-9 0-10-3-10-2-9-1-7 0-5"/><path id="hp" d="M4081 2619l-9 3-10 4-3 7-4 7-9 3-9 4-2 6-1 6-4 4-5 4-4 6-3 5M3975 2908l-4 6-3 8 1 5 1 5-3 5-5 2-7-1-8-3-6-3-5-3M4059 2371l2 8 1 10 1 9-2 8-5 3-6 0-6-1-5-1M3899 2453l-8-3-9-5-3-8-2-8-9-5-10-3-6 3-4 4 1 6 4 6 3 8 3 6"/><path id="hq" d="M3695 2612l-14 5 0 10 12 8 13-1 0-5-13-2-13 5-1 10 13 7 13 0 0-6M4070 2365l-14 3-2 10 11 9 13 1 2-6-13-5-14 3-2 10 11 9 13 1 2-6-12-6-15 3-2 10 11 10 13 0 2-6-12-5-14 3-3 10 11 9 13 1 2-6-12-5-14 3-3 10M3988 2415l-15-3-7 10 7 13 13 5 3-7-10-11-14-1-5 11 8 13 12 3 2-8-11-10-14 1-3 12 9 12 11 1 0-9-12-9-13 3-2 12 11 12 10-1-1-10M3946 2403l-12 8 1 11 14 5 13-2-1-5-13 0-12 8 1 11 14 5 12-3 0-5-13 1-13 8 2 10 13 6 13-3-1-5-13 0-12 9"/><path id="hr" d="M4019 2370l-7 14 7 8 15-4 9-8-6-1-12 10-3 13 11 4 15-6 4-7-9 3-11 12 2 11 14 1M3868 2834l-3 14 9 5 13-8 6-11-5 1-8 13 2 13 11 1 12-11 2-8-7 5-6 15 4 10 13-3 10-12-1-5-8 9-3 15M3979 2354l-14-6-9 7 3 15 11 8 5-6-7-12-14-5-8 10 5 14 11 6 3-8-9-11-14-3-5 11 6 15 10 3 2-9-11-11-13 0-4 12 8 13M3974 2640l-3 16 11 9 15-6 6-10-9-1-9 14 3 14 15 2 12-10-1-7-11 6-5 16"/><path id="hs" d="M3622 2690l6 12 6 3 4-10 2-14 1-9 2 4 4 12 6 12 6 1 4-10 1-14 1-8 3 5 4 12 6 11 6 1 4-11 1-14 1-7 3 5 4 13 6 11 6 0 4-12 1-13 1-7 3 6 4 13 7 10 5-1 4-11 1-14 1-6 3 7 5 13 6 10 5-2 4-12 1-14 1-4 3 7 5 13 6 9 5-2 4-13 1-13 1-4 3 8 5 13 6 9 6-4 3-13 1-13 1-3 3 9 5 13 7 8 5-5 3-13 1-12 1-3 3 10 6 13 6 7 5-5 3-14 1-12 1-1 3 10 6 13 6 6 5-6 2-14 1-11 2-1 3 11 6 13 6 5 5-6 2-15 1-11 2 1 4 11 5 13 6 4 5-7"/><path id="ht" d="M3945 2744l-15-4-8 11 5 15 11 6 2-7-12-10-14 0-5 13 9 14 9 2-2-10-14-8-13 5 0 15M3724 2658l-10-11-10 4-1 15 5 11 4-5-4-14-11-8-8 8 1 15 6 8 3-9-7-14-11-4-6 11 3 15 6 3M3715 2574l-8-12-8 2-3 15 4 11 5-3-2-14-9-10-7 5-1 15 4 10 4-6-4-15-8-8-7 8 0 16M3975 2455l-7-13-10 2-4 14 3 12 5-2 0-14-8-12-10 4-3 15 4 11 5-4-2-15-8-10-10 5-2 16 4 9 5-6-2-15-10-8-8 7-2 16 5 7 4-8-3-15"/><path id="hu" d="M4143 2551l-1 6-2 7-7 3-9 2-7 2-5 2-1 5-1 6-8 3-9 2-8 0-6-4-1-6 2-7 1-7 2-7 3-7 2-8-1-6-3-3M3813 2373l-6 2-5 3-1 4 2 6 4 9 3 10-4 8-5 7-5 4-4 4-2 8-1 7M4033 2593l5 3 5 2 6-1 4-1 4 5 4 5 8-3 9-5 9-7 7-4 6 4 6 6 10 2 9-1 4-3 3-5 6-4 6-4 7-3 6-2M4033 2680l-4-2-4-5-2-8-1-9 4-7 6-6 5-4 5-1 4 3 4 3 7-4 6-4"/><path id="hv" d="M3840 2719l-5 15 10 8 15-6 7-10-7 0-10 12 1 14 13 3M3567 2640l4 15 12 1 9-13 0-11-6 4-2 16 8 10 12-6 6-15-4-6-6 11M3920 2441l-14 8 2 11 16 5 11-5-5-6-16 1-8 10 8 10 15 1 7-7-11-4-15 5-3 11M3911 2333l-2 15 9 5 12-8 6-11-6-3-9 11-1 15 10 3 13-9 3-11-6-1-8 12 0 14 11 2 11-10 3-11-7 1"/><path id="hw" d="M4151 2375l-4-6-5-7-2-9-3-7-5-3-6 1-4 7-3 8M4218 2649l1 6 1 8 0 7-1 6-2 7-3 6-4 5-3 4 1 6 1 5-7 6-9 4-9-5-8-5-6 2-4 4M3774 2823l4-7 5-8 4-6 3-6 5-9 6-6 8 2 8 5 8 4 6 2M3893 2664l1 7 2 8 6 5 6 4 5 3 5 2 5-2 4-4-1-7 1-8 5-5 5-4"/><path id="hx" d="M4092 2560l5 3 5 5 4 5 2 5-4 7-5 8-1 6 1 6 5 4 6 4 4 7 3 6M3993 2377l9-2 11 0 8 5 8 4 6 0 5-4 1-6 2-6 5-1 7-1 7-3 6-1 3 5 2 6 1 5-1 6-4 8-5 8M4011 2772l2-3 3-5 2-8 1-8-2-7-2-6 4-6 5-4 6 2 6 5 4 6 3 5 3 7 4 5 7 0 7-3 6-6 7-6 8 4 7 6M4075 2808l-4-7-6-10-4-5-5-5-8-4-8-3-7-4-5-4-2-5-2-5-7-4-7-1-4 2-4 4-6 7-8 5-9 0-9-2-6 0-4 1"/><path id="hy" d="M3923 2487l7-3 9-1 9 5 8 5 10 1 8 2 4 5 4 5 7 0 7 2 5 8 5 8 9 2 8 2 4 4 2 5 2 9 2 8M3784 2524l3 8 2 10-4 7-6 5-4 5-1 5 4 7 6 7 6 6 5 3M4065 2534l-4 4-6 5-7 4-6 4-3 5 0 6 5 5 4 6-2 5-3 5 1 7 1 7-7 5-7 3M3695 2650l-3-4-3-5-3-7-2-8 2-7 1-7-5-6-5-7 3-6 3-5"/><path id="hz" d="M4091 2480l-12-8-6 6 4 14 8 9 3-4-8-12-12-6-5 7 5 15 9 7 1-6-9-12-11-4-4 9 6 14M4172 2709l-13-7-6 7 4 15 9 8 0-6-10-12-12-2-3 11 7 14 7 3-3-9M4175 2669l-7-14-10 2-6 15 4 11 6-4-1-16-10-9-9 7-2 16 5 7 4-10-4-16-10-3-8 12 1 14M4119 2589l-4 15 8 6 14-6 8-10-4-1-10 11-2 14 10 4 14-8 6-9-7 2-8 12 0 13"/><path id="hA" d="M3657 2611l-9-12-14 2-6 14 5 12 8-1 1-14-10-12-13 3-5 15 5 11 8-2 0-14-10-11-13 4-5 14 6 11M3813 2369l1 14 9 3 10-12 1-12-6 0-5 13 3 13 10 0 8-12 0-12-6 3-5 15 5 11 10-3 8-13-2-10-7 6-3 15 6 10 10-6 7-14M4002 2420l-7 14 8 9 15-4 8-10-7-5-13 9-3 14 11 6 14-7 4-10-10-1-11 11 1 13 13 3 13-9-1-9-11 3M3832 2669l-2 15 10 5 12-8 5-12-6-2-8 11 0 14 10 4 12-9 4-11-7-1-8 12 1 14 11 2 12-10 2-11-7 1-8 13 2 13 12 1 11-11 1-10"/><path id="hB" d="M4158 2712l-10-10-9 3-1 14 5 12 5-2-4-13-10-10-9 4-1 15 6 11 4-3-3-13-10-10-9 5-1 15 6 10 4-3-4-13-10-10M3944 2314l-14 8 0 14 14 9 12-3-1-9-14-2-12 10 2 14 14 7M3875 2445l-3 16 11 7 14-6 5-11-8-2-9 13 2 14 13 3 13-10M3635 2697l-16-1-8 11 7 15 12 4 3-8-12-9-15 2-4 14 9 13 11 1-1-9"/><path id="hC" d="M3815 2402l3 14 10 1 8-13 0-12-5 2-3 14 5 12 10-2 7-14-1-11-6 6-1 15 7 10 10-6 5-15-3-7-6 8 1 16 8 6 10-8M3995 2308l-15 1-3 9 10 10 13 3 1-5-12-6-14 1-2 9 11 10 12 3 0-6-12-5-14 1-2 10 12 9 12 3 0-6-13-5M3987 2357l-15-1-7 10 7 14 12 5 4-6-10-9-15-1-7 11 7 13 12 5 3-6M3747 2427l-3 15 11 8 14-7 5-12-9-4-10 11 1 15 12 5 13-9 2-12-10-1-9 13 3 14 14 2 12-11-1-10-11 2-7 14 6 13 14-1 10-12-4-9-11 6"/><path id="hD" d="M3977 2658l-5 5-6 5-8 0-7 0-4 7-5 6-6 3-6 0-6-2-3-5 2-6 4-7 5-4 5-2 5 4 3 6M3698 2614l-5-1-7-1-6 3-7 3-10-2-8-3-1-5 2-5 6-5 6-3M3776 2476l-9-3-9-5-1-6 1-7 2-7 3-5 6 0 5 1 2-6 2-8 9-5 9-4 5-5 3-5-1-9 0-8 7-7 7-5M3630 2765l-7-3-8-3-5-1-4-2-7-6-7-8-4-7-3-8 3-9 3-7"/><path id="hE" d="M3582 2790l6-5 8-5 6 2 7 4 9 2 7 0M3967 2868l7 6 7 6-1 6-4 5-9 0-10-2-5-6-5-7-8-4-9-3-9-4-8-5-1-7 0-6M3698 2684l4-6 6-5 7 1 6 5 0 7 0 8-1 6 1 6 6 8 8 6 9 2 8 0M4146 2459l1 7 3 8 8 3 11 2 9 0 7-2 6-7 5-8 9-5 8-3"/><path id="hF" d="M4023 2485l-16-1-7 12 6 14 13 4 4-7-10-10-16 0-6 12 8 14 12 3 3-8-11-9-15 1-5 13 8 13 12 2M3944 2830l-13-8-8 6 3 15 8 10 1-4-9-12-12-5-6 9 5 15M4197 2669l-15-4-8 8 5 14 10 8 3-4-9-10-14-4-8 9 5 15 10 7 3-4-9-10M3854 2653l-11-8-8 5 4 15 8 10 2-4-7-13-12-6-6 7 5 15 8 8 1-6-9-12-11-5-4 9 5 15 8 6-1-8-10-12-11-2"/><path id="hG" d="M4011 2465l-10-10-10 3-2 14 4 12 5-2-3-13-10-10-10 3-1 15 5 12 4-3-4-14-10-9-9 4-2 15 6 11 4-4-4-14-11-8M4077 2780l-8-13-12 3-5 15 3 11 5-5-3-15-10-9-11 8-2 16 6 7 3-10-6-15-12-3-8 12 1 15 6 1M4082 2621l-6 13 7 9 14-4 9-9-5-3-12 8-4 14 9 6 15-5 6-9-7-1-11 10-2 13 11 4 14-6 4-9-9 1-10 12 0 12 13 2M4087 2861l-12-9-9 6 1 15 6 11 3-4-8-12-12-7-7 8 2 15 7 9 0-6"/><path id="hH" d="M3807 2451l6 13 13 1 9-12-3-14-9 0-4 13 6 13 13 1 8-13-3-13-9 0-4 13 7 13 13 0 8-12-3-13-9 0-4 13M3903 2314l-15 1-5 10 9 12 13 4 1-6-12-7-14 2-4 10 10 12 12 3 0-6-13-7-13 3-2 11 10 11 11 2M4199 2544l-13 7 1 11 14 5 13-4-1-7-14-1-12 8 2 10 14 5 12-4-2-7-13-1-12 8 2 11 14 4 12-4-2-7-14-1-11 8 2 11M4033 2892l-12-10-10 6-1 16 7 10 2-6-8-14-13-5-7 12 4 16 6 3-2-11"/><path id="hI" d="M4039 2303l-6-3-8-3-6-4-6-3-5 2-6 3-10 1-9 2-2 7 1 9 6 8 5 6M3905 2514l-1-6-1-6-6-1-6 1-4 4-2 5M3943 2334l-6-2-8 0-7 3-5 6 1 8 3 8 3 5 4 4 1 6 3 5 7-1 9-1 5 3 5 4 5 5 4 4M4004 2874l6-5 7-6 4-5 4-3 7 2 5 5 0 4-2 7 0 10 2 9 4 6 6 2 9-3 9-4 7-1 6-2 1-8 0-7 6-2 5 1"/><path id="hJ" d="M3996 2378l3 6 3 8 5 5 5 5-1 6-1 6-2 7-2 5-3 5-4 5-1 9 0 8M3777 2871l-3-6-4-8-1-8 2-8 8-6 9-2 5 5 2 6M3833 2569l5-4 5-5 6-2 6-2 7-6 7-5 6 0 7 2 8 2 7 4 3 9 1 8M3969 2819l3 4 3 6 6 8 4 8-4 5-6 5-3 7-1 6 6 6 5 3"/><path id="hK" d="M3629 2620l-11-10-11 5-2 16 7 10 6-4-5-14-12-8-10 8 1 16 7 8 4-8-7-13-12-5-8 10 2 16 8 5 2-10-8-13M3736 2639l4 15 12 2 10-11-1-13-8-1-6 13 6 14 12 0 9-12-2-12-9 1-4 15 7 12 13-2 7-13-3-11-9 4-3 15 9 11 12-4M4106 2478l0 16 11 6 14-8 4-12-7 1-8 13 5 14 13 1 12-11-1-9M4109 2490l-16 1-5 14 9 13 12 2-1-8-15-6-14 6 1 16 13 9 8-3-8-9"/><path id="hL" d="M4127 2652l-1-4-2-7-3-7-4-5-4-4-5-2-8 3-5 6-1 8 0 8M3799 2739l-7-5-9-5-8-1-7 2-2 7 0 7M3802 2786l-8-3-9-2-6 2-5 4-3 5 0 5 4 5 5 3 7 1 5 0M4083 2483l5-4 7-5 7-5 8-4 8-2 9 0 9 1 8 2 7 0 5-2 2-5 0-5"/><path id="hM" d="M3765 2653l-3 4-4 6-1 9 1 8 4 4 4 4 0 6 2 6 8 3 10 1 9 1 8 0 9-2 8-1 7 2 6 3 9 1 7 1M3656 2685l4 2 7 0 6-5 6-5 6 1 7 3 10 5 7 6-1 7-2 8 3 7 3 6 1 8 2 6 6 2 7-1 6-3 5-4M3934 2424l3 8 5 8 7 5 7 3 4 5 4 3 6 1 7 1 5 3 5 3 9 2 9 3 6 6 5 7 7 2 7 1 8 2 7 3 1 5-1 5M3901 2781l-1-5 0-8 2-8 4-8 7-1 6-1 1-7 0-9-2-5-1-5 5-9 6-7"/><path id="hN" d="M3683 2599l-7 13 7 9 16-4 7-10-6-4-13 8-4 14 11 6 14-6 5-9-9-2-12 10-1 13 13 4M3626 2745l-13-7-8 6 3 14 8 10 3-3-7-12-13-6-7 7 4 15 8 9 2-5-9-11-12-5-6 8 4 14 8 8 1-5M3929 2664l-8-13-11 1-6 14 3 13 6-1 1-13-8-12-11 1-5 13 3 13 6-1M3653 2692l-10-10-9 3-1 15 6 11 4-2-4-13-10-10-8 5-1 14 6 11 4-3-4-13-11-9-8 5 1 15 6 10 3-4-5-13"/><path id="hO" d="M4020 2898l-5 5-5 6-4 5-1 6-1 7 1 6 4 5 5 1 6-2 6-3 3-6 3-5 5-4 4-3 6-6 5-6M3618 2725l3-5 6-4 7 0 7 1 4-4 4-4 9 1 9 4 5 3 3 3 1 5 3 5 6 6 5 7-1 9-3 6M3749 2602l3-6 5-7 8-4 7-5 3-8 0-9-5-8-7-6-6-1-5 1M3856 2490l-4-6-5-7-2-6-2-6 1-5 2-5 5-7 4-7 0-6-4-5-6 0-8 0-8-2-7 1-5 6-4 8-7 6-8 3-8-3-6-4"/><path id="hP" d="M4083 2645l-8-13-13 1-6 15 3 12 5-5-2-15-11-9-11 7-4 16 6 7M4056 2865l-15 2-5 11 9 12 13 2 2-8-12-7-14 3-3 12 10 11 13 1 0-8-13-7-14 4-1 13 11 10 12 0-1-9-14-5-13 5 0 13 12 9M4061 2621l-3 14 10 7 13-8 6-11-7-1-9 12 0 14 12 2 13-9 2-10-8 2M3895 2540l-12 11 2 13 16 5 11-6-4-7-15 2-9 12 7 12 16 2 8-8"/><path id="hQ" d="M4167 2495l5-4 5-5 2-8 2-7 6-1 6 2 7 2 6 4 6 6 4 6 1 5-2 5-9 3-9 1M4075 2571l-4-3-6-3-5-3-4-3-2-9 1-10 3-6 4-5 8-6 7-7-1-9-6-7-9 0-9 2-6 1-3 3 1 9 2 10-2 7-2 4M4106 2705l-1 5-2 5-5 3-7 1-5-5-6-3-8 4-7 8-6 6-4 4M3895 2828l-6-6-4-8 1-7 4-7 1-7 2-5 3-3 5-3 5-5 6-6 6-7 6-7 6-1 5-1"/><path id="hR" d="M3940 2473l1-8 0-9-3-6-4-4-6-5-6-5-4-3-5-2-6-2-8 0-9-2-9-2-7-4-5-3M3866 2714l8 0 9-1 6-6 5-7 7-3 6-3 6-7 5-8 0-9 2-7 6-4 7-3 1-7 2-5 9 1 7 1M3826 2847l-3-7-5-8-7-5-5-5 0-6 2-7 2-10 4-8 6-4 7-4 3-8 1-7-2-5-5-2-7 2-8 4-8 1-8-1-6-8-4-8M3901 2300l0 8 3 9 9 3 11-1 7-6 6-6 5-6 4-3 7 0 5 2"/><path id="hS" d="M4103 2691l-8 12 6 8 14-2 11-8-3-2-11 7-7 13 6 7 15-3 10-7-4-2M3821 2471l-15 4 1 9 13 8 12 1-5-5-17-1-9 7 8 10 15 5 4-3-11-3M4003 2905l-12-9-10 5-1 16 6 10 4-4-7-13-12-7-9 8 1 16 7 8 2-7-9-13-12-4-7 11 3 16 6 4M4117 2422l-14 7-1 14 12 9 13-1 1-8-13-4-14 7-1 14 13 9 13-2 0-8-13-4-14 8 0 13"/><path id="hT" d="M3743 2778l-5 4-6 3-5 3-6 1-7-1-7-1-7-2-7-3-6-2-6-2-10 2-8 2M3960 2727l-4 7-6 9-5 6-6 4-7 3-6 4 0 6 1 7-1 5 1 6 6 7 6 6M3796 2392l4 0 7 1 8 3 9 2 10 0 9-1 3-4-1-6-3-8-2-7 5-3 6-3 7-5 6-6 1-6 0-5M3685 2554l-5 3-4 4-2 8 2 8 9 3 10 3 2 8 2 9 5 8 5 6"/><path id="hU" d="M3870 2348l-13-9-11 6-1 15 8 10 7-4-4-14-12-8-11 7 0 16 9 9 6-6-5-14-13-6-10 8 1 16 9 7 5-7-6-14-13-4-9 9 2 16 10 6 4-9M4099 2715l-16 2-2 11 12 11 12 1-3-6-15-4-12 6 3 12 14 8 8-2-8-6-16-1-8 9M3829 2453l-14 3-1 10 12 7 13 1 0-4-14-3-13 4 0 9 13 7 12 1-1-5-14-3-13 5 1 9 14 7 11 0-2-5-15-2-12 5 3 10 13 6 11-1M4055 2814l5 15 13 3 10-12-1-13-10-1-5 13 5 14 14 1 9-13-3-12-9 1-5 14 7 13 14-2 8-13-4-11-10 3-3 14 8 12 14-3"/><path id="hV" d="M4029 2621l-14-7-8 7 2 15 9 9 2-5-9-12-14-4-6 10 6 15 8 6-1-9-12-11-12 0-3 13 7 14 7 1-4-10M4144 2383l-6 13 7 9 15-4 8-10-6-3-12 9-3 13 10 6 15-6 4-9-8-1-12 11 0 13 13 3 13-8 1-9-10 3-10 12M3680 2754l-14-7-10 7 1 16 9 9 6-5-5-12-14-6-10 7 2 15 9 9 6-4-6-13-14-6M4009 2711l-14 6-1 11 13 8 13-2-1-7-13-3-13 6 0 12 14 7 12-3-2-7-14-2-12 7 2 11 14 6 11-3-3-7-14-2-12 8 4 11 14 6 10-4-4-7-15-1-10 8 4 12"/><path id="hW" d="M3806 2774l-14 5-1 12 12 9 13-1 0-7-13-4-13 6-1 12 13 8 12-1 0-7-14-3-13 6 0 12 13 8 12-1-1-7-14-3-13 7M3655 2623l-8 13 7 11 15 0 10-8-4-5-13 5-7 14 9 10 15-1M4136 2436l-5 14 9 11 15-3 8-11-6-6-12 7-5 14 10 10 15-3 7-11-6-6-12 7-4 15 9 9 15-3M4041 2531l-14-5-6 8 6 14 11 6 2-6-11-11-13-1-3 10 9 13 9 3-1-8-13-9-12 1 1 13 10 11 8 0-5-10"/><path id="hX" d="M3932 2519l5 3 8 3 7-1 9-2 8 2 8 1 7-1 7-2 4 2 5 3 9 1 10 1 8 3 5 2M3914 2933l-3-7-5-8-4-6-4-6-5-7-5-6-5-2-5-1-7-5-6-6M3850 2431l5 0 5 0 6 4 5 3 6-2 7-3 7-2 6 1 5 4 5 5 7 0 6 0 4 6 2 7M3731 2437l8-1 8-1 7-3 3-4-1-6-2-6 4-4 6 0 6 5 7 7 10 5 7 4 2 7 0 5"/><path id="hY" d="M4044 2518l-9 13 6 13 16 3 10-8-5-7-13 5-7 14 9 12 16 0 8-9-8-5-13 7-5 14 11 11 16-2 5-9M3769 2598l-13-8-10 7 3 15 9 9 4-4-6-13-14-5-8 8 3 14 10 8 3-6-8-12-13-4-7 9 4 15 9 6 3-7-9-12-13-3M4059 2475l-11 12 5 12 16 2 10-8-5-7-15 4-7 13 8 10 16-1 7-9-9-5-14 7-3 13 11 8 15-3 3-9-11-3-13 9M3826 2549l-13 5 0 8 14 5 12-1 0-4-14-1-12 6 1 8 14 5 12-2-2-4-13 0-12 6 2 8 14 4 11-2-2-4"/><path id="hZ" d="M3712 2575l-5 15 10 10 15-3 8-10-7-3-11 9-2 15 12 7 15-5 4-10-9 0-10 12 2 14 14 4 13-8 1-9M4059 2465l-10-12-14 3-4 16 5 11 6-7-5-15-13-7-11 11 1 16 7 3 2-12-9-14M4161 2432l-9 12 5 10 16 1 10-7-6-2-13 7-6 13 11 7 16-3 5-6-10 0-13 11 0 12 15 3 13-5-1-5M4126 2612l-14-5-7 8 5 15 10 7 3-4-10-10-14-3-6 9 7 14 9 7 1-6-10-10-14-1"/><path id="ia" d="M3678 2790l8 1 9-2 3-8 2-10 5-7 6-7 5-8 2-8-2-9-3-6M4084 2693l-1 7-3 9-7 4-8 2-6-1-6-2-6-1-5-2-4-5-2-5 4-4 5-4 3-6-1-6-8-4-8-3-1-5 0-6-6-7-5-7M4075 2756l6-4 7-6 6-5 4-6 1-7 0-7 3-9 1-8-2-6-4-3-7 1-7 4-5 6-3 5M3948 2358l-8-3-9-5-8-4-7-3-6 1-6 4-8 4-7 5-8 7-7 5-5-2-5-3-3 4-3 4"/><path id="ib" d="M4136 2592l-14-4-7 8 7 14 10 6 1-6-11-10-13-1-3 11 9 13 9 3-2-8-14-9-11 2 0 13 11 12 7-1M4128 2466l-16 0-6 12 8 13 12 4 1-8-12-8-15 3-3 13 10 12 11 1M4200 2500l-14-5-9 8 5 15 10 8 3-6-9-12-15-3-6 11 7 15 9 4 1-8-11-11-14 1-3 12 8 14M4173 2450l-11-11-13 4-5 15 7 11 7-4-2-15-13-9-12 8-2 15 8 9 6-8-5-14-13-6"/><path id="ic" d="M3995 2686l-8-4-8-6-2-10 0-9 5-7 6-4 7-3 6-1M4047 2739l6-1 8 0 7-1 8-1 10-1 9-1M4062 2667l-4 4-6 5-5 5-3 7 1 9 2 8M3956 2696l4 2 6 1 6-3 5-4 6-7 5-9 1-7 0-7 5-5 5-2"/><path id="id" d="M4117 2545l-15 1-3 10 11 10 12 3-2-5-14-4-13 4 2 11 13 9 9 0-7-6-15-2M3987 2679l-15-4-7 8 6 15 10 7 2-6-10-10-14-2-5 11 7 13 10 5 0-6-12-10-13 0-3 12 9 13 9 3M4072 2567l-13-7-6 5 3 14 8 10 3-3-8-11-13-7-5 7 4 14 8 9 2-4-9-12-12-5-5 8 5 14 8 8 0-6-9-11-12-4-4 9 6 14"/><path id="ie" d="M4036 2643l-14 6-2 13 12 10 13 0 0-6-13-3-14 6-1 13M4006 2592l-15-1-3 9 10 11 12 5-1-5-14-5-13 1 0 10 12 11 9 2-3-5-15-5M4020 2671l-8 13 7 12 15 1 10-9-5-7-14 4-6 14 8 11 16-1 8-9-7-7-14 6-5 14 10 11 16-2 6-10-8-6-13 8-4 14M4072 2560l-15-3-8 10 6 15 11 6 3-6-10-10-15-1-6 11 6 14 11 5 2-7-11-9"/><path id="if" d="M4011 2713l-2-8-4-8-8-2-9 0-10-3-8-2-4 4-2 6-2 8-1 9 4 9 3 8M4136 2581l-2 6-2 7 0 9-1 8-9 5-9 2-5-1-5-4-7-2-8-4-6-9-4-8M4116 2487l6 7 6 8 2 9 2 9 3 5 5 2 8-5 8-5 9 3 9 3 6-4 5-3 7 7 6 7 10 3 7 0-6-1-7-2M4114 2631l-5 0-6 0-6-1-6-1-5-4-4-3"/><path id="ig" d="M4076 2475l0 15 11 8 14-7 4-12-7-4-9 10 0 15 12 7 14-8 4-12-8-3-9 11 1 15 13 5 13-8 3-12-9-2-8 12M4174 2539l-14 9 0 14 14 9 12-3-2-8-15 0-11 10 4 15 15 6M4086 2608l-13-6-9 8 4 14 11 8 5-5-8-11-14-5-7 8 4 15 11 7 4-6-8-11-14-4-7 9 5 14 11 6 3-6-9-11-13-3-7 9 6 14 10 6 3-7-9-11M3980 2680l1 16 13 6 14-9 2-12-8 1-7 14 7 14 15 0 10-12-3-9-9 7-2 17"/><path id="ih" d="M4218 2467l1 6 1 9 1 9-2 9-7 2-8 1-3 7 1 8 3 8 3 7M4032 2580l-1 9-3 10-7 6-8 3-7 0-7 0-9 0-8 2-7 6-5 6 3 7 4 7 1 9-1 7M4115 2720l-5 4-5 5 1 5 4 4 7 1 6-2 2-8 1-9 0-7-1-4"/><path id="ii" d="M4196 2546l-8 1-10 3-7 6-7 4-5-2-5-2-7 2-7 4-3 7-2 8-3 8-5 6-5 4-4 3-2 6 1 7 5 6 5 6 1 5 0 5M4175 2505l-1 6-1 8 3 6 2 6-4 5-6 3-6-6-6-6-7-2-5 1-6 4-4 6 3 6 4 7 3 9 3 7M4089 2538l1 4 0 6-4 4-6 4-6 5-6 2-8-4-9-7-7-5-6-3-8 4-5 5M4095 2551l-5-3-5-6 2-8 2-9-3-8-3-8-1-7 2-5 8-1 7-2 3-5-2-6-9-3-9-2"/><path id="ij" d="M4071 2598l5 6 6 9 2 6 3 5 5 7 7 7 8 4 5 5-1 9-5 6-9 0-8-3M4001 2721l0-7 1-8 4-7 3-7-5-4-7-4-5-6-3-5-1-8-1-6M4075 2495l1-8 4-10 8-5 9-4 7-5 4-5 1-7-2-7-9-3-9 0-7 3-4 5 1 6 5 6 9 2 8 3 3 8 1 8"/><path id="ik" d="M4216 2531l-14-5-10 9 4 15 11 7 2-7-10-12-15-1-5 13 8 14 9 2-2-11-13-9-13 4 0 15M4036 2598l-15-3-8 11 6 14 12 5 5-7-10-11-15-1-6 11 7 14 12 3 3-8-11-10-14 0-5 12 8 14 12 1 1-9-12-10M4096 2539l-14-3-5 8 8 13 11 6 0-5-13-9-13-1-1 10 10 13 9 3-3-7-14-8-11 2 2 12 11 11M4023 2572l4 14 10 1 7-13 0-13-5 1-3 14 5 13 10-1 7-14-1-11-6 2-2 15 6 12 10-3 6-14-1-11-6 5-1 15"/><path id="il" d="M4019 2681l4 15 13 3 11-11-1-13-8 0-6 14 7 13 13 0 9-13-2-11-9 3-3 15 8 12 14-4 6-14-4-9-9 7M4091 2498l-7 14 7 10 16-1 8-9-5-5-13 8-4 14 10 8 15-3 6-10-8-2-12 10-1 14 12 6 15-6 3-8"/><path id="im" d="M4014 2688l1-5 1-6 1-7 2-5 5-7 3-4M4108 2650l5 1 8 0 7 0 8 1 8 3 7 4 1 7-2 7M4220 2477l0-6-2-7-8-3-9-3-5-5-3-4-6 3-6 4-4-4-3-4-8-2-6-1M3929 2716l-1-6-2-7 1-7 1-3-3 6-3 10 0 9 2 8 5 7 5 5"/></defs>
</svg></body></html>
